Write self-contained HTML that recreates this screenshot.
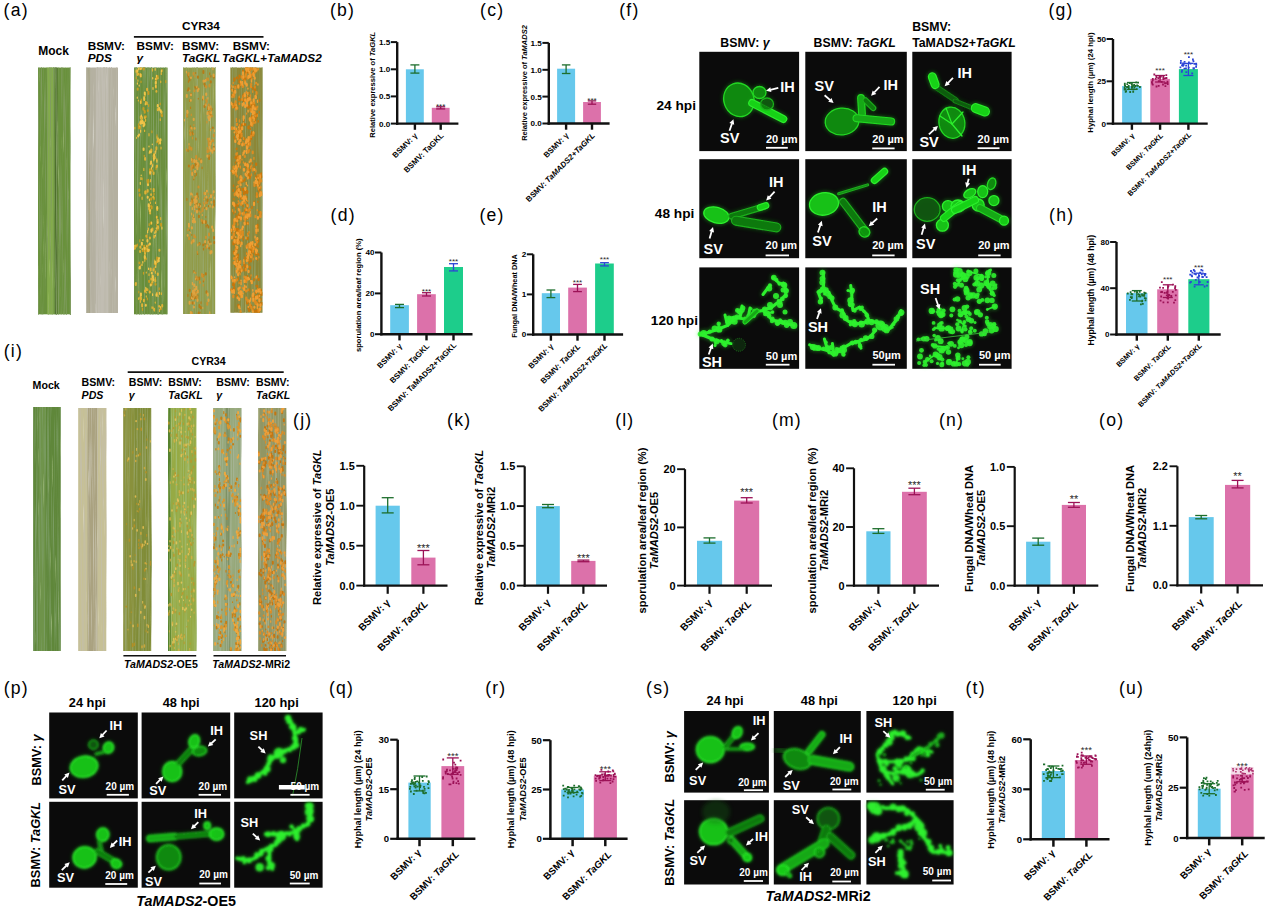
<!DOCTYPE html>
<html><head><meta charset="utf-8"><title>Figure</title>
<style>
html,body{margin:0;padding:0;background:#fff;}
body{width:1269px;height:911px;overflow:hidden;}
svg{display:block;font-family:"Liberation Sans",sans-serif;}
</style></head><body>
<svg width="1269" height="911" viewBox="0 0 1269 911">
<defs><filter id="lt1" x="0" y="0" width="1" height="1" filterUnits="objectBoundingBox"><feTurbulence type="fractalNoise" baseFrequency="1.2 0.012" numOctaves="2" seed="1"/><feColorMatrix type="matrix" values="0 0 0 0 0.216 0 0 0 0 0.333 0 0 0 0 0.118 3.40 0 0 0 -1.60"/></filter><filter id="lt2" x="0" y="0" width="1" height="1" filterUnits="objectBoundingBox"><feTurbulence type="fractalNoise" baseFrequency="1.4 0.02" numOctaves="2" seed="51"/><feColorMatrix type="matrix" values="0 0 0 0 0.627 0 0 0 0 0.765 0 0 0 0 0.373 2.60 0 0 0 -1.80"/></filter><filter id="lt3" x="0" y="0" width="1" height="1" filterUnits="objectBoundingBox"><feTurbulence type="fractalNoise" baseFrequency="2.2 0.006" numOctaves="2" seed="91"/><feColorMatrix type="matrix" values="0 0 0 0 0.216 0 0 0 0 0.333 0 0 0 0 0.118 2.40 0 0 0 -1.35"/></filter><filter id="lt4" x="0" y="0" width="1" height="1" filterUnits="objectBoundingBox"><feTurbulence type="fractalNoise" baseFrequency="1.2 0.012" numOctaves="2" seed="2"/><feColorMatrix type="matrix" values="0 0 0 0 0.490 0 0 0 0 0.471 0 0 0 0 0.392 3.40 0 0 0 -1.60"/></filter><filter id="lt5" x="0" y="0" width="1" height="1" filterUnits="objectBoundingBox"><feTurbulence type="fractalNoise" baseFrequency="1.4 0.02" numOctaves="2" seed="52"/><feColorMatrix type="matrix" values="0 0 0 0 0.863 0 0 0 0 0.855 0 0 0 0 0.816 2.60 0 0 0 -1.80"/></filter><filter id="lt6" x="0" y="0" width="1" height="1" filterUnits="objectBoundingBox"><feTurbulence type="fractalNoise" baseFrequency="2.2 0.006" numOctaves="2" seed="92"/><feColorMatrix type="matrix" values="0 0 0 0 0.490 0 0 0 0 0.471 0 0 0 0 0.392 2.40 0 0 0 -1.35"/></filter><filter id="lt7" x="0" y="0" width="1" height="1" filterUnits="objectBoundingBox"><feTurbulence type="fractalNoise" baseFrequency="1.2 0.012" numOctaves="2" seed="3"/><feColorMatrix type="matrix" values="0 0 0 0 0.227 0 0 0 0 0.353 0 0 0 0 0.129 3.40 0 0 0 -1.60"/></filter><filter id="lt8" x="0" y="0" width="1" height="1" filterUnits="objectBoundingBox"><feTurbulence type="fractalNoise" baseFrequency="1.4 0.02" numOctaves="2" seed="53"/><feColorMatrix type="matrix" values="0 0 0 0 0.608 0 0 0 0 0.745 0 0 0 0 0.373 2.60 0 0 0 -1.80"/></filter><filter id="lt9" x="0" y="0" width="1" height="1" filterUnits="objectBoundingBox"><feTurbulence type="fractalNoise" baseFrequency="2.2 0.006" numOctaves="2" seed="93"/><feColorMatrix type="matrix" values="0 0 0 0 0.227 0 0 0 0 0.353 0 0 0 0 0.129 2.40 0 0 0 -1.35"/></filter><clipPath id="lc10"><rect x="134.0" y="67.6" width="33.6" height="246.7"/></clipPath><filter id="lt11" x="0" y="0" width="1" height="1" filterUnits="objectBoundingBox"><feTurbulence type="fractalNoise" baseFrequency="1.2 0.012" numOctaves="2" seed="4"/><feColorMatrix type="matrix" values="0 0 0 0 0.314 0 0 0 0 0.392 0 0 0 0 0.157 3.40 0 0 0 -1.60"/></filter><filter id="lt12" x="0" y="0" width="1" height="1" filterUnits="objectBoundingBox"><feTurbulence type="fractalNoise" baseFrequency="1.4 0.02" numOctaves="2" seed="54"/><feColorMatrix type="matrix" values="0 0 0 0 0.725 0 0 0 0 0.765 0 0 0 0 0.451 2.60 0 0 0 -1.80"/></filter><filter id="lt13" x="0" y="0" width="1" height="1" filterUnits="objectBoundingBox"><feTurbulence type="fractalNoise" baseFrequency="2.2 0.006" numOctaves="2" seed="94"/><feColorMatrix type="matrix" values="0 0 0 0 0.314 0 0 0 0 0.392 0 0 0 0 0.157 2.40 0 0 0 -1.35"/></filter><clipPath id="lc14"><rect x="183.0" y="67.6" width="32.2" height="246.4"/></clipPath><filter id="lt15" x="0" y="0" width="1" height="1" filterUnits="objectBoundingBox"><feTurbulence type="fractalNoise" baseFrequency="1.2 0.012" numOctaves="2" seed="5"/><feColorMatrix type="matrix" values="0 0 0 0 0.275 0 0 0 0 0.333 0 0 0 0 0.118 3.40 0 0 0 -1.60"/></filter><filter id="lt16" x="0" y="0" width="1" height="1" filterUnits="objectBoundingBox"><feTurbulence type="fractalNoise" baseFrequency="1.4 0.02" numOctaves="2" seed="55"/><feColorMatrix type="matrix" values="0 0 0 0 0.725 0 0 0 0 0.745 0 0 0 0 0.431 2.60 0 0 0 -1.80"/></filter><filter id="lt17" x="0" y="0" width="1" height="1" filterUnits="objectBoundingBox"><feTurbulence type="fractalNoise" baseFrequency="2.2 0.006" numOctaves="2" seed="95"/><feColorMatrix type="matrix" values="0 0 0 0 0.275 0 0 0 0 0.333 0 0 0 0 0.118 2.40 0 0 0 -1.35"/></filter><clipPath id="lc18"><rect x="230.4" y="67.6" width="32.1" height="245.1"/></clipPath><filter id="lt19" x="0" y="0" width="1" height="1" filterUnits="objectBoundingBox"><feTurbulence type="fractalNoise" baseFrequency="1.2 0.012" numOctaves="2" seed="11"/><feColorMatrix type="matrix" values="0 0 0 0 0.196 0 0 0 0 0.333 0 0 0 0 0.125 3.40 0 0 0 -1.60"/></filter><filter id="lt20" x="0" y="0" width="1" height="1" filterUnits="objectBoundingBox"><feTurbulence type="fractalNoise" baseFrequency="1.4 0.02" numOctaves="2" seed="61"/><feColorMatrix type="matrix" values="0 0 0 0 0.627 0 0 0 0 0.745 0 0 0 0 0.431 2.60 0 0 0 -1.80"/></filter><filter id="lt21" x="0" y="0" width="1" height="1" filterUnits="objectBoundingBox"><feTurbulence type="fractalNoise" baseFrequency="2.2 0.006" numOctaves="2" seed="101"/><feColorMatrix type="matrix" values="0 0 0 0 0.196 0 0 0 0 0.333 0 0 0 0 0.125 2.40 0 0 0 -1.35"/></filter><filter id="lt22" x="0" y="0" width="1" height="1" filterUnits="objectBoundingBox"><feTurbulence type="fractalNoise" baseFrequency="1.2 0.012" numOctaves="2" seed="12"/><feColorMatrix type="matrix" values="0 0 0 0 0.549 0 0 0 0 0.518 0 0 0 0 0.392 3.40 0 0 0 -1.60"/></filter><filter id="lt23" x="0" y="0" width="1" height="1" filterUnits="objectBoundingBox"><feTurbulence type="fractalNoise" baseFrequency="1.4 0.02" numOctaves="2" seed="62"/><feColorMatrix type="matrix" values="0 0 0 0 0.882 0 0 0 0 0.863 0 0 0 0 0.765 2.60 0 0 0 -1.80"/></filter><filter id="lt24" x="0" y="0" width="1" height="1" filterUnits="objectBoundingBox"><feTurbulence type="fractalNoise" baseFrequency="2.2 0.006" numOctaves="2" seed="102"/><feColorMatrix type="matrix" values="0 0 0 0 0.549 0 0 0 0 0.518 0 0 0 0 0.392 2.40 0 0 0 -1.35"/></filter><filter id="lt25" x="0" y="0" width="1" height="1" filterUnits="objectBoundingBox"><feTurbulence type="fractalNoise" baseFrequency="1.2 0.012" numOctaves="2" seed="13"/><feColorMatrix type="matrix" values="0 0 0 0 0.314 0 0 0 0 0.373 0 0 0 0 0.137 3.40 0 0 0 -1.60"/></filter><filter id="lt26" x="0" y="0" width="1" height="1" filterUnits="objectBoundingBox"><feTurbulence type="fractalNoise" baseFrequency="1.4 0.02" numOctaves="2" seed="63"/><feColorMatrix type="matrix" values="0 0 0 0 0.706 0 0 0 0 0.725 0 0 0 0 0.353 2.60 0 0 0 -1.80"/></filter><filter id="lt27" x="0" y="0" width="1" height="1" filterUnits="objectBoundingBox"><feTurbulence type="fractalNoise" baseFrequency="2.2 0.006" numOctaves="2" seed="103"/><feColorMatrix type="matrix" values="0 0 0 0 0.314 0 0 0 0 0.373 0 0 0 0 0.137 2.40 0 0 0 -1.35"/></filter><clipPath id="lc28"><rect x="123.3" y="408.0" width="27.9" height="243.0"/></clipPath><filter id="lt29" x="0" y="0" width="1" height="1" filterUnits="objectBoundingBox"><feTurbulence type="fractalNoise" baseFrequency="1.2 0.012" numOctaves="2" seed="14"/><feColorMatrix type="matrix" values="0 0 0 0 0.353 0 0 0 0 0.490 0 0 0 0 0.157 3.40 0 0 0 -1.60"/></filter><filter id="lt30" x="0" y="0" width="1" height="1" filterUnits="objectBoundingBox"><feTurbulence type="fractalNoise" baseFrequency="1.4 0.02" numOctaves="2" seed="64"/><feColorMatrix type="matrix" values="0 0 0 0 0.745 0 0 0 0 0.784 0 0 0 0 0.392 2.60 0 0 0 -1.80"/></filter><filter id="lt31" x="0" y="0" width="1" height="1" filterUnits="objectBoundingBox"><feTurbulence type="fractalNoise" baseFrequency="2.2 0.006" numOctaves="2" seed="104"/><feColorMatrix type="matrix" values="0 0 0 0 0.353 0 0 0 0 0.490 0 0 0 0 0.157 2.40 0 0 0 -1.35"/></filter><clipPath id="lc32"><rect x="168.0" y="408.0" width="28.3" height="243.0"/></clipPath><filter id="lt33" x="0" y="0" width="1" height="1" filterUnits="objectBoundingBox"><feTurbulence type="fractalNoise" baseFrequency="1.2 0.012" numOctaves="2" seed="15"/><feColorMatrix type="matrix" values="0 0 0 0 0.373 0 0 0 0 0.451 0 0 0 0 0.294 3.40 0 0 0 -1.60"/></filter><filter id="lt34" x="0" y="0" width="1" height="1" filterUnits="objectBoundingBox"><feTurbulence type="fractalNoise" baseFrequency="1.4 0.02" numOctaves="2" seed="65"/><feColorMatrix type="matrix" values="0 0 0 0 0.765 0 0 0 0 0.804 0 0 0 0 0.667 2.60 0 0 0 -1.80"/></filter><filter id="lt35" x="0" y="0" width="1" height="1" filterUnits="objectBoundingBox"><feTurbulence type="fractalNoise" baseFrequency="2.2 0.006" numOctaves="2" seed="105"/><feColorMatrix type="matrix" values="0 0 0 0 0.373 0 0 0 0 0.451 0 0 0 0 0.294 2.40 0 0 0 -1.35"/></filter><clipPath id="lc36"><rect x="213.1" y="408.0" width="28.1" height="243.0"/></clipPath><filter id="lt37" x="0" y="0" width="1" height="1" filterUnits="objectBoundingBox"><feTurbulence type="fractalNoise" baseFrequency="1.2 0.012" numOctaves="2" seed="16"/><feColorMatrix type="matrix" values="0 0 0 0 0.373 0 0 0 0 0.412 0 0 0 0 0.235 3.40 0 0 0 -1.60"/></filter><filter id="lt38" x="0" y="0" width="1" height="1" filterUnits="objectBoundingBox"><feTurbulence type="fractalNoise" baseFrequency="1.4 0.02" numOctaves="2" seed="66"/><feColorMatrix type="matrix" values="0 0 0 0 0.745 0 0 0 0 0.765 0 0 0 0 0.549 2.60 0 0 0 -1.80"/></filter><filter id="lt39" x="0" y="0" width="1" height="1" filterUnits="objectBoundingBox"><feTurbulence type="fractalNoise" baseFrequency="2.2 0.006" numOctaves="2" seed="106"/><feColorMatrix type="matrix" values="0 0 0 0 0.373 0 0 0 0 0.412 0 0 0 0 0.235 2.40 0 0 0 -1.35"/></filter><clipPath id="lc40"><rect x="258.0" y="408.0" width="28.1" height="243.0"/></clipPath><filter id="soft" x="-20%" y="-20%" width="140%" height="140%"><feGaussianBlur stdDeviation="0.75"/></filter><filter id="glow" x="-50%" y="-50%" width="200%" height="200%"><feGaussianBlur stdDeviation="2.2"/></filter><filter id="soft2" x="-20%" y="-20%" width="140%" height="140%"><feGaussianBlur stdDeviation="1.1"/></filter></defs>
<rect x="38.0" y="67.6" width="32.5" height="246.7" fill="rgb(105,145,60)"/>
<rect x="47.1" y="67.6" width="6.5" height="246.7" fill="rgb(140,180,80)" opacity="0.75"/>
<rect x="54.9" y="67.6" width="2.6" height="246.7" fill="rgb(65,95,38)" opacity="0.7"/>
<rect x="38.0" y="67.6" width="32.5" height="246.7" filter="url(#lt1)"/>
<rect x="38.0" y="67.6" width="32.5" height="246.7" filter="url(#lt2)"/>
<rect x="38.0" y="67.6" width="32.5" height="246.7" filter="url(#lt3)"/>
<rect x="86.3" y="67.6" width="31.7" height="245.4" fill="rgb(180,176,160)"/>
<rect x="86.3" y="67.6" width="3.8" height="245.4" fill="rgb(160,158,125)" opacity="0.6"/>
<rect x="95.8" y="67.6" width="12.7" height="245.4" fill="rgb(198,195,185)" opacity="0.7"/>
<rect x="86.3" y="67.6" width="31.7" height="245.4" filter="url(#lt4)"/>
<rect x="86.3" y="67.6" width="31.7" height="245.4" filter="url(#lt5)"/>
<rect x="86.3" y="67.6" width="31.7" height="245.4" filter="url(#lt6)"/>
<rect x="134.0" y="67.6" width="33.6" height="246.7" fill="rgb(105,142,58)"/>
<rect x="134.0" y="67.6" width="33.6" height="246.7" filter="url(#lt7)"/>
<rect x="134.0" y="67.6" width="33.6" height="246.7" filter="url(#lt8)"/>
<rect x="134.0" y="67.6" width="33.6" height="246.7" filter="url(#lt9)"/>
<g clip-path="url(#lc10)">
<path d="M141.3 99.1v1.6M144.7 115.9v1.1M144.6 111.2v1.2M142.5 308.1v2.2M138.5 123.9v1.4M138.8 291.4v1.4M146.2 258.2v1.4M150.0 199.0v1.5M146.8 245.0v1.7M160.2 103.2v1.5M149.2 223.7v1.8M143.3 123.9v1.4M140.8 117.6v0.7M151.9 130.9v1.8M161.2 114.3v1.2M148.5 179.3v1.5M147.1 179.7v1.6M148.2 245.0v1.0M149.9 151.0v0.9M162.0 69.3v2.0M157.7 292.8v2.0M156.8 141.3v1.3M157.0 134.9v1.2M158.5 142.1v2.0M147.3 298.0v1.8M145.8 304.1v0.8M165.8 80.5v2.1M155.3 271.2v1.4M154.2 267.4v2.2M151.0 205.1v1.7M143.5 272.4v1.7M156.5 224.0v1.4M158.3 225.9v0.8M137.4 244.2v1.9M142.3 178.0v1.6M139.8 239.9v1.9M144.3 155.4v1.0M153.7 153.6v0.8M140.7 101.6v0.7M154.0 193.1v1.9M146.5 246.6v1.6M147.9 246.6v1.6M140.5 265.1v0.9M156.1 167.3v2.2M154.2 154.6v2.0M148.7 104.6v2.0M146.6 102.6v1.8M159.1 287.8v2.0M148.0 289.1v1.3M141.0 81.2v1.4M136.3 77.0v1.7" stroke="rgb(200,156,33)" stroke-width="1.2" stroke-linecap="round" fill="none"/>
<path d="M140.8 101.6v1.5M148.4 91.8v2.1M151.7 282.9v1.6M138.9 126.3v1.9M161.1 223.8v1.9M144.9 257.3v1.2M151.2 198.2v1.3M148.4 250.3v0.8M146.7 235.6v2.0M156.8 216.4v1.4M140.0 126.5v1.7M142.8 250.1v1.0M144.2 245.7v1.9M162.0 115.1v1.1M147.8 181.9v1.2M148.4 181.0v1.3M150.2 172.5v1.8M150.0 169.2v2.1M152.2 170.2v0.7M157.6 75.9v1.5M155.5 283.9v0.9M160.9 308.0v1.2M151.7 206.4v2.1M157.7 228.5v1.2M141.0 294.4v1.0M140.6 297.9v1.6M156.0 262.5v2.2M135.8 245.8v1.2M145.7 191.3v1.9M156.3 78.2v1.9M137.7 88.6v1.1M154.0 197.9v1.0M146.0 249.9v1.7M139.4 262.6v0.6M157.1 257.6v2.1M154.8 263.5v0.6M143.8 67.8v1.7M140.9 67.9v1.4M140.2 73.9v1.7M139.7 194.3v1.4M139.2 189.5v1.5M150.9 222.4v1.3M144.7 111.1v1.7M147.8 110.3v0.7M145.8 116.3v0.7M143.5 108.1v1.7M149.1 280.7v1.2" stroke="rgb(200,156,33)" stroke-width="2.0" stroke-linecap="round" fill="none"/>
<path d="M145.1 94.1v2.0M142.4 116.8v2.2M145.5 119.3v1.7M145.6 119.3v2.0M155.3 277.7v2.1M139.6 126.1v0.8M160.7 217.7v1.9M155.9 81.2v1.2M136.0 282.6v1.0M144.8 259.1v2.2M150.4 202.2v1.3M144.6 252.7v0.6M144.6 130.1v1.3M155.5 202.1v1.3M146.1 235.3v1.3M136.5 137.4v0.9M134.8 127.3v1.5M161.0 147.2v1.7M157.5 140.4v1.6M157.0 136.5v1.7M144.4 250.7v0.8M149.0 133.7v2.1M160.3 118.8v1.6M150.5 179.7v2.0M148.7 244.2v1.2M149.3 152.0v1.5M150.4 162.9v1.6M158.1 295.8v0.8M158.2 138.0v1.4M149.9 291.6v1.1M146.3 295.9v1.2M146.2 292.2v0.8M159.5 309.3v2.1M160.7 81.0v1.6M161.3 72.7v1.7M158.1 77.9v0.6M155.4 271.3v1.9M146.3 272.1v0.9M141.3 297.5v2.2M140.4 300.6v1.7M138.5 297.8v1.5M153.1 307.0v1.3M155.3 302.0v1.1M152.0 306.8v1.5M154.3 309.5v1.6M136.0 244.8v1.4M143.8 168.4v2.0M156.8 158.8v2.1M138.4 100.1v0.8M150.9 188.5v0.8M154.7 260.1v1.1M140.7 75.8v0.8M157.3 165.3v1.1M155.8 150.3v1.6M142.1 197.2v2.1M152.7 164.0v2.0M148.4 228.1v2.0M141.3 119.9v1.3M152.5 68.8v2.2M147.2 102.4v2.0M149.0 273.8v1.6M161.4 292.8v1.6M156.8 292.4v2.0M137.9 79.9v1.4M138.6 73.4v1.3" stroke="rgb(222,178,55)" stroke-width="1.2" stroke-linecap="round" fill="none"/>
<path d="M145.9 102.1v1.7M147.1 88.8v1.5M144.1 122.8v0.7M152.4 281.7v0.6M143.9 299.8v1.5M142.1 304.2v2.0M158.1 226.7v1.3M157.7 226.2v1.5M157.6 219.7v2.0M135.8 283.3v1.8M149.2 205.6v1.3M153.3 196.8v0.8M157.2 208.1v1.9M157.9 138.4v0.8M158.8 139.6v1.5M145.0 253.0v1.0M144.4 247.9v1.3M141.6 120.3v2.1M144.9 117.3v0.6M149.9 237.5v1.0M151.3 149.5v2.1M155.3 279.9v1.6M159.7 140.0v0.7M162.2 305.0v1.4M159.1 305.9v0.6M157.8 273.6v1.4M153.5 269.3v1.3M150.1 212.7v0.7M149.6 209.5v1.6M149.1 208.0v1.3M140.3 297.3v1.5M136.4 70.5v1.6M159.4 249.7v1.0M157.4 261.1v0.8M154.1 308.7v1.1M134.8 247.9v0.8M147.7 190.1v1.7M145.3 191.6v2.0M140.1 251.1v1.0M140.4 246.5v1.2M145.1 158.1v1.6M155.9 85.8v1.6M156.4 91.1v0.7M154.2 236.1v1.4M155.8 231.0v0.9M154.9 157.0v1.2M153.7 189.1v2.2M151.1 194.3v0.8M147.2 248.4v0.9M149.1 249.8v0.8M140.8 74.6v1.9M153.6 172.6v1.4M156.7 165.8v1.4M153.7 155.6v1.3M156.4 147.2v2.0M152.4 228.4v1.9M140.8 116.4v1.9M141.9 120.3v1.6M140.5 121.4v1.8M161.6 111.8v1.2M157.8 109.0v1.2M156.6 78.3v0.7M150.7 268.5v1.9M151.3 278.6v1.2M146.9 288.9v1.4M149.7 291.5v0.9M145.0 290.6v1.1M137.5 73.2v1.9" stroke="rgb(222,178,55)" stroke-width="2.0" stroke-linecap="round" fill="none"/>
<path d="M140.7 101.2v2.1M144.1 96.4v1.7M145.3 103.7v1.1M143.9 121.5v2.1M152.2 275.2v1.6M140.2 122.2v2.0M140.6 130.2v2.0M161.9 227.1v2.0M156.5 75.4v1.4M152.7 77.7v1.1M149.4 199.1v1.6M146.9 245.6v0.8M156.7 216.5v1.4M147.6 230.7v2.0M142.2 248.6v0.9M152.3 144.0v0.6M149.0 146.1v0.7M151.5 167.7v1.3M161.4 70.7v1.0M161.7 70.0v1.5M152.6 293.9v1.6M160.3 306.5v1.5M155.7 265.9v1.5M148.6 268.1v1.3M156.3 227.8v1.1M134.8 245.3v1.3M141.2 175.0v0.7M140.3 182.4v1.9M141.0 177.6v2.0M142.9 239.5v1.0M155.5 78.6v1.0M155.6 85.5v1.5M153.0 87.6v1.7M154.9 232.0v1.5M155.4 235.0v1.1M137.3 97.2v1.0M139.2 85.1v1.0M142.8 261.6v1.3M139.2 267.2v1.5M142.0 264.0v1.4M141.7 68.2v0.7M140.5 67.9v1.4M155.2 151.4v2.1M156.9 160.0v2.2M153.8 159.7v1.1M152.5 165.4v1.5M151.6 222.0v1.9M141.4 115.1v1.6M155.2 68.5v1.7M159.5 292.3v1.9M145.8 287.3v1.9M137.4 82.9v1.2M140.6 74.2v2.2" stroke="rgb(240,196,73)" stroke-width="1.2" stroke-linecap="round" fill="none"/>
<path d="M144.2 98.0v2.1M144.8 92.4v1.8M153.2 278.9v1.3M152.9 276.0v1.8M157.7 222.3v0.7M147.4 239.9v1.5M148.1 249.8v1.5M144.4 123.9v1.0M142.4 121.1v2.1M143.6 125.5v0.8M157.8 105.1v1.5M159.2 108.0v1.7M157.2 207.1v1.7M139.1 134.5v0.6M138.3 135.8v0.8M144.8 256.1v1.9M141.0 121.7v1.6M148.0 184.2v1.0M149.9 243.4v1.0M150.0 151.3v0.9M150.8 151.8v0.7M150.2 172.0v0.9M151.1 161.5v2.1M160.1 142.3v1.3M160.5 139.3v1.2M145.8 305.0v0.7M155.2 261.8v1.2M150.1 210.2v0.8M148.7 204.2v2.0M140.9 293.6v2.1M138.7 67.9v1.4M137.4 70.4v1.1M158.7 259.5v1.8M159.0 257.9v0.7M147.7 196.7v1.1M141.9 242.8v1.9M143.6 148.4v1.6M155.8 81.9v1.8M151.4 229.6v2.1M144.7 247.7v1.0M139.9 266.8v1.6M155.5 262.9v0.8M153.9 158.1v0.9M154.3 154.4v1.6M160.7 110.3v1.4M151.8 272.8v0.7M150.8 284.4v1.1M156.5 294.2v1.6" stroke="rgb(240,196,73)" stroke-width="2.0" stroke-linecap="round" fill="none"/>
</g>
<rect x="183.0" y="67.6" width="32.2" height="246.4" fill="rgb(145,155,72)"/>
<rect x="183.0" y="67.6" width="32.2" height="246.4" filter="url(#lt11)"/>
<rect x="183.0" y="67.6" width="32.2" height="246.4" filter="url(#lt12)"/>
<rect x="183.0" y="67.6" width="32.2" height="246.4" filter="url(#lt13)"/>
<g clip-path="url(#lc14)">
<path d="M190.5 107.1v1.4M191.7 234.5v0.7M187.5 89.8v1.1M209.2 141.2v0.7M203.4 280.3v1.6M211.2 113.3v1.2M200.9 158.8v1.6M202.1 167.0v1.6M192.5 295.3v1.2M193.7 290.8v1.9M196.4 163.7v1.1M196.4 173.2v2.1M209.9 241.7v1.0M186.9 198.3v2.0M201.0 301.8v1.7M200.1 312.2v0.6M192.9 158.8v0.6M193.7 166.7v1.2M192.0 172.6v1.7M210.4 129.1v1.4M209.0 239.0v2.1M206.1 225.1v1.9M207.5 224.6v0.8M190.4 125.8v2.2M192.0 132.1v0.8M190.1 132.0v1.4M191.8 198.0v1.1M197.3 86.9v1.9M198.3 98.3v0.6M195.8 87.7v1.4M194.9 86.3v1.3M205.8 216.6v0.7M187.6 116.3v0.7M193.8 292.9v2.1M195.9 294.3v1.6M205.9 80.3v0.6M204.8 85.1v1.4M209.1 156.2v0.7M194.5 297.1v1.7M194.3 294.0v0.8M193.7 216.9v1.2M208.5 205.5v1.2M207.2 202.0v1.1M210.6 194.3v1.4M204.4 198.6v1.3M204.8 207.7v0.8M210.9 75.5v1.6M209.7 72.8v1.8M191.9 312.0v1.5M212.0 108.6v1.5M198.0 195.9v2.1M197.7 253.5v0.9M187.9 294.4v1.9M193.7 179.0v0.8M194.9 175.6v0.9M189.5 229.8v0.8M188.5 80.8v1.4M188.5 76.2v1.1M188.1 149.5v1.9M190.0 146.3v1.9M198.3 290.3v1.1M197.8 294.9v1.4M207.7 108.1v1.3M211.3 111.3v0.6M192.6 131.8v2.0M192.8 133.7v1.3M192.4 132.6v0.9M195.9 138.0v2.0M202.7 98.3v1.6M193.9 270.6v1.8M195.7 72.7v0.6M205.0 242.2v2.0M203.5 248.1v1.9M206.2 246.4v1.7" stroke="rgb(183,123,23)" stroke-width="1.2" stroke-linecap="round" fill="none"/>
<path d="M191.0 94.1v1.5M189.9 100.2v0.9M188.6 88.2v1.7M189.5 78.8v1.6M192.9 165.6v2.1M203.4 275.0v0.9M205.8 273.3v1.1M210.0 112.1v1.9M210.1 113.7v2.0M206.5 291.2v1.7M195.6 163.6v2.1M209.2 247.9v0.7M200.8 307.0v1.4M198.7 312.6v0.8M199.5 305.1v1.9M212.8 127.4v0.6M205.8 221.3v1.7M213.9 201.0v1.8M195.6 204.0v1.4M199.1 208.4v1.5M202.6 220.7v2.2M199.7 203.9v1.8M194.7 197.6v1.0M196.6 201.9v1.9M203.4 71.0v1.9M214.2 149.9v0.7M209.4 155.4v1.0M191.3 297.1v1.6M191.9 293.5v1.8M198.9 215.8v1.4M207.6 199.5v1.4M196.8 277.6v2.0M199.3 277.5v1.7M209.1 157.0v2.1M213.8 75.7v1.7M210.8 81.3v1.3M192.8 302.3v1.4M191.7 312.6v0.7M208.6 111.8v0.7M208.2 107.3v0.8M197.2 193.6v1.2M196.4 206.8v0.9M199.6 243.1v1.4M189.7 289.8v1.2M213.7 146.8v1.2M211.2 141.7v0.7M210.5 149.4v0.8M192.4 172.8v1.7M188.9 165.5v0.9M214.1 204.5v1.3M214.0 237.1v1.4M208.4 226.2v1.4M214.3 242.0v1.1M188.0 74.6v0.8M196.1 296.6v1.7M204.5 105.8v1.1M204.4 83.8v0.6M197.9 76.5v1.2M192.3 200.1v1.9M203.3 244.4v1.2" stroke="rgb(183,123,23)" stroke-width="2.0" stroke-linecap="round" fill="none"/>
<path d="M207.2 147.6v1.2M208.2 138.3v0.8M207.5 138.3v1.4M192.1 171.7v1.1M204.0 279.9v0.7M204.1 278.3v2.0M203.3 284.5v1.5M206.9 121.3v1.6M192.9 287.5v1.5M211.5 250.5v1.2M192.6 164.5v1.8M193.9 124.5v0.8M189.9 130.2v1.3M213.1 193.6v1.8M192.9 195.9v1.1M203.2 206.7v1.1M201.0 211.4v1.5M203.4 202.1v0.9M199.1 210.7v1.1M191.3 114.0v1.5M187.7 113.4v0.6M196.6 286.3v1.7M194.8 199.5v0.8M198.6 198.0v1.1M203.3 80.5v1.7M210.1 145.4v0.7M208.2 193.3v1.2M207.2 202.3v0.8M204.7 197.2v2.0M204.1 203.7v1.0M209.1 155.4v0.7M196.9 206.9v0.9M196.5 206.9v1.1M195.5 200.6v0.7M199.1 243.1v1.5M197.3 251.4v1.7M191.2 302.2v1.3M212.0 139.0v2.0M194.0 176.9v1.5M187.8 229.0v1.7M188.3 228.6v1.2M186.5 148.8v2.0M209.4 116.5v0.9M211.3 108.5v2.0M193.7 133.5v0.8M192.2 128.2v1.8M192.5 137.3v1.5M206.2 99.4v1.5M195.7 272.4v1.1M195.6 279.0v0.9M206.7 77.9v2.1M206.6 86.3v0.8M194.9 75.3v1.8M194.8 210.1v1.5M209.4 197.3v1.1M206.1 247.3v1.3" stroke="rgb(205,145,45)" stroke-width="1.2" stroke-linecap="round" fill="none"/>
<path d="M194.4 90.4v0.9M194.3 235.3v1.6M192.4 240.6v1.9M195.2 236.7v0.9M208.7 140.8v1.5M191.4 168.7v1.0M200.0 281.7v1.4M202.0 274.0v2.1M202.7 275.0v2.1M211.9 115.8v0.8M201.2 161.5v1.0M199.1 158.6v1.0M207.3 302.7v2.0M198.5 164.3v2.1M191.6 201.0v2.1M196.2 156.1v1.8M191.5 166.3v1.8M213.7 134.6v2.0M209.0 233.4v2.2M205.9 236.8v1.2M190.5 132.9v2.1M201.7 219.9v1.0M186.9 114.8v1.8M198.5 186.4v1.2M202.5 208.8v2.1M205.8 202.3v1.1M204.4 192.7v1.4M196.4 276.5v1.5M197.7 278.5v1.2M207.5 150.4v1.9M208.9 143.3v2.1M210.7 107.4v1.4M209.7 108.0v1.6M208.7 104.6v2.2M213.1 140.0v1.2M208.8 150.1v1.4M192.2 160.1v1.8M189.1 237.5v1.8M188.6 73.0v2.1M191.4 148.1v1.7M189.5 146.8v2.1M196.0 292.1v1.1M197.2 296.6v1.3M193.9 296.6v0.8M209.4 111.9v2.1M205.6 104.0v0.9M206.6 100.1v2.1M209.5 84.7v1.7M206.1 86.0v1.5M208.1 78.4v1.7M193.6 73.1v1.4M195.2 202.0v1.6M195.6 202.1v1.5M207.3 245.1v0.7" stroke="rgb(205,145,45)" stroke-width="2.0" stroke-linecap="round" fill="none"/>
<path d="M189.8 90.0v0.9M191.3 241.8v2.0M211.1 140.5v1.6M209.2 118.5v1.4M192.9 294.1v1.7M209.7 311.9v1.8M195.6 170.7v1.0M196.0 166.7v1.3M209.7 243.5v1.4M211.1 243.0v1.1M208.1 241.3v2.0M190.7 193.1v1.9M191.6 193.0v1.6M202.8 307.5v0.7M191.5 158.7v1.6M210.6 129.0v1.7M214.4 129.8v1.8M214.2 197.2v1.6M196.9 205.2v2.2M196.0 204.7v1.5M192.3 207.7v1.9M196.8 86.2v1.5M202.3 214.5v1.0M200.6 205.7v1.1M204.6 204.9v1.0M184.5 119.4v1.4M187.8 111.9v1.2M196.7 195.5v2.0M213.3 147.9v2.0M191.5 297.0v1.6M194.3 302.0v1.9M194.9 294.5v1.6M192.4 282.4v2.0M192.9 217.5v1.6M193.4 214.8v1.7M193.9 221.3v1.8M191.6 213.0v1.8M195.5 278.4v1.1M212.9 67.6v2.1M192.0 312.5v1.1M210.8 105.9v1.4M198.7 203.8v1.8M192.3 194.0v0.9M197.7 244.2v1.6M192.9 283.7v1.2M209.2 138.0v1.9M210.5 143.3v1.8M213.7 143.8v1.8M210.1 205.0v2.1M190.3 232.3v0.7M186.5 71.3v1.5M189.0 143.5v1.4M196.1 293.2v2.1M206.0 104.5v1.3M207.9 97.5v1.5M203.4 97.4v1.9M194.2 272.0v1.0M203.3 80.0v1.9M194.4 208.7v1.0M204.2 199.2v0.9M205.3 240.8v0.7" stroke="rgb(223,163,63)" stroke-width="1.2" stroke-linecap="round" fill="none"/>
<path d="M190.8 100.1v0.7M191.0 94.6v0.6M193.7 240.1v1.4M191.0 77.4v0.6M186.8 94.9v2.0M192.2 173.0v1.9M207.5 112.2v2.1M210.1 116.2v1.2M209.3 118.8v1.4M201.3 160.5v1.4M194.3 284.4v1.6M193.0 290.7v2.2M194.8 289.2v1.1M208.5 299.4v1.7M207.7 293.5v2.0M197.7 163.1v1.2M196.4 160.5v2.0M197.2 165.5v0.6M197.4 167.7v1.6M211.5 251.3v1.5M207.3 245.6v1.1M190.4 203.0v1.9M194.3 160.0v1.9M193.7 118.8v1.2M191.4 127.7v0.9M211.0 195.2v2.1M213.7 191.2v1.0M195.4 196.6v1.8M194.3 199.7v0.7M198.5 88.7v0.7M197.7 89.9v1.4M204.1 221.0v1.8M187.3 110.7v2.0M196.3 286.8v2.1M196.6 200.3v1.8M195.0 199.8v0.8M210.7 149.6v1.2M210.4 142.6v1.4M209.5 146.6v2.0M212.4 150.8v2.0M193.0 298.5v0.6M194.0 292.0v2.1M192.8 220.8v1.2M194.1 218.7v1.8M197.0 210.7v1.7M195.0 221.2v1.1M206.4 196.5v1.0M206.5 207.9v1.3M207.4 155.4v1.4M213.6 74.5v1.8M193.9 306.8v0.8M189.6 301.7v2.1M190.9 312.1v1.8M209.6 116.0v1.9M211.2 112.1v1.5M194.6 206.2v1.0M194.7 201.2v1.7M214.3 148.4v1.1M195.0 170.9v1.4M212.7 206.6v1.0M211.4 202.0v0.8M187.7 234.9v0.9M189.0 224.7v2.1M191.9 227.2v1.4M188.9 223.7v1.9M212.1 226.4v1.4M213.1 229.6v1.4M210.5 251.4v2.1M197.8 290.4v2.0M197.5 299.5v1.4M208.4 116.5v1.6M208.7 117.8v0.6M208.7 107.1v1.9M194.6 128.0v0.7M203.1 96.6v1.5M204.9 80.7v0.7M206.2 93.4v1.7M205.6 80.1v0.8M206.9 190.7v0.7M205.3 192.9v1.4M205.1 241.2v1.1" stroke="rgb(223,163,63)" stroke-width="2.0" stroke-linecap="round" fill="none"/>
</g>
<rect x="230.4" y="67.6" width="32.1" height="245.1" fill="rgb(140,135,55)"/>
<rect x="230.4" y="67.6" width="32.1" height="245.1" filter="url(#lt15)"/>
<rect x="230.4" y="67.6" width="32.1" height="245.1" filter="url(#lt16)"/>
<rect x="230.4" y="67.6" width="32.1" height="245.1" filter="url(#lt17)"/>
<g clip-path="url(#lc18)">
<path d="M251.7 248.3v2.0M252.3 244.2v0.8M249.3 246.4v0.9M248.1 67.7v1.8M252.4 73.7v1.1M244.8 138.0v1.8M248.6 243.3v1.8M255.2 106.2v0.6M246.2 209.7v1.1M247.0 209.1v0.7M259.2 179.2v2.1M258.2 175.3v1.7M256.1 179.7v0.9M234.1 285.8v1.7M240.3 175.7v1.5M240.4 190.5v1.5M238.5 264.7v1.5M239.9 263.2v2.2M232.8 283.8v1.6M231.7 232.2v0.7M234.6 232.1v2.1M234.1 237.8v1.6M246.7 196.6v1.1M257.0 113.8v2.2M255.6 68.4v2.2M256.1 68.2v0.9M255.3 85.4v1.1M253.6 88.3v1.0M252.7 87.5v1.4M239.0 239.6v1.0M240.5 130.0v1.3M240.0 143.0v1.8M237.7 131.6v2.1M233.2 189.7v1.7M237.0 188.3v1.1M239.4 194.9v0.7M247.8 301.6v1.0M247.9 307.9v0.9M248.0 212.8v1.8M261.3 172.9v1.7M258.3 187.6v1.0M235.7 207.1v1.7M244.3 264.8v1.4M244.7 257.2v1.8M246.5 252.8v0.7M245.5 267.1v2.0M259.3 111.5v1.3M259.6 99.5v1.8M258.2 120.6v1.4M255.9 116.7v2.2M253.4 251.4v1.6M250.9 252.6v1.2M235.7 241.8v2.1M235.9 247.0v1.2M249.2 261.8v1.6M242.3 266.6v1.4M246.7 265.3v1.4M244.0 269.0v1.9M247.4 275.6v1.8M259.5 187.8v0.9M260.5 188.0v1.1M233.8 90.0v1.0M231.2 88.6v1.2M251.1 106.7v1.7M249.1 92.3v1.4M254.2 201.1v1.7M257.9 201.4v0.9M252.0 206.5v2.0M249.6 106.1v1.6M240.5 295.0v1.2M240.1 99.4v1.2M242.1 201.7v1.0M243.9 180.1v1.7M244.8 178.8v1.5M253.6 134.4v1.7M248.7 137.6v1.7M254.0 166.6v1.4M255.0 172.6v1.5M259.4 310.8v1.7M261.1 308.4v0.7M259.0 304.8v1.0M241.6 128.6v1.8M235.0 138.2v2.1M257.4 275.6v1.4M257.7 285.5v1.9M243.3 238.0v1.9M238.6 103.2v0.7M256.1 285.4v0.8M257.0 303.7v1.2M240.0 85.8v0.9M239.1 80.6v1.9M237.9 232.0v0.8M237.4 232.7v1.5M243.4 205.6v0.8M236.3 238.8v2.0M232.9 103.2v1.0M238.7 131.7v0.9M254.1 278.8v2.0M250.4 277.0v1.6M248.0 237.3v0.7M248.0 243.6v0.9M242.9 234.6v1.7M248.1 232.6v2.0M239.7 189.9v2.1M231.2 170.2v1.4M247.1 246.4v1.1M250.2 124.9v1.8M244.6 93.8v1.4M243.7 94.1v0.8M240.7 290.8v1.8M238.3 277.7v1.9M239.6 271.7v1.8M258.9 289.1v0.6M259.4 288.5v0.8M260.9 290.6v1.5M261.1 289.4v1.7M233.8 212.1v1.8M233.2 203.7v1.6M233.9 198.4v1.3M238.6 165.5v1.4M238.4 156.8v1.6M237.6 157.8v1.0M258.0 245.2v2.1M257.7 259.1v1.0M249.0 71.6v1.3M257.3 286.4v1.2M261.1 298.4v1.9M242.1 294.9v1.9M256.5 242.4v2.0M258.7 240.0v2.1M256.1 245.0v1.3M235.4 129.8v1.4M249.4 289.1v1.8M233.3 171.8v1.6M236.8 167.6v1.4M235.5 162.2v0.8M251.5 131.5v2.0M252.5 133.0v1.8M250.4 128.4v1.2M260.7 176.3v1.6M261.7 175.9v1.5M244.6 209.7v1.6M246.6 216.3v0.7M236.5 77.1v1.8M238.8 78.7v0.6M237.1 77.1v1.3M246.0 198.3v0.9M254.1 295.6v1.1M253.5 308.4v1.1M253.3 300.1v1.2M238.5 218.6v0.8M238.9 215.5v1.6M238.9 165.2v1.8M252.2 162.8v0.9M249.7 169.3v1.3M250.6 160.2v0.7M248.4 173.6v1.0M234.4 136.5v1.5M238.4 137.3v1.2M241.2 130.1v2.2M245.2 76.7v2.2M233.4 262.2v1.6M251.7 115.4v1.8M253.2 102.2v1.7M253.0 100.9v2.0M233.5 185.2v1.0M235.7 265.5v1.6M238.1 268.3v2.0M243.9 120.0v1.3M239.8 128.6v2.1M250.2 69.3v0.9M253.4 74.9v2.1M251.0 68.2v0.8M249.7 71.9v1.0M247.1 207.2v1.2M246.9 213.6v1.1M250.3 210.7v1.8" stroke="rgb(200,118,10)" stroke-width="1.4" stroke-linecap="round" fill="none"/>
<path d="M251.3 251.0v1.5M249.7 247.6v1.0M250.9 260.4v1.1M249.5 149.9v0.8M249.7 140.9v2.1M251.1 245.7v0.9M250.8 256.6v1.2M250.2 251.0v2.1M247.5 144.5v2.1M247.1 204.4v0.7M243.9 193.3v0.8M256.3 176.7v1.0M234.3 289.1v2.0M234.1 287.5v0.9M233.7 289.8v1.8M240.2 188.7v0.7M242.0 180.3v1.4M249.9 176.1v1.8M245.5 187.8v1.6M238.1 260.6v1.8M240.2 271.1v0.7M231.7 289.6v1.2M233.9 283.1v1.7M231.8 229.6v1.0M245.7 190.9v1.9M256.1 115.6v1.2M254.9 120.3v0.7M252.5 123.0v1.2M253.5 71.8v1.6M255.2 89.2v1.0M239.6 241.6v1.9M239.1 233.2v2.1M237.3 131.8v0.8M237.6 190.8v0.8M236.2 191.5v1.6M251.1 305.6v1.7M247.2 301.8v1.7M249.2 309.4v1.5M245.4 222.6v1.1M247.0 213.9v2.1M247.4 216.9v2.0M256.9 183.7v1.7M259.4 182.7v1.8M238.8 214.3v1.6M237.7 204.9v0.9M244.6 264.7v1.6M246.9 257.5v1.1M246.9 259.7v1.1M246.7 257.8v1.7M259.3 211.8v0.8M260.3 213.4v1.4M255.5 113.9v1.0M250.9 250.7v0.6M247.8 259.4v1.5M249.8 266.9v1.7M259.4 190.4v1.1M254.5 71.4v1.4M256.2 68.5v1.4M235.5 85.8v1.4M232.4 95.1v1.4M234.4 78.7v2.0M238.3 131.4v1.1M247.6 96.9v0.8M247.8 98.4v1.6M248.2 99.2v1.5M256.9 193.7v2.1M248.0 105.8v1.9M236.9 295.5v0.7M235.6 255.5v1.8M236.0 249.4v1.9M234.7 241.1v2.1M237.3 248.4v0.8M233.8 251.6v1.9M233.4 242.2v2.2M236.4 246.6v1.1M239.0 98.0v1.9M243.1 188.8v1.4M243.9 192.0v1.1M251.1 137.8v1.3M251.6 134.7v1.0M256.2 163.7v1.3M256.8 310.2v1.8M257.9 310.5v1.8M261.7 302.8v2.0M240.3 136.4v1.5M258.6 279.0v0.9M234.7 106.4v0.9M234.1 105.6v1.0M256.5 302.3v1.1M243.0 70.9v0.9M239.5 75.5v2.1M240.0 81.4v1.2M237.8 230.0v1.8M237.8 228.9v1.2M239.7 214.4v0.7M239.6 135.0v1.0M241.3 126.8v1.1M241.0 133.2v0.6M257.5 224.9v1.1M257.3 226.5v1.7M247.5 238.1v1.2M235.3 220.0v1.7M238.4 218.1v0.9M234.2 229.3v0.6M241.2 197.7v1.4M239.4 191.4v2.0M234.4 171.7v1.3M233.4 171.1v1.5M250.6 76.5v1.5M246.1 163.6v2.0M247.1 167.0v1.2M248.5 126.5v1.8M242.9 95.7v1.1M247.7 104.9v0.6M244.1 99.9v1.5M239.8 281.9v0.7M261.5 292.8v1.6M261.7 292.9v2.1M260.6 290.4v2.2M234.6 203.8v1.2M237.6 156.0v2.0M238.9 162.1v1.9M258.2 254.0v0.7M255.7 253.5v1.2M254.4 247.2v2.1M256.3 251.8v1.5M247.9 71.0v1.6M245.9 74.5v1.2M245.9 72.0v1.4M255.7 292.1v1.1M259.2 301.2v1.4M259.2 294.7v2.1M238.4 304.8v1.8M240.5 293.5v1.8M237.6 133.0v1.1M236.1 133.8v1.5M245.4 278.0v1.8M236.6 168.2v1.5M251.5 133.9v1.9M253.8 102.6v1.4M251.7 104.7v0.8M259.1 179.7v1.3M260.9 173.8v2.0M247.7 210.0v0.9M247.8 222.7v1.5M240.7 82.9v0.8M247.3 191.0v1.8M256.4 310.6v2.2M253.8 295.4v1.8M254.9 311.2v1.0M236.6 216.3v1.0M248.5 173.7v1.7M249.5 170.5v1.1M238.4 137.9v1.0M236.6 148.5v0.6M235.7 156.9v1.3M237.8 160.1v1.3M243.7 77.7v1.7M245.4 78.7v0.9M235.5 262.2v1.5M237.7 257.0v1.0M238.0 254.7v0.7M254.4 104.2v1.2M240.2 230.3v0.9M236.5 229.1v1.3M236.9 191.9v1.3M235.5 204.9v1.1M242.1 124.3v1.4M245.0 124.0v0.9M246.6 67.7v1.7" stroke="rgb(200,118,10)" stroke-width="2.2" stroke-linecap="round" fill="none"/>
<path d="M246.7 253.3v1.1M248.9 247.9v2.1M249.0 149.6v1.5M248.5 253.3v1.8M247.5 244.1v0.9M251.6 253.6v0.9M252.2 247.8v1.5M248.7 144.9v2.1M241.9 293.6v1.4M239.9 292.0v1.0M252.6 102.3v1.7M247.8 200.7v0.7M246.7 204.3v0.9M244.7 199.9v1.9M258.0 174.4v1.9M255.9 170.3v1.8M232.6 277.4v0.8M241.9 179.7v1.7M240.0 182.1v0.7M247.6 176.5v1.9M238.6 263.5v0.8M240.7 260.6v1.0M242.3 269.9v0.9M234.1 234.2v2.0M254.3 118.5v1.5M257.3 114.8v1.5M255.6 68.1v1.1M238.9 270.1v1.0M236.4 270.2v1.3M255.0 86.1v1.9M240.2 230.2v1.6M237.2 123.5v1.3M237.1 194.7v1.1M236.8 194.3v0.7M236.6 186.4v1.3M239.2 189.7v1.0M245.2 219.9v1.8M249.0 215.8v1.8M246.4 215.6v1.6M245.3 214.2v1.8M245.5 218.5v2.0M246.9 214.5v1.3M259.4 182.0v1.8M258.0 186.6v1.3M235.2 211.0v1.4M247.0 264.5v2.2M257.3 209.6v0.8M255.7 121.8v1.2M256.0 107.0v0.9M253.2 258.1v1.8M235.3 249.0v1.6M240.1 273.5v1.2M240.7 261.9v1.3M261.6 179.9v1.8M260.8 186.1v1.9M258.3 188.6v1.2M260.1 176.8v2.2M261.3 191.4v1.5M258.3 68.4v1.3M231.2 85.3v1.7M233.2 82.5v1.0M233.9 95.7v1.8M233.4 91.9v1.6M236.4 120.2v1.2M239.5 124.7v1.1M236.4 118.5v1.4M239.5 120.0v1.9M251.9 118.3v2.2M254.6 114.7v1.4M249.1 97.4v1.6M250.4 95.0v1.6M247.4 95.0v1.7M246.8 99.9v1.1M256.9 192.7v1.8M247.1 104.9v1.7M246.5 113.1v1.0M240.5 287.1v0.6M239.1 282.8v0.8M236.9 242.1v0.8M239.3 96.2v1.2M236.7 105.6v1.9M239.6 103.0v1.3M245.6 173.8v1.5M253.9 157.5v1.7M258.6 310.7v2.0M237.8 143.0v0.7M240.9 235.7v1.2M235.7 109.4v0.6M242.7 77.6v1.8M239.3 241.2v2.2M239.0 235.5v1.2M240.9 231.2v0.8M238.3 200.7v0.7M241.1 203.0v1.9M243.1 212.7v1.8M235.8 239.7v1.4M242.9 141.9v1.3M242.0 133.2v0.6M240.8 133.1v0.8M243.5 137.4v2.0M247.5 290.2v0.7M251.1 275.0v0.9M249.1 231.4v1.5M248.5 235.3v0.6M247.7 233.6v0.7M233.9 226.4v1.8M237.4 221.1v1.0M237.8 223.8v1.2M238.2 203.4v0.8M239.1 202.2v1.5M238.7 195.8v1.9M247.6 246.4v0.7M249.8 246.4v1.4M251.6 254.2v1.9M250.4 255.4v1.1M252.7 91.0v1.2M250.9 83.8v1.9M251.5 79.1v1.0M251.1 83.4v1.8M251.5 83.8v0.9M244.1 93.7v1.6M246.4 91.4v1.9M242.9 96.0v1.4M232.6 209.8v1.7M239.5 156.4v2.0M237.2 152.6v1.3M236.6 160.3v0.8M258.9 256.8v1.0M253.5 246.1v0.7M246.4 73.6v0.8M257.7 288.7v1.1M236.7 132.0v2.0M248.1 289.0v1.4M237.1 175.4v1.5M233.0 172.3v1.8M257.6 106.2v1.1M260.2 181.1v0.9M258.2 177.2v1.4M240.6 83.4v1.9M245.5 195.2v1.3M240.9 219.5v1.4M242.0 159.2v0.7M243.5 162.0v1.1M239.2 158.3v1.3M240.3 166.2v1.9M251.4 174.0v1.7M251.6 165.1v1.1M248.3 165.4v1.0M250.7 166.3v2.2M239.2 161.0v1.1M242.0 81.6v1.0M234.7 261.3v1.1M237.4 263.1v1.0M237.4 258.7v0.9M250.6 103.3v1.6M239.7 230.8v0.8M238.9 232.2v2.0M237.4 189.6v1.3M237.5 255.8v0.8M235.6 260.5v0.7M238.9 262.5v0.7M239.0 268.9v1.1M246.4 72.7v1.5M251.9 78.4v1.1M250.4 69.8v0.8M250.3 67.7v1.8M248.2 209.7v1.5" stroke="rgb(222,140,32)" stroke-width="1.4" stroke-linecap="round" fill="none"/>
<path d="M250.9 247.5v0.6M252.1 67.6v2.0M245.9 67.6v2.1M250.0 143.1v1.9M246.9 145.5v0.8M247.2 140.6v1.4M244.8 156.0v1.0M248.4 150.8v1.7M249.3 137.1v2.2M240.9 295.6v1.4M241.0 291.8v1.7M254.0 102.6v0.8M245.3 202.4v0.7M247.9 205.1v1.2M254.5 183.9v2.1M232.7 279.9v1.1M236.8 279.3v1.3M234.7 280.4v2.1M238.6 181.8v1.4M240.2 180.5v2.0M240.2 177.1v0.8M238.6 266.9v0.6M238.4 266.6v1.3M239.5 262.3v1.6M231.2 289.3v0.9M233.3 295.5v1.7M232.4 236.5v1.3M233.1 225.5v1.7M233.7 233.7v1.2M253.8 122.6v0.6M255.0 70.4v2.1M252.9 73.9v0.6M256.5 92.0v2.1M239.4 230.5v0.8M242.7 231.3v2.0M238.0 239.5v0.7M239.3 129.3v0.6M239.4 127.1v1.2M237.0 190.6v1.5M234.7 193.7v1.6M251.5 307.0v1.3M247.8 299.8v1.8M246.3 297.6v2.0M250.0 304.1v2.0M247.0 214.2v1.9M260.1 174.6v1.8M244.0 262.4v0.8M260.1 215.2v1.7M255.5 215.9v1.3M260.5 215.3v1.7M260.6 212.1v1.6M253.1 117.4v1.0M256.5 107.8v1.6M255.5 115.5v0.6M252.0 255.0v0.7M236.5 247.5v1.2M248.2 258.4v2.0M241.3 268.7v1.3M246.0 268.8v1.6M255.4 70.1v1.8M235.3 86.8v1.7M236.8 123.9v1.1M250.8 117.7v1.8M256.9 196.0v1.0M250.5 99.7v0.8M249.2 98.0v1.0M235.1 241.1v1.7M251.1 135.9v1.1M252.7 151.7v1.5M252.8 168.6v2.0M258.5 309.0v2.1M260.3 308.3v0.7M256.3 277.4v0.9M242.7 234.1v1.1M237.2 107.5v1.3M234.8 103.8v1.7M235.6 101.4v2.1M232.9 105.8v1.7M255.5 301.8v2.0M252.7 295.5v2.0M243.1 85.9v0.8M242.7 85.9v1.0M234.9 228.7v1.8M237.4 239.9v0.7M236.5 247.3v0.8M234.2 94.1v2.0M241.6 135.2v1.3M244.1 143.8v1.0M256.3 232.5v0.6M247.3 277.8v2.2M246.2 280.4v1.8M246.6 245.8v1.5M234.2 219.5v2.2M234.3 219.5v2.2M236.4 218.6v2.1M234.3 222.6v1.8M241.1 203.5v1.3M233.5 166.7v1.6M233.9 171.6v1.7M251.7 255.7v1.6M256.1 82.8v0.7M251.1 86.4v0.8M242.2 98.8v1.1M245.3 98.6v2.0M258.7 289.3v1.5M236.4 153.6v1.1M238.9 156.7v2.1M256.1 239.3v1.3M252.9 249.6v2.1M245.7 74.4v2.2M257.6 295.8v1.3M258.2 296.5v1.7M256.6 302.7v1.3M240.6 311.0v1.4M257.0 241.7v1.0M236.1 129.6v2.2M232.1 127.4v1.8M246.1 290.5v1.1M243.0 287.9v0.6M244.4 276.7v0.9M236.0 173.5v1.3M236.2 165.7v0.7M251.7 121.2v0.6M251.5 123.6v1.1M252.2 124.8v1.0M253.7 132.5v1.3M253.1 133.2v2.1M254.7 107.6v1.8M260.2 178.9v2.0M245.7 208.5v1.3M238.3 87.3v0.7M252.5 309.6v0.7M255.1 300.3v2.1M243.0 213.2v1.5M244.4 217.4v1.9M240.0 211.9v1.8M239.7 160.8v1.2M238.2 157.4v0.7M247.9 164.5v1.8M247.8 168.7v1.6M237.4 131.1v0.7M239.7 160.6v2.1M241.8 76.4v1.3M244.8 80.7v0.7M235.5 257.8v1.5M234.0 258.1v0.9M235.6 253.0v1.7M251.9 111.5v0.6M250.5 109.0v2.0M254.8 112.1v1.1M240.4 232.1v2.1M240.7 236.9v1.3M237.3 269.5v1.0M250.8 74.6v2.1M247.8 77.4v1.2M250.1 68.0v1.2M243.8 212.6v1.6M249.6 209.1v1.1M250.3 214.6v1.6" stroke="rgb(222,140,32)" stroke-width="2.2" stroke-linecap="round" fill="none"/>
<path d="M250.9 256.7v0.9M246.7 151.6v1.8M247.0 149.4v0.7M248.4 142.9v1.6M246.9 146.2v1.8M252.4 245.6v0.9M246.7 139.0v1.2M246.2 150.6v1.1M243.0 293.1v0.6M256.2 96.2v2.0M246.5 198.5v1.7M243.5 198.3v0.6M244.6 197.6v1.0M254.1 182.0v0.7M256.4 178.9v1.8M234.6 276.9v0.7M232.9 279.9v1.8M240.9 175.7v2.0M241.9 177.3v1.6M248.7 171.5v1.0M246.3 182.5v1.9M245.3 173.2v1.7M237.3 260.6v1.0M234.2 291.5v1.9M233.5 226.6v1.5M233.5 228.1v1.7M234.2 231.1v0.7M234.4 226.1v1.4M245.1 196.9v1.3M246.1 198.5v1.1M245.5 189.1v1.2M254.0 119.8v1.0M257.5 100.1v2.1M254.2 117.9v0.8M255.4 68.1v0.9M236.5 270.5v1.8M237.0 271.2v1.8M239.1 272.4v0.6M257.9 83.9v1.1M241.9 128.0v1.5M238.5 127.0v0.6M239.0 194.2v0.7M248.3 306.4v0.8M246.8 209.5v0.9M247.5 216.8v1.7M255.7 177.8v0.6M257.8 218.2v0.7M254.1 111.4v2.0M235.9 245.4v0.9M247.2 256.2v2.1M241.5 270.1v1.6M243.8 259.7v1.8M239.4 264.9v1.2M238.5 263.8v2.1M239.5 261.4v1.5M246.0 276.8v2.1M259.3 187.2v0.8M254.4 69.6v1.2M255.9 70.5v1.0M256.9 68.9v2.0M232.9 94.5v0.7M233.0 86.1v1.3M254.1 111.9v0.8M251.4 111.5v1.0M253.1 116.5v1.6M248.5 98.7v1.5M247.9 88.1v0.9M248.1 110.1v1.9M238.5 291.9v1.7M236.2 104.7v1.0M242.2 197.8v1.1M247.8 176.9v2.0M247.5 185.2v0.6M248.4 177.2v0.8M253.4 131.8v1.3M257.3 306.8v1.7M256.3 276.2v1.3M240.7 244.9v1.7M239.3 234.9v0.7M232.1 103.4v1.8M252.8 289.7v1.4M238.5 235.1v1.3M238.5 208.4v1.5M235.8 236.7v0.7M237.3 247.4v1.2M231.2 102.2v2.0M232.1 96.6v0.7M232.2 89.3v1.9M258.0 229.1v2.1M250.8 280.5v0.7M245.9 236.9v1.9M237.0 167.0v2.1M233.9 170.9v2.1M246.8 247.3v0.9M250.4 251.3v1.9M253.5 72.7v0.8M251.5 80.0v2.0M247.3 172.2v1.6M248.1 165.6v1.5M245.5 163.4v1.2M251.1 122.5v1.7M250.3 120.4v1.2M247.8 92.4v2.1M239.6 287.2v1.5M240.1 290.7v1.8M241.1 282.4v2.1M241.1 280.1v1.0M260.0 288.8v2.1M259.5 295.4v1.0M239.8 158.3v0.8M236.5 167.2v1.1M253.9 247.3v1.9M246.8 68.1v1.0M246.6 69.9v1.3M240.1 308.3v0.8M255.1 236.2v1.7M236.5 128.2v1.3M234.3 132.0v0.8M244.7 285.2v2.1M246.2 286.2v1.4M249.3 278.6v0.9M234.4 168.4v0.9M260.2 175.8v2.0M258.1 177.6v0.9M247.2 214.4v2.2M247.3 215.6v1.3M247.8 222.9v1.0M240.6 81.3v1.5M253.1 300.0v1.6M250.6 298.3v2.0M238.4 216.4v1.5M242.1 213.0v0.9M239.7 216.8v1.3M243.5 168.7v1.8M238.5 164.9v1.8M249.3 161.3v1.3M239.2 139.9v1.8M242.9 154.4v0.9M242.3 81.5v0.9M244.9 92.7v2.2M236.3 256.2v1.0M240.9 229.8v0.7M237.4 240.6v2.0M238.0 185.4v1.6M238.3 194.2v1.7M237.0 266.4v1.6M237.1 270.7v1.2M243.3 123.0v1.7M243.4 118.7v1.5M250.3 211.7v1.6M247.3 205.6v0.8" stroke="rgb(240,158,50)" stroke-width="1.4" stroke-linecap="round" fill="none"/>
<path d="M250.8 242.6v0.7M249.1 251.0v0.9M248.9 251.4v1.2M248.6 75.8v2.0M247.0 147.4v0.8M244.5 151.1v0.7M243.6 152.5v1.2M248.7 253.4v2.2M250.4 244.2v1.1M246.5 140.0v2.1M248.5 137.3v1.3M246.0 141.9v1.2M248.4 139.3v1.8M240.2 293.5v1.0M242.0 295.5v1.6M255.5 95.9v2.0M257.8 185.0v0.7M255.8 180.8v2.1M234.7 279.9v0.8M231.2 276.5v1.7M241.0 179.6v0.9M232.2 290.8v1.8M233.8 290.2v2.0M231.7 237.2v1.1M231.2 229.7v1.3M243.9 200.1v0.9M244.0 198.1v1.8M242.5 201.8v1.8M237.8 268.6v0.7M241.6 242.5v1.7M237.1 232.5v0.7M241.2 236.3v0.7M237.9 134.8v1.6M238.9 131.8v1.1M242.3 144.1v1.3M237.7 194.5v1.4M238.7 189.0v1.8M249.7 300.7v1.1M245.9 216.4v1.1M257.3 181.7v1.9M234.9 218.9v1.8M246.9 260.2v0.9M247.3 266.2v1.0M257.9 217.0v1.4M255.0 108.7v0.8M252.5 242.2v1.9M236.0 251.1v0.6M236.4 250.8v1.3M237.2 246.8v1.0M248.0 255.8v2.1M248.3 277.8v1.5M244.5 280.4v1.7M259.8 194.2v2.0M260.4 192.4v1.2M261.7 193.3v1.8M254.1 68.1v0.9M255.1 69.5v1.3M238.3 85.4v1.5M235.2 90.9v1.8M252.5 110.0v1.7M252.8 106.5v2.1M252.5 108.8v1.1M253.1 112.1v1.8M248.0 98.9v1.7M249.7 98.1v1.4M247.0 104.8v0.8M254.0 202.9v2.2M247.0 101.7v1.9M239.3 298.6v0.6M237.7 297.3v0.9M241.6 291.6v2.2M237.8 242.1v1.7M242.7 103.8v1.8M240.6 184.4v0.8M240.5 191.8v2.0M240.7 195.5v1.0M245.2 187.8v1.6M246.5 174.9v0.9M254.4 169.0v1.0M257.6 304.4v1.4M259.9 308.7v1.8M259.4 299.3v2.0M237.1 135.3v1.9M234.3 127.6v1.4M235.3 140.5v1.4M238.5 237.3v1.0M236.3 107.7v0.7M253.2 293.4v1.6M258.6 290.1v1.5M256.2 290.6v1.2M256.0 296.8v2.0M252.9 294.0v2.0M243.0 72.4v1.9M243.4 76.1v1.6M245.3 82.3v1.4M242.2 82.7v2.1M242.9 226.6v0.8M238.2 233.4v1.1M242.4 228.4v0.8M237.7 239.7v1.0M234.5 240.0v2.0M239.2 141.8v2.1M242.2 127.3v1.9M240.5 139.8v1.1M240.4 130.8v1.0M256.2 225.9v1.2M257.3 238.1v1.0M248.6 270.9v1.2M251.8 281.1v2.1M249.4 244.1v2.0M237.2 220.6v0.6M249.6 246.4v0.8M253.7 74.1v1.9M254.7 77.7v1.0M247.5 164.4v1.9M247.4 171.7v0.8M244.1 169.1v1.5M245.2 163.7v1.5M249.8 118.3v1.8M252.9 113.9v0.6M251.5 123.2v1.8M245.2 105.4v1.7M245.3 99.8v0.9M243.7 103.0v1.0M240.6 291.8v2.1M244.2 288.3v1.6M238.5 288.3v1.5M238.1 274.0v1.3M260.4 304.3v1.8M260.6 291.8v1.2M234.2 204.6v1.2M234.0 203.1v1.9M233.1 202.5v1.7M238.4 163.2v0.8M256.2 258.0v0.8M256.4 251.6v1.4M256.9 250.2v1.0M246.1 67.8v1.6M248.3 69.4v1.7M248.2 67.8v1.6M256.5 291.2v1.1M257.0 296.7v1.7M239.2 306.3v1.7M239.2 299.3v0.8M256.0 249.3v2.0M255.2 244.0v1.0M256.3 229.3v2.0M235.7 166.4v1.6M232.8 170.5v1.5M236.1 170.0v1.8M253.7 99.4v1.7M244.7 223.1v1.4M244.5 222.8v0.7M245.4 196.9v1.3M243.7 196.4v1.0M252.8 311.3v0.8M253.3 298.5v1.3M254.4 306.9v0.8M239.2 209.6v1.0M241.0 217.6v1.3M237.7 159.9v0.8M240.1 156.1v2.1M250.7 159.6v1.9M237.7 137.9v1.4M244.9 95.0v1.3M246.7 84.0v1.7M234.7 252.8v1.4M236.4 263.7v1.6M253.2 105.9v1.2M253.3 106.5v1.2M251.2 102.3v0.9M236.5 192.3v2.1M237.2 193.0v1.1M234.6 261.8v2.1M240.2 266.2v1.3M238.7 266.6v0.8M243.7 116.4v1.9M249.6 72.1v1.5M249.8 74.9v1.9M249.0 214.4v1.6" stroke="rgb(240,158,50)" stroke-width="2.2" stroke-linecap="round" fill="none"/>
</g>
<rect x="33.1" y="407.0" width="27.6" height="244.0" fill="rgb(95,135,58)"/>
<rect x="38.6" y="407.0" width="6.9" height="244.0" fill="rgb(125,160,90)" opacity="0.5"/>
<rect x="33.1" y="407.0" width="27.6" height="244.0" filter="url(#lt19)"/>
<rect x="33.1" y="407.0" width="27.6" height="244.0" filter="url(#lt20)"/>
<rect x="33.1" y="407.0" width="27.6" height="244.0" filter="url(#lt21)"/>
<rect x="78.2" y="408.0" width="28.1" height="243.0" fill="rgb(198,192,150)"/>
<rect x="87.5" y="408.0" width="9.8" height="243.0" fill="rgb(160,152,120)" opacity="0.75"/>
<rect x="78.2" y="408.0" width="28.1" height="243.0" filter="url(#lt22)"/>
<rect x="78.2" y="408.0" width="28.1" height="243.0" filter="url(#lt23)"/>
<rect x="78.2" y="408.0" width="28.1" height="243.0" filter="url(#lt24)"/>
<rect x="123.3" y="408.0" width="27.9" height="243.0" fill="rgb(128,140,55)"/>
<rect x="123.3" y="408.0" width="11.2" height="243.0" fill="rgb(145,150,65)" opacity="0.5"/>
<rect x="123.3" y="408.0" width="27.9" height="243.0" filter="url(#lt25)"/>
<rect x="123.3" y="408.0" width="27.9" height="243.0" filter="url(#lt26)"/>
<rect x="123.3" y="408.0" width="27.9" height="243.0" filter="url(#lt27)"/>
<g clip-path="url(#lc28)">
<path d="M133.0 568.7v0.7M130.8 621.9v1.7M131.3 611.9v0.8M138.6 543.6v2.0M132.4 643.3v1.8M135.2 554.7v0.8M144.0 604.3v1.5M126.5 523.7v0.8M146.1 630.0v1.8M146.6 534.5v1.8M150.4 561.3v1.7M138.3 511.1v1.0M136.7 503.3v1.0M124.1 411.6v1.7M132.9 451.5v1.9M140.3 413.7v1.3M146.9 438.8v1.5" stroke="rgb(178,143,38)" stroke-width="1.0" stroke-linecap="round" fill="none"/>
<path d="M133.0 567.2v0.8M134.4 587.1v1.7M150.4 563.9v1.1M144.8 569.5v1.4M138.9 539.7v1.4M146.0 471.9v0.9M139.1 547.4v1.1M134.4 643.4v1.9M126.2 606.2v0.7M141.2 428.2v2.0M137.8 624.2v2.2M132.6 644.9v1.5M144.0 578.4v0.8M139.6 508.5v1.3M141.0 544.0v1.9M134.4 525.1v1.8M139.9 453.3v1.8M144.4 418.2v1.4M129.4 539.4v1.7" stroke="rgb(178,143,38)" stroke-width="1.6" stroke-linecap="round" fill="none"/>
<path d="M147.8 631.6v1.2M148.5 625.1v1.5M145.9 568.2v0.8M146.6 563.3v1.0M137.2 510.8v0.6M128.0 629.2v0.8M139.7 500.5v2.0M125.8 408.0v2.0M143.4 414.4v1.7" stroke="rgb(200,165,60)" stroke-width="1.0" stroke-linecap="round" fill="none"/>
<path d="M142.0 646.0v1.8M144.4 645.0v2.0M139.3 588.8v1.6M136.5 455.5v1.0M145.3 562.8v0.8M140.9 532.6v1.7M144.5 467.5v1.3M134.1 560.8v0.8M135.7 460.5v0.9M137.4 428.8v0.7M140.8 418.6v1.2M127.8 459.9v1.1M141.8 546.8v1.1M138.6 504.0v0.8M124.4 415.1v0.7M146.5 447.1v1.0" stroke="rgb(200,165,60)" stroke-width="1.6" stroke-linecap="round" fill="none"/>
<path d="M132.6 564.0v1.7M142.7 601.4v1.8M131.3 563.9v2.0M131.2 560.6v2.2M136.6 448.4v2.0M147.0 624.3v1.7M136.2 561.0v1.5M144.2 544.4v1.1M132.6 527.7v1.5M134.2 519.3v1.6M148.3 625.9v1.7M146.1 568.4v0.7M145.6 578.6v0.8M138.3 454.7v1.3M150.4 440.7v1.4" stroke="rgb(218,183,78)" stroke-width="1.0" stroke-linecap="round" fill="none"/>
<path d="M135.7 594.6v1.7M133.1 625.4v1.2M144.5 616.6v2.0M144.9 606.7v1.4M130.2 555.9v0.9M145.8 478.9v1.3M136.1 420.7v0.7M140.8 611.6v1.5M145.2 606.0v0.9M147.5 543.5v0.6M145.2 541.0v2.1M128.6 458.1v1.2M143.2 526.7v1.6M142.5 544.4v1.8M137.1 529.7v1.2M135.5 496.0v0.9" stroke="rgb(218,183,78)" stroke-width="1.6" stroke-linecap="round" fill="none"/>
</g>
<rect x="168.0" y="408.0" width="28.3" height="243.0" fill="rgb(150,170,68)"/>
<rect x="168.0" y="408.0" width="2.8" height="243.0" fill="rgb(70,120,40)" opacity="0.8"/>
<rect x="168.0" y="408.0" width="28.3" height="243.0" filter="url(#lt29)"/>
<rect x="168.0" y="408.0" width="28.3" height="243.0" filter="url(#lt30)"/>
<rect x="168.0" y="408.0" width="28.3" height="243.0" filter="url(#lt31)"/>
<g clip-path="url(#lc32)">
<path d="M190.7 527.0v1.3M184.5 407.9v2.1M189.7 408.2v1.6M189.4 540.5v1.6M171.8 578.9v0.8M184.3 634.6v2.1M184.2 641.9v1.9M173.4 503.1v0.9M188.4 429.4v0.9M190.0 548.8v1.6M180.0 604.7v0.7M192.1 481.6v2.1M188.2 586.4v1.5M172.9 531.7v2.0M174.0 536.4v1.4M193.7 538.4v0.9M193.2 542.5v0.6M189.2 567.8v1.1M190.3 515.0v1.4M179.3 424.0v1.3M177.8 416.4v1.8M185.6 604.0v1.9M171.0 434.3v2.1M191.1 577.7v1.3M183.2 416.6v1.9M181.2 522.0v1.4M191.3 591.2v1.3M188.0 472.0v0.7M188.9 479.7v2.2M184.9 508.5v1.8M173.4 644.7v1.0M186.5 436.8v0.6M189.7 482.5v0.9M193.2 599.7v2.0M182.0 593.8v1.3M186.9 626.3v0.8M178.0 530.1v1.1M175.3 625.7v0.6M183.5 423.2v1.5M174.7 416.5v1.7M175.7 410.6v1.1M175.2 611.3v1.6M176.9 639.1v1.6M173.9 573.7v2.2M186.5 511.8v1.2M175.4 573.1v0.9M190.7 480.3v1.2M179.8 505.1v1.6M185.0 611.0v1.1M185.5 451.2v1.3M192.6 454.9v1.3M191.6 537.0v0.7M178.9 423.4v0.6M190.1 643.0v1.2M192.9 589.6v2.2M175.7 479.0v1.9M193.9 447.0v1.4M189.1 420.2v1.9M191.4 598.1v1.0M192.9 597.9v1.0" stroke="rgb(183,153,48)" stroke-width="1.0" stroke-linecap="round" fill="none"/>
<path d="M188.8 530.0v1.9M187.4 525.8v1.0M195.2 452.1v2.0M190.8 542.9v1.9M173.6 427.7v0.7M192.5 578.4v1.2M195.5 458.9v2.0M173.6 541.6v2.0M175.7 475.7v0.7M178.0 475.1v0.9M182.7 592.8v1.1M185.0 508.9v0.9M180.2 422.6v1.1M168.8 422.4v1.6M178.8 503.2v1.2M176.5 434.2v2.0M181.2 492.0v2.0M170.8 547.2v1.5M192.7 497.9v1.6M195.3 494.3v1.6M193.6 582.9v2.0M185.7 556.4v1.8M192.6 477.8v1.4M194.7 561.5v1.5M178.5 553.4v0.8M172.8 643.0v1.6M188.0 436.8v1.8M188.8 427.9v1.2M187.5 456.4v1.4M191.1 460.5v1.8M184.6 457.8v1.8M182.4 449.2v1.9M186.0 446.0v1.2M180.7 440.1v0.9M188.6 479.3v0.9M176.5 510.4v0.9M193.0 416.3v1.4M173.9 554.4v1.9M175.2 472.8v2.1M173.3 611.2v1.7M179.4 612.7v1.7M176.9 640.3v0.6M177.3 564.4v1.3M193.5 466.3v1.6M191.1 460.3v1.8M192.5 434.0v0.9M178.6 549.8v2.1M168.8 613.1v2.0M175.8 638.2v1.0M187.0 596.2v2.0M191.6 544.4v0.8M175.8 636.4v1.2M189.2 423.1v1.6M188.0 491.7v0.6M194.1 563.9v2.1M182.0 435.6v1.3M181.1 574.1v1.8M191.6 469.7v1.7M171.2 593.6v1.8" stroke="rgb(183,153,48)" stroke-width="1.6" stroke-linecap="round" fill="none"/>
<path d="M178.3 559.0v0.7M170.3 559.1v2.0M191.6 425.2v1.9M181.7 420.6v0.7M190.0 408.3v1.5M192.3 428.3v0.6M190.0 428.2v1.1M174.1 580.9v2.0M188.6 475.9v0.8M190.8 479.2v1.3M179.4 493.8v2.0M190.7 542.4v0.9M188.3 568.3v0.6M179.0 587.6v1.0M168.8 545.6v1.1M191.6 582.1v0.8M177.8 501.0v2.2M183.9 476.9v1.1M185.4 588.4v1.3M188.0 506.2v1.5M174.4 647.3v1.4M169.4 630.7v1.3M185.7 435.8v1.4M191.2 595.2v1.3M187.8 461.3v1.7M183.0 588.2v2.0M184.3 635.8v1.7M188.1 620.1v1.2M178.4 643.1v1.6M188.7 604.8v1.0M181.2 480.2v0.6M173.1 468.5v1.1M185.2 563.5v1.0M175.5 609.4v0.7M189.4 519.2v2.1M179.3 571.3v2.1M188.3 483.2v1.0M190.7 488.4v1.7M170.3 481.8v1.7M194.1 612.0v1.2M189.8 443.8v1.9M191.4 437.9v1.3M169.3 610.5v2.0M171.8 429.8v1.8M178.7 423.3v1.2M189.7 648.4v2.1M182.0 550.5v2.2M171.0 604.4v1.7M190.5 529.1v1.4M179.4 426.7v2.1" stroke="rgb(205,175,70)" stroke-width="1.0" stroke-linecap="round" fill="none"/>
<path d="M174.2 579.5v1.2M173.6 575.1v1.9M180.0 572.1v2.0M191.9 450.9v1.6M178.7 649.4v1.2M181.4 634.2v1.2M170.1 517.7v2.2M189.4 550.7v1.7M179.8 559.9v1.5M183.9 484.1v0.7M183.4 505.8v1.1M170.0 540.7v1.1M176.4 425.2v0.7M188.4 490.1v0.9M184.9 414.6v0.6M174.4 439.7v2.2M179.4 490.7v2.1M172.4 535.9v0.7M185.9 555.9v2.1M177.2 507.1v0.9M178.0 636.6v1.4M193.8 589.3v1.4M176.6 484.2v0.6M179.9 541.0v0.8M178.5 589.8v1.5M191.1 430.0v2.1M185.0 458.2v2.1M184.1 444.4v1.7M174.1 584.7v1.7M192.3 488.6v1.4M176.3 502.7v1.9M180.3 518.9v0.9M182.1 637.6v1.7M180.4 636.0v1.8M192.0 534.5v1.3M175.6 609.5v0.9M172.5 622.4v2.1M193.9 489.6v1.3M173.4 608.1v0.9M184.1 511.5v1.6M173.4 527.4v1.3M175.4 530.6v1.5M177.0 507.1v1.4M191.5 425.7v1.0M180.0 524.8v2.0M191.3 472.1v1.7M182.9 454.1v0.7M177.0 548.3v0.7M177.5 437.7v0.6M170.1 645.5v1.1M190.9 604.0v0.6M169.5 430.1v1.6M191.0 530.4v1.2M185.5 559.9v1.2M193.5 599.0v1.9M191.6 556.6v1.8M195.5 448.0v1.0M188.4 423.1v0.8M190.1 418.6v1.3M170.0 603.5v1.4M188.1 536.3v0.9M189.8 529.7v1.3M179.8 522.9v0.9" stroke="rgb(205,175,70)" stroke-width="1.6" stroke-linecap="round" fill="none"/>
<path d="M172.4 574.6v2.2M174.5 571.1v1.5M193.8 424.9v1.5M189.9 474.3v1.7M181.1 510.9v2.2M170.7 546.4v1.8M181.6 409.4v2.0M178.7 429.9v0.6M178.5 635.2v0.9M177.0 639.5v1.1M188.8 470.4v0.9M188.3 484.3v0.8M176.6 439.5v1.5M172.7 641.6v1.7M179.4 600.3v1.9M188.0 443.6v1.3M194.3 481.7v1.5M185.5 452.8v1.5M185.3 431.5v0.6M187.1 423.2v2.1M190.2 481.6v0.8M183.7 588.5v1.4M175.7 631.5v0.7M190.2 408.3v1.4M173.1 549.2v2.1M175.4 474.6v1.2M188.9 574.1v2.1M187.1 522.3v1.8M174.3 528.0v1.1M183.5 599.9v0.7M181.7 596.5v1.2M181.4 530.7v1.9M190.5 616.4v0.8M168.8 604.5v1.7M187.3 544.0v0.9M181.2 427.2v2.1M185.4 565.4v2.1M194.0 590.5v1.6M172.4 624.0v1.8M175.6 638.2v1.3M173.1 481.1v1.8M184.1 449.0v0.8M181.9 546.2v1.0M195.1 436.5v0.7M184.6 514.0v1.2M189.4 600.2v1.0" stroke="rgb(223,193,88)" stroke-width="1.0" stroke-linecap="round" fill="none"/>
<path d="M171.4 576.8v1.1M180.0 565.4v0.9M181.1 431.4v1.4M178.0 582.5v2.1M172.0 510.0v1.0M179.9 553.4v0.8M184.9 609.3v1.1M183.1 492.1v1.4M184.4 502.6v0.8M191.2 512.0v2.2M194.0 505.4v2.1M169.9 449.4v1.8M168.8 549.7v1.2M179.7 413.2v1.7M184.9 509.1v0.6M181.5 582.3v0.7M190.5 441.1v2.2M189.9 477.4v1.9M186.1 444.4v1.2M172.5 611.7v1.8M177.7 499.0v1.8M187.3 532.0v2.1M176.5 623.3v0.9M175.5 419.1v1.2M189.1 417.0v1.6M191.3 411.6v1.4M195.5 498.6v1.2M188.4 553.9v0.9M174.0 641.4v1.3M178.2 500.3v1.0M175.7 568.1v1.1M186.4 518.1v0.6M182.8 607.6v1.8M191.6 609.3v0.8M181.3 454.9v1.6M176.4 542.0v1.8M180.0 442.0v1.9M173.7 638.5v0.9M186.2 608.0v0.9M189.0 548.6v1.0M173.9 639.5v1.8M173.9 476.2v0.7" stroke="rgb(223,193,88)" stroke-width="1.6" stroke-linecap="round" fill="none"/>
</g>
<rect x="213.1" y="408.0" width="28.1" height="243.0" fill="rgb(150,168,122)"/>
<rect x="225.7" y="408.0" width="4.2" height="243.0" fill="rgb(110,130,85)" opacity="0.6"/>
<rect x="213.1" y="408.0" width="28.1" height="243.0" filter="url(#lt33)"/>
<rect x="213.1" y="408.0" width="28.1" height="243.0" filter="url(#lt34)"/>
<rect x="213.1" y="408.0" width="28.1" height="243.0" filter="url(#lt35)"/>
<g clip-path="url(#lc36)">
<path d="M214.8 583.2v2.0M213.9 588.4v2.0M227.1 603.3v1.7M235.1 591.5v1.5M240.4 625.9v0.7M239.9 627.0v1.2M238.9 553.5v0.9M234.4 622.0v1.4M232.3 616.4v1.2M217.8 643.1v0.7M236.8 632.2v1.2M240.0 649.5v1.1M238.3 507.5v1.8M228.1 480.4v2.2M222.4 635.1v0.9M215.4 504.0v2.0M215.9 448.7v1.2M237.5 496.3v1.6M240.4 420.9v1.0M236.6 414.3v1.3M223.8 411.5v2.1M221.9 609.2v1.0M217.7 565.9v1.6M224.2 556.3v0.7M221.7 559.2v1.8M215.7 580.6v2.0M239.8 534.0v2.0M230.9 446.0v1.1M239.8 602.7v2.2M240.3 616.4v2.0M239.6 645.3v1.4M229.4 546.9v1.4M238.7 484.7v0.7M229.4 447.8v1.3M219.4 478.6v2.0M216.8 473.5v0.9M238.5 513.8v1.7M236.2 495.9v1.5M214.8 592.4v1.9M221.6 640.6v0.7M217.3 438.5v1.7M237.5 541.6v2.0M238.3 528.8v0.9M220.5 554.9v1.0M225.0 509.1v0.8M231.0 581.3v1.1M238.1 586.7v1.7M236.7 599.9v0.8M225.0 432.3v1.7M219.4 545.0v1.9M214.3 543.8v1.4M222.5 636.0v1.0M224.9 631.8v0.9M235.4 512.6v0.7M224.9 598.7v0.9M218.5 516.7v0.9M226.6 422.2v1.1M228.1 574.9v0.8M226.9 517.7v1.6M226.0 570.3v1.8M234.5 606.9v0.9M240.4 548.1v1.0M234.7 501.0v0.9M232.5 601.8v0.7M219.1 499.4v1.8M219.9 482.5v2.1M217.7 491.7v1.1" stroke="rgb(198,128,23)" stroke-width="1.2" stroke-linecap="round" fill="none"/>
<path d="M224.5 626.3v2.1M226.1 621.8v1.4M236.2 642.9v1.0M235.5 626.5v1.1M237.4 629.2v1.1M233.8 594.4v1.5M239.0 636.5v1.5M217.0 616.0v2.2M218.5 616.9v0.7M239.1 554.0v1.7M232.7 613.3v2.1M227.1 476.1v1.9M219.2 466.1v1.1M215.1 432.7v0.8M215.5 423.1v1.1M231.3 486.2v1.9M238.1 618.4v1.5M237.4 648.3v1.0M235.1 499.7v1.4M240.3 418.3v2.1M225.9 414.3v1.3M238.8 570.7v1.3M220.6 555.6v1.9M240.4 435.8v1.0M231.4 439.5v0.9M233.9 429.0v1.7M226.3 459.7v2.0M235.0 614.3v2.1M237.0 649.0v2.1M228.1 423.4v1.3M235.3 489.7v0.8M230.8 553.6v0.7M230.2 554.6v1.4M237.0 478.6v1.4M235.7 483.0v0.9M216.7 626.8v1.7M220.9 617.2v1.1M221.1 621.2v0.6M227.6 449.7v0.7M233.1 443.9v0.6M220.0 487.9v1.9M219.3 472.3v1.6M238.5 511.7v1.3M221.1 533.8v0.9M220.6 644.8v1.5M218.9 636.7v2.2M238.6 643.1v1.2M218.8 442.0v1.6M217.4 575.6v1.7M215.8 582.5v1.2M223.2 544.4v1.2M222.6 554.2v0.7M238.3 585.8v1.3M230.5 576.3v0.9M214.9 605.5v0.6M230.8 648.9v2.1M221.3 417.4v1.6M221.4 636.7v1.3M220.3 632.1v1.5M215.5 537.5v2.2M217.8 506.7v1.2M228.6 419.1v1.9M240.4 531.3v0.6M238.2 534.8v0.9M213.9 416.0v1.0M228.7 438.2v1.8M230.9 582.1v0.7M232.5 585.0v1.5M213.9 547.0v1.3M215.6 560.9v1.6M217.6 566.7v1.0M226.7 554.6v0.9M224.2 484.9v1.5M234.8 608.7v1.2M223.1 540.6v0.7M220.0 486.9v1.2M219.1 484.9v2.0" stroke="rgb(198,128,23)" stroke-width="2.0" stroke-linecap="round" fill="none"/>
<path d="M225.1 609.6v1.8M226.2 607.1v1.1M229.7 608.7v1.9M234.9 485.6v0.8M235.1 485.2v1.6M236.6 624.9v1.2M237.6 635.9v0.7M218.7 618.6v0.7M234.5 624.8v1.1M229.9 484.4v0.8M240.4 506.2v1.1M213.9 430.1v2.1M229.1 490.5v0.6M221.6 634.3v2.0M237.6 498.3v2.0M239.4 424.0v1.9M217.8 601.2v2.0M221.2 614.8v1.8M218.1 611.8v1.2M215.5 568.3v1.9M214.4 565.6v1.8M239.8 569.5v1.4M236.7 415.5v1.4M237.7 438.7v1.1M232.7 493.6v1.9M231.2 490.4v0.7M237.1 599.0v1.3M237.6 479.3v1.2M238.5 484.9v2.0M214.4 625.1v0.7M240.4 516.8v2.0M240.4 517.2v1.1M222.8 627.2v0.6M221.9 625.5v2.1M219.9 496.4v2.2M222.6 501.3v1.6M233.7 498.8v1.1M231.9 495.0v1.6M236.0 496.2v1.6M221.2 523.9v1.8M216.5 534.7v0.9M222.2 528.1v1.6M214.8 592.3v1.1M217.0 418.7v1.4M216.3 419.3v0.9M213.9 569.2v2.0M221.0 545.9v0.7M225.6 514.2v2.0M220.6 504.4v1.4M232.4 578.6v2.1M229.0 574.0v0.9M213.9 595.4v1.4M225.9 435.0v1.4M219.0 632.3v1.0M219.4 629.5v1.4M214.5 539.9v1.3M224.3 623.6v0.8M228.3 589.0v0.9M230.2 451.4v1.9M214.9 485.3v2.1M214.3 489.5v2.1M227.9 526.2v0.9M230.4 438.6v0.8M233.0 574.9v1.6M216.3 532.3v1.0M217.1 528.1v1.5M214.7 560.1v1.7M234.2 615.0v1.0M240.0 550.9v1.1M238.1 426.3v1.2M226.2 528.2v1.8M222.3 546.3v1.7" stroke="rgb(220,150,45)" stroke-width="1.2" stroke-linecap="round" fill="none"/>
<path d="M214.9 585.0v1.7M225.7 635.6v0.7M234.5 497.0v0.6M235.6 501.8v2.1M233.1 594.3v1.0M239.2 557.0v1.2M240.4 553.8v2.2M224.5 481.4v0.8M219.2 636.9v0.9M226.3 479.3v1.2M234.5 628.5v1.6M218.5 570.6v1.6M215.3 431.1v1.7M214.6 427.8v1.6M235.6 649.0v1.9M238.2 649.3v1.0M236.2 499.2v1.7M236.3 499.7v1.0M238.9 422.8v1.6M213.9 523.7v1.4M237.6 417.8v1.4M237.5 426.7v0.8M231.0 440.2v1.7M222.7 450.0v1.3M229.8 426.0v1.5M228.4 554.8v1.5M238.3 631.9v0.7M221.4 617.5v0.7M231.0 446.4v1.5M220.0 490.0v1.9M215.5 471.2v1.0M219.4 467.6v1.9M240.4 513.3v1.4M237.0 630.0v1.5M215.1 589.0v1.7M216.7 580.5v0.7M221.8 641.6v1.1M239.6 576.5v0.9M223.9 499.5v1.6M229.1 566.1v1.8M238.1 431.6v1.9M238.5 428.0v1.5M227.8 424.9v1.9M225.5 419.9v2.2M224.4 434.7v1.4M230.8 648.1v1.0M219.3 422.3v1.5M219.1 426.4v1.8M216.6 420.2v0.9M221.1 626.3v2.2M226.1 624.9v1.5M240.4 500.1v0.9M226.4 608.3v0.9M226.1 612.7v2.0M226.4 597.4v1.3M226.4 453.8v1.2M222.1 450.3v2.2M228.3 426.4v2.2M226.8 583.1v0.9M227.2 581.1v0.8M238.3 532.6v1.5M213.9 415.7v1.8M215.4 494.9v1.2M229.5 576.0v1.5M229.3 571.1v1.1M217.5 527.9v1.3M219.6 568.3v1.5M236.7 609.8v1.3M235.2 504.2v1.6M232.6 494.3v1.4M222.6 486.9v1.2M223.6 487.6v0.8M235.4 610.7v1.1" stroke="rgb(220,150,45)" stroke-width="2.0" stroke-linecap="round" fill="none"/>
<path d="M226.0 627.7v1.6M216.7 623.6v1.7M240.4 551.5v0.9M226.2 480.1v1.5M228.2 477.7v1.3M218.4 626.0v0.8M240.0 617.9v1.0M219.6 473.4v2.2M239.9 505.9v1.6M229.2 487.6v1.2M223.6 638.6v1.9M233.7 623.0v0.8M239.3 615.9v0.8M218.0 501.9v1.5M238.8 647.5v1.8M221.3 548.9v1.6M214.7 573.0v1.1M239.1 429.0v1.4M240.4 532.4v1.0M230.8 429.1v1.6M223.6 452.7v1.0M240.4 639.9v1.1M240.4 595.4v1.0M239.9 463.2v1.0M238.4 454.5v1.7M233.1 536.4v2.0M231.9 545.6v1.0M234.2 544.9v2.1M240.4 630.8v0.7M228.1 441.7v1.3M238.2 493.8v0.7M236.9 624.3v1.6M220.6 533.0v1.3M213.9 601.0v1.2M217.6 592.2v2.0M213.9 600.1v1.6M216.8 580.3v1.9M240.4 646.7v1.4M237.3 645.4v0.7M227.5 585.0v1.8M237.1 588.4v2.2M237.2 579.4v1.0M215.0 601.9v0.7M239.0 591.1v0.8M236.3 594.6v1.2M238.2 595.0v1.2M237.5 433.9v1.9M213.9 536.5v2.1M221.4 514.9v0.9M223.5 631.2v0.7M219.3 517.5v0.7M238.6 527.6v1.5M215.1 421.8v1.1M213.9 416.8v1.9M216.1 489.4v2.0M227.6 528.7v1.9M221.9 525.7v1.3M213.9 533.3v1.2M217.3 563.8v0.7M217.0 557.1v1.9M227.5 558.5v1.2M240.1 560.6v1.7M232.6 500.7v1.5M232.3 612.0v1.0M223.5 530.1v2.2" stroke="rgb(238,168,63)" stroke-width="1.2" stroke-linecap="round" fill="none"/>
<path d="M224.1 628.3v2.1M220.1 434.3v1.2M219.6 433.5v0.7M238.1 637.6v1.7M235.1 489.5v1.6M240.4 619.5v0.6M224.9 472.8v1.8M225.9 475.5v1.0M215.2 643.1v1.6M225.9 484.1v1.8M218.4 625.1v2.0M236.9 629.7v2.2M238.1 633.1v2.0M236.9 638.0v1.6M237.7 641.6v1.3M219.4 578.6v1.3M239.5 505.4v1.7M218.4 448.6v0.7M236.2 646.1v0.9M215.3 517.1v0.8M215.3 582.0v0.7M240.4 430.2v1.5M237.7 536.9v1.1M226.8 464.1v0.8M233.2 438.1v0.7M240.4 610.8v1.4M238.1 604.8v2.1M228.2 419.3v1.1M228.8 551.6v2.2M237.7 456.9v0.8M240.4 518.0v2.1M240.4 521.9v0.7M237.6 622.6v0.6M235.0 624.6v0.8M237.2 626.5v1.2M236.0 629.9v1.5M214.4 604.9v0.7M217.7 590.6v1.2M240.4 641.6v1.9M218.6 436.3v1.1M230.1 588.9v1.9M225.5 595.5v0.7M237.5 534.5v0.7M236.8 531.3v1.5M214.5 578.1v1.3M216.5 576.3v2.1M224.0 504.5v2.0M213.9 601.2v2.0M215.6 605.2v0.8M220.4 421.5v2.0M221.7 527.1v1.4M239.1 510.0v1.6M237.4 503.2v1.2M225.9 603.8v1.3M224.2 418.1v1.9M225.1 458.2v1.6M227.2 457.5v2.1M213.9 410.3v1.1M233.2 585.0v1.6M234.0 593.8v1.0M216.7 548.2v1.3M218.3 552.9v1.6M217.9 562.5v1.2M217.8 560.6v0.6M233.0 619.5v1.6M234.4 610.3v2.0M240.4 548.7v1.4M239.2 416.3v0.7M238.1 412.1v1.4M231.9 594.2v1.9" stroke="rgb(238,168,63)" stroke-width="2.0" stroke-linecap="round" fill="none"/>
</g>
<rect x="258.0" y="408.0" width="28.1" height="243.0" fill="rgb(145,150,100)"/>
<rect x="258.0" y="408.0" width="28.1" height="243.0" filter="url(#lt37)"/>
<rect x="258.0" y="408.0" width="28.1" height="243.0" filter="url(#lt38)"/>
<rect x="258.0" y="408.0" width="28.1" height="243.0" filter="url(#lt39)"/>
<g clip-path="url(#lc40)">
<path d="M276.2 606.1v1.0M275.7 604.3v2.1M278.6 451.5v2.1M273.1 437.2v2.0M272.4 602.1v0.9M276.5 598.4v0.8M277.3 447.8v0.9M285.3 451.2v1.8M265.7 629.0v0.7M274.9 646.2v0.7M272.0 448.1v1.4M273.5 464.9v0.9M273.9 507.1v1.3M277.3 575.5v1.3M269.0 635.5v1.7M282.3 603.9v1.9M272.8 464.5v1.4M280.9 594.2v1.5M262.3 466.9v1.5M260.2 459.4v1.6M278.7 436.1v1.3M272.4 647.0v1.7M278.6 649.3v1.5M280.7 448.5v1.3M260.3 520.7v2.0M264.3 530.1v0.7M266.2 524.8v1.3M283.6 456.5v1.4M281.1 452.2v1.3M278.9 649.2v1.6M279.9 648.8v1.9M279.1 649.3v1.5M282.3 452.8v1.1M271.0 584.4v1.7M266.2 566.7v1.5M267.0 648.3v2.1M264.1 413.0v1.5M266.2 499.6v1.8M270.8 524.6v1.9M264.4 620.0v1.7M277.4 511.5v1.8M274.2 570.6v0.7M280.1 594.8v1.9M279.6 649.3v1.3M285.3 462.3v2.1M262.8 498.3v2.0M274.9 503.3v1.9M268.2 513.1v2.1M264.7 526.9v1.6M265.4 563.1v1.8M263.5 568.6v1.4M263.0 539.3v0.8M277.2 462.6v1.9M272.6 603.0v1.8M271.4 615.6v1.3M278.0 506.6v0.9M279.1 619.7v1.0M264.3 528.3v2.0M262.6 523.2v1.2M263.0 513.6v1.0M263.3 517.7v1.7M264.2 530.1v1.2M263.1 526.5v1.7M280.5 460.8v1.8M274.0 593.8v1.7M266.1 446.7v1.9M278.6 451.4v0.8M266.4 579.8v1.4M271.2 456.9v0.8M272.5 460.2v1.6M266.2 431.7v0.8M278.1 427.2v2.1M262.5 539.7v1.9M275.7 554.4v2.1M264.5 516.7v1.4M272.7 597.0v0.9M277.2 600.4v1.0M277.2 644.6v1.3M271.8 632.8v0.8M273.3 587.7v0.7M260.9 494.4v0.7M264.3 494.3v2.0M264.0 494.9v0.9M270.0 602.2v1.8M267.4 638.5v1.9M262.3 467.2v2.1M264.2 458.2v1.2M269.4 647.2v0.7M270.7 645.4v0.8M271.5 644.8v0.7M267.9 436.7v1.0M268.3 642.3v1.4M262.7 532.0v1.4M264.2 640.7v0.7M265.3 644.4v1.6M265.8 644.9v1.1M271.6 516.9v1.5M267.3 496.0v0.6M280.5 551.0v1.7M267.9 444.3v2.0M263.1 605.9v1.7M273.7 627.2v1.2M275.9 556.3v1.4M285.3 458.0v0.9M263.5 469.5v1.2M280.2 469.0v0.8M260.0 595.7v1.2M261.6 601.2v1.7M281.2 558.5v1.7M268.9 583.3v0.9M282.6 640.7v1.0M267.2 425.2v1.5M278.5 486.6v0.8M276.6 478.7v0.7M267.5 425.6v1.2" stroke="rgb(196,118,18)" stroke-width="1.2" stroke-linecap="round" fill="none"/>
<path d="M268.4 523.9v0.6M266.7 520.2v1.2M270.0 431.9v1.0M269.3 422.7v1.9M271.1 435.2v1.7M275.2 450.8v1.3M278.6 449.9v1.8M274.7 493.9v1.4M259.7 623.3v0.9M261.9 626.2v0.7M266.4 635.3v0.6M265.5 495.7v1.4M277.6 636.2v1.6M275.3 642.4v1.8M272.1 432.6v1.2M260.8 569.7v1.3M259.6 572.8v1.7M269.1 549.6v1.7M284.5 621.3v1.1M261.2 574.8v1.0M282.6 591.7v1.8M275.5 426.5v2.0M271.2 485.0v1.8M278.1 541.3v1.7M264.9 544.8v2.1M264.5 552.1v0.8M276.7 644.7v1.5M278.6 511.2v1.9M279.4 452.0v0.9M278.9 610.2v1.0M263.0 518.8v1.9M264.1 528.9v1.0M262.2 520.5v0.7M279.0 452.0v1.4M280.7 498.3v2.0M282.3 488.8v0.7M283.6 445.7v1.7M283.3 448.4v1.8M268.2 557.5v1.7M269.5 554.8v1.1M265.1 649.2v1.7M264.2 648.3v1.5M265.7 649.2v1.6M267.5 502.0v2.2M269.7 499.2v1.1M285.3 561.2v2.0M282.2 560.6v0.7M269.9 539.9v1.7M281.7 646.0v0.6M281.3 644.4v1.7M282.4 468.1v2.1M265.8 461.5v1.7M259.5 461.5v1.8M273.9 596.7v2.2M285.3 494.0v1.3M279.9 504.9v1.1M264.3 577.4v1.7M263.4 572.1v0.7M282.2 410.9v2.1M283.8 419.3v2.0M283.2 523.9v1.1M282.1 524.0v1.1M276.1 500.4v2.0M270.4 591.6v0.7M263.5 509.5v2.2M278.6 566.3v1.1M282.8 568.0v1.7M282.0 566.6v1.8M259.7 534.5v1.8M265.0 464.5v2.0M278.5 451.8v1.1M275.3 412.6v1.8M269.8 455.8v0.9M268.8 457.1v1.6M281.2 618.4v1.3M278.4 539.2v1.6M271.3 453.6v1.2M274.2 492.4v1.3M275.0 648.6v1.8M278.3 458.0v1.3M265.3 581.4v2.0M267.6 578.7v1.5M269.1 590.2v1.1M271.1 462.9v1.8M272.4 456.0v1.7M269.2 574.2v1.6M269.6 429.8v1.8M274.8 517.4v2.0M273.5 510.6v2.0M268.1 604.3v2.0M265.5 597.0v2.1M266.9 610.0v1.2M265.9 559.6v1.1M265.7 554.4v2.0M277.0 552.2v2.2M278.0 564.5v1.4M274.1 634.8v2.2M276.2 643.4v2.1M271.8 593.2v1.1M267.9 605.6v1.2M266.4 554.0v2.0M264.8 555.0v2.2M262.1 467.1v2.1M264.2 464.1v0.9M279.0 493.5v2.1M277.3 481.2v1.8M270.7 493.7v2.1M268.3 487.9v1.5M267.4 485.8v2.1M279.4 492.8v0.8M268.5 576.9v1.9M272.8 561.8v2.0M266.5 564.4v1.8M263.8 458.3v2.2M259.9 600.7v1.3M260.3 603.0v1.5M263.0 641.2v0.7M272.3 523.1v1.9M272.4 434.6v1.1M269.9 440.3v0.8M271.5 649.4v1.1M279.8 539.3v0.8M275.9 445.6v1.7M282.5 467.0v0.7M282.8 469.3v1.5M270.5 471.4v2.0M270.7 472.4v1.0M263.6 476.5v0.8M272.5 572.0v1.1M261.8 514.6v1.9M263.3 515.7v1.4M260.8 516.1v1.9M260.6 516.2v1.3M277.4 628.4v1.6M275.8 521.0v1.3M281.8 535.0v1.7M262.6 466.5v1.0M268.9 491.2v1.9M284.3 490.6v2.0M278.9 488.3v2.1M266.1 429.4v0.9M265.0 427.0v2.2M283.1 628.0v1.2" stroke="rgb(196,118,18)" stroke-width="2.0" stroke-linecap="round" fill="none"/>
<path d="M268.9 527.5v2.1M266.5 430.4v1.3M273.8 438.2v1.3M279.2 612.5v1.4M261.7 556.4v1.9M261.8 559.3v0.8M276.1 602.7v0.8M280.7 560.9v0.7M262.3 630.8v1.0M264.1 615.1v1.2M268.0 633.8v1.4M267.8 494.3v1.1M272.8 473.0v0.8M275.3 500.8v1.8M274.5 507.3v2.1M271.2 632.5v1.0M268.8 634.8v0.7M275.9 424.0v1.7M281.7 598.7v2.0M271.0 490.6v2.1M280.2 509.4v1.3M281.8 518.6v1.1M280.8 437.6v1.9M262.7 531.7v1.1M281.6 615.3v0.9M276.9 643.9v1.5M278.8 649.5v1.0M280.6 601.3v1.4M279.0 494.2v2.2M282.8 492.3v0.8M273.6 577.7v1.0M265.6 414.7v1.4M269.4 502.7v2.2M272.6 473.8v1.3M271.8 521.6v0.7M263.0 463.7v0.9M276.4 594.1v1.3M272.2 427.7v2.1M264.4 577.9v0.8M263.2 574.2v0.7M275.7 499.7v1.4M266.0 501.0v2.0M282.0 563.6v1.8M265.1 565.8v1.5M276.7 495.3v1.7M278.9 599.4v1.0M275.3 607.1v2.0M279.8 625.9v1.1M273.8 489.6v0.7M275.0 484.6v2.2M275.8 484.3v1.5M263.9 437.9v1.2M265.6 441.3v1.8M274.7 423.3v0.7M267.4 453.4v1.1M282.0 614.1v1.2M280.5 613.8v1.1M270.7 449.8v1.9M276.7 471.5v0.8M275.1 601.5v1.9M275.9 642.5v1.2M265.9 436.1v1.3M266.1 588.0v1.3M267.0 577.2v2.0M269.9 467.0v1.3M268.5 570.9v1.7M260.0 637.5v2.0M266.1 603.3v0.8M267.4 555.7v0.8M271.2 498.6v0.7M271.8 486.4v1.2M269.2 516.1v1.3M261.2 487.3v1.4M267.9 614.6v1.3M284.3 432.3v2.1M264.1 551.3v1.0M262.6 471.0v0.6M262.6 473.8v1.5M270.4 497.2v2.2M270.9 460.8v1.7M281.7 495.7v1.7M269.0 642.4v1.1M267.1 416.6v2.0M264.4 430.7v0.9M262.5 589.1v1.9M267.1 589.8v1.8M262.8 592.9v1.5M270.8 648.7v0.9M278.6 439.1v2.0M279.6 442.2v2.1M271.4 426.4v1.6M267.3 411.2v1.5M270.5 641.3v1.6M261.8 644.6v1.7M270.4 450.6v0.8M268.8 448.4v1.9M270.3 529.9v1.9M263.3 615.2v0.6M281.6 606.2v1.3M272.5 646.4v1.3M270.1 645.5v1.8M277.7 556.6v1.4M278.4 553.3v1.6M273.2 445.2v1.8M282.0 474.1v1.1M283.5 457.4v1.0M270.3 466.4v2.0M270.3 463.5v1.7M268.0 463.1v0.7M281.7 433.4v1.3M276.4 431.4v2.2M266.8 516.1v0.8M272.3 640.5v0.8M280.2 628.1v1.5M275.7 556.4v1.4M277.5 514.4v1.6M280.9 537.0v1.9M270.8 505.0v2.2M268.9 497.6v0.8M278.0 486.3v1.1M275.8 481.1v1.3" stroke="rgb(218,140,40)" stroke-width="1.2" stroke-linecap="round" fill="none"/>
<path d="M270.9 433.4v0.7M277.2 527.6v0.7M279.2 447.8v0.7M275.9 447.9v0.7M278.2 607.6v1.5M283.0 613.8v1.0M276.6 599.4v0.8M280.8 591.4v2.1M259.3 612.2v1.6M267.5 631.4v0.9M271.0 458.4v1.4M272.8 446.2v1.2M276.5 509.7v1.4M278.5 577.6v1.6M268.4 626.4v0.9M269.1 550.8v1.6M267.5 549.3v1.8M275.2 427.2v0.9M271.1 422.9v1.2M273.3 424.8v0.9M279.3 540.1v1.3M278.5 531.9v0.8M278.1 647.7v1.5M280.4 512.6v1.3M277.9 442.4v1.6M279.0 613.4v1.5M277.5 618.5v1.7M265.9 529.8v1.1M281.0 451.5v1.4M280.6 616.7v1.6M284.0 593.5v1.5M280.5 496.0v1.7M266.5 551.4v2.0M269.0 498.4v1.8M267.7 501.5v2.2M271.5 467.3v1.1M276.8 604.9v1.1M281.4 645.4v1.5M284.6 475.0v0.8M283.3 462.3v1.7M278.8 505.1v1.9M272.9 439.4v1.5M278.8 506.4v1.2M269.9 594.2v1.5M266.6 518.2v0.9M266.5 509.5v1.7M264.8 531.4v1.8M264.4 562.7v2.1M274.7 499.0v1.0M283.4 563.1v1.7M281.9 567.5v1.3M275.7 601.5v1.1M269.5 461.5v1.9M275.8 596.6v2.1M266.6 433.0v1.6M264.6 437.5v2.1M271.7 410.5v1.7M276.0 427.9v1.5M279.3 496.7v1.8M278.7 500.1v0.6M270.7 458.2v2.0M279.3 465.7v2.1M271.8 600.3v1.1M275.0 596.3v0.9M275.6 599.8v2.2M276.2 457.6v2.0M270.3 424.5v2.0M282.5 431.8v1.1M264.0 633.3v1.4M260.0 632.1v1.6M263.2 542.7v1.6M266.9 512.7v1.3M266.6 518.4v1.5M267.5 517.8v1.7M272.2 491.0v0.7M267.4 610.8v1.1M280.6 434.9v1.4M269.5 419.0v0.8M268.7 419.4v1.1M269.0 568.2v2.2M263.8 462.4v1.0M278.6 439.7v1.1M285.3 570.2v1.5M282.1 574.3v1.7M265.1 539.7v0.7M260.3 599.1v1.8M271.6 514.8v1.3M281.4 552.5v1.2M277.1 552.4v1.6M277.2 548.6v1.2M277.7 542.6v1.3M275.2 440.5v0.7M269.4 464.8v1.4M270.4 462.2v0.7M262.6 469.7v2.0M278.5 429.6v1.7M276.2 427.2v1.8M273.7 577.1v1.0M270.3 572.8v2.1M265.5 511.6v0.7M262.8 513.5v1.2M270.9 610.8v2.0M276.2 621.3v2.1M280.2 632.2v2.0M262.0 605.3v2.2M279.2 557.5v0.7M268.0 574.2v1.4M270.5 570.4v0.8M258.8 452.3v1.5M267.1 496.4v1.9M269.7 495.4v2.1M280.0 599.5v0.6M279.1 605.8v0.7M263.0 436.1v1.2" stroke="rgb(218,140,40)" stroke-width="2.0" stroke-linecap="round" fill="none"/>
<path d="M270.0 529.2v1.3M269.1 481.7v1.6M269.1 481.8v0.7M284.2 424.0v0.9M275.7 605.6v1.8M270.7 620.9v1.3M285.3 564.9v2.2M265.2 622.0v2.0M263.1 618.8v2.1M274.7 498.9v1.5M273.7 503.1v2.0M278.8 642.9v0.6M277.1 644.8v2.1M273.6 459.3v1.5M271.1 466.7v1.5M272.2 626.9v1.8M281.9 604.3v1.1M282.4 602.1v1.1M265.4 570.0v1.2M275.2 431.5v0.6M277.9 427.9v2.1M277.5 432.2v0.9M271.4 477.9v1.2M278.4 524.0v1.1M276.4 525.0v1.8M278.8 523.4v1.8M280.5 446.5v1.9M279.2 450.8v0.6M278.0 619.4v1.4M260.8 526.5v1.5M278.6 614.0v0.7M280.7 610.8v1.2M280.0 610.7v0.7M269.6 577.5v1.0M266.0 561.1v2.1M265.6 638.1v1.9M261.0 415.9v1.4M269.0 482.3v1.0M272.4 536.6v1.1M272.3 539.1v1.9M283.3 564.6v1.8M285.0 554.7v1.4M271.5 566.2v1.7M280.5 598.4v2.1M283.2 459.8v2.1M271.7 427.6v0.8M263.2 569.6v1.8M262.1 495.9v2.2M281.9 516.0v1.3M283.0 521.3v1.8M283.0 526.6v1.3M275.3 508.0v1.4M276.2 499.2v1.2M271.2 603.8v1.1M271.5 596.8v0.6M282.4 566.9v1.7M264.3 576.5v2.1M271.8 506.1v1.5M276.3 599.9v0.9M282.1 635.6v0.9M281.7 626.8v1.8M283.5 624.6v1.7M273.1 594.3v2.2M273.7 483.9v1.5M274.5 491.8v1.3M271.8 408.5v1.1M270.3 608.8v1.7M271.7 449.2v0.9M280.9 616.9v1.9M276.5 529.6v1.6M273.3 503.8v1.4M266.8 524.4v1.1M264.4 532.8v2.1M279.2 468.1v1.4M276.8 596.6v1.8M272.0 461.9v0.8M270.6 569.2v1.9M269.1 427.8v0.9M280.5 435.2v1.9M263.7 638.5v2.2M262.3 630.1v0.7M263.4 634.2v0.7M267.4 606.7v1.8M266.5 605.3v1.6M269.2 549.6v1.8M268.2 556.0v1.5M263.6 553.2v2.0M276.5 570.0v1.1M271.0 510.8v2.0M270.0 516.4v2.2M280.0 641.5v1.8M279.6 624.0v1.2M281.3 588.1v1.9M271.0 636.9v1.0M272.4 585.3v1.7M268.4 605.4v0.8M264.4 554.9v1.8M258.8 516.2v1.9M258.8 520.2v2.1M263.7 457.9v1.2M268.1 488.1v2.1M266.3 430.9v0.9M278.9 440.6v1.9M278.6 437.0v1.9M280.1 443.8v1.6M270.0 428.4v1.1M265.8 636.9v1.7M273.6 519.2v1.0M272.7 515.9v0.7M271.7 635.1v1.0M274.4 631.9v0.6M275.9 629.9v0.8M272.8 636.8v2.1M279.4 545.0v0.7M276.7 552.2v1.8M278.0 549.3v0.8M274.7 438.8v0.8M272.0 439.7v0.7M277.8 432.3v0.6M264.6 509.1v1.3M266.1 511.6v2.1M277.8 632.0v2.1M277.9 559.9v1.9M269.0 581.2v0.7M271.1 422.1v1.3M278.4 599.1v1.7M279.5 630.9v1.3M282.5 629.1v2.1" stroke="rgb(236,158,58)" stroke-width="1.2" stroke-linecap="round" fill="none"/>
<path d="M268.7 524.8v1.0M268.1 432.8v1.5M277.0 530.4v1.4M279.5 446.1v2.1M282.3 408.6v1.4M274.9 596.3v0.7M267.9 618.8v0.7M280.9 455.4v1.6M283.1 574.2v1.3M280.8 562.3v1.5M280.4 603.3v1.2M285.2 584.4v0.6M260.5 625.5v2.2M260.0 617.9v2.1M272.9 470.8v1.4M275.1 465.6v1.9M272.2 508.4v1.3M275.8 506.4v1.5M278.4 580.8v0.7M269.3 633.2v1.3M270.7 539.2v1.1M273.0 420.3v1.8M276.2 468.5v1.8M277.7 438.0v1.8M274.3 489.1v0.9M278.7 525.1v1.6M282.1 513.3v0.9M280.1 617.1v1.0M277.9 626.6v1.4M280.4 455.1v1.3M266.3 431.0v1.0M264.7 429.3v1.5M263.3 419.1v2.2M263.4 414.5v0.6M264.1 410.3v1.3M269.7 523.2v1.4M272.5 536.9v1.3M274.0 537.0v1.9M284.5 552.3v0.8M267.0 533.5v1.9M263.9 609.2v0.7M278.8 519.2v1.6M263.8 467.0v0.8M274.3 591.0v2.0M283.9 486.0v1.9M280.3 498.5v1.5M282.5 499.7v1.9M268.6 422.6v2.0M266.2 585.8v1.2M281.7 410.3v1.6M282.3 408.1v1.9M283.4 408.7v0.6M264.1 496.7v2.2M258.8 461.4v0.7M262.7 466.4v0.7M278.1 566.9v0.9M265.1 558.6v1.9M283.2 629.0v2.1M282.3 633.0v2.1M270.2 597.9v1.4M275.6 429.4v2.1M280.3 617.1v1.4M262.2 525.3v2.0M271.6 447.9v2.2M269.4 442.4v2.2M263.8 523.0v1.5M262.5 537.2v2.2M276.6 462.5v1.5M278.1 603.3v1.8M279.1 457.4v1.8M276.4 514.7v0.7M279.0 434.8v1.0M277.2 440.8v1.7M269.0 516.8v1.4M274.8 498.9v1.1M274.7 490.4v1.1M268.8 512.5v1.7M270.5 512.8v1.3M270.5 510.9v2.0M280.5 600.8v1.8M283.1 629.1v1.5M283.3 602.3v0.8M279.9 599.6v1.3M269.5 594.5v1.4M266.7 607.2v1.9M284.9 441.9v1.2M264.5 553.8v1.3M268.5 555.4v1.8M259.7 470.6v1.0M279.3 491.4v1.8M269.2 490.5v1.5M270.1 454.3v1.7M281.1 503.6v1.3M281.7 494.2v0.8M268.2 576.4v1.1M265.4 457.7v1.3M261.9 458.4v1.6M271.0 649.4v1.2M271.4 643.0v0.6M284.3 576.3v0.7M283.3 568.5v1.2M284.6 577.9v1.1M263.6 533.2v0.7M271.3 428.5v1.7M275.4 440.5v1.3M268.9 492.4v1.2M268.1 445.6v1.5M265.7 533.3v1.4M265.9 597.5v0.9M279.2 604.6v1.7M279.7 550.2v0.8M281.2 468.8v1.8M269.9 466.4v0.9M263.6 476.0v1.6M277.1 429.2v1.2M268.8 568.1v1.6M273.8 571.9v1.5M264.4 512.2v1.9M262.1 522.7v2.1M267.8 613.9v1.1M273.8 644.9v1.0M279.9 623.1v1.8M280.8 470.3v2.2M260.1 603.7v0.7M270.4 578.5v0.9M258.8 453.8v1.8M280.5 488.0v0.9M284.3 492.1v2.0M285.0 637.2v0.9M269.2 411.8v0.9M265.3 433.4v1.6M282.1 634.0v0.7" stroke="rgb(236,158,58)" stroke-width="2.0" stroke-linecap="round" fill="none"/>
</g>
<text x="38.2" y="55.0" font-size="12" font-weight="bold">Mock</text>
<text x="87.7" y="50.0" font-size="11.8" font-weight="bold">BSMV:</text>
<text x="87.7" y="62.3" font-size="11.8" font-weight="bold" font-style="italic">PDS</text>
<text x="181.9" y="30.4" font-size="11.8" font-weight="bold">CYR34</text>
<line x1="133.9" y1="36.9" x2="263.5" y2="36.9" stroke="#111" stroke-width="1.6"/>
<text x="136.5" y="50.2" font-size="11.8" font-weight="bold">BSMV:</text>
<text x="136.5" y="62.0" font-size="11.8" font-weight="bold" font-style="italic">γ</text>
<text x="181.9" y="50.2" font-size="11.8" font-weight="bold">BSMV:</text>
<text x="181.9" y="62.0" font-size="11.8" font-weight="bold" font-style="italic">TaGKL</text>
<text x="232.7" y="50.2" font-size="11.8" font-weight="bold">BSMV:</text>
<text x="222.0" y="62.0" font-size="11.8" font-weight="bold"><tspan font-style="italic">TaGKL</tspan>+<tspan font-style="italic">TaMADS2</tspan></text>
<text x="32.6" y="388.9" font-size="10.6" font-weight="bold">Mock</text>
<text x="81.6" y="385.8" font-size="10.6" font-weight="bold">BSMV:</text>
<text x="81.6" y="398.8" font-size="10.6" font-weight="bold" font-style="italic">PDS</text>
<text x="191.5" y="365.3" font-size="10.6" font-weight="bold">CYR34</text>
<line x1="127.7" y1="372.1" x2="283.7" y2="372.1" stroke="#111" stroke-width="1.6"/>
<text x="128.8" y="385.8" font-size="10.6" font-weight="bold">BSMV:</text>
<text x="128.8" y="398.8" font-size="10.6" font-weight="bold" font-style="italic">γ</text>
<text x="168.3" y="385.8" font-size="10.6" font-weight="bold">BSMV:</text>
<text x="168.3" y="398.8" font-size="10.6" font-weight="bold" font-style="italic">TaGKL</text>
<text x="216.3" y="385.8" font-size="10.6" font-weight="bold">BSMV:</text>
<text x="216.3" y="398.8" font-size="10.6" font-weight="bold" font-style="italic">γ</text>
<text x="256.0" y="385.8" font-size="10.6" font-weight="bold">BSMV:</text>
<text x="256.0" y="398.8" font-size="10.6" font-weight="bold" font-style="italic">TaGKL</text>
<line x1="123.4" y1="655.7" x2="196.2" y2="655.7" stroke="#111" stroke-width="1.6"/>
<line x1="213.5" y1="655.7" x2="286.0" y2="655.7" stroke="#111" stroke-width="1.6"/>
<text x="124.0" y="667.6" font-size="10.6" font-weight="bold"><tspan font-style="italic">TaMADS2</tspan>-OE5</text>
<text x="212.3" y="667.6" font-size="10.6" font-weight="bold"><tspan font-style="italic">TaMADS2</tspan>-MRi2</text>
<text x="3.6" y="16.2" font-size="17.6" letter-spacing="1.2">(a)</text>
<text x="330.0" y="16.2" font-size="17.6" letter-spacing="1.2">(b)</text>
<text x="480.1" y="16.2" font-size="17.6" letter-spacing="1.2">(c)</text>
<text x="619.3" y="16.2" font-size="17.6" letter-spacing="1.2">(f)</text>
<text x="1048.5" y="16.2" font-size="17.6" letter-spacing="1.2">(g)</text>
<text x="330.6" y="221.4" font-size="17.6" letter-spacing="1.2">(d)</text>
<text x="479.5" y="221.4" font-size="17.6" letter-spacing="1.2">(e)</text>
<text x="1049.1" y="221.4" font-size="17.6" letter-spacing="1.2">(h)</text>
<text x="3.8" y="357.0" font-size="17.6" letter-spacing="1.2">(i)</text>
<text x="293.1" y="426.2" font-size="17.6" letter-spacing="1.2">(j)</text>
<text x="447.1" y="426.2" font-size="17.6" letter-spacing="1.2">(k)</text>
<text x="615.2" y="426.2" font-size="17.6" letter-spacing="1.2">(l)</text>
<text x="771.9" y="426.2" font-size="17.6" letter-spacing="1.2">(m)</text>
<text x="939.0" y="426.2" font-size="17.6" letter-spacing="1.2">(n)</text>
<text x="1099.1" y="426.2" font-size="17.6" letter-spacing="1.2">(o)</text>
<text x="3.8" y="693.8" font-size="17.6" letter-spacing="1.2">(p)</text>
<text x="329.0" y="693.8" font-size="17.6" letter-spacing="1.2">(q)</text>
<text x="485.2" y="693.8" font-size="17.6" letter-spacing="1.2">(r)</text>
<text x="646.1" y="693.8" font-size="17.6" letter-spacing="1.2">(s)</text>
<text x="965.5" y="693.8" font-size="17.6" letter-spacing="1.2">(t)</text>
<text x="1118.9" y="693.8" font-size="17.6" letter-spacing="1.2">(u)</text>
<rect x="699.3" y="51.8" width="99.8" height="99.3" fill="#0b0b0b"/>
<rect x="805.3" y="51.8" width="101.5" height="99.3" fill="#0b0b0b"/>
<rect x="912.3" y="51.8" width="99.3" height="99.3" fill="#0b0b0b"/>
<rect x="699.3" y="159.2" width="99.8" height="99.0" fill="#0b0b0b"/>
<rect x="805.3" y="159.2" width="101.5" height="99.0" fill="#0b0b0b"/>
<rect x="912.3" y="159.2" width="99.3" height="99.0" fill="#0b0b0b"/>
<rect x="699.3" y="267.4" width="99.8" height="101.4" fill="#0b0b0b"/>
<rect x="805.3" y="267.4" width="101.5" height="101.4" fill="#0b0b0b"/>
<rect x="912.3" y="267.4" width="99.3" height="101.4" fill="#0b0b0b"/>
<g filter="url(#glow)" opacity="0.55"><ellipse cx="738.9" cy="99.8" rx="15.0" ry="17.0" transform="rotate(-20 738.9 99.8)" fill="rgb(16,155,16)" fill-opacity="0.78" stroke="rgb(35,215,35)" stroke-width="1.3"/><path d="M752.2 103.0L783.3 119.0" stroke="rgb(45,240,45)" stroke-width="8.0" stroke-linecap="round" fill="none"/><path d="M752.2 103.0L783.3 119.0" stroke="rgb(22,205,22)" stroke-opacity="0.88" stroke-width="5.8" stroke-linecap="round" fill="none"/><ellipse cx="759.5" cy="92.5" rx="6.5" ry="6.0" transform="rotate(0 759.5 92.5)" fill="rgb(16,155,16)" fill-opacity="0.78" stroke="rgb(35,215,35)" stroke-width="1.3"/><ellipse cx="767.0" cy="104.0" rx="6.5" ry="6.0" transform="rotate(0 767.0 104.0)" fill="rgb(10,100,10)" fill-opacity="0.72" stroke="rgb(28,175,28)" stroke-width="1.3"/></g>
<g filter="url(#soft)"><ellipse cx="738.9" cy="99.8" rx="15.0" ry="17.0" transform="rotate(-20 738.9 99.8)" fill="rgb(16,155,16)" fill-opacity="0.78" stroke="rgb(35,215,35)" stroke-width="1.3"/><path d="M752.2 103.0L783.3 119.0" stroke="rgb(45,240,45)" stroke-width="8.0" stroke-linecap="round" fill="none"/><path d="M752.2 103.0L783.3 119.0" stroke="rgb(22,205,22)" stroke-opacity="0.88" stroke-width="5.8" stroke-linecap="round" fill="none"/><ellipse cx="759.5" cy="92.5" rx="6.5" ry="6.0" transform="rotate(0 759.5 92.5)" fill="rgb(16,155,16)" fill-opacity="0.78" stroke="rgb(35,215,35)" stroke-width="1.3"/><ellipse cx="767.0" cy="104.0" rx="6.5" ry="6.0" transform="rotate(0 767.0 104.0)" fill="rgb(10,100,10)" fill-opacity="0.72" stroke="rgb(28,175,28)" stroke-width="1.3"/></g>
<text x="780.3" y="92.0" font-size="14.5" font-weight="bold" fill="#fff">IH</text>
<line x1="778.3" y1="87.9" x2="770.4" y2="89.8" stroke="#fff" stroke-width="1.8"/>
<path d="M766.0 90.8L770.3 87.2L771.4 92.1Z" fill="#fff"/>
<text x="720.0" y="143.0" font-size="14.5" font-weight="bold" fill="#fff">SV</text>
<line x1="729.5" y1="130.8" x2="732.0" y2="123.5" stroke="#fff" stroke-width="1.8"/>
<path d="M733.4 119.2L734.2 124.7L729.4 123.1Z" fill="#fff"/>
<g filter="url(#glow)" opacity="0.55"><ellipse cx="842.0" cy="121.5" rx="16.8" ry="13.4" transform="rotate(-5 842.0 121.5)" fill="rgb(16,155,16)" fill-opacity="0.78" stroke="rgb(35,215,35)" stroke-width="1.3"/><path d="M861.0 98.0L862.0 113.7" stroke="rgb(35,215,35)" stroke-width="7.8" stroke-linecap="round" fill="none"/><path d="M861.0 98.0L862.0 113.7" stroke="rgb(16,155,16)" stroke-opacity="0.78" stroke-width="5.6" stroke-linecap="round" fill="none"/><path d="M865.5 100.3L873.3 108.1" stroke="rgb(28,175,28)" stroke-width="6.0" stroke-linecap="round" fill="none"/><path d="M865.5 100.3L873.3 108.1" stroke="rgb(10,100,10)" stroke-opacity="0.72" stroke-width="3.8" stroke-linecap="round" fill="none"/><path d="M856.5 118.2L891.2 121.5" stroke="rgb(35,215,35)" stroke-width="8.0" stroke-linecap="round" fill="none"/><path d="M856.5 118.2L891.2 121.5" stroke="rgb(16,155,16)" stroke-opacity="0.78" stroke-width="5.8" stroke-linecap="round" fill="none"/></g>
<g filter="url(#soft)"><ellipse cx="842.0" cy="121.5" rx="16.8" ry="13.4" transform="rotate(-5 842.0 121.5)" fill="rgb(16,155,16)" fill-opacity="0.78" stroke="rgb(35,215,35)" stroke-width="1.3"/><path d="M861.0 98.0L862.0 113.7" stroke="rgb(35,215,35)" stroke-width="7.8" stroke-linecap="round" fill="none"/><path d="M861.0 98.0L862.0 113.7" stroke="rgb(16,155,16)" stroke-opacity="0.78" stroke-width="5.6" stroke-linecap="round" fill="none"/><path d="M865.5 100.3L873.3 108.1" stroke="rgb(28,175,28)" stroke-width="6.0" stroke-linecap="round" fill="none"/><path d="M865.5 100.3L873.3 108.1" stroke="rgb(10,100,10)" stroke-opacity="0.72" stroke-width="3.8" stroke-linecap="round" fill="none"/><path d="M856.5 118.2L891.2 121.5" stroke="rgb(35,215,35)" stroke-width="8.0" stroke-linecap="round" fill="none"/><path d="M856.5 118.2L891.2 121.5" stroke="rgb(16,155,16)" stroke-opacity="0.78" stroke-width="5.8" stroke-linecap="round" fill="none"/></g>
<text x="883.4" y="89.6" font-size="14.5" font-weight="bold" fill="#fff">IH</text>
<line x1="879.5" y1="86.8" x2="874.2" y2="92.5" stroke="#fff" stroke-width="1.8"/>
<path d="M871.1 95.8L872.7 90.4L876.3 93.9Z" fill="#fff"/>
<text x="814.5" y="90.8" font-size="14.5" font-weight="bold" fill="#fff">SV</text>
<line x1="824.6" y1="95.2" x2="830.2" y2="100.1" stroke="#fff" stroke-width="1.8"/>
<path d="M833.6 103.1L828.2 101.7L831.5 97.9Z" fill="#fff"/>
<g filter="url(#glow)" opacity="0.55"><path d="M935.6 86.8L955.8 100.3" stroke="rgb(20,125,20)" stroke-width="6.0" stroke-linecap="round" fill="none"/><path d="M935.6 86.8L955.8 100.3" stroke="rgb(8,68,8)" stroke-opacity="0.6" stroke-width="3.8" stroke-linecap="round" fill="none"/><path d="M955.0 101.0L975.0 109.0" stroke="rgb(20,125,20)" stroke-width="5.0" stroke-linecap="round" fill="none"/><path d="M955.0 101.0L975.0 109.0" stroke="rgb(8,68,8)" stroke-opacity="0.6" stroke-width="2.8" stroke-linecap="round" fill="none"/><ellipse cx="951.9" cy="122.7" rx="12.9" ry="15.7" transform="rotate(-10 951.9 122.7)" fill="rgb(16,155,16)" fill-opacity="0.78" stroke="rgb(35,215,35)" stroke-width="1.3"/><path d="M932.3 76.8L935.1 84.6" stroke="rgb(45,240,45)" stroke-width="9.0" stroke-linecap="round" fill="none"/><path d="M932.3 76.8L935.1 84.6" stroke="rgb(22,205,22)" stroke-opacity="0.88" stroke-width="6.8" stroke-linecap="round" fill="none"/><path d="M975.8 108.1L985.0 111.5" stroke="rgb(45,240,45)" stroke-width="10.0" stroke-linecap="round" fill="none"/><path d="M975.8 108.1L985.0 111.5" stroke="rgb(22,205,22)" stroke-opacity="0.88" stroke-width="7.8" stroke-linecap="round" fill="none"/><path d="M940.0 116.0 L952.0 124.0 L962.0 136.0" stroke="rgb(45,240,45)" stroke-width="1.3" stroke-linecap="round" stroke-linejoin="round" fill="none"/><path d="M946.0 108.0 L952.0 124.0" stroke="rgb(45,240,45)" stroke-width="1.2" stroke-linecap="round" stroke-linejoin="round" fill="none"/><path d="M952.0 124.0 L963.0 112.0" stroke="rgb(45,240,45)" stroke-width="1.2" stroke-linecap="round" stroke-linejoin="round" fill="none"/></g>
<g filter="url(#soft)"><path d="M935.6 86.8L955.8 100.3" stroke="rgb(20,125,20)" stroke-width="6.0" stroke-linecap="round" fill="none"/><path d="M935.6 86.8L955.8 100.3" stroke="rgb(8,68,8)" stroke-opacity="0.6" stroke-width="3.8" stroke-linecap="round" fill="none"/><path d="M955.0 101.0L975.0 109.0" stroke="rgb(20,125,20)" stroke-width="5.0" stroke-linecap="round" fill="none"/><path d="M955.0 101.0L975.0 109.0" stroke="rgb(8,68,8)" stroke-opacity="0.6" stroke-width="2.8" stroke-linecap="round" fill="none"/><ellipse cx="951.9" cy="122.7" rx="12.9" ry="15.7" transform="rotate(-10 951.9 122.7)" fill="rgb(16,155,16)" fill-opacity="0.78" stroke="rgb(35,215,35)" stroke-width="1.3"/><path d="M932.3 76.8L935.1 84.6" stroke="rgb(45,240,45)" stroke-width="9.0" stroke-linecap="round" fill="none"/><path d="M932.3 76.8L935.1 84.6" stroke="rgb(22,205,22)" stroke-opacity="0.88" stroke-width="6.8" stroke-linecap="round" fill="none"/><path d="M975.8 108.1L985.0 111.5" stroke="rgb(45,240,45)" stroke-width="10.0" stroke-linecap="round" fill="none"/><path d="M975.8 108.1L985.0 111.5" stroke="rgb(22,205,22)" stroke-opacity="0.88" stroke-width="7.8" stroke-linecap="round" fill="none"/><path d="M940.0 116.0 L952.0 124.0 L962.0 136.0" stroke="rgb(45,240,45)" stroke-width="1.3" stroke-linecap="round" stroke-linejoin="round" fill="none"/><path d="M946.0 108.0 L952.0 124.0" stroke="rgb(45,240,45)" stroke-width="1.2" stroke-linecap="round" stroke-linejoin="round" fill="none"/><path d="M952.0 124.0 L963.0 112.0" stroke="rgb(45,240,45)" stroke-width="1.2" stroke-linecap="round" stroke-linejoin="round" fill="none"/></g>
<text x="957.5" y="77.9" font-size="14.5" font-weight="bold" fill="#fff">IH</text>
<line x1="953.0" y1="77.9" x2="947.8" y2="83.1" stroke="#fff" stroke-width="1.8"/>
<path d="M944.6 86.3L946.4 81.0L949.9 84.5Z" fill="#fff"/>
<text x="919.4" y="147.3" font-size="14.5" font-weight="bold" fill="#fff">SV</text>
<line x1="928.9" y1="134.4" x2="934.6" y2="129.1" stroke="#fff" stroke-width="1.8"/>
<path d="M937.9 126.0L936.0 131.2L932.5 127.6Z" fill="#fff"/>
<g filter="url(#glow)" opacity="0.55"><ellipse cx="716.4" cy="215.1" rx="12.9" ry="7.8" transform="rotate(15 716.4 215.1)" fill="rgb(22,205,22)" fill-opacity="0.88" stroke="rgb(45,240,45)" stroke-width="1.3"/><path d="M731.5 216.2L765.1 206.2" stroke="rgb(28,175,28)" stroke-width="6.7" stroke-linecap="round" fill="none"/><path d="M731.5 216.2L765.1 206.2" stroke="rgb(10,100,10)" stroke-opacity="0.72" stroke-width="4.5" stroke-linecap="round" fill="none"/><path d="M760.0 207.5L766.0 205.5" stroke="rgb(45,240,45)" stroke-width="6.7" stroke-linecap="round" fill="none"/><path d="M760.0 207.5L766.0 205.5" stroke="rgb(22,205,22)" stroke-opacity="0.88" stroke-width="4.5" stroke-linecap="round" fill="none"/><path d="M736.0 220.7L776.3 227.4" stroke="rgb(28,175,28)" stroke-width="10.0" stroke-linecap="round" fill="none"/><path d="M736.0 220.7L776.3 227.4" stroke="rgb(10,100,10)" stroke-opacity="0.72" stroke-width="7.8" stroke-linecap="round" fill="none"/></g>
<g filter="url(#soft)"><ellipse cx="716.4" cy="215.1" rx="12.9" ry="7.8" transform="rotate(15 716.4 215.1)" fill="rgb(22,205,22)" fill-opacity="0.88" stroke="rgb(45,240,45)" stroke-width="1.3"/><path d="M731.5 216.2L765.1 206.2" stroke="rgb(28,175,28)" stroke-width="6.7" stroke-linecap="round" fill="none"/><path d="M731.5 216.2L765.1 206.2" stroke="rgb(10,100,10)" stroke-opacity="0.72" stroke-width="4.5" stroke-linecap="round" fill="none"/><path d="M760.0 207.5L766.0 205.5" stroke="rgb(45,240,45)" stroke-width="6.7" stroke-linecap="round" fill="none"/><path d="M760.0 207.5L766.0 205.5" stroke="rgb(22,205,22)" stroke-opacity="0.88" stroke-width="4.5" stroke-linecap="round" fill="none"/><path d="M736.0 220.7L776.3 227.4" stroke="rgb(28,175,28)" stroke-width="10.0" stroke-linecap="round" fill="none"/><path d="M736.0 220.7L776.3 227.4" stroke="rgb(10,100,10)" stroke-opacity="0.72" stroke-width="7.8" stroke-linecap="round" fill="none"/></g>
<text x="769.0" y="186.6" font-size="14.5" font-weight="bold" fill="#fff">IH</text>
<line x1="774.6" y1="191.6" x2="769.3" y2="197.3" stroke="#fff" stroke-width="1.8"/>
<path d="M766.2 200.6L767.8 195.2L771.4 198.7Z" fill="#fff"/>
<text x="703.5" y="254.3" font-size="14.5" font-weight="bold" fill="#fff">SV</text>
<line x1="709.6" y1="238.6" x2="711.7" y2="231.2" stroke="#fff" stroke-width="1.8"/>
<path d="M713.0 226.9L714.0 232.4L709.2 231.0Z" fill="#fff"/>
<g filter="url(#glow)" opacity="0.55"><ellipse cx="824.0" cy="203.9" rx="14.6" ry="11.2" transform="rotate(-10 824.0 203.9)" fill="rgb(22,205,22)" fill-opacity="0.88" stroke="rgb(45,240,45)" stroke-width="1.3"/><path d="M838.6 193.8L867.7 184.9" stroke="rgb(28,175,28)" stroke-width="3.0" stroke-linecap="round" fill="none"/><path d="M838.6 193.8L867.7 184.9" stroke="rgb(10,100,10)" stroke-opacity="0.72" stroke-width="0.8" stroke-linecap="round" fill="none"/><path d="M874.4 180.4L884.5 171.4" stroke="rgb(45,240,45)" stroke-width="7.3" stroke-linecap="round" fill="none"/><path d="M874.4 180.4L884.5 171.4" stroke="rgb(22,205,22)" stroke-opacity="0.88" stroke-width="5.1" stroke-linecap="round" fill="none"/><path d="M843.0 201.7L866.0 232.0" stroke="rgb(28,175,28)" stroke-width="8.0" stroke-linecap="round" fill="none"/><path d="M843.0 201.7L866.0 232.0" stroke="rgb(10,100,10)" stroke-opacity="0.72" stroke-width="5.8" stroke-linecap="round" fill="none"/><ellipse cx="864.4" cy="231.9" rx="5.5" ry="5.0" transform="rotate(30 864.4 231.9)" fill="rgb(16,155,16)" fill-opacity="0.78" stroke="rgb(35,215,35)" stroke-width="1.3"/></g>
<g filter="url(#soft)"><ellipse cx="824.0" cy="203.9" rx="14.6" ry="11.2" transform="rotate(-10 824.0 203.9)" fill="rgb(22,205,22)" fill-opacity="0.88" stroke="rgb(45,240,45)" stroke-width="1.3"/><path d="M838.6 193.8L867.7 184.9" stroke="rgb(28,175,28)" stroke-width="3.0" stroke-linecap="round" fill="none"/><path d="M838.6 193.8L867.7 184.9" stroke="rgb(10,100,10)" stroke-opacity="0.72" stroke-width="0.8" stroke-linecap="round" fill="none"/><path d="M874.4 180.4L884.5 171.4" stroke="rgb(45,240,45)" stroke-width="7.3" stroke-linecap="round" fill="none"/><path d="M874.4 180.4L884.5 171.4" stroke="rgb(22,205,22)" stroke-opacity="0.88" stroke-width="5.1" stroke-linecap="round" fill="none"/><path d="M843.0 201.7L866.0 232.0" stroke="rgb(28,175,28)" stroke-width="8.0" stroke-linecap="round" fill="none"/><path d="M843.0 201.7L866.0 232.0" stroke="rgb(10,100,10)" stroke-opacity="0.72" stroke-width="5.8" stroke-linecap="round" fill="none"/><ellipse cx="864.4" cy="231.9" rx="5.5" ry="5.0" transform="rotate(30 864.4 231.9)" fill="rgb(16,155,16)" fill-opacity="0.78" stroke="rgb(35,215,35)" stroke-width="1.3"/></g>
<text x="872.2" y="211.8" font-size="14.5" font-weight="bold" fill="#fff">IH</text>
<line x1="877.2" y1="218.5" x2="872.1" y2="223.2" stroke="#fff" stroke-width="1.8"/>
<path d="M868.8 226.3L870.8 221.1L874.2 224.7Z" fill="#fff"/>
<text x="812.3" y="245.9" font-size="14.5" font-weight="bold" fill="#fff">SV</text>
<line x1="817.9" y1="232.5" x2="820.4" y2="225.0" stroke="#fff" stroke-width="1.8"/>
<path d="M821.8 220.7L822.6 226.2L817.9 224.7Z" fill="#fff"/>
<g filter="url(#glow)" opacity="0.55"><ellipse cx="927.2" cy="209.5" rx="12.9" ry="11.8" transform="rotate(0 927.2 209.5)" fill="rgb(10,100,10)" fill-opacity="0.72" stroke="rgb(28,175,28)" stroke-width="1.3"/><ellipse cx="942.4" cy="225.2" rx="6.0" ry="6.0" transform="rotate(0 942.4 225.2)" fill="rgb(22,205,22)" fill-opacity="0.88" stroke="rgb(45,240,45)" stroke-width="1.3"/><ellipse cx="948.0" cy="206.2" rx="5.6" ry="5.6" transform="rotate(0 948.0 206.2)" fill="rgb(22,205,22)" fill-opacity="0.88" stroke="rgb(45,240,45)" stroke-width="1.3"/><ellipse cx="958.0" cy="206.0" rx="7.0" ry="6.0" transform="rotate(0 958.0 206.0)" fill="rgb(22,205,22)" fill-opacity="0.88" stroke="rgb(45,240,45)" stroke-width="1.3"/><ellipse cx="969.8" cy="193.3" rx="6.5" ry="4.0" transform="rotate(-30 969.8 193.3)" fill="rgb(22,205,22)" fill-opacity="0.88" stroke="rgb(45,240,45)" stroke-width="1.3"/><ellipse cx="982.7" cy="191.6" rx="5.0" ry="6.0" transform="rotate(0 982.7 191.6)" fill="rgb(22,205,22)" fill-opacity="0.88" stroke="rgb(45,240,45)" stroke-width="1.3"/><ellipse cx="991.6" cy="183.8" rx="4.0" ry="6.0" transform="rotate(20 991.6 183.8)" fill="rgb(16,155,16)" fill-opacity="0.78" stroke="rgb(35,215,35)" stroke-width="1.3"/><ellipse cx="978.2" cy="205.0" rx="6.0" ry="6.0" transform="rotate(0 978.2 205.0)" fill="rgb(22,205,22)" fill-opacity="0.88" stroke="rgb(45,240,45)" stroke-width="1.3"/><ellipse cx="993.9" cy="200.6" rx="5.0" ry="5.0" transform="rotate(0 993.9 200.6)" fill="rgb(22,205,22)" fill-opacity="0.88" stroke="rgb(45,240,45)" stroke-width="1.3"/><path d="M980.0 208.0L1004.0 220.7" stroke="rgb(35,215,35)" stroke-width="8.0" stroke-linecap="round" fill="none"/><path d="M980.0 208.0L1004.0 220.7" stroke="rgb(16,155,16)" stroke-opacity="0.78" stroke-width="5.8" stroke-linecap="round" fill="none"/><ellipse cx="1004.0" cy="220.7" rx="4.5" ry="4.5" transform="rotate(0 1004.0 220.7)" fill="rgb(22,205,22)" fill-opacity="0.88" stroke="rgb(45,240,45)" stroke-width="1.3"/><path d="M944.0 218.0L960.0 205.0" stroke="rgb(45,240,45)" stroke-width="8.0" stroke-linecap="round" fill="none"/><path d="M944.0 218.0L960.0 205.0" stroke="rgb(22,205,22)" stroke-opacity="0.88" stroke-width="5.8" stroke-linecap="round" fill="none"/><path d="M955.0 210.0L975.0 200.0" stroke="rgb(45,240,45)" stroke-width="8.0" stroke-linecap="round" fill="none"/><path d="M955.0 210.0L975.0 200.0" stroke="rgb(22,205,22)" stroke-opacity="0.88" stroke-width="5.8" stroke-linecap="round" fill="none"/></g>
<g filter="url(#soft)"><ellipse cx="927.2" cy="209.5" rx="12.9" ry="11.8" transform="rotate(0 927.2 209.5)" fill="rgb(10,100,10)" fill-opacity="0.72" stroke="rgb(28,175,28)" stroke-width="1.3"/><ellipse cx="942.4" cy="225.2" rx="6.0" ry="6.0" transform="rotate(0 942.4 225.2)" fill="rgb(22,205,22)" fill-opacity="0.88" stroke="rgb(45,240,45)" stroke-width="1.3"/><ellipse cx="948.0" cy="206.2" rx="5.6" ry="5.6" transform="rotate(0 948.0 206.2)" fill="rgb(22,205,22)" fill-opacity="0.88" stroke="rgb(45,240,45)" stroke-width="1.3"/><ellipse cx="958.0" cy="206.0" rx="7.0" ry="6.0" transform="rotate(0 958.0 206.0)" fill="rgb(22,205,22)" fill-opacity="0.88" stroke="rgb(45,240,45)" stroke-width="1.3"/><ellipse cx="969.8" cy="193.3" rx="6.5" ry="4.0" transform="rotate(-30 969.8 193.3)" fill="rgb(22,205,22)" fill-opacity="0.88" stroke="rgb(45,240,45)" stroke-width="1.3"/><ellipse cx="982.7" cy="191.6" rx="5.0" ry="6.0" transform="rotate(0 982.7 191.6)" fill="rgb(22,205,22)" fill-opacity="0.88" stroke="rgb(45,240,45)" stroke-width="1.3"/><ellipse cx="991.6" cy="183.8" rx="4.0" ry="6.0" transform="rotate(20 991.6 183.8)" fill="rgb(16,155,16)" fill-opacity="0.78" stroke="rgb(35,215,35)" stroke-width="1.3"/><ellipse cx="978.2" cy="205.0" rx="6.0" ry="6.0" transform="rotate(0 978.2 205.0)" fill="rgb(22,205,22)" fill-opacity="0.88" stroke="rgb(45,240,45)" stroke-width="1.3"/><ellipse cx="993.9" cy="200.6" rx="5.0" ry="5.0" transform="rotate(0 993.9 200.6)" fill="rgb(22,205,22)" fill-opacity="0.88" stroke="rgb(45,240,45)" stroke-width="1.3"/><path d="M980.0 208.0L1004.0 220.7" stroke="rgb(35,215,35)" stroke-width="8.0" stroke-linecap="round" fill="none"/><path d="M980.0 208.0L1004.0 220.7" stroke="rgb(16,155,16)" stroke-opacity="0.78" stroke-width="5.8" stroke-linecap="round" fill="none"/><ellipse cx="1004.0" cy="220.7" rx="4.5" ry="4.5" transform="rotate(0 1004.0 220.7)" fill="rgb(22,205,22)" fill-opacity="0.88" stroke="rgb(45,240,45)" stroke-width="1.3"/><path d="M944.0 218.0L960.0 205.0" stroke="rgb(45,240,45)" stroke-width="8.0" stroke-linecap="round" fill="none"/><path d="M944.0 218.0L960.0 205.0" stroke="rgb(22,205,22)" stroke-opacity="0.88" stroke-width="5.8" stroke-linecap="round" fill="none"/><path d="M955.0 210.0L975.0 200.0" stroke="rgb(45,240,45)" stroke-width="8.0" stroke-linecap="round" fill="none"/><path d="M955.0 210.0L975.0 200.0" stroke="rgb(22,205,22)" stroke-opacity="0.88" stroke-width="5.8" stroke-linecap="round" fill="none"/></g>
<text x="962.0" y="174.8" font-size="14.5" font-weight="bold" fill="#fff">IH</text>
<line x1="968.7" y1="178.7" x2="967.5" y2="183.3" stroke="#fff" stroke-width="1.8"/>
<path d="M966.4 187.7L965.2 182.2L970.1 183.5Z" fill="#fff"/>
<text x="916.0" y="248.7" font-size="14.5" font-weight="bold" fill="#fff">SV</text>
<line x1="921.6" y1="234.7" x2="923.7" y2="227.8" stroke="#fff" stroke-width="1.8"/>
<path d="M925.0 223.5L925.9 229.0L921.2 227.6Z" fill="#fff"/>
<g filter="url(#glow)" opacity="0.55"><path d="M701.3 334.5 L716.0 330.0 L727.6 325.4 L736.7 317.4 L747.0 319.7 L755.0 311.7 L763.0 310.5 L772.0 307.0 L781.0 300.0 L785.8 294.5 L785.0 285.0 L779.0 283.0 L773.0 277.4" stroke="rgb(45,240,45)" stroke-width="3.0" stroke-linecap="round" stroke-linejoin="round" fill="none"/><circle cx="700.3" cy="334.1" r="2.6" fill="rgb(45,240,45)" fill-opacity="0.9"/><circle cx="702.1" cy="334.8" r="1.7" fill="rgb(45,240,45)" fill-opacity="0.9"/><circle cx="709.9" cy="331.6" r="2.2" fill="rgb(45,240,45)" fill-opacity="0.9"/><circle cx="714.7" cy="328.6" r="3.1" fill="rgb(45,240,45)" fill-opacity="0.9"/><circle cx="703.7" cy="333.2" r="3.1" fill="rgb(45,240,45)" fill-opacity="0.9"/><circle cx="718.8" cy="329.1" r="3.1" fill="rgb(45,240,45)" fill-opacity="0.9"/><circle cx="719.2" cy="329.4" r="3.2" fill="rgb(45,240,45)" fill-opacity="0.9"/><path d="M719.2 329.4 L718.7 323.8" stroke="rgb(45,240,45)" stroke-width="2.0" stroke-linecap="round" stroke-linejoin="round" fill="none"/><circle cx="718.7" cy="323.8" r="2.2" fill="rgb(45,240,45)" fill-opacity="0.9"/><circle cx="719.4" cy="329.7" r="1.7" fill="rgb(45,240,45)" fill-opacity="0.9"/><circle cx="717.2" cy="328.5" r="2.0" fill="rgb(45,240,45)" fill-opacity="0.9"/><circle cx="734.5" cy="321.6" r="3.2" fill="rgb(45,240,45)" fill-opacity="0.9"/><circle cx="734.2" cy="318.1" r="2.5" fill="rgb(45,240,45)" fill-opacity="0.9"/><circle cx="732.5" cy="319.1" r="3.1" fill="rgb(45,240,45)" fill-opacity="0.9"/><circle cx="732.7" cy="319.5" r="3.0" fill="rgb(45,240,45)" fill-opacity="0.9"/><circle cx="746.0" cy="319.5" r="2.8" fill="rgb(45,240,45)" fill-opacity="0.9"/><circle cx="745.0" cy="318.1" r="1.6" fill="rgb(45,240,45)" fill-opacity="0.9"/><circle cx="737.0" cy="317.2" r="2.7" fill="rgb(45,240,45)" fill-opacity="0.9"/><circle cx="750.8" cy="316.8" r="1.9" fill="rgb(45,240,45)" fill-opacity="0.9"/><circle cx="752.3" cy="313.4" r="1.6" fill="rgb(45,240,45)" fill-opacity="0.9"/><circle cx="753.4" cy="315.3" r="2.8" fill="rgb(45,240,45)" fill-opacity="0.9"/><circle cx="762.6" cy="310.3" r="1.4" fill="rgb(45,240,45)" fill-opacity="0.9"/><circle cx="756.3" cy="310.0" r="1.6" fill="rgb(45,240,45)" fill-opacity="0.9"/><circle cx="763.8" cy="309.4" r="1.7" fill="rgb(45,240,45)" fill-opacity="0.9"/><circle cx="764.7" cy="309.3" r="2.7" fill="rgb(45,240,45)" fill-opacity="0.9"/><circle cx="770.4" cy="307.6" r="2.7" fill="rgb(45,240,45)" fill-opacity="0.9"/><circle cx="778.4" cy="300.9" r="1.6" fill="rgb(45,240,45)" fill-opacity="0.9"/><circle cx="780.0" cy="302.4" r="2.4" fill="rgb(45,240,45)" fill-opacity="0.9"/><circle cx="778.5" cy="300.8" r="1.7" fill="rgb(45,240,45)" fill-opacity="0.9"/><circle cx="782.3" cy="298.9" r="2.4" fill="rgb(45,240,45)" fill-opacity="0.9"/><circle cx="785.4" cy="296.7" r="1.5" fill="rgb(45,240,45)" fill-opacity="0.9"/><circle cx="784.4" cy="285.1" r="2.9" fill="rgb(45,240,45)" fill-opacity="0.9"/><circle cx="786.4" cy="290.3" r="1.8" fill="rgb(45,240,45)" fill-opacity="0.9"/><circle cx="786.1" cy="290.8" r="2.8" fill="rgb(45,240,45)" fill-opacity="0.9"/><path d="M786.1 290.8 L786.1 295.7" stroke="rgb(45,240,45)" stroke-width="2.0" stroke-linecap="round" stroke-linejoin="round" fill="none"/><circle cx="786.1" cy="295.7" r="2.0" fill="rgb(45,240,45)" fill-opacity="0.9"/><circle cx="783.3" cy="283.3" r="1.7" fill="rgb(45,240,45)" fill-opacity="0.9"/><path d="M783.3 283.3 L779.4 283.8" stroke="rgb(45,240,45)" stroke-width="2.0" stroke-linecap="round" stroke-linejoin="round" fill="none"/><circle cx="779.4" cy="283.8" r="2.0" fill="rgb(45,240,45)" fill-opacity="0.9"/><circle cx="783.5" cy="284.6" r="2.8" fill="rgb(45,240,45)" fill-opacity="0.9"/><circle cx="773.8" cy="277.6" r="2.8" fill="rgb(45,240,45)" fill-opacity="0.9"/><circle cx="776.4" cy="279.7" r="2.0" fill="rgb(45,240,45)" fill-opacity="0.9"/><path d="M776.4 279.7 L773.2 278.1" stroke="rgb(45,240,45)" stroke-width="2.0" stroke-linecap="round" stroke-linejoin="round" fill="none"/><circle cx="773.2" cy="278.1" r="1.9" fill="rgb(45,240,45)" fill-opacity="0.9"/><path d="M763.0 310.5 L772.0 319.7 L782.4 323.0 L793.8 325.4" stroke="rgb(45,240,45)" stroke-width="3.0" stroke-linecap="round" stroke-linejoin="round" fill="none"/><circle cx="769.2" cy="316.0" r="2.3" fill="rgb(45,240,45)" fill-opacity="0.9"/><circle cx="765.4" cy="313.9" r="2.4" fill="rgb(45,240,45)" fill-opacity="0.9"/><circle cx="767.7" cy="313.5" r="2.7" fill="rgb(45,240,45)" fill-opacity="0.9"/><path d="M767.7 313.5 L772.5 312.1" stroke="rgb(45,240,45)" stroke-width="2.0" stroke-linecap="round" stroke-linejoin="round" fill="none"/><circle cx="772.5" cy="312.1" r="1.9" fill="rgb(45,240,45)" fill-opacity="0.9"/><circle cx="772.7" cy="318.2" r="1.8" fill="rgb(45,240,45)" fill-opacity="0.9"/><circle cx="781.3" cy="321.6" r="2.0" fill="rgb(45,240,45)" fill-opacity="0.9"/><path d="M781.3 321.6 L777.4 324.1" stroke="rgb(45,240,45)" stroke-width="2.0" stroke-linecap="round" stroke-linejoin="round" fill="none"/><circle cx="777.4" cy="324.1" r="2.0" fill="rgb(45,240,45)" fill-opacity="0.9"/><circle cx="772.0" cy="321.1" r="2.2" fill="rgb(45,240,45)" fill-opacity="0.9"/><circle cx="777.5" cy="322.5" r="2.9" fill="rgb(45,240,45)" fill-opacity="0.9"/><circle cx="785.3" cy="322.6" r="2.9" fill="rgb(45,240,45)" fill-opacity="0.9"/><path d="M785.3 322.6 L780.1 320.2" stroke="rgb(45,240,45)" stroke-width="2.0" stroke-linecap="round" stroke-linejoin="round" fill="none"/><circle cx="780.1" cy="320.2" r="1.9" fill="rgb(45,240,45)" fill-opacity="0.9"/><circle cx="786.6" cy="325.3" r="2.6" fill="rgb(45,240,45)" fill-opacity="0.9"/><circle cx="783.5" cy="322.9" r="2.1" fill="rgb(45,240,45)" fill-opacity="0.9"/><path d="M763.0 294.5 L769.8 285.4" stroke="rgb(45,240,45)" stroke-width="3.0" stroke-linecap="round" stroke-linejoin="round" fill="none"/><circle cx="769.2" cy="288.5" r="3.0" fill="rgb(45,240,45)" fill-opacity="0.9"/><circle cx="767.6" cy="289.3" r="1.6" fill="rgb(45,240,45)" fill-opacity="0.9"/><circle cx="770.0" cy="285.4" r="2.1" fill="rgb(45,240,45)" fill-opacity="0.9"/><path d="M727.6 325.4 L725.0 315.0" stroke="rgb(45,240,45)" stroke-width="3.0" stroke-linecap="round" stroke-linejoin="round" fill="none"/><circle cx="728.1" cy="321.6" r="2.0" fill="rgb(45,240,45)" fill-opacity="0.9"/><circle cx="727.0" cy="320.3" r="1.7" fill="rgb(45,240,45)" fill-opacity="0.9"/><circle cx="728.1" cy="321.7" r="2.8" fill="rgb(45,240,45)" fill-opacity="0.9"/><path d="M728.1 321.7 L729.0 318.0" stroke="rgb(45,240,45)" stroke-width="2.0" stroke-linecap="round" stroke-linejoin="round" fill="none"/><circle cx="729.0" cy="318.0" r="2.4" fill="rgb(45,240,45)" fill-opacity="0.9"/><path d="M740.0 318.0 L742.0 306.0" stroke="rgb(45,240,45)" stroke-width="3.0" stroke-linecap="round" stroke-linejoin="round" fill="none"/><circle cx="739.6" cy="311.6" r="2.8" fill="rgb(45,240,45)" fill-opacity="0.9"/><circle cx="740.5" cy="312.7" r="2.3" fill="rgb(45,240,45)" fill-opacity="0.9"/><path d="M740.5 312.7 L737.4 310.4" stroke="rgb(45,240,45)" stroke-width="2.0" stroke-linecap="round" stroke-linejoin="round" fill="none"/><circle cx="737.4" cy="310.4" r="2.4" fill="rgb(45,240,45)" fill-opacity="0.9"/><circle cx="741.9" cy="310.3" r="2.7" fill="rgb(45,240,45)" fill-opacity="0.9"/><circle cx="742.9" cy="307.9" r="2.5" fill="rgb(45,240,45)" fill-opacity="0.9"/><path d="M748.0 318.0 L750.0 308.0" stroke="rgb(45,240,45)" stroke-width="3.0" stroke-linecap="round" stroke-linejoin="round" fill="none"/><circle cx="748.7" cy="316.2" r="2.5" fill="rgb(45,240,45)" fill-opacity="0.9"/><circle cx="751.1" cy="308.7" r="1.5" fill="rgb(45,240,45)" fill-opacity="0.9"/><circle cx="749.7" cy="316.4" r="2.4" fill="rgb(45,240,45)" fill-opacity="0.9"/><path d="M701.3 334.5 L715.0 340.0 L731.0 343.6" stroke="rgb(45,240,45)" stroke-width="3.0" stroke-linecap="round" stroke-linejoin="round" fill="none"/><circle cx="712.1" cy="339.1" r="1.7" fill="rgb(45,240,45)" fill-opacity="0.9"/><circle cx="704.3" cy="334.8" r="2.1" fill="rgb(45,240,45)" fill-opacity="0.9"/><circle cx="712.1" cy="339.0" r="2.6" fill="rgb(45,240,45)" fill-opacity="0.9"/><circle cx="704.2" cy="334.2" r="2.7" fill="rgb(45,240,45)" fill-opacity="0.9"/><circle cx="724.0" cy="343.2" r="2.8" fill="rgb(45,240,45)" fill-opacity="0.9"/><path d="M724.0 343.2 L727.9 340.2" stroke="rgb(45,240,45)" stroke-width="2.0" stroke-linecap="round" stroke-linejoin="round" fill="none"/><circle cx="727.9" cy="340.2" r="1.8" fill="rgb(45,240,45)" fill-opacity="0.9"/><circle cx="716.5" cy="341.5" r="2.9" fill="rgb(45,240,45)" fill-opacity="0.9"/><circle cx="716.6" cy="340.4" r="1.9" fill="rgb(45,240,45)" fill-opacity="0.9"/><path d="M716.6 340.4 L715.0 345.6" stroke="rgb(45,240,45)" stroke-width="2.0" stroke-linecap="round" stroke-linejoin="round" fill="none"/><circle cx="715.0" cy="345.6" r="1.6" fill="rgb(45,240,45)" fill-opacity="0.9"/><circle cx="721.5" cy="340.4" r="1.5" fill="rgb(45,240,45)" fill-opacity="0.9"/><path d="M721.5 340.4 L725.2 345.1" stroke="rgb(45,240,45)" stroke-width="2.0" stroke-linecap="round" stroke-linejoin="round" fill="none"/><circle cx="725.2" cy="345.1" r="2.4" fill="rgb(45,240,45)" fill-opacity="0.9"/><circle cx="727.5" cy="342.0" r="1.8" fill="rgb(45,240,45)" fill-opacity="0.9"/><circle cx="755.0" cy="311.7" r="3.0" fill="rgb(45,240,45)" fill-opacity="0.9"/><circle cx="793.8" cy="325.4" r="3.5" fill="rgb(45,240,45)" fill-opacity="0.9"/><circle cx="790.0" cy="322.0" r="3.0" fill="rgb(45,240,45)" fill-opacity="0.9"/><circle cx="780.0" cy="305.0" r="3.0" fill="rgb(45,240,45)" fill-opacity="0.9"/><circle cx="785.0" cy="312.0" r="2.5" fill="rgb(45,240,45)" fill-opacity="0.9"/><circle cx="776.0" cy="296.0" r="3.0" fill="rgb(45,240,45)" fill-opacity="0.9"/><circle cx="783.0" cy="290.0" r="2.5" fill="rgb(45,240,45)" fill-opacity="0.9"/><circle cx="770.0" cy="305.0" r="3.0" fill="rgb(45,240,45)" fill-opacity="0.9"/></g>
<g filter="url(#soft)"><path d="M701.3 334.5 L716.0 330.0 L727.6 325.4 L736.7 317.4 L747.0 319.7 L755.0 311.7 L763.0 310.5 L772.0 307.0 L781.0 300.0 L785.8 294.5 L785.0 285.0 L779.0 283.0 L773.0 277.4" stroke="rgb(45,240,45)" stroke-width="3.0" stroke-linecap="round" stroke-linejoin="round" fill="none"/><circle cx="700.3" cy="334.1" r="2.6" fill="rgb(45,240,45)" fill-opacity="0.9"/><circle cx="702.1" cy="334.8" r="1.7" fill="rgb(45,240,45)" fill-opacity="0.9"/><circle cx="709.9" cy="331.6" r="2.2" fill="rgb(45,240,45)" fill-opacity="0.9"/><circle cx="714.7" cy="328.6" r="3.1" fill="rgb(45,240,45)" fill-opacity="0.9"/><circle cx="703.7" cy="333.2" r="3.1" fill="rgb(45,240,45)" fill-opacity="0.9"/><circle cx="718.8" cy="329.1" r="3.1" fill="rgb(45,240,45)" fill-opacity="0.9"/><circle cx="719.2" cy="329.4" r="3.2" fill="rgb(45,240,45)" fill-opacity="0.9"/><path d="M719.2 329.4 L718.7 323.8" stroke="rgb(45,240,45)" stroke-width="2.0" stroke-linecap="round" stroke-linejoin="round" fill="none"/><circle cx="718.7" cy="323.8" r="2.2" fill="rgb(45,240,45)" fill-opacity="0.9"/><circle cx="719.4" cy="329.7" r="1.7" fill="rgb(45,240,45)" fill-opacity="0.9"/><circle cx="717.2" cy="328.5" r="2.0" fill="rgb(45,240,45)" fill-opacity="0.9"/><circle cx="734.5" cy="321.6" r="3.2" fill="rgb(45,240,45)" fill-opacity="0.9"/><circle cx="734.2" cy="318.1" r="2.5" fill="rgb(45,240,45)" fill-opacity="0.9"/><circle cx="732.5" cy="319.1" r="3.1" fill="rgb(45,240,45)" fill-opacity="0.9"/><circle cx="732.7" cy="319.5" r="3.0" fill="rgb(45,240,45)" fill-opacity="0.9"/><circle cx="746.0" cy="319.5" r="2.8" fill="rgb(45,240,45)" fill-opacity="0.9"/><circle cx="745.0" cy="318.1" r="1.6" fill="rgb(45,240,45)" fill-opacity="0.9"/><circle cx="737.0" cy="317.2" r="2.7" fill="rgb(45,240,45)" fill-opacity="0.9"/><circle cx="750.8" cy="316.8" r="1.9" fill="rgb(45,240,45)" fill-opacity="0.9"/><circle cx="752.3" cy="313.4" r="1.6" fill="rgb(45,240,45)" fill-opacity="0.9"/><circle cx="753.4" cy="315.3" r="2.8" fill="rgb(45,240,45)" fill-opacity="0.9"/><circle cx="762.6" cy="310.3" r="1.4" fill="rgb(45,240,45)" fill-opacity="0.9"/><circle cx="756.3" cy="310.0" r="1.6" fill="rgb(45,240,45)" fill-opacity="0.9"/><circle cx="763.8" cy="309.4" r="1.7" fill="rgb(45,240,45)" fill-opacity="0.9"/><circle cx="764.7" cy="309.3" r="2.7" fill="rgb(45,240,45)" fill-opacity="0.9"/><circle cx="770.4" cy="307.6" r="2.7" fill="rgb(45,240,45)" fill-opacity="0.9"/><circle cx="778.4" cy="300.9" r="1.6" fill="rgb(45,240,45)" fill-opacity="0.9"/><circle cx="780.0" cy="302.4" r="2.4" fill="rgb(45,240,45)" fill-opacity="0.9"/><circle cx="778.5" cy="300.8" r="1.7" fill="rgb(45,240,45)" fill-opacity="0.9"/><circle cx="782.3" cy="298.9" r="2.4" fill="rgb(45,240,45)" fill-opacity="0.9"/><circle cx="785.4" cy="296.7" r="1.5" fill="rgb(45,240,45)" fill-opacity="0.9"/><circle cx="784.4" cy="285.1" r="2.9" fill="rgb(45,240,45)" fill-opacity="0.9"/><circle cx="786.4" cy="290.3" r="1.8" fill="rgb(45,240,45)" fill-opacity="0.9"/><circle cx="786.1" cy="290.8" r="2.8" fill="rgb(45,240,45)" fill-opacity="0.9"/><path d="M786.1 290.8 L786.1 295.7" stroke="rgb(45,240,45)" stroke-width="2.0" stroke-linecap="round" stroke-linejoin="round" fill="none"/><circle cx="786.1" cy="295.7" r="2.0" fill="rgb(45,240,45)" fill-opacity="0.9"/><circle cx="783.3" cy="283.3" r="1.7" fill="rgb(45,240,45)" fill-opacity="0.9"/><path d="M783.3 283.3 L779.4 283.8" stroke="rgb(45,240,45)" stroke-width="2.0" stroke-linecap="round" stroke-linejoin="round" fill="none"/><circle cx="779.4" cy="283.8" r="2.0" fill="rgb(45,240,45)" fill-opacity="0.9"/><circle cx="783.5" cy="284.6" r="2.8" fill="rgb(45,240,45)" fill-opacity="0.9"/><circle cx="773.8" cy="277.6" r="2.8" fill="rgb(45,240,45)" fill-opacity="0.9"/><circle cx="776.4" cy="279.7" r="2.0" fill="rgb(45,240,45)" fill-opacity="0.9"/><path d="M776.4 279.7 L773.2 278.1" stroke="rgb(45,240,45)" stroke-width="2.0" stroke-linecap="round" stroke-linejoin="round" fill="none"/><circle cx="773.2" cy="278.1" r="1.9" fill="rgb(45,240,45)" fill-opacity="0.9"/><path d="M763.0 310.5 L772.0 319.7 L782.4 323.0 L793.8 325.4" stroke="rgb(45,240,45)" stroke-width="3.0" stroke-linecap="round" stroke-linejoin="round" fill="none"/><circle cx="769.2" cy="316.0" r="2.3" fill="rgb(45,240,45)" fill-opacity="0.9"/><circle cx="765.4" cy="313.9" r="2.4" fill="rgb(45,240,45)" fill-opacity="0.9"/><circle cx="767.7" cy="313.5" r="2.7" fill="rgb(45,240,45)" fill-opacity="0.9"/><path d="M767.7 313.5 L772.5 312.1" stroke="rgb(45,240,45)" stroke-width="2.0" stroke-linecap="round" stroke-linejoin="round" fill="none"/><circle cx="772.5" cy="312.1" r="1.9" fill="rgb(45,240,45)" fill-opacity="0.9"/><circle cx="772.7" cy="318.2" r="1.8" fill="rgb(45,240,45)" fill-opacity="0.9"/><circle cx="781.3" cy="321.6" r="2.0" fill="rgb(45,240,45)" fill-opacity="0.9"/><path d="M781.3 321.6 L777.4 324.1" stroke="rgb(45,240,45)" stroke-width="2.0" stroke-linecap="round" stroke-linejoin="round" fill="none"/><circle cx="777.4" cy="324.1" r="2.0" fill="rgb(45,240,45)" fill-opacity="0.9"/><circle cx="772.0" cy="321.1" r="2.2" fill="rgb(45,240,45)" fill-opacity="0.9"/><circle cx="777.5" cy="322.5" r="2.9" fill="rgb(45,240,45)" fill-opacity="0.9"/><circle cx="785.3" cy="322.6" r="2.9" fill="rgb(45,240,45)" fill-opacity="0.9"/><path d="M785.3 322.6 L780.1 320.2" stroke="rgb(45,240,45)" stroke-width="2.0" stroke-linecap="round" stroke-linejoin="round" fill="none"/><circle cx="780.1" cy="320.2" r="1.9" fill="rgb(45,240,45)" fill-opacity="0.9"/><circle cx="786.6" cy="325.3" r="2.6" fill="rgb(45,240,45)" fill-opacity="0.9"/><circle cx="783.5" cy="322.9" r="2.1" fill="rgb(45,240,45)" fill-opacity="0.9"/><path d="M763.0 294.5 L769.8 285.4" stroke="rgb(45,240,45)" stroke-width="3.0" stroke-linecap="round" stroke-linejoin="round" fill="none"/><circle cx="769.2" cy="288.5" r="3.0" fill="rgb(45,240,45)" fill-opacity="0.9"/><circle cx="767.6" cy="289.3" r="1.6" fill="rgb(45,240,45)" fill-opacity="0.9"/><circle cx="770.0" cy="285.4" r="2.1" fill="rgb(45,240,45)" fill-opacity="0.9"/><path d="M727.6 325.4 L725.0 315.0" stroke="rgb(45,240,45)" stroke-width="3.0" stroke-linecap="round" stroke-linejoin="round" fill="none"/><circle cx="728.1" cy="321.6" r="2.0" fill="rgb(45,240,45)" fill-opacity="0.9"/><circle cx="727.0" cy="320.3" r="1.7" fill="rgb(45,240,45)" fill-opacity="0.9"/><circle cx="728.1" cy="321.7" r="2.8" fill="rgb(45,240,45)" fill-opacity="0.9"/><path d="M728.1 321.7 L729.0 318.0" stroke="rgb(45,240,45)" stroke-width="2.0" stroke-linecap="round" stroke-linejoin="round" fill="none"/><circle cx="729.0" cy="318.0" r="2.4" fill="rgb(45,240,45)" fill-opacity="0.9"/><path d="M740.0 318.0 L742.0 306.0" stroke="rgb(45,240,45)" stroke-width="3.0" stroke-linecap="round" stroke-linejoin="round" fill="none"/><circle cx="739.6" cy="311.6" r="2.8" fill="rgb(45,240,45)" fill-opacity="0.9"/><circle cx="740.5" cy="312.7" r="2.3" fill="rgb(45,240,45)" fill-opacity="0.9"/><path d="M740.5 312.7 L737.4 310.4" stroke="rgb(45,240,45)" stroke-width="2.0" stroke-linecap="round" stroke-linejoin="round" fill="none"/><circle cx="737.4" cy="310.4" r="2.4" fill="rgb(45,240,45)" fill-opacity="0.9"/><circle cx="741.9" cy="310.3" r="2.7" fill="rgb(45,240,45)" fill-opacity="0.9"/><circle cx="742.9" cy="307.9" r="2.5" fill="rgb(45,240,45)" fill-opacity="0.9"/><path d="M748.0 318.0 L750.0 308.0" stroke="rgb(45,240,45)" stroke-width="3.0" stroke-linecap="round" stroke-linejoin="round" fill="none"/><circle cx="748.7" cy="316.2" r="2.5" fill="rgb(45,240,45)" fill-opacity="0.9"/><circle cx="751.1" cy="308.7" r="1.5" fill="rgb(45,240,45)" fill-opacity="0.9"/><circle cx="749.7" cy="316.4" r="2.4" fill="rgb(45,240,45)" fill-opacity="0.9"/><path d="M701.3 334.5 L715.0 340.0 L731.0 343.6" stroke="rgb(45,240,45)" stroke-width="3.0" stroke-linecap="round" stroke-linejoin="round" fill="none"/><circle cx="712.1" cy="339.1" r="1.7" fill="rgb(45,240,45)" fill-opacity="0.9"/><circle cx="704.3" cy="334.8" r="2.1" fill="rgb(45,240,45)" fill-opacity="0.9"/><circle cx="712.1" cy="339.0" r="2.6" fill="rgb(45,240,45)" fill-opacity="0.9"/><circle cx="704.2" cy="334.2" r="2.7" fill="rgb(45,240,45)" fill-opacity="0.9"/><circle cx="724.0" cy="343.2" r="2.8" fill="rgb(45,240,45)" fill-opacity="0.9"/><path d="M724.0 343.2 L727.9 340.2" stroke="rgb(45,240,45)" stroke-width="2.0" stroke-linecap="round" stroke-linejoin="round" fill="none"/><circle cx="727.9" cy="340.2" r="1.8" fill="rgb(45,240,45)" fill-opacity="0.9"/><circle cx="716.5" cy="341.5" r="2.9" fill="rgb(45,240,45)" fill-opacity="0.9"/><circle cx="716.6" cy="340.4" r="1.9" fill="rgb(45,240,45)" fill-opacity="0.9"/><path d="M716.6 340.4 L715.0 345.6" stroke="rgb(45,240,45)" stroke-width="2.0" stroke-linecap="round" stroke-linejoin="round" fill="none"/><circle cx="715.0" cy="345.6" r="1.6" fill="rgb(45,240,45)" fill-opacity="0.9"/><circle cx="721.5" cy="340.4" r="1.5" fill="rgb(45,240,45)" fill-opacity="0.9"/><path d="M721.5 340.4 L725.2 345.1" stroke="rgb(45,240,45)" stroke-width="2.0" stroke-linecap="round" stroke-linejoin="round" fill="none"/><circle cx="725.2" cy="345.1" r="2.4" fill="rgb(45,240,45)" fill-opacity="0.9"/><circle cx="727.5" cy="342.0" r="1.8" fill="rgb(45,240,45)" fill-opacity="0.9"/><circle cx="755.0" cy="311.7" r="3.0" fill="rgb(45,240,45)" fill-opacity="0.9"/><circle cx="793.8" cy="325.4" r="3.5" fill="rgb(45,240,45)" fill-opacity="0.9"/><circle cx="790.0" cy="322.0" r="3.0" fill="rgb(45,240,45)" fill-opacity="0.9"/><circle cx="780.0" cy="305.0" r="3.0" fill="rgb(45,240,45)" fill-opacity="0.9"/><circle cx="785.0" cy="312.0" r="2.5" fill="rgb(45,240,45)" fill-opacity="0.9"/><circle cx="776.0" cy="296.0" r="3.0" fill="rgb(45,240,45)" fill-opacity="0.9"/><circle cx="783.0" cy="290.0" r="2.5" fill="rgb(45,240,45)" fill-opacity="0.9"/><circle cx="770.0" cy="305.0" r="3.0" fill="rgb(45,240,45)" fill-opacity="0.9"/></g>
<circle cx="739" cy="344.8" r="6.5" fill="rgb(20,90,20)" fill-opacity="0.35" stroke="rgb(30,120,30)" stroke-width="0.8" stroke-dasharray="1 1"/>
<g filter="url(#glow)" opacity="0.55"><path d="M745.0 322.0L757.0 311.0" stroke="rgb(35,215,35)" stroke-width="5.0" stroke-linecap="round" fill="none"/><path d="M745.0 322.0L757.0 311.0" stroke="rgb(16,155,16)" stroke-opacity="0.78" stroke-width="2.8" stroke-linecap="round" fill="none"/></g>
<g filter="url(#soft)"><path d="M745.0 322.0L757.0 311.0" stroke="rgb(35,215,35)" stroke-width="5.0" stroke-linecap="round" fill="none"/><path d="M745.0 322.0L757.0 311.0" stroke="rgb(16,155,16)" stroke-opacity="0.78" stroke-width="2.8" stroke-linecap="round" fill="none"/></g>
<text x="701.9" y="366.5" font-size="14.5" font-weight="bold" fill="#fff">SH</text>
<line x1="708.7" y1="354.5" x2="711.1" y2="347.8" stroke="#fff" stroke-width="1.8"/>
<path d="M712.7 343.6L713.3 349.2L708.6 347.4Z" fill="#fff"/>
<g filter="url(#glow)" opacity="0.55"><path d="M823.3 272.8 L823.8 280.8 L823.3 288.8 L818.7 293.4 L821.6 301.4" stroke="rgb(45,240,45)" stroke-width="3.0" stroke-linecap="round" stroke-linejoin="round" fill="none"/><circle cx="822.5" cy="272.8" r="3.0" fill="rgb(45,240,45)" fill-opacity="0.9"/><circle cx="822.5" cy="278.6" r="2.9" fill="rgb(45,240,45)" fill-opacity="0.9"/><circle cx="824.5" cy="288.0" r="1.4" fill="rgb(45,240,45)" fill-opacity="0.9"/><circle cx="822.3" cy="282.5" r="2.9" fill="rgb(45,240,45)" fill-opacity="0.9"/><circle cx="818.0" cy="291.9" r="1.6" fill="rgb(45,240,45)" fill-opacity="0.9"/><circle cx="821.8" cy="287.9" r="1.5" fill="rgb(45,240,45)" fill-opacity="0.9"/><path d="M821.8 287.9 L819.7 290.7" stroke="rgb(45,240,45)" stroke-width="2.0" stroke-linecap="round" stroke-linejoin="round" fill="none"/><circle cx="819.7" cy="290.7" r="1.8" fill="rgb(45,240,45)" fill-opacity="0.9"/><circle cx="820.4" cy="301.8" r="2.7" fill="rgb(45,240,45)" fill-opacity="0.9"/><circle cx="821.2" cy="298.3" r="1.8" fill="rgb(45,240,45)" fill-opacity="0.9"/><path d="M823.3 288.8 L829.0 292.3 L832.4 301.4 L835.8 308.2 L842.7 311.7 L846.1 319.7 L853.0 324.2 L862.0 323.0 L871.2 320.8 L880.4 324.2 L888.4 329.9 L896.4 319.7 L901.0 310.5" stroke="rgb(45,240,45)" stroke-width="3.0" stroke-linecap="round" stroke-linejoin="round" fill="none"/><circle cx="824.4" cy="291.1" r="2.2" fill="rgb(45,240,45)" fill-opacity="0.9"/><path d="M824.4 291.1 L819.0 291.9" stroke="rgb(45,240,45)" stroke-width="2.0" stroke-linecap="round" stroke-linejoin="round" fill="none"/><circle cx="819.0" cy="291.9" r="2.0" fill="rgb(45,240,45)" fill-opacity="0.9"/><circle cx="826.1" cy="289.9" r="2.6" fill="rgb(45,240,45)" fill-opacity="0.9"/><path d="M826.1 289.9 L824.7 293.9" stroke="rgb(45,240,45)" stroke-width="2.0" stroke-linecap="round" stroke-linejoin="round" fill="none"/><circle cx="824.7" cy="293.9" r="1.7" fill="rgb(45,240,45)" fill-opacity="0.9"/><circle cx="827.6" cy="294.0" r="2.6" fill="rgb(45,240,45)" fill-opacity="0.9"/><circle cx="832.0" cy="297.9" r="2.5" fill="rgb(45,240,45)" fill-opacity="0.9"/><circle cx="829.9" cy="296.6" r="2.7" fill="rgb(45,240,45)" fill-opacity="0.9"/><circle cx="835.3" cy="307.5" r="2.9" fill="rgb(45,240,45)" fill-opacity="0.9"/><circle cx="832.1" cy="300.8" r="1.4" fill="rgb(45,240,45)" fill-opacity="0.9"/><circle cx="841.3" cy="311.1" r="2.0" fill="rgb(45,240,45)" fill-opacity="0.9"/><circle cx="842.0" cy="310.2" r="2.0" fill="rgb(45,240,45)" fill-opacity="0.9"/><circle cx="842.7" cy="315.3" r="3.2" fill="rgb(45,240,45)" fill-opacity="0.9"/><circle cx="845.6" cy="317.9" r="3.0" fill="rgb(45,240,45)" fill-opacity="0.9"/><circle cx="850.4" cy="324.8" r="1.7" fill="rgb(45,240,45)" fill-opacity="0.9"/><path d="M850.4 324.8 L854.2 321.3" stroke="rgb(45,240,45)" stroke-width="2.0" stroke-linecap="round" stroke-linejoin="round" fill="none"/><circle cx="854.2" cy="321.3" r="2.2" fill="rgb(45,240,45)" fill-opacity="0.9"/><circle cx="851.0" cy="322.0" r="2.0" fill="rgb(45,240,45)" fill-opacity="0.9"/><circle cx="861.0" cy="322.8" r="2.2" fill="rgb(45,240,45)" fill-opacity="0.9"/><circle cx="854.0" cy="323.5" r="2.4" fill="rgb(45,240,45)" fill-opacity="0.9"/><circle cx="854.9" cy="324.1" r="3.1" fill="rgb(45,240,45)" fill-opacity="0.9"/><circle cx="867.6" cy="321.6" r="3.2" fill="rgb(45,240,45)" fill-opacity="0.9"/><circle cx="861.7" cy="324.3" r="3.2" fill="rgb(45,240,45)" fill-opacity="0.9"/><circle cx="865.6" cy="322.3" r="1.7" fill="rgb(45,240,45)" fill-opacity="0.9"/><circle cx="876.5" cy="321.5" r="2.3" fill="rgb(45,240,45)" fill-opacity="0.9"/><circle cx="871.6" cy="322.1" r="3.1" fill="rgb(45,240,45)" fill-opacity="0.9"/><circle cx="876.0" cy="322.5" r="1.6" fill="rgb(45,240,45)" fill-opacity="0.9"/><circle cx="881.1" cy="324.1" r="2.1" fill="rgb(45,240,45)" fill-opacity="0.9"/><circle cx="886.6" cy="330.4" r="2.9" fill="rgb(45,240,45)" fill-opacity="0.9"/><circle cx="881.8" cy="325.0" r="2.4" fill="rgb(45,240,45)" fill-opacity="0.9"/><circle cx="893.4" cy="324.3" r="1.9" fill="rgb(45,240,45)" fill-opacity="0.9"/><circle cx="892.3" cy="327.4" r="1.4" fill="rgb(45,240,45)" fill-opacity="0.9"/><circle cx="890.5" cy="328.1" r="1.6" fill="rgb(45,240,45)" fill-opacity="0.9"/><circle cx="895.1" cy="322.0" r="1.5" fill="rgb(45,240,45)" fill-opacity="0.9"/><circle cx="897.9" cy="316.9" r="2.3" fill="rgb(45,240,45)" fill-opacity="0.9"/><path d="M897.9 316.9 L901.4 314.1" stroke="rgb(45,240,45)" stroke-width="2.0" stroke-linecap="round" stroke-linejoin="round" fill="none"/><circle cx="901.4" cy="314.1" r="1.9" fill="rgb(45,240,45)" fill-opacity="0.9"/><circle cx="901.4" cy="312.4" r="3.0" fill="rgb(45,240,45)" fill-opacity="0.9"/><circle cx="896.4" cy="319.0" r="2.8" fill="rgb(45,240,45)" fill-opacity="0.9"/><path d="M850.7 285.4 L851.8 294.5 L851.8 303.7 L853.0 310.5 L859.8 307.0 L866.7 314.0 L869.0 320.8" stroke="rgb(45,240,45)" stroke-width="3.0" stroke-linecap="round" stroke-linejoin="round" fill="none"/><circle cx="851.7" cy="291.6" r="2.4" fill="rgb(45,240,45)" fill-opacity="0.9"/><path d="M851.7 291.6 L848.0 290.5" stroke="rgb(45,240,45)" stroke-width="2.0" stroke-linecap="round" stroke-linejoin="round" fill="none"/><circle cx="848.0" cy="290.5" r="1.6" fill="rgb(45,240,45)" fill-opacity="0.9"/><circle cx="852.4" cy="290.3" r="2.6" fill="rgb(45,240,45)" fill-opacity="0.9"/><circle cx="852.6" cy="292.2" r="1.5" fill="rgb(45,240,45)" fill-opacity="0.9"/><circle cx="851.6" cy="298.2" r="1.7" fill="rgb(45,240,45)" fill-opacity="0.9"/><circle cx="850.5" cy="304.2" r="2.7" fill="rgb(45,240,45)" fill-opacity="0.9"/><circle cx="850.5" cy="300.5" r="3.2" fill="rgb(45,240,45)" fill-opacity="0.9"/><circle cx="850.9" cy="304.7" r="2.4" fill="rgb(45,240,45)" fill-opacity="0.9"/><circle cx="852.4" cy="304.8" r="2.4" fill="rgb(45,240,45)" fill-opacity="0.9"/><circle cx="854.8" cy="310.8" r="1.9" fill="rgb(45,240,45)" fill-opacity="0.9"/><circle cx="859.1" cy="307.4" r="1.6" fill="rgb(45,240,45)" fill-opacity="0.9"/><circle cx="864.0" cy="311.4" r="1.6" fill="rgb(45,240,45)" fill-opacity="0.9"/><circle cx="862.1" cy="307.4" r="1.8" fill="rgb(45,240,45)" fill-opacity="0.9"/><circle cx="860.5" cy="309.2" r="1.8" fill="rgb(45,240,45)" fill-opacity="0.9"/><circle cx="866.9" cy="315.2" r="2.2" fill="rgb(45,240,45)" fill-opacity="0.9"/><circle cx="866.1" cy="313.9" r="1.6" fill="rgb(45,240,45)" fill-opacity="0.9"/><path d="M809.6 344.8 L818.7 348.2 L827.8 350.5 L833.6 355.0 L842.7 348.2 L850.7 343.6 L858.7 341.3 L866.7 339.0 L871.2 335.6 L875.8 330.0" stroke="rgb(45,240,45)" stroke-width="3.0" stroke-linecap="round" stroke-linejoin="round" fill="none"/><circle cx="812.9" cy="347.0" r="3.1" fill="rgb(45,240,45)" fill-opacity="0.9"/><circle cx="814.7" cy="347.7" r="3.1" fill="rgb(45,240,45)" fill-opacity="0.9"/><circle cx="817.9" cy="348.2" r="2.0" fill="rgb(45,240,45)" fill-opacity="0.9"/><circle cx="823.7" cy="348.6" r="2.0" fill="rgb(45,240,45)" fill-opacity="0.9"/><path d="M823.7 348.6 L827.4 349.6" stroke="rgb(45,240,45)" stroke-width="2.0" stroke-linecap="round" stroke-linejoin="round" fill="none"/><circle cx="827.4" cy="349.6" r="2.4" fill="rgb(45,240,45)" fill-opacity="0.9"/><circle cx="818.2" cy="348.0" r="3.1" fill="rgb(45,240,45)" fill-opacity="0.9"/><circle cx="817.7" cy="347.8" r="1.4" fill="rgb(45,240,45)" fill-opacity="0.9"/><circle cx="827.2" cy="349.5" r="1.9" fill="rgb(45,240,45)" fill-opacity="0.9"/><path d="M827.2 349.5 L829.1 352.6" stroke="rgb(45,240,45)" stroke-width="2.0" stroke-linecap="round" stroke-linejoin="round" fill="none"/><circle cx="829.1" cy="352.6" r="1.8" fill="rgb(45,240,45)" fill-opacity="0.9"/><circle cx="831.1" cy="352.5" r="1.4" fill="rgb(45,240,45)" fill-opacity="0.9"/><circle cx="842.7" cy="349.8" r="2.2" fill="rgb(45,240,45)" fill-opacity="0.9"/><circle cx="835.2" cy="353.4" r="3.1" fill="rgb(45,240,45)" fill-opacity="0.9"/><circle cx="840.7" cy="350.7" r="2.5" fill="rgb(45,240,45)" fill-opacity="0.9"/><path d="M840.7 350.7 L843.4 354.4" stroke="rgb(45,240,45)" stroke-width="2.0" stroke-linecap="round" stroke-linejoin="round" fill="none"/><circle cx="843.4" cy="354.4" r="2.2" fill="rgb(45,240,45)" fill-opacity="0.9"/><circle cx="851.3" cy="342.9" r="1.7" fill="rgb(45,240,45)" fill-opacity="0.9"/><circle cx="844.0" cy="346.9" r="2.5" fill="rgb(45,240,45)" fill-opacity="0.9"/><circle cx="842.2" cy="348.2" r="2.7" fill="rgb(45,240,45)" fill-opacity="0.9"/><path d="M842.2 348.2 L836.9 349.3" stroke="rgb(45,240,45)" stroke-width="2.0" stroke-linecap="round" stroke-linejoin="round" fill="none"/><circle cx="836.9" cy="349.3" r="2.4" fill="rgb(45,240,45)" fill-opacity="0.9"/><circle cx="852.4" cy="343.0" r="2.4" fill="rgb(45,240,45)" fill-opacity="0.9"/><circle cx="855.7" cy="342.2" r="2.4" fill="rgb(45,240,45)" fill-opacity="0.9"/><circle cx="865.7" cy="338.1" r="2.8" fill="rgb(45,240,45)" fill-opacity="0.9"/><circle cx="861.2" cy="339.8" r="2.1" fill="rgb(45,240,45)" fill-opacity="0.9"/><circle cx="866.6" cy="338.5" r="2.1" fill="rgb(45,240,45)" fill-opacity="0.9"/><circle cx="871.7" cy="336.4" r="2.7" fill="rgb(45,240,45)" fill-opacity="0.9"/><circle cx="874.5" cy="330.1" r="2.5" fill="rgb(45,240,45)" fill-opacity="0.9"/><path d="M824.4 339.0 L827.8 350.5" stroke="rgb(45,240,45)" stroke-width="3.0" stroke-linecap="round" stroke-linejoin="round" fill="none"/><circle cx="826.1" cy="342.2" r="1.7" fill="rgb(45,240,45)" fill-opacity="0.9"/><circle cx="827.3" cy="348.6" r="2.7" fill="rgb(45,240,45)" fill-opacity="0.9"/><circle cx="827.9" cy="348.2" r="3.0" fill="rgb(45,240,45)" fill-opacity="0.9"/><path d="M832.4 343.6 L833.6 355.0" stroke="rgb(45,240,45)" stroke-width="3.0" stroke-linecap="round" stroke-linejoin="round" fill="none"/><circle cx="831.7" cy="347.4" r="2.6" fill="rgb(45,240,45)" fill-opacity="0.9"/><circle cx="832.4" cy="346.4" r="1.5" fill="rgb(45,240,45)" fill-opacity="0.9"/><circle cx="834.4" cy="353.0" r="2.3" fill="rgb(45,240,45)" fill-opacity="0.9"/><path d="M843.8 355.0 L842.7 348.2" stroke="rgb(45,240,45)" stroke-width="3.0" stroke-linecap="round" stroke-linejoin="round" fill="none"/><circle cx="843.3" cy="352.7" r="1.9" fill="rgb(45,240,45)" fill-opacity="0.9"/><circle cx="844.0" cy="350.1" r="3.0" fill="rgb(45,240,45)" fill-opacity="0.9"/><path d="M861.0 348.2 L858.7 341.3" stroke="rgb(45,240,45)" stroke-width="3.0" stroke-linecap="round" stroke-linejoin="round" fill="none"/><circle cx="860.0" cy="345.7" r="2.2" fill="rgb(45,240,45)" fill-opacity="0.9"/><circle cx="860.3" cy="346.3" r="1.9" fill="rgb(45,240,45)" fill-opacity="0.9"/><circle cx="880.4" cy="325.4" r="5.0" fill="rgb(45,240,45)" fill-opacity="0.9"/><circle cx="885.0" cy="328.0" r="4.0" fill="rgb(45,240,45)" fill-opacity="0.9"/></g>
<g filter="url(#soft)"><path d="M823.3 272.8 L823.8 280.8 L823.3 288.8 L818.7 293.4 L821.6 301.4" stroke="rgb(45,240,45)" stroke-width="3.0" stroke-linecap="round" stroke-linejoin="round" fill="none"/><circle cx="822.5" cy="272.8" r="3.0" fill="rgb(45,240,45)" fill-opacity="0.9"/><circle cx="822.5" cy="278.6" r="2.9" fill="rgb(45,240,45)" fill-opacity="0.9"/><circle cx="824.5" cy="288.0" r="1.4" fill="rgb(45,240,45)" fill-opacity="0.9"/><circle cx="822.3" cy="282.5" r="2.9" fill="rgb(45,240,45)" fill-opacity="0.9"/><circle cx="818.0" cy="291.9" r="1.6" fill="rgb(45,240,45)" fill-opacity="0.9"/><circle cx="821.8" cy="287.9" r="1.5" fill="rgb(45,240,45)" fill-opacity="0.9"/><path d="M821.8 287.9 L819.7 290.7" stroke="rgb(45,240,45)" stroke-width="2.0" stroke-linecap="round" stroke-linejoin="round" fill="none"/><circle cx="819.7" cy="290.7" r="1.8" fill="rgb(45,240,45)" fill-opacity="0.9"/><circle cx="820.4" cy="301.8" r="2.7" fill="rgb(45,240,45)" fill-opacity="0.9"/><circle cx="821.2" cy="298.3" r="1.8" fill="rgb(45,240,45)" fill-opacity="0.9"/><path d="M823.3 288.8 L829.0 292.3 L832.4 301.4 L835.8 308.2 L842.7 311.7 L846.1 319.7 L853.0 324.2 L862.0 323.0 L871.2 320.8 L880.4 324.2 L888.4 329.9 L896.4 319.7 L901.0 310.5" stroke="rgb(45,240,45)" stroke-width="3.0" stroke-linecap="round" stroke-linejoin="round" fill="none"/><circle cx="824.4" cy="291.1" r="2.2" fill="rgb(45,240,45)" fill-opacity="0.9"/><path d="M824.4 291.1 L819.0 291.9" stroke="rgb(45,240,45)" stroke-width="2.0" stroke-linecap="round" stroke-linejoin="round" fill="none"/><circle cx="819.0" cy="291.9" r="2.0" fill="rgb(45,240,45)" fill-opacity="0.9"/><circle cx="826.1" cy="289.9" r="2.6" fill="rgb(45,240,45)" fill-opacity="0.9"/><path d="M826.1 289.9 L824.7 293.9" stroke="rgb(45,240,45)" stroke-width="2.0" stroke-linecap="round" stroke-linejoin="round" fill="none"/><circle cx="824.7" cy="293.9" r="1.7" fill="rgb(45,240,45)" fill-opacity="0.9"/><circle cx="827.6" cy="294.0" r="2.6" fill="rgb(45,240,45)" fill-opacity="0.9"/><circle cx="832.0" cy="297.9" r="2.5" fill="rgb(45,240,45)" fill-opacity="0.9"/><circle cx="829.9" cy="296.6" r="2.7" fill="rgb(45,240,45)" fill-opacity="0.9"/><circle cx="835.3" cy="307.5" r="2.9" fill="rgb(45,240,45)" fill-opacity="0.9"/><circle cx="832.1" cy="300.8" r="1.4" fill="rgb(45,240,45)" fill-opacity="0.9"/><circle cx="841.3" cy="311.1" r="2.0" fill="rgb(45,240,45)" fill-opacity="0.9"/><circle cx="842.0" cy="310.2" r="2.0" fill="rgb(45,240,45)" fill-opacity="0.9"/><circle cx="842.7" cy="315.3" r="3.2" fill="rgb(45,240,45)" fill-opacity="0.9"/><circle cx="845.6" cy="317.9" r="3.0" fill="rgb(45,240,45)" fill-opacity="0.9"/><circle cx="850.4" cy="324.8" r="1.7" fill="rgb(45,240,45)" fill-opacity="0.9"/><path d="M850.4 324.8 L854.2 321.3" stroke="rgb(45,240,45)" stroke-width="2.0" stroke-linecap="round" stroke-linejoin="round" fill="none"/><circle cx="854.2" cy="321.3" r="2.2" fill="rgb(45,240,45)" fill-opacity="0.9"/><circle cx="851.0" cy="322.0" r="2.0" fill="rgb(45,240,45)" fill-opacity="0.9"/><circle cx="861.0" cy="322.8" r="2.2" fill="rgb(45,240,45)" fill-opacity="0.9"/><circle cx="854.0" cy="323.5" r="2.4" fill="rgb(45,240,45)" fill-opacity="0.9"/><circle cx="854.9" cy="324.1" r="3.1" fill="rgb(45,240,45)" fill-opacity="0.9"/><circle cx="867.6" cy="321.6" r="3.2" fill="rgb(45,240,45)" fill-opacity="0.9"/><circle cx="861.7" cy="324.3" r="3.2" fill="rgb(45,240,45)" fill-opacity="0.9"/><circle cx="865.6" cy="322.3" r="1.7" fill="rgb(45,240,45)" fill-opacity="0.9"/><circle cx="876.5" cy="321.5" r="2.3" fill="rgb(45,240,45)" fill-opacity="0.9"/><circle cx="871.6" cy="322.1" r="3.1" fill="rgb(45,240,45)" fill-opacity="0.9"/><circle cx="876.0" cy="322.5" r="1.6" fill="rgb(45,240,45)" fill-opacity="0.9"/><circle cx="881.1" cy="324.1" r="2.1" fill="rgb(45,240,45)" fill-opacity="0.9"/><circle cx="886.6" cy="330.4" r="2.9" fill="rgb(45,240,45)" fill-opacity="0.9"/><circle cx="881.8" cy="325.0" r="2.4" fill="rgb(45,240,45)" fill-opacity="0.9"/><circle cx="893.4" cy="324.3" r="1.9" fill="rgb(45,240,45)" fill-opacity="0.9"/><circle cx="892.3" cy="327.4" r="1.4" fill="rgb(45,240,45)" fill-opacity="0.9"/><circle cx="890.5" cy="328.1" r="1.6" fill="rgb(45,240,45)" fill-opacity="0.9"/><circle cx="895.1" cy="322.0" r="1.5" fill="rgb(45,240,45)" fill-opacity="0.9"/><circle cx="897.9" cy="316.9" r="2.3" fill="rgb(45,240,45)" fill-opacity="0.9"/><path d="M897.9 316.9 L901.4 314.1" stroke="rgb(45,240,45)" stroke-width="2.0" stroke-linecap="round" stroke-linejoin="round" fill="none"/><circle cx="901.4" cy="314.1" r="1.9" fill="rgb(45,240,45)" fill-opacity="0.9"/><circle cx="901.4" cy="312.4" r="3.0" fill="rgb(45,240,45)" fill-opacity="0.9"/><circle cx="896.4" cy="319.0" r="2.8" fill="rgb(45,240,45)" fill-opacity="0.9"/><path d="M850.7 285.4 L851.8 294.5 L851.8 303.7 L853.0 310.5 L859.8 307.0 L866.7 314.0 L869.0 320.8" stroke="rgb(45,240,45)" stroke-width="3.0" stroke-linecap="round" stroke-linejoin="round" fill="none"/><circle cx="851.7" cy="291.6" r="2.4" fill="rgb(45,240,45)" fill-opacity="0.9"/><path d="M851.7 291.6 L848.0 290.5" stroke="rgb(45,240,45)" stroke-width="2.0" stroke-linecap="round" stroke-linejoin="round" fill="none"/><circle cx="848.0" cy="290.5" r="1.6" fill="rgb(45,240,45)" fill-opacity="0.9"/><circle cx="852.4" cy="290.3" r="2.6" fill="rgb(45,240,45)" fill-opacity="0.9"/><circle cx="852.6" cy="292.2" r="1.5" fill="rgb(45,240,45)" fill-opacity="0.9"/><circle cx="851.6" cy="298.2" r="1.7" fill="rgb(45,240,45)" fill-opacity="0.9"/><circle cx="850.5" cy="304.2" r="2.7" fill="rgb(45,240,45)" fill-opacity="0.9"/><circle cx="850.5" cy="300.5" r="3.2" fill="rgb(45,240,45)" fill-opacity="0.9"/><circle cx="850.9" cy="304.7" r="2.4" fill="rgb(45,240,45)" fill-opacity="0.9"/><circle cx="852.4" cy="304.8" r="2.4" fill="rgb(45,240,45)" fill-opacity="0.9"/><circle cx="854.8" cy="310.8" r="1.9" fill="rgb(45,240,45)" fill-opacity="0.9"/><circle cx="859.1" cy="307.4" r="1.6" fill="rgb(45,240,45)" fill-opacity="0.9"/><circle cx="864.0" cy="311.4" r="1.6" fill="rgb(45,240,45)" fill-opacity="0.9"/><circle cx="862.1" cy="307.4" r="1.8" fill="rgb(45,240,45)" fill-opacity="0.9"/><circle cx="860.5" cy="309.2" r="1.8" fill="rgb(45,240,45)" fill-opacity="0.9"/><circle cx="866.9" cy="315.2" r="2.2" fill="rgb(45,240,45)" fill-opacity="0.9"/><circle cx="866.1" cy="313.9" r="1.6" fill="rgb(45,240,45)" fill-opacity="0.9"/><path d="M809.6 344.8 L818.7 348.2 L827.8 350.5 L833.6 355.0 L842.7 348.2 L850.7 343.6 L858.7 341.3 L866.7 339.0 L871.2 335.6 L875.8 330.0" stroke="rgb(45,240,45)" stroke-width="3.0" stroke-linecap="round" stroke-linejoin="round" fill="none"/><circle cx="812.9" cy="347.0" r="3.1" fill="rgb(45,240,45)" fill-opacity="0.9"/><circle cx="814.7" cy="347.7" r="3.1" fill="rgb(45,240,45)" fill-opacity="0.9"/><circle cx="817.9" cy="348.2" r="2.0" fill="rgb(45,240,45)" fill-opacity="0.9"/><circle cx="823.7" cy="348.6" r="2.0" fill="rgb(45,240,45)" fill-opacity="0.9"/><path d="M823.7 348.6 L827.4 349.6" stroke="rgb(45,240,45)" stroke-width="2.0" stroke-linecap="round" stroke-linejoin="round" fill="none"/><circle cx="827.4" cy="349.6" r="2.4" fill="rgb(45,240,45)" fill-opacity="0.9"/><circle cx="818.2" cy="348.0" r="3.1" fill="rgb(45,240,45)" fill-opacity="0.9"/><circle cx="817.7" cy="347.8" r="1.4" fill="rgb(45,240,45)" fill-opacity="0.9"/><circle cx="827.2" cy="349.5" r="1.9" fill="rgb(45,240,45)" fill-opacity="0.9"/><path d="M827.2 349.5 L829.1 352.6" stroke="rgb(45,240,45)" stroke-width="2.0" stroke-linecap="round" stroke-linejoin="round" fill="none"/><circle cx="829.1" cy="352.6" r="1.8" fill="rgb(45,240,45)" fill-opacity="0.9"/><circle cx="831.1" cy="352.5" r="1.4" fill="rgb(45,240,45)" fill-opacity="0.9"/><circle cx="842.7" cy="349.8" r="2.2" fill="rgb(45,240,45)" fill-opacity="0.9"/><circle cx="835.2" cy="353.4" r="3.1" fill="rgb(45,240,45)" fill-opacity="0.9"/><circle cx="840.7" cy="350.7" r="2.5" fill="rgb(45,240,45)" fill-opacity="0.9"/><path d="M840.7 350.7 L843.4 354.4" stroke="rgb(45,240,45)" stroke-width="2.0" stroke-linecap="round" stroke-linejoin="round" fill="none"/><circle cx="843.4" cy="354.4" r="2.2" fill="rgb(45,240,45)" fill-opacity="0.9"/><circle cx="851.3" cy="342.9" r="1.7" fill="rgb(45,240,45)" fill-opacity="0.9"/><circle cx="844.0" cy="346.9" r="2.5" fill="rgb(45,240,45)" fill-opacity="0.9"/><circle cx="842.2" cy="348.2" r="2.7" fill="rgb(45,240,45)" fill-opacity="0.9"/><path d="M842.2 348.2 L836.9 349.3" stroke="rgb(45,240,45)" stroke-width="2.0" stroke-linecap="round" stroke-linejoin="round" fill="none"/><circle cx="836.9" cy="349.3" r="2.4" fill="rgb(45,240,45)" fill-opacity="0.9"/><circle cx="852.4" cy="343.0" r="2.4" fill="rgb(45,240,45)" fill-opacity="0.9"/><circle cx="855.7" cy="342.2" r="2.4" fill="rgb(45,240,45)" fill-opacity="0.9"/><circle cx="865.7" cy="338.1" r="2.8" fill="rgb(45,240,45)" fill-opacity="0.9"/><circle cx="861.2" cy="339.8" r="2.1" fill="rgb(45,240,45)" fill-opacity="0.9"/><circle cx="866.6" cy="338.5" r="2.1" fill="rgb(45,240,45)" fill-opacity="0.9"/><circle cx="871.7" cy="336.4" r="2.7" fill="rgb(45,240,45)" fill-opacity="0.9"/><circle cx="874.5" cy="330.1" r="2.5" fill="rgb(45,240,45)" fill-opacity="0.9"/><path d="M824.4 339.0 L827.8 350.5" stroke="rgb(45,240,45)" stroke-width="3.0" stroke-linecap="round" stroke-linejoin="round" fill="none"/><circle cx="826.1" cy="342.2" r="1.7" fill="rgb(45,240,45)" fill-opacity="0.9"/><circle cx="827.3" cy="348.6" r="2.7" fill="rgb(45,240,45)" fill-opacity="0.9"/><circle cx="827.9" cy="348.2" r="3.0" fill="rgb(45,240,45)" fill-opacity="0.9"/><path d="M832.4 343.6 L833.6 355.0" stroke="rgb(45,240,45)" stroke-width="3.0" stroke-linecap="round" stroke-linejoin="round" fill="none"/><circle cx="831.7" cy="347.4" r="2.6" fill="rgb(45,240,45)" fill-opacity="0.9"/><circle cx="832.4" cy="346.4" r="1.5" fill="rgb(45,240,45)" fill-opacity="0.9"/><circle cx="834.4" cy="353.0" r="2.3" fill="rgb(45,240,45)" fill-opacity="0.9"/><path d="M843.8 355.0 L842.7 348.2" stroke="rgb(45,240,45)" stroke-width="3.0" stroke-linecap="round" stroke-linejoin="round" fill="none"/><circle cx="843.3" cy="352.7" r="1.9" fill="rgb(45,240,45)" fill-opacity="0.9"/><circle cx="844.0" cy="350.1" r="3.0" fill="rgb(45,240,45)" fill-opacity="0.9"/><path d="M861.0 348.2 L858.7 341.3" stroke="rgb(45,240,45)" stroke-width="3.0" stroke-linecap="round" stroke-linejoin="round" fill="none"/><circle cx="860.0" cy="345.7" r="2.2" fill="rgb(45,240,45)" fill-opacity="0.9"/><circle cx="860.3" cy="346.3" r="1.9" fill="rgb(45,240,45)" fill-opacity="0.9"/><circle cx="880.4" cy="325.4" r="5.0" fill="rgb(45,240,45)" fill-opacity="0.9"/><circle cx="885.0" cy="328.0" r="4.0" fill="rgb(45,240,45)" fill-opacity="0.9"/></g>
<text x="807.9" y="332.2" font-size="14.5" font-weight="bold" fill="#fff">SH</text>
<line x1="817.0" y1="319.0" x2="819.4" y2="312.4" stroke="#fff" stroke-width="1.8"/>
<path d="M821.0 308.2L821.6 313.8L816.9 312.0Z" fill="#fff"/>
<g filter="url(#glow)" opacity="0.55"><circle cx="979.2" cy="289.6" r="2.9" fill="rgb(45,240,45)" fill-opacity="0.9"/><circle cx="966.4" cy="290.3" r="3.0" fill="rgb(45,240,45)" fill-opacity="0.9"/><circle cx="993.8" cy="275.4" r="2.5" fill="rgb(45,240,45)" fill-opacity="0.9"/><circle cx="981.2" cy="285.5" r="3.1" fill="rgb(45,240,45)" fill-opacity="0.9"/><circle cx="977.3" cy="283.6" r="3.1" fill="rgb(45,240,45)" fill-opacity="0.9"/><circle cx="982.0" cy="279.0" r="1.9" fill="rgb(45,240,45)" fill-opacity="0.9"/><circle cx="975.9" cy="271.1" r="2.5" fill="rgb(45,240,45)" fill-opacity="0.9"/><circle cx="986.3" cy="283.0" r="2.9" fill="rgb(45,240,45)" fill-opacity="0.9"/><circle cx="994.7" cy="287.2" r="2.6" fill="rgb(45,240,45)" fill-opacity="0.9"/><circle cx="959.5" cy="271.2" r="3.2" fill="rgb(45,240,45)" fill-opacity="0.9"/><circle cx="966.7" cy="276.2" r="3.0" fill="rgb(45,240,45)" fill-opacity="0.9"/><circle cx="986.9" cy="273.3" r="1.9" fill="rgb(45,240,45)" fill-opacity="0.9"/><circle cx="964.9" cy="278.1" r="1.3" fill="rgb(45,240,45)" fill-opacity="0.9"/><circle cx="977.2" cy="279.1" r="2.0" fill="rgb(45,240,45)" fill-opacity="0.9"/><circle cx="962.4" cy="272.9" r="1.4" fill="rgb(45,240,45)" fill-opacity="0.9"/><circle cx="992.3" cy="293.3" r="2.4" fill="rgb(45,240,45)" fill-opacity="0.9"/><circle cx="959.8" cy="274.2" r="1.5" fill="rgb(45,240,45)" fill-opacity="0.9"/><circle cx="968.1" cy="271.2" r="1.8" fill="rgb(45,240,45)" fill-opacity="0.9"/><circle cx="963.2" cy="275.6" r="2.5" fill="rgb(45,240,45)" fill-opacity="0.9"/><circle cx="974.3" cy="284.6" r="2.0" fill="rgb(45,240,45)" fill-opacity="0.9"/><circle cx="977.8" cy="294.5" r="1.9" fill="rgb(45,240,45)" fill-opacity="0.9"/><circle cx="957.4" cy="284.8" r="2.0" fill="rgb(45,240,45)" fill-opacity="0.9"/><circle cx="988.3" cy="273.0" r="3.0" fill="rgb(45,240,45)" fill-opacity="0.9"/><circle cx="955.0" cy="286.8" r="2.1" fill="rgb(45,240,45)" fill-opacity="0.9"/><circle cx="968.1" cy="297.8" r="2.6" fill="rgb(45,240,45)" fill-opacity="0.9"/><circle cx="961.5" cy="285.2" r="2.5" fill="rgb(45,240,45)" fill-opacity="0.9"/><circle cx="955.9" cy="272.2" r="2.4" fill="rgb(45,240,45)" fill-opacity="0.9"/><circle cx="986.1" cy="284.2" r="2.1" fill="rgb(45,240,45)" fill-opacity="0.9"/><circle cx="976.4" cy="277.7" r="3.0" fill="rgb(45,240,45)" fill-opacity="0.9"/><circle cx="996.1" cy="284.8" r="1.3" fill="rgb(45,240,45)" fill-opacity="0.9"/><circle cx="971.6" cy="295.1" r="1.9" fill="rgb(45,240,45)" fill-opacity="0.9"/><circle cx="959.0" cy="275.3" r="2.7" fill="rgb(45,240,45)" fill-opacity="0.9"/><circle cx="981.4" cy="278.6" r="2.5" fill="rgb(45,240,45)" fill-opacity="0.9"/><circle cx="987.4" cy="300.3" r="2.9" fill="rgb(45,240,45)" fill-opacity="0.9"/><circle cx="973.2" cy="295.3" r="3.1" fill="rgb(45,240,45)" fill-opacity="0.9"/><circle cx="992.1" cy="293.4" r="2.4" fill="rgb(45,240,45)" fill-opacity="0.9"/><circle cx="976.6" cy="296.6" r="2.5" fill="rgb(45,240,45)" fill-opacity="0.9"/><circle cx="985.7" cy="276.7" r="1.5" fill="rgb(45,240,45)" fill-opacity="0.9"/><circle cx="966.1" cy="288.1" r="2.4" fill="rgb(45,240,45)" fill-opacity="0.9"/><circle cx="963.0" cy="275.4" r="3.1" fill="rgb(45,240,45)" fill-opacity="0.9"/><circle cx="957.5" cy="299.0" r="2.8" fill="rgb(45,240,45)" fill-opacity="0.9"/><circle cx="979.3" cy="301.3" r="2.6" fill="rgb(45,240,45)" fill-opacity="0.9"/><circle cx="954.7" cy="299.5" r="2.1" fill="rgb(45,240,45)" fill-opacity="0.9"/><circle cx="994.2" cy="295.4" r="1.6" fill="rgb(45,240,45)" fill-opacity="0.9"/><circle cx="956.1" cy="270.1" r="2.8" fill="rgb(45,240,45)" fill-opacity="0.9"/><circle cx="988.7" cy="276.7" r="1.5" fill="rgb(45,240,45)" fill-opacity="0.9"/><circle cx="970.3" cy="295.0" r="2.7" fill="rgb(45,240,45)" fill-opacity="0.9"/><circle cx="992.0" cy="300.4" r="2.7" fill="rgb(45,240,45)" fill-opacity="0.9"/><circle cx="990.7" cy="269.9" r="1.3" fill="rgb(45,240,45)" fill-opacity="0.9"/><circle cx="991.8" cy="289.2" r="1.9" fill="rgb(45,240,45)" fill-opacity="0.9"/><circle cx="960.0" cy="280.0" r="1.9" fill="rgb(45,240,45)" fill-opacity="0.9"/><circle cx="975.9" cy="283.8" r="1.7" fill="rgb(45,240,45)" fill-opacity="0.9"/><circle cx="958.0" cy="275.9" r="1.5" fill="rgb(45,240,45)" fill-opacity="0.9"/><circle cx="958.8" cy="282.7" r="1.5" fill="rgb(45,240,45)" fill-opacity="0.9"/><circle cx="989.1" cy="286.8" r="2.2" fill="rgb(45,240,45)" fill-opacity="0.9"/><circle cx="982.1" cy="276.9" r="1.3" fill="rgb(45,240,45)" fill-opacity="0.9"/><circle cx="957.8" cy="280.2" r="2.0" fill="rgb(45,240,45)" fill-opacity="0.9"/><circle cx="965.4" cy="279.2" r="2.9" fill="rgb(45,240,45)" fill-opacity="0.9"/><circle cx="954.8" cy="283.8" r="2.0" fill="rgb(45,240,45)" fill-opacity="0.9"/><circle cx="966.6" cy="292.6" r="1.7" fill="rgb(45,240,45)" fill-opacity="0.9"/><circle cx="956.2" cy="274.5" r="3.2" fill="rgb(45,240,45)" fill-opacity="0.9"/><circle cx="969.4" cy="273.1" r="3.1" fill="rgb(45,240,45)" fill-opacity="0.9"/><circle cx="982.4" cy="300.0" r="1.9" fill="rgb(45,240,45)" fill-opacity="0.9"/><circle cx="989.6" cy="270.7" r="1.8" fill="rgb(45,240,45)" fill-opacity="0.9"/><circle cx="988.9" cy="285.9" r="2.8" fill="rgb(45,240,45)" fill-opacity="0.9"/><circle cx="971.1" cy="297.4" r="1.4" fill="rgb(45,240,45)" fill-opacity="0.9"/><circle cx="981.5" cy="275.4" r="1.7" fill="rgb(45,240,45)" fill-opacity="0.9"/><circle cx="992.7" cy="283.2" r="2.8" fill="rgb(45,240,45)" fill-opacity="0.9"/><circle cx="966.7" cy="292.8" r="3.0" fill="rgb(45,240,45)" fill-opacity="0.9"/><circle cx="981.6" cy="276.9" r="2.6" fill="rgb(45,240,45)" fill-opacity="0.9"/><path d="M992.1 293.4 L986.1 284.2" stroke="rgb(45,240,45)" stroke-width="1.6" stroke-linecap="round" stroke-linejoin="round" fill="none"/><path d="M977.3 283.6 L977.2 279.1" stroke="rgb(45,240,45)" stroke-width="1.6" stroke-linecap="round" stroke-linejoin="round" fill="none"/><path d="M968.1 271.2 L981.5 275.4" stroke="rgb(45,240,45)" stroke-width="1.6" stroke-linecap="round" stroke-linejoin="round" fill="none"/><path d="M958.8 282.7 L963.2 275.6" stroke="rgb(45,240,45)" stroke-width="1.6" stroke-linecap="round" stroke-linejoin="round" fill="none"/><path d="M988.9 285.9 L986.9 273.3" stroke="rgb(45,240,45)" stroke-width="1.6" stroke-linecap="round" stroke-linejoin="round" fill="none"/><path d="M960.0 280.0 L964.9 278.1" stroke="rgb(45,240,45)" stroke-width="1.6" stroke-linecap="round" stroke-linejoin="round" fill="none"/><path d="M964.9 278.1 L957.8 280.2" stroke="rgb(45,240,45)" stroke-width="1.6" stroke-linecap="round" stroke-linejoin="round" fill="none"/><path d="M989.6 270.7 L986.1 284.2" stroke="rgb(45,240,45)" stroke-width="1.6" stroke-linecap="round" stroke-linejoin="round" fill="none"/><path d="M981.6 276.9 L982.1 276.9" stroke="rgb(45,240,45)" stroke-width="1.6" stroke-linecap="round" stroke-linejoin="round" fill="none"/><circle cx="991.4" cy="326.9" r="2.1" fill="rgb(45,240,45)" fill-opacity="0.9"/><circle cx="932.5" cy="311.2" r="2.2" fill="rgb(45,240,45)" fill-opacity="0.9"/><circle cx="994.5" cy="306.4" r="1.9" fill="rgb(45,240,45)" fill-opacity="0.9"/><circle cx="951.4" cy="328.5" r="1.9" fill="rgb(45,240,45)" fill-opacity="0.9"/><circle cx="934.2" cy="335.6" r="1.8" fill="rgb(45,240,45)" fill-opacity="0.9"/><circle cx="959.8" cy="321.4" r="2.0" fill="rgb(45,240,45)" fill-opacity="0.9"/><circle cx="976.5" cy="312.1" r="2.1" fill="rgb(45,240,45)" fill-opacity="0.9"/><circle cx="947.3" cy="328.4" r="2.5" fill="rgb(45,240,45)" fill-opacity="0.9"/><circle cx="995.7" cy="329.0" r="3.1" fill="rgb(45,240,45)" fill-opacity="0.9"/><circle cx="970.0" cy="331.3" r="1.8" fill="rgb(45,240,45)" fill-opacity="0.9"/><circle cx="933.5" cy="329.4" r="1.6" fill="rgb(45,240,45)" fill-opacity="0.9"/><circle cx="965.1" cy="312.3" r="2.9" fill="rgb(45,240,45)" fill-opacity="0.9"/><circle cx="950.3" cy="331.4" r="2.3" fill="rgb(45,240,45)" fill-opacity="0.9"/><circle cx="952.4" cy="309.3" r="2.9" fill="rgb(45,240,45)" fill-opacity="0.9"/><circle cx="974.8" cy="330.7" r="2.0" fill="rgb(45,240,45)" fill-opacity="0.9"/><circle cx="994.1" cy="324.3" r="2.3" fill="rgb(45,240,45)" fill-opacity="0.9"/><circle cx="962.1" cy="332.0" r="1.5" fill="rgb(45,240,45)" fill-opacity="0.9"/><circle cx="960.8" cy="315.3" r="1.9" fill="rgb(45,240,45)" fill-opacity="0.9"/><circle cx="971.2" cy="328.2" r="2.0" fill="rgb(45,240,45)" fill-opacity="0.9"/><circle cx="941.0" cy="315.5" r="2.7" fill="rgb(45,240,45)" fill-opacity="0.9"/><circle cx="961.9" cy="330.7" r="2.0" fill="rgb(45,240,45)" fill-opacity="0.9"/><circle cx="980.4" cy="314.8" r="2.6" fill="rgb(45,240,45)" fill-opacity="0.9"/><circle cx="931.7" cy="310.9" r="3.1" fill="rgb(45,240,45)" fill-opacity="0.9"/><circle cx="958.6" cy="328.5" r="2.9" fill="rgb(45,240,45)" fill-opacity="0.9"/><circle cx="943.5" cy="310.6" r="2.2" fill="rgb(45,240,45)" fill-opacity="0.9"/><circle cx="939.8" cy="313.4" r="3.1" fill="rgb(45,240,45)" fill-opacity="0.9"/><circle cx="988.0" cy="324.2" r="2.1" fill="rgb(45,240,45)" fill-opacity="0.9"/><circle cx="989.3" cy="326.9" r="2.2" fill="rgb(45,240,45)" fill-opacity="0.9"/><circle cx="939.6" cy="324.9" r="2.5" fill="rgb(45,240,45)" fill-opacity="0.9"/><circle cx="941.9" cy="322.9" r="1.8" fill="rgb(45,240,45)" fill-opacity="0.9"/><circle cx="971.4" cy="320.7" r="2.7" fill="rgb(45,240,45)" fill-opacity="0.9"/><circle cx="942.8" cy="314.5" r="2.7" fill="rgb(45,240,45)" fill-opacity="0.9"/><circle cx="987.3" cy="309.5" r="1.4" fill="rgb(45,240,45)" fill-opacity="0.9"/><circle cx="933.4" cy="311.3" r="1.6" fill="rgb(45,240,45)" fill-opacity="0.9"/><circle cx="975.0" cy="322.6" r="1.5" fill="rgb(45,240,45)" fill-opacity="0.9"/><circle cx="962.2" cy="312.2" r="1.3" fill="rgb(45,240,45)" fill-opacity="0.9"/><circle cx="984.5" cy="333.9" r="2.4" fill="rgb(45,240,45)" fill-opacity="0.9"/><circle cx="967.8" cy="319.3" r="1.4" fill="rgb(45,240,45)" fill-opacity="0.9"/><circle cx="967.1" cy="306.6" r="2.2" fill="rgb(45,240,45)" fill-opacity="0.9"/><circle cx="937.3" cy="311.8" r="1.6" fill="rgb(45,240,45)" fill-opacity="0.9"/><circle cx="941.6" cy="328.4" r="3.2" fill="rgb(45,240,45)" fill-opacity="0.9"/><circle cx="952.4" cy="331.6" r="2.7" fill="rgb(45,240,45)" fill-opacity="0.9"/><circle cx="965.2" cy="326.0" r="1.6" fill="rgb(45,240,45)" fill-opacity="0.9"/><circle cx="968.6" cy="312.3" r="1.9" fill="rgb(45,240,45)" fill-opacity="0.9"/><circle cx="991.6" cy="330.3" r="3.1" fill="rgb(45,240,45)" fill-opacity="0.9"/><circle cx="940.2" cy="309.1" r="1.7" fill="rgb(45,240,45)" fill-opacity="0.9"/><circle cx="957.5" cy="320.1" r="1.4" fill="rgb(45,240,45)" fill-opacity="0.9"/><circle cx="969.9" cy="314.0" r="1.9" fill="rgb(45,240,45)" fill-opacity="0.9"/><circle cx="964.5" cy="308.0" r="2.9" fill="rgb(45,240,45)" fill-opacity="0.9"/><circle cx="941.5" cy="314.4" r="2.8" fill="rgb(45,240,45)" fill-opacity="0.9"/><circle cx="938.6" cy="309.6" r="2.0" fill="rgb(45,240,45)" fill-opacity="0.9"/><circle cx="940.5" cy="322.8" r="1.4" fill="rgb(45,240,45)" fill-opacity="0.9"/><circle cx="993.1" cy="326.3" r="2.7" fill="rgb(45,240,45)" fill-opacity="0.9"/><circle cx="933.6" cy="322.9" r="1.9" fill="rgb(45,240,45)" fill-opacity="0.9"/><circle cx="986.8" cy="317.7" r="2.0" fill="rgb(45,240,45)" fill-opacity="0.9"/><circle cx="964.4" cy="322.0" r="2.0" fill="rgb(45,240,45)" fill-opacity="0.9"/><circle cx="938.1" cy="327.6" r="1.9" fill="rgb(45,240,45)" fill-opacity="0.9"/><circle cx="948.5" cy="328.2" r="2.9" fill="rgb(45,240,45)" fill-opacity="0.9"/><circle cx="968.5" cy="319.2" r="2.7" fill="rgb(45,240,45)" fill-opacity="0.9"/><circle cx="960.5" cy="314.5" r="2.8" fill="rgb(45,240,45)" fill-opacity="0.9"/><circle cx="977.2" cy="312.1" r="3.2" fill="rgb(45,240,45)" fill-opacity="0.9"/><circle cx="970.3" cy="332.3" r="2.3" fill="rgb(45,240,45)" fill-opacity="0.9"/><circle cx="959.5" cy="310.8" r="2.0" fill="rgb(45,240,45)" fill-opacity="0.9"/><circle cx="934.9" cy="328.2" r="1.6" fill="rgb(45,240,45)" fill-opacity="0.9"/><circle cx="966.4" cy="316.4" r="1.9" fill="rgb(45,240,45)" fill-opacity="0.9"/><circle cx="951.3" cy="315.5" r="2.0" fill="rgb(45,240,45)" fill-opacity="0.9"/><circle cx="981.6" cy="333.9" r="2.7" fill="rgb(45,240,45)" fill-opacity="0.9"/><circle cx="990.5" cy="324.2" r="2.1" fill="rgb(45,240,45)" fill-opacity="0.9"/><circle cx="965.1" cy="312.8" r="2.3" fill="rgb(45,240,45)" fill-opacity="0.9"/><circle cx="965.2" cy="329.3" r="2.3" fill="rgb(45,240,45)" fill-opacity="0.9"/><circle cx="987.1" cy="321.9" r="2.3" fill="rgb(45,240,45)" fill-opacity="0.9"/><circle cx="949.7" cy="329.4" r="1.9" fill="rgb(45,240,45)" fill-opacity="0.9"/><circle cx="985.4" cy="331.1" r="2.8" fill="rgb(45,240,45)" fill-opacity="0.9"/><circle cx="994.8" cy="306.6" r="3.1" fill="rgb(45,240,45)" fill-opacity="0.9"/><circle cx="957.2" cy="324.2" r="2.0" fill="rgb(45,240,45)" fill-opacity="0.9"/><path d="M964.4 322.0 L961.9 330.7" stroke="rgb(45,240,45)" stroke-width="1.6" stroke-linecap="round" stroke-linejoin="round" fill="none"/><path d="M947.3 328.4 L934.9 328.2" stroke="rgb(45,240,45)" stroke-width="1.6" stroke-linecap="round" stroke-linejoin="round" fill="none"/><path d="M994.5 306.4 L987.3 309.5" stroke="rgb(45,240,45)" stroke-width="1.6" stroke-linecap="round" stroke-linejoin="round" fill="none"/><path d="M965.2 326.0 L959.8 321.4" stroke="rgb(45,240,45)" stroke-width="1.6" stroke-linecap="round" stroke-linejoin="round" fill="none"/><circle cx="941.7" cy="350.2" r="3.2" fill="rgb(45,240,45)" fill-opacity="0.9"/><circle cx="966.9" cy="336.8" r="2.5" fill="rgb(45,240,45)" fill-opacity="0.9"/><circle cx="925.0" cy="362.0" r="2.3" fill="rgb(45,240,45)" fill-opacity="0.9"/><circle cx="965.0" cy="363.3" r="3.1" fill="rgb(45,240,45)" fill-opacity="0.9"/><circle cx="926.7" cy="338.7" r="2.8" fill="rgb(45,240,45)" fill-opacity="0.9"/><circle cx="942.3" cy="359.5" r="2.1" fill="rgb(45,240,45)" fill-opacity="0.9"/><circle cx="939.6" cy="358.2" r="2.0" fill="rgb(45,240,45)" fill-opacity="0.9"/><circle cx="943.9" cy="348.4" r="2.6" fill="rgb(45,240,45)" fill-opacity="0.9"/><circle cx="921.5" cy="350.3" r="2.4" fill="rgb(45,240,45)" fill-opacity="0.9"/><circle cx="953.8" cy="363.1" r="2.0" fill="rgb(45,240,45)" fill-opacity="0.9"/><circle cx="968.4" cy="357.3" r="2.0" fill="rgb(45,240,45)" fill-opacity="0.9"/><circle cx="947.4" cy="347.4" r="2.5" fill="rgb(45,240,45)" fill-opacity="0.9"/><circle cx="919.1" cy="363.0" r="2.0" fill="rgb(45,240,45)" fill-opacity="0.9"/><circle cx="918.4" cy="339.3" r="1.9" fill="rgb(45,240,45)" fill-opacity="0.9"/><circle cx="931.6" cy="361.3" r="2.0" fill="rgb(45,240,45)" fill-opacity="0.9"/><circle cx="966.0" cy="344.9" r="2.0" fill="rgb(45,240,45)" fill-opacity="0.9"/><circle cx="967.8" cy="361.9" r="3.1" fill="rgb(45,240,45)" fill-opacity="0.9"/><circle cx="923.8" cy="338.8" r="2.6" fill="rgb(45,240,45)" fill-opacity="0.9"/><circle cx="935.5" cy="339.9" r="1.5" fill="rgb(45,240,45)" fill-opacity="0.9"/><circle cx="934.8" cy="345.9" r="2.6" fill="rgb(45,240,45)" fill-opacity="0.9"/><circle cx="969.8" cy="341.7" r="2.8" fill="rgb(45,240,45)" fill-opacity="0.9"/><circle cx="949.1" cy="362.1" r="3.2" fill="rgb(45,240,45)" fill-opacity="0.9"/><circle cx="966.0" cy="340.7" r="2.7" fill="rgb(45,240,45)" fill-opacity="0.9"/><circle cx="958.5" cy="347.9" r="1.4" fill="rgb(45,240,45)" fill-opacity="0.9"/><circle cx="957.8" cy="355.1" r="2.7" fill="rgb(45,240,45)" fill-opacity="0.9"/><circle cx="957.6" cy="358.3" r="1.4" fill="rgb(45,240,45)" fill-opacity="0.9"/><circle cx="967.3" cy="364.7" r="2.0" fill="rgb(45,240,45)" fill-opacity="0.9"/><circle cx="959.1" cy="364.2" r="2.1" fill="rgb(45,240,45)" fill-opacity="0.9"/><circle cx="935.5" cy="354.4" r="2.8" fill="rgb(45,240,45)" fill-opacity="0.9"/><circle cx="939.5" cy="357.2" r="3.1" fill="rgb(45,240,45)" fill-opacity="0.9"/><circle cx="937.5" cy="363.4" r="1.6" fill="rgb(45,240,45)" fill-opacity="0.9"/><circle cx="949.0" cy="361.1" r="2.1" fill="rgb(45,240,45)" fill-opacity="0.9"/><circle cx="932.7" cy="344.9" r="2.0" fill="rgb(45,240,45)" fill-opacity="0.9"/><circle cx="938.3" cy="348.9" r="1.8" fill="rgb(45,240,45)" fill-opacity="0.9"/><circle cx="949.1" cy="343.3" r="1.8" fill="rgb(45,240,45)" fill-opacity="0.9"/><circle cx="942.3" cy="363.4" r="1.8" fill="rgb(45,240,45)" fill-opacity="0.9"/><circle cx="927.4" cy="359.4" r="2.4" fill="rgb(45,240,45)" fill-opacity="0.9"/><circle cx="924.1" cy="365.2" r="1.7" fill="rgb(45,240,45)" fill-opacity="0.9"/><circle cx="951.1" cy="343.8" r="2.9" fill="rgb(45,240,45)" fill-opacity="0.9"/><circle cx="937.3" cy="355.2" r="2.8" fill="rgb(45,240,45)" fill-opacity="0.9"/><circle cx="954.8" cy="345.9" r="1.9" fill="rgb(45,240,45)" fill-opacity="0.9"/><circle cx="948.5" cy="352.1" r="2.7" fill="rgb(45,240,45)" fill-opacity="0.9"/><circle cx="921.4" cy="338.7" r="1.3" fill="rgb(45,240,45)" fill-opacity="0.9"/><circle cx="960.1" cy="341.9" r="2.7" fill="rgb(45,240,45)" fill-opacity="0.9"/><circle cx="941.8" cy="364.7" r="2.5" fill="rgb(45,240,45)" fill-opacity="0.9"/><circle cx="962.3" cy="339.7" r="3.0" fill="rgb(45,240,45)" fill-opacity="0.9"/><circle cx="937.9" cy="338.0" r="2.9" fill="rgb(45,240,45)" fill-opacity="0.9"/><circle cx="930.1" cy="355.9" r="1.3" fill="rgb(45,240,45)" fill-opacity="0.9"/><circle cx="940.9" cy="350.4" r="2.2" fill="rgb(45,240,45)" fill-opacity="0.9"/><circle cx="961.3" cy="345.2" r="3.0" fill="rgb(45,240,45)" fill-opacity="0.9"/><circle cx="926.2" cy="365.1" r="1.8" fill="rgb(45,240,45)" fill-opacity="0.9"/><circle cx="953.5" cy="364.0" r="2.6" fill="rgb(45,240,45)" fill-opacity="0.9"/><circle cx="962.7" cy="339.3" r="3.1" fill="rgb(45,240,45)" fill-opacity="0.9"/><circle cx="920.0" cy="356.5" r="2.9" fill="rgb(45,240,45)" fill-opacity="0.9"/><circle cx="958.1" cy="358.0" r="2.5" fill="rgb(45,240,45)" fill-opacity="0.9"/><circle cx="969.7" cy="343.3" r="3.0" fill="rgb(45,240,45)" fill-opacity="0.9"/><circle cx="960.2" cy="342.4" r="2.2" fill="rgb(45,240,45)" fill-opacity="0.9"/><circle cx="940.7" cy="341.2" r="2.9" fill="rgb(45,240,45)" fill-opacity="0.9"/><circle cx="962.8" cy="358.7" r="1.4" fill="rgb(45,240,45)" fill-opacity="0.9"/><circle cx="956.2" cy="363.9" r="2.7" fill="rgb(45,240,45)" fill-opacity="0.9"/><path d="M956.2 363.9 L957.6 358.3" stroke="rgb(45,240,45)" stroke-width="1.6" stroke-linecap="round" stroke-linejoin="round" fill="none"/><path d="M947.4 347.4 L934.8 345.9" stroke="rgb(45,240,45)" stroke-width="1.6" stroke-linecap="round" stroke-linejoin="round" fill="none"/><path d="M935.5 354.4 L925.0 362.0" stroke="rgb(45,240,45)" stroke-width="1.6" stroke-linecap="round" stroke-linejoin="round" fill="none"/></g>
<g filter="url(#soft)"><circle cx="979.2" cy="289.6" r="2.9" fill="rgb(45,240,45)" fill-opacity="0.9"/><circle cx="966.4" cy="290.3" r="3.0" fill="rgb(45,240,45)" fill-opacity="0.9"/><circle cx="993.8" cy="275.4" r="2.5" fill="rgb(45,240,45)" fill-opacity="0.9"/><circle cx="981.2" cy="285.5" r="3.1" fill="rgb(45,240,45)" fill-opacity="0.9"/><circle cx="977.3" cy="283.6" r="3.1" fill="rgb(45,240,45)" fill-opacity="0.9"/><circle cx="982.0" cy="279.0" r="1.9" fill="rgb(45,240,45)" fill-opacity="0.9"/><circle cx="975.9" cy="271.1" r="2.5" fill="rgb(45,240,45)" fill-opacity="0.9"/><circle cx="986.3" cy="283.0" r="2.9" fill="rgb(45,240,45)" fill-opacity="0.9"/><circle cx="994.7" cy="287.2" r="2.6" fill="rgb(45,240,45)" fill-opacity="0.9"/><circle cx="959.5" cy="271.2" r="3.2" fill="rgb(45,240,45)" fill-opacity="0.9"/><circle cx="966.7" cy="276.2" r="3.0" fill="rgb(45,240,45)" fill-opacity="0.9"/><circle cx="986.9" cy="273.3" r="1.9" fill="rgb(45,240,45)" fill-opacity="0.9"/><circle cx="964.9" cy="278.1" r="1.3" fill="rgb(45,240,45)" fill-opacity="0.9"/><circle cx="977.2" cy="279.1" r="2.0" fill="rgb(45,240,45)" fill-opacity="0.9"/><circle cx="962.4" cy="272.9" r="1.4" fill="rgb(45,240,45)" fill-opacity="0.9"/><circle cx="992.3" cy="293.3" r="2.4" fill="rgb(45,240,45)" fill-opacity="0.9"/><circle cx="959.8" cy="274.2" r="1.5" fill="rgb(45,240,45)" fill-opacity="0.9"/><circle cx="968.1" cy="271.2" r="1.8" fill="rgb(45,240,45)" fill-opacity="0.9"/><circle cx="963.2" cy="275.6" r="2.5" fill="rgb(45,240,45)" fill-opacity="0.9"/><circle cx="974.3" cy="284.6" r="2.0" fill="rgb(45,240,45)" fill-opacity="0.9"/><circle cx="977.8" cy="294.5" r="1.9" fill="rgb(45,240,45)" fill-opacity="0.9"/><circle cx="957.4" cy="284.8" r="2.0" fill="rgb(45,240,45)" fill-opacity="0.9"/><circle cx="988.3" cy="273.0" r="3.0" fill="rgb(45,240,45)" fill-opacity="0.9"/><circle cx="955.0" cy="286.8" r="2.1" fill="rgb(45,240,45)" fill-opacity="0.9"/><circle cx="968.1" cy="297.8" r="2.6" fill="rgb(45,240,45)" fill-opacity="0.9"/><circle cx="961.5" cy="285.2" r="2.5" fill="rgb(45,240,45)" fill-opacity="0.9"/><circle cx="955.9" cy="272.2" r="2.4" fill="rgb(45,240,45)" fill-opacity="0.9"/><circle cx="986.1" cy="284.2" r="2.1" fill="rgb(45,240,45)" fill-opacity="0.9"/><circle cx="976.4" cy="277.7" r="3.0" fill="rgb(45,240,45)" fill-opacity="0.9"/><circle cx="996.1" cy="284.8" r="1.3" fill="rgb(45,240,45)" fill-opacity="0.9"/><circle cx="971.6" cy="295.1" r="1.9" fill="rgb(45,240,45)" fill-opacity="0.9"/><circle cx="959.0" cy="275.3" r="2.7" fill="rgb(45,240,45)" fill-opacity="0.9"/><circle cx="981.4" cy="278.6" r="2.5" fill="rgb(45,240,45)" fill-opacity="0.9"/><circle cx="987.4" cy="300.3" r="2.9" fill="rgb(45,240,45)" fill-opacity="0.9"/><circle cx="973.2" cy="295.3" r="3.1" fill="rgb(45,240,45)" fill-opacity="0.9"/><circle cx="992.1" cy="293.4" r="2.4" fill="rgb(45,240,45)" fill-opacity="0.9"/><circle cx="976.6" cy="296.6" r="2.5" fill="rgb(45,240,45)" fill-opacity="0.9"/><circle cx="985.7" cy="276.7" r="1.5" fill="rgb(45,240,45)" fill-opacity="0.9"/><circle cx="966.1" cy="288.1" r="2.4" fill="rgb(45,240,45)" fill-opacity="0.9"/><circle cx="963.0" cy="275.4" r="3.1" fill="rgb(45,240,45)" fill-opacity="0.9"/><circle cx="957.5" cy="299.0" r="2.8" fill="rgb(45,240,45)" fill-opacity="0.9"/><circle cx="979.3" cy="301.3" r="2.6" fill="rgb(45,240,45)" fill-opacity="0.9"/><circle cx="954.7" cy="299.5" r="2.1" fill="rgb(45,240,45)" fill-opacity="0.9"/><circle cx="994.2" cy="295.4" r="1.6" fill="rgb(45,240,45)" fill-opacity="0.9"/><circle cx="956.1" cy="270.1" r="2.8" fill="rgb(45,240,45)" fill-opacity="0.9"/><circle cx="988.7" cy="276.7" r="1.5" fill="rgb(45,240,45)" fill-opacity="0.9"/><circle cx="970.3" cy="295.0" r="2.7" fill="rgb(45,240,45)" fill-opacity="0.9"/><circle cx="992.0" cy="300.4" r="2.7" fill="rgb(45,240,45)" fill-opacity="0.9"/><circle cx="990.7" cy="269.9" r="1.3" fill="rgb(45,240,45)" fill-opacity="0.9"/><circle cx="991.8" cy="289.2" r="1.9" fill="rgb(45,240,45)" fill-opacity="0.9"/><circle cx="960.0" cy="280.0" r="1.9" fill="rgb(45,240,45)" fill-opacity="0.9"/><circle cx="975.9" cy="283.8" r="1.7" fill="rgb(45,240,45)" fill-opacity="0.9"/><circle cx="958.0" cy="275.9" r="1.5" fill="rgb(45,240,45)" fill-opacity="0.9"/><circle cx="958.8" cy="282.7" r="1.5" fill="rgb(45,240,45)" fill-opacity="0.9"/><circle cx="989.1" cy="286.8" r="2.2" fill="rgb(45,240,45)" fill-opacity="0.9"/><circle cx="982.1" cy="276.9" r="1.3" fill="rgb(45,240,45)" fill-opacity="0.9"/><circle cx="957.8" cy="280.2" r="2.0" fill="rgb(45,240,45)" fill-opacity="0.9"/><circle cx="965.4" cy="279.2" r="2.9" fill="rgb(45,240,45)" fill-opacity="0.9"/><circle cx="954.8" cy="283.8" r="2.0" fill="rgb(45,240,45)" fill-opacity="0.9"/><circle cx="966.6" cy="292.6" r="1.7" fill="rgb(45,240,45)" fill-opacity="0.9"/><circle cx="956.2" cy="274.5" r="3.2" fill="rgb(45,240,45)" fill-opacity="0.9"/><circle cx="969.4" cy="273.1" r="3.1" fill="rgb(45,240,45)" fill-opacity="0.9"/><circle cx="982.4" cy="300.0" r="1.9" fill="rgb(45,240,45)" fill-opacity="0.9"/><circle cx="989.6" cy="270.7" r="1.8" fill="rgb(45,240,45)" fill-opacity="0.9"/><circle cx="988.9" cy="285.9" r="2.8" fill="rgb(45,240,45)" fill-opacity="0.9"/><circle cx="971.1" cy="297.4" r="1.4" fill="rgb(45,240,45)" fill-opacity="0.9"/><circle cx="981.5" cy="275.4" r="1.7" fill="rgb(45,240,45)" fill-opacity="0.9"/><circle cx="992.7" cy="283.2" r="2.8" fill="rgb(45,240,45)" fill-opacity="0.9"/><circle cx="966.7" cy="292.8" r="3.0" fill="rgb(45,240,45)" fill-opacity="0.9"/><circle cx="981.6" cy="276.9" r="2.6" fill="rgb(45,240,45)" fill-opacity="0.9"/><path d="M992.1 293.4 L986.1 284.2" stroke="rgb(45,240,45)" stroke-width="1.6" stroke-linecap="round" stroke-linejoin="round" fill="none"/><path d="M977.3 283.6 L977.2 279.1" stroke="rgb(45,240,45)" stroke-width="1.6" stroke-linecap="round" stroke-linejoin="round" fill="none"/><path d="M968.1 271.2 L981.5 275.4" stroke="rgb(45,240,45)" stroke-width="1.6" stroke-linecap="round" stroke-linejoin="round" fill="none"/><path d="M958.8 282.7 L963.2 275.6" stroke="rgb(45,240,45)" stroke-width="1.6" stroke-linecap="round" stroke-linejoin="round" fill="none"/><path d="M988.9 285.9 L986.9 273.3" stroke="rgb(45,240,45)" stroke-width="1.6" stroke-linecap="round" stroke-linejoin="round" fill="none"/><path d="M960.0 280.0 L964.9 278.1" stroke="rgb(45,240,45)" stroke-width="1.6" stroke-linecap="round" stroke-linejoin="round" fill="none"/><path d="M964.9 278.1 L957.8 280.2" stroke="rgb(45,240,45)" stroke-width="1.6" stroke-linecap="round" stroke-linejoin="round" fill="none"/><path d="M989.6 270.7 L986.1 284.2" stroke="rgb(45,240,45)" stroke-width="1.6" stroke-linecap="round" stroke-linejoin="round" fill="none"/><path d="M981.6 276.9 L982.1 276.9" stroke="rgb(45,240,45)" stroke-width="1.6" stroke-linecap="round" stroke-linejoin="round" fill="none"/><circle cx="991.4" cy="326.9" r="2.1" fill="rgb(45,240,45)" fill-opacity="0.9"/><circle cx="932.5" cy="311.2" r="2.2" fill="rgb(45,240,45)" fill-opacity="0.9"/><circle cx="994.5" cy="306.4" r="1.9" fill="rgb(45,240,45)" fill-opacity="0.9"/><circle cx="951.4" cy="328.5" r="1.9" fill="rgb(45,240,45)" fill-opacity="0.9"/><circle cx="934.2" cy="335.6" r="1.8" fill="rgb(45,240,45)" fill-opacity="0.9"/><circle cx="959.8" cy="321.4" r="2.0" fill="rgb(45,240,45)" fill-opacity="0.9"/><circle cx="976.5" cy="312.1" r="2.1" fill="rgb(45,240,45)" fill-opacity="0.9"/><circle cx="947.3" cy="328.4" r="2.5" fill="rgb(45,240,45)" fill-opacity="0.9"/><circle cx="995.7" cy="329.0" r="3.1" fill="rgb(45,240,45)" fill-opacity="0.9"/><circle cx="970.0" cy="331.3" r="1.8" fill="rgb(45,240,45)" fill-opacity="0.9"/><circle cx="933.5" cy="329.4" r="1.6" fill="rgb(45,240,45)" fill-opacity="0.9"/><circle cx="965.1" cy="312.3" r="2.9" fill="rgb(45,240,45)" fill-opacity="0.9"/><circle cx="950.3" cy="331.4" r="2.3" fill="rgb(45,240,45)" fill-opacity="0.9"/><circle cx="952.4" cy="309.3" r="2.9" fill="rgb(45,240,45)" fill-opacity="0.9"/><circle cx="974.8" cy="330.7" r="2.0" fill="rgb(45,240,45)" fill-opacity="0.9"/><circle cx="994.1" cy="324.3" r="2.3" fill="rgb(45,240,45)" fill-opacity="0.9"/><circle cx="962.1" cy="332.0" r="1.5" fill="rgb(45,240,45)" fill-opacity="0.9"/><circle cx="960.8" cy="315.3" r="1.9" fill="rgb(45,240,45)" fill-opacity="0.9"/><circle cx="971.2" cy="328.2" r="2.0" fill="rgb(45,240,45)" fill-opacity="0.9"/><circle cx="941.0" cy="315.5" r="2.7" fill="rgb(45,240,45)" fill-opacity="0.9"/><circle cx="961.9" cy="330.7" r="2.0" fill="rgb(45,240,45)" fill-opacity="0.9"/><circle cx="980.4" cy="314.8" r="2.6" fill="rgb(45,240,45)" fill-opacity="0.9"/><circle cx="931.7" cy="310.9" r="3.1" fill="rgb(45,240,45)" fill-opacity="0.9"/><circle cx="958.6" cy="328.5" r="2.9" fill="rgb(45,240,45)" fill-opacity="0.9"/><circle cx="943.5" cy="310.6" r="2.2" fill="rgb(45,240,45)" fill-opacity="0.9"/><circle cx="939.8" cy="313.4" r="3.1" fill="rgb(45,240,45)" fill-opacity="0.9"/><circle cx="988.0" cy="324.2" r="2.1" fill="rgb(45,240,45)" fill-opacity="0.9"/><circle cx="989.3" cy="326.9" r="2.2" fill="rgb(45,240,45)" fill-opacity="0.9"/><circle cx="939.6" cy="324.9" r="2.5" fill="rgb(45,240,45)" fill-opacity="0.9"/><circle cx="941.9" cy="322.9" r="1.8" fill="rgb(45,240,45)" fill-opacity="0.9"/><circle cx="971.4" cy="320.7" r="2.7" fill="rgb(45,240,45)" fill-opacity="0.9"/><circle cx="942.8" cy="314.5" r="2.7" fill="rgb(45,240,45)" fill-opacity="0.9"/><circle cx="987.3" cy="309.5" r="1.4" fill="rgb(45,240,45)" fill-opacity="0.9"/><circle cx="933.4" cy="311.3" r="1.6" fill="rgb(45,240,45)" fill-opacity="0.9"/><circle cx="975.0" cy="322.6" r="1.5" fill="rgb(45,240,45)" fill-opacity="0.9"/><circle cx="962.2" cy="312.2" r="1.3" fill="rgb(45,240,45)" fill-opacity="0.9"/><circle cx="984.5" cy="333.9" r="2.4" fill="rgb(45,240,45)" fill-opacity="0.9"/><circle cx="967.8" cy="319.3" r="1.4" fill="rgb(45,240,45)" fill-opacity="0.9"/><circle cx="967.1" cy="306.6" r="2.2" fill="rgb(45,240,45)" fill-opacity="0.9"/><circle cx="937.3" cy="311.8" r="1.6" fill="rgb(45,240,45)" fill-opacity="0.9"/><circle cx="941.6" cy="328.4" r="3.2" fill="rgb(45,240,45)" fill-opacity="0.9"/><circle cx="952.4" cy="331.6" r="2.7" fill="rgb(45,240,45)" fill-opacity="0.9"/><circle cx="965.2" cy="326.0" r="1.6" fill="rgb(45,240,45)" fill-opacity="0.9"/><circle cx="968.6" cy="312.3" r="1.9" fill="rgb(45,240,45)" fill-opacity="0.9"/><circle cx="991.6" cy="330.3" r="3.1" fill="rgb(45,240,45)" fill-opacity="0.9"/><circle cx="940.2" cy="309.1" r="1.7" fill="rgb(45,240,45)" fill-opacity="0.9"/><circle cx="957.5" cy="320.1" r="1.4" fill="rgb(45,240,45)" fill-opacity="0.9"/><circle cx="969.9" cy="314.0" r="1.9" fill="rgb(45,240,45)" fill-opacity="0.9"/><circle cx="964.5" cy="308.0" r="2.9" fill="rgb(45,240,45)" fill-opacity="0.9"/><circle cx="941.5" cy="314.4" r="2.8" fill="rgb(45,240,45)" fill-opacity="0.9"/><circle cx="938.6" cy="309.6" r="2.0" fill="rgb(45,240,45)" fill-opacity="0.9"/><circle cx="940.5" cy="322.8" r="1.4" fill="rgb(45,240,45)" fill-opacity="0.9"/><circle cx="993.1" cy="326.3" r="2.7" fill="rgb(45,240,45)" fill-opacity="0.9"/><circle cx="933.6" cy="322.9" r="1.9" fill="rgb(45,240,45)" fill-opacity="0.9"/><circle cx="986.8" cy="317.7" r="2.0" fill="rgb(45,240,45)" fill-opacity="0.9"/><circle cx="964.4" cy="322.0" r="2.0" fill="rgb(45,240,45)" fill-opacity="0.9"/><circle cx="938.1" cy="327.6" r="1.9" fill="rgb(45,240,45)" fill-opacity="0.9"/><circle cx="948.5" cy="328.2" r="2.9" fill="rgb(45,240,45)" fill-opacity="0.9"/><circle cx="968.5" cy="319.2" r="2.7" fill="rgb(45,240,45)" fill-opacity="0.9"/><circle cx="960.5" cy="314.5" r="2.8" fill="rgb(45,240,45)" fill-opacity="0.9"/><circle cx="977.2" cy="312.1" r="3.2" fill="rgb(45,240,45)" fill-opacity="0.9"/><circle cx="970.3" cy="332.3" r="2.3" fill="rgb(45,240,45)" fill-opacity="0.9"/><circle cx="959.5" cy="310.8" r="2.0" fill="rgb(45,240,45)" fill-opacity="0.9"/><circle cx="934.9" cy="328.2" r="1.6" fill="rgb(45,240,45)" fill-opacity="0.9"/><circle cx="966.4" cy="316.4" r="1.9" fill="rgb(45,240,45)" fill-opacity="0.9"/><circle cx="951.3" cy="315.5" r="2.0" fill="rgb(45,240,45)" fill-opacity="0.9"/><circle cx="981.6" cy="333.9" r="2.7" fill="rgb(45,240,45)" fill-opacity="0.9"/><circle cx="990.5" cy="324.2" r="2.1" fill="rgb(45,240,45)" fill-opacity="0.9"/><circle cx="965.1" cy="312.8" r="2.3" fill="rgb(45,240,45)" fill-opacity="0.9"/><circle cx="965.2" cy="329.3" r="2.3" fill="rgb(45,240,45)" fill-opacity="0.9"/><circle cx="987.1" cy="321.9" r="2.3" fill="rgb(45,240,45)" fill-opacity="0.9"/><circle cx="949.7" cy="329.4" r="1.9" fill="rgb(45,240,45)" fill-opacity="0.9"/><circle cx="985.4" cy="331.1" r="2.8" fill="rgb(45,240,45)" fill-opacity="0.9"/><circle cx="994.8" cy="306.6" r="3.1" fill="rgb(45,240,45)" fill-opacity="0.9"/><circle cx="957.2" cy="324.2" r="2.0" fill="rgb(45,240,45)" fill-opacity="0.9"/><path d="M964.4 322.0 L961.9 330.7" stroke="rgb(45,240,45)" stroke-width="1.6" stroke-linecap="round" stroke-linejoin="round" fill="none"/><path d="M947.3 328.4 L934.9 328.2" stroke="rgb(45,240,45)" stroke-width="1.6" stroke-linecap="round" stroke-linejoin="round" fill="none"/><path d="M994.5 306.4 L987.3 309.5" stroke="rgb(45,240,45)" stroke-width="1.6" stroke-linecap="round" stroke-linejoin="round" fill="none"/><path d="M965.2 326.0 L959.8 321.4" stroke="rgb(45,240,45)" stroke-width="1.6" stroke-linecap="round" stroke-linejoin="round" fill="none"/><circle cx="941.7" cy="350.2" r="3.2" fill="rgb(45,240,45)" fill-opacity="0.9"/><circle cx="966.9" cy="336.8" r="2.5" fill="rgb(45,240,45)" fill-opacity="0.9"/><circle cx="925.0" cy="362.0" r="2.3" fill="rgb(45,240,45)" fill-opacity="0.9"/><circle cx="965.0" cy="363.3" r="3.1" fill="rgb(45,240,45)" fill-opacity="0.9"/><circle cx="926.7" cy="338.7" r="2.8" fill="rgb(45,240,45)" fill-opacity="0.9"/><circle cx="942.3" cy="359.5" r="2.1" fill="rgb(45,240,45)" fill-opacity="0.9"/><circle cx="939.6" cy="358.2" r="2.0" fill="rgb(45,240,45)" fill-opacity="0.9"/><circle cx="943.9" cy="348.4" r="2.6" fill="rgb(45,240,45)" fill-opacity="0.9"/><circle cx="921.5" cy="350.3" r="2.4" fill="rgb(45,240,45)" fill-opacity="0.9"/><circle cx="953.8" cy="363.1" r="2.0" fill="rgb(45,240,45)" fill-opacity="0.9"/><circle cx="968.4" cy="357.3" r="2.0" fill="rgb(45,240,45)" fill-opacity="0.9"/><circle cx="947.4" cy="347.4" r="2.5" fill="rgb(45,240,45)" fill-opacity="0.9"/><circle cx="919.1" cy="363.0" r="2.0" fill="rgb(45,240,45)" fill-opacity="0.9"/><circle cx="918.4" cy="339.3" r="1.9" fill="rgb(45,240,45)" fill-opacity="0.9"/><circle cx="931.6" cy="361.3" r="2.0" fill="rgb(45,240,45)" fill-opacity="0.9"/><circle cx="966.0" cy="344.9" r="2.0" fill="rgb(45,240,45)" fill-opacity="0.9"/><circle cx="967.8" cy="361.9" r="3.1" fill="rgb(45,240,45)" fill-opacity="0.9"/><circle cx="923.8" cy="338.8" r="2.6" fill="rgb(45,240,45)" fill-opacity="0.9"/><circle cx="935.5" cy="339.9" r="1.5" fill="rgb(45,240,45)" fill-opacity="0.9"/><circle cx="934.8" cy="345.9" r="2.6" fill="rgb(45,240,45)" fill-opacity="0.9"/><circle cx="969.8" cy="341.7" r="2.8" fill="rgb(45,240,45)" fill-opacity="0.9"/><circle cx="949.1" cy="362.1" r="3.2" fill="rgb(45,240,45)" fill-opacity="0.9"/><circle cx="966.0" cy="340.7" r="2.7" fill="rgb(45,240,45)" fill-opacity="0.9"/><circle cx="958.5" cy="347.9" r="1.4" fill="rgb(45,240,45)" fill-opacity="0.9"/><circle cx="957.8" cy="355.1" r="2.7" fill="rgb(45,240,45)" fill-opacity="0.9"/><circle cx="957.6" cy="358.3" r="1.4" fill="rgb(45,240,45)" fill-opacity="0.9"/><circle cx="967.3" cy="364.7" r="2.0" fill="rgb(45,240,45)" fill-opacity="0.9"/><circle cx="959.1" cy="364.2" r="2.1" fill="rgb(45,240,45)" fill-opacity="0.9"/><circle cx="935.5" cy="354.4" r="2.8" fill="rgb(45,240,45)" fill-opacity="0.9"/><circle cx="939.5" cy="357.2" r="3.1" fill="rgb(45,240,45)" fill-opacity="0.9"/><circle cx="937.5" cy="363.4" r="1.6" fill="rgb(45,240,45)" fill-opacity="0.9"/><circle cx="949.0" cy="361.1" r="2.1" fill="rgb(45,240,45)" fill-opacity="0.9"/><circle cx="932.7" cy="344.9" r="2.0" fill="rgb(45,240,45)" fill-opacity="0.9"/><circle cx="938.3" cy="348.9" r="1.8" fill="rgb(45,240,45)" fill-opacity="0.9"/><circle cx="949.1" cy="343.3" r="1.8" fill="rgb(45,240,45)" fill-opacity="0.9"/><circle cx="942.3" cy="363.4" r="1.8" fill="rgb(45,240,45)" fill-opacity="0.9"/><circle cx="927.4" cy="359.4" r="2.4" fill="rgb(45,240,45)" fill-opacity="0.9"/><circle cx="924.1" cy="365.2" r="1.7" fill="rgb(45,240,45)" fill-opacity="0.9"/><circle cx="951.1" cy="343.8" r="2.9" fill="rgb(45,240,45)" fill-opacity="0.9"/><circle cx="937.3" cy="355.2" r="2.8" fill="rgb(45,240,45)" fill-opacity="0.9"/><circle cx="954.8" cy="345.9" r="1.9" fill="rgb(45,240,45)" fill-opacity="0.9"/><circle cx="948.5" cy="352.1" r="2.7" fill="rgb(45,240,45)" fill-opacity="0.9"/><circle cx="921.4" cy="338.7" r="1.3" fill="rgb(45,240,45)" fill-opacity="0.9"/><circle cx="960.1" cy="341.9" r="2.7" fill="rgb(45,240,45)" fill-opacity="0.9"/><circle cx="941.8" cy="364.7" r="2.5" fill="rgb(45,240,45)" fill-opacity="0.9"/><circle cx="962.3" cy="339.7" r="3.0" fill="rgb(45,240,45)" fill-opacity="0.9"/><circle cx="937.9" cy="338.0" r="2.9" fill="rgb(45,240,45)" fill-opacity="0.9"/><circle cx="930.1" cy="355.9" r="1.3" fill="rgb(45,240,45)" fill-opacity="0.9"/><circle cx="940.9" cy="350.4" r="2.2" fill="rgb(45,240,45)" fill-opacity="0.9"/><circle cx="961.3" cy="345.2" r="3.0" fill="rgb(45,240,45)" fill-opacity="0.9"/><circle cx="926.2" cy="365.1" r="1.8" fill="rgb(45,240,45)" fill-opacity="0.9"/><circle cx="953.5" cy="364.0" r="2.6" fill="rgb(45,240,45)" fill-opacity="0.9"/><circle cx="962.7" cy="339.3" r="3.1" fill="rgb(45,240,45)" fill-opacity="0.9"/><circle cx="920.0" cy="356.5" r="2.9" fill="rgb(45,240,45)" fill-opacity="0.9"/><circle cx="958.1" cy="358.0" r="2.5" fill="rgb(45,240,45)" fill-opacity="0.9"/><circle cx="969.7" cy="343.3" r="3.0" fill="rgb(45,240,45)" fill-opacity="0.9"/><circle cx="960.2" cy="342.4" r="2.2" fill="rgb(45,240,45)" fill-opacity="0.9"/><circle cx="940.7" cy="341.2" r="2.9" fill="rgb(45,240,45)" fill-opacity="0.9"/><circle cx="962.8" cy="358.7" r="1.4" fill="rgb(45,240,45)" fill-opacity="0.9"/><circle cx="956.2" cy="363.9" r="2.7" fill="rgb(45,240,45)" fill-opacity="0.9"/><path d="M956.2 363.9 L957.6 358.3" stroke="rgb(45,240,45)" stroke-width="1.6" stroke-linecap="round" stroke-linejoin="round" fill="none"/><path d="M947.4 347.4 L934.8 345.9" stroke="rgb(45,240,45)" stroke-width="1.6" stroke-linecap="round" stroke-linejoin="round" fill="none"/><path d="M935.5 354.4 L925.0 362.0" stroke="rgb(45,240,45)" stroke-width="1.6" stroke-linecap="round" stroke-linejoin="round" fill="none"/></g>
<line x1="916" y1="341" x2="990" y2="332" stroke="rgb(60,200,60)" stroke-width="0.8"/>
<text x="920.1" y="294.0" font-size="14.5" font-weight="bold" fill="#fff">SH</text>
<line x1="935.6" y1="298.0" x2="938.1" y2="305.2" stroke="#fff" stroke-width="1.8"/>
<path d="M939.6 309.4L935.6 305.5L940.3 303.9Z" fill="#fff"/>
<text x="766.0" y="143.0" font-size="11" font-weight="bold" fill="#fff">20 µm</text>
<line x1="766.0" y1="147.8" x2="787.8" y2="147.8" stroke="#fff" stroke-width="1.8"/>
<text x="872.2" y="142.8" font-size="11" font-weight="bold" fill="#fff">20 µm</text>
<line x1="872.2" y1="148.4" x2="894.6" y2="148.4" stroke="#fff" stroke-width="1.8"/>
<text x="977.6" y="142.8" font-size="11" font-weight="bold" fill="#fff">20 µm</text>
<line x1="977.6" y1="148.2" x2="999.5" y2="148.2" stroke="#fff" stroke-width="1.8"/>
<text x="765.6" y="249.3" font-size="11" font-weight="bold" fill="#fff">20 µm</text>
<line x1="765.6" y1="255.4" x2="789.0" y2="255.4" stroke="#fff" stroke-width="1.8"/>
<text x="872.2" y="249.3" font-size="11" font-weight="bold" fill="#fff">20 µm</text>
<line x1="872.2" y1="255.4" x2="894.6" y2="255.4" stroke="#fff" stroke-width="1.8"/>
<text x="978.2" y="249.3" font-size="11" font-weight="bold" fill="#fff">20 µm</text>
<line x1="978.2" y1="255.4" x2="1000.6" y2="255.4" stroke="#fff" stroke-width="1.8"/>
<text x="765.8" y="359.6" font-size="11" font-weight="bold" fill="#fff">50 µm</text>
<line x1="765.8" y1="364.7" x2="789.5" y2="364.7" stroke="#fff" stroke-width="1.8"/>
<text x="872.4" y="359.4" font-size="11" font-weight="bold" fill="#fff">50µm</text>
<line x1="872.4" y1="364.7" x2="895.0" y2="364.7" stroke="#fff" stroke-width="1.8"/>
<text x="979.0" y="359.0" font-size="11" font-weight="bold" fill="#fff">50 µm</text>
<line x1="979.0" y1="364.7" x2="1000.7" y2="364.7" stroke="#fff" stroke-width="1.8"/>
<rect x="49.2" y="712.5" width="88.6" height="85.9" fill="#0b0b0b"/>
<rect x="141.6" y="712.5" width="88.6" height="85.9" fill="#0b0b0b"/>
<rect x="234.2" y="712.5" width="88.4" height="85.9" fill="#0b0b0b"/>
<rect x="49.2" y="801.8" width="88.6" height="85.9" fill="#0b0b0b"/>
<rect x="141.6" y="801.8" width="88.6" height="85.9" fill="#0b0b0b"/>
<rect x="234.2" y="801.8" width="88.4" height="85.9" fill="#0b0b0b"/>
<g filter="url(#glow)" opacity="0.55"><ellipse cx="84.1" cy="766.7" rx="13.7" ry="10.3" transform="rotate(-10 84.1 766.7)" fill="rgb(22,205,22)" fill-opacity="0.88" stroke="rgb(45,240,45)" stroke-width="1.3"/><ellipse cx="93.4" cy="744.7" rx="4.5" ry="4.5" transform="rotate(0 93.4 744.7)" fill="rgb(10,100,10)" fill-opacity="0.72" stroke="rgb(28,175,28)" stroke-width="1.3"/><ellipse cx="108.5" cy="747.6" rx="5.0" ry="5.5" transform="rotate(20 108.5 747.6)" fill="rgb(22,205,22)" fill-opacity="0.88" stroke="rgb(45,240,45)" stroke-width="1.3"/><path d="M96.0 754.0L104.0 752.0" stroke="rgb(28,175,28)" stroke-width="3.0" stroke-linecap="round" fill="none"/><path d="M96.0 754.0L104.0 752.0" stroke="rgb(10,100,10)" stroke-opacity="0.72" stroke-width="0.8" stroke-linecap="round" fill="none"/></g>
<g filter="url(#soft2)"><ellipse cx="84.1" cy="766.7" rx="13.7" ry="10.3" transform="rotate(-10 84.1 766.7)" fill="rgb(22,205,22)" fill-opacity="0.88" stroke="rgb(45,240,45)" stroke-width="1.3"/><ellipse cx="93.4" cy="744.7" rx="4.5" ry="4.5" transform="rotate(0 93.4 744.7)" fill="rgb(10,100,10)" fill-opacity="0.72" stroke="rgb(28,175,28)" stroke-width="1.3"/><ellipse cx="108.5" cy="747.6" rx="5.0" ry="5.5" transform="rotate(20 108.5 747.6)" fill="rgb(22,205,22)" fill-opacity="0.88" stroke="rgb(45,240,45)" stroke-width="1.3"/><path d="M96.0 754.0L104.0 752.0" stroke="rgb(28,175,28)" stroke-width="3.0" stroke-linecap="round" fill="none"/><path d="M96.0 754.0L104.0 752.0" stroke="rgb(10,100,10)" stroke-opacity="0.72" stroke-width="0.8" stroke-linecap="round" fill="none"/></g>
<text x="109.5" y="730.0" font-size="12.8" font-weight="bold" fill="#fff">IH</text>
<line x1="106.6" y1="730.5" x2="102.4" y2="735.0" stroke="#fff" stroke-width="1.8"/>
<path d="M99.3 738.3L100.9 732.9L104.5 736.4Z" fill="#fff"/>
<text x="58.4" y="794.0" font-size="12.8" font-weight="bold" fill="#fff">SV</text>
<line x1="62.2" y1="780.3" x2="66.4" y2="775.8" stroke="#fff" stroke-width="1.8"/>
<path d="M69.5 772.5L67.9 777.9L64.3 774.4Z" fill="#fff"/>
<path d="M142 769.6L163.4 769.6" stroke="rgb(25,110,25)" stroke-width="7" opacity="0.6" filter="url(#glow)"/>
<g filter="url(#glow)" opacity="0.55"><ellipse cx="172.2" cy="771.5" rx="9.3" ry="9.8" transform="rotate(0 172.2 771.5)" fill="rgb(22,205,22)" fill-opacity="0.88" stroke="rgb(45,240,45)" stroke-width="1.3"/><path d="M179.0 762.8L190.8 750.0" stroke="rgb(28,175,28)" stroke-width="6.0" stroke-linecap="round" fill="none"/><path d="M179.0 762.8L190.8 750.0" stroke="rgb(10,100,10)" stroke-opacity="0.72" stroke-width="3.8" stroke-linecap="round" fill="none"/><ellipse cx="194.2" cy="741.3" rx="5.0" ry="6.5" transform="rotate(20 194.2 741.3)" fill="rgb(22,205,22)" fill-opacity="0.88" stroke="rgb(45,240,45)" stroke-width="1.3"/><ellipse cx="199.6" cy="751.0" rx="7.0" ry="4.5" transform="rotate(-10 199.6 751.0)" fill="rgb(16,155,16)" fill-opacity="0.78" stroke="rgb(35,215,35)" stroke-width="1.3"/></g>
<g filter="url(#soft2)"><ellipse cx="172.2" cy="771.5" rx="9.3" ry="9.8" transform="rotate(0 172.2 771.5)" fill="rgb(22,205,22)" fill-opacity="0.88" stroke="rgb(45,240,45)" stroke-width="1.3"/><path d="M179.0 762.8L190.8 750.0" stroke="rgb(28,175,28)" stroke-width="6.0" stroke-linecap="round" fill="none"/><path d="M179.0 762.8L190.8 750.0" stroke="rgb(10,100,10)" stroke-opacity="0.72" stroke-width="3.8" stroke-linecap="round" fill="none"/><ellipse cx="194.2" cy="741.3" rx="5.0" ry="6.5" transform="rotate(20 194.2 741.3)" fill="rgb(22,205,22)" fill-opacity="0.88" stroke="rgb(45,240,45)" stroke-width="1.3"/><ellipse cx="199.6" cy="751.0" rx="7.0" ry="4.5" transform="rotate(-10 199.6 751.0)" fill="rgb(16,155,16)" fill-opacity="0.78" stroke="rgb(35,215,35)" stroke-width="1.3"/></g>
<text x="210.3" y="734.9" font-size="12.8" font-weight="bold" fill="#fff">IH</text>
<line x1="215.7" y1="739.3" x2="211.2" y2="743.5" stroke="#fff" stroke-width="1.8"/>
<path d="M207.9 746.6L209.8 741.4L213.3 745.0Z" fill="#fff"/>
<text x="149.3" y="795.0" font-size="12.8" font-weight="bold" fill="#fff">SV</text>
<line x1="156.1" y1="783.8" x2="160.2" y2="779.6" stroke="#fff" stroke-width="1.8"/>
<path d="M163.4 776.4L161.7 781.7L158.1 778.2Z" fill="#fff"/>
<g filter="url(#glow)" opacity="0.55"><path d="M247.6 782.3 L256.4 777.4 L265.2 769.6 L271.0 759.8 L278.9 753.0 L286.7 750.0 L294.5 747.1 L296.5 740.3 L294.5 733.5 L300.4 730.5 L304.3 729.6" stroke="rgb(45,240,45)" stroke-width="3.0" stroke-linecap="round" stroke-linejoin="round" fill="none"/><circle cx="250.1" cy="779.4" r="3.0" fill="rgb(45,240,45)" fill-opacity="0.9"/><circle cx="253.8" cy="778.6" r="2.7" fill="rgb(45,240,45)" fill-opacity="0.9"/><circle cx="255.0" cy="779.5" r="2.2" fill="rgb(45,240,45)" fill-opacity="0.9"/><circle cx="258.4" cy="775.2" r="2.6" fill="rgb(45,240,45)" fill-opacity="0.9"/><circle cx="257.8" cy="775.5" r="3.0" fill="rgb(45,240,45)" fill-opacity="0.9"/><circle cx="259.0" cy="776.4" r="1.6" fill="rgb(45,240,45)" fill-opacity="0.9"/><circle cx="267.2" cy="769.0" r="3.2" fill="rgb(45,240,45)" fill-opacity="0.9"/><path d="M267.2 769.0 L265.1 773.4" stroke="rgb(45,240,45)" stroke-width="2.0" stroke-linecap="round" stroke-linejoin="round" fill="none"/><circle cx="265.1" cy="773.4" r="2.2" fill="rgb(45,240,45)" fill-opacity="0.9"/><circle cx="267.4" cy="768.9" r="1.9" fill="rgb(45,240,45)" fill-opacity="0.9"/><circle cx="268.8" cy="763.5" r="2.3" fill="rgb(45,240,45)" fill-opacity="0.9"/><circle cx="270.1" cy="759.5" r="2.7" fill="rgb(45,240,45)" fill-opacity="0.9"/><circle cx="277.0" cy="755.9" r="2.6" fill="rgb(45,240,45)" fill-opacity="0.9"/><circle cx="270.8" cy="757.5" r="3.0" fill="rgb(45,240,45)" fill-opacity="0.9"/><circle cx="283.6" cy="751.2" r="1.6" fill="rgb(45,240,45)" fill-opacity="0.9"/><circle cx="284.8" cy="751.4" r="2.2" fill="rgb(45,240,45)" fill-opacity="0.9"/><circle cx="293.4" cy="747.0" r="2.7" fill="rgb(45,240,45)" fill-opacity="0.9"/><circle cx="289.8" cy="750.2" r="1.9" fill="rgb(45,240,45)" fill-opacity="0.9"/><circle cx="295.2" cy="743.6" r="2.0" fill="rgb(45,240,45)" fill-opacity="0.9"/><circle cx="296.4" cy="745.3" r="2.7" fill="rgb(45,240,45)" fill-opacity="0.9"/><circle cx="294.8" cy="738.2" r="2.6" fill="rgb(45,240,45)" fill-opacity="0.9"/><path d="M294.8 738.2 L295.1 742.9" stroke="rgb(45,240,45)" stroke-width="2.0" stroke-linecap="round" stroke-linejoin="round" fill="none"/><circle cx="295.1" cy="742.9" r="1.7" fill="rgb(45,240,45)" fill-opacity="0.9"/><circle cx="295.0" cy="738.6" r="1.6" fill="rgb(45,240,45)" fill-opacity="0.9"/><circle cx="298.7" cy="731.9" r="2.3" fill="rgb(45,240,45)" fill-opacity="0.9"/><circle cx="300.7" cy="729.4" r="2.5" fill="rgb(45,240,45)" fill-opacity="0.9"/><circle cx="302.9" cy="730.4" r="1.7" fill="rgb(45,240,45)" fill-opacity="0.9"/><path d="M294.5 733.5 L292.5 724.7 L287.7 717.8" stroke="rgb(45,240,45)" stroke-width="3.0" stroke-linecap="round" stroke-linejoin="round" fill="none"/><circle cx="291.6" cy="726.6" r="2.5" fill="rgb(45,240,45)" fill-opacity="0.9"/><circle cx="294.4" cy="728.7" r="2.0" fill="rgb(45,240,45)" fill-opacity="0.9"/><circle cx="293.1" cy="727.0" r="3.0" fill="rgb(45,240,45)" fill-opacity="0.9"/><circle cx="289.1" cy="721.5" r="2.6" fill="rgb(45,240,45)" fill-opacity="0.9"/><circle cx="290.4" cy="720.4" r="1.7" fill="rgb(45,240,45)" fill-opacity="0.9"/><circle cx="278.9" cy="753.0" r="5.0" fill="rgb(45,240,45)" fill-opacity="0.9"/><circle cx="283.0" cy="760.0" r="3.0" fill="rgb(45,240,45)" fill-opacity="0.9"/><circle cx="288.0" cy="718.0" r="3.0" fill="rgb(45,240,45)" fill-opacity="0.9"/></g>
<g filter="url(#soft2)"><path d="M247.6 782.3 L256.4 777.4 L265.2 769.6 L271.0 759.8 L278.9 753.0 L286.7 750.0 L294.5 747.1 L296.5 740.3 L294.5 733.5 L300.4 730.5 L304.3 729.6" stroke="rgb(45,240,45)" stroke-width="3.0" stroke-linecap="round" stroke-linejoin="round" fill="none"/><circle cx="250.1" cy="779.4" r="3.0" fill="rgb(45,240,45)" fill-opacity="0.9"/><circle cx="253.8" cy="778.6" r="2.7" fill="rgb(45,240,45)" fill-opacity="0.9"/><circle cx="255.0" cy="779.5" r="2.2" fill="rgb(45,240,45)" fill-opacity="0.9"/><circle cx="258.4" cy="775.2" r="2.6" fill="rgb(45,240,45)" fill-opacity="0.9"/><circle cx="257.8" cy="775.5" r="3.0" fill="rgb(45,240,45)" fill-opacity="0.9"/><circle cx="259.0" cy="776.4" r="1.6" fill="rgb(45,240,45)" fill-opacity="0.9"/><circle cx="267.2" cy="769.0" r="3.2" fill="rgb(45,240,45)" fill-opacity="0.9"/><path d="M267.2 769.0 L265.1 773.4" stroke="rgb(45,240,45)" stroke-width="2.0" stroke-linecap="round" stroke-linejoin="round" fill="none"/><circle cx="265.1" cy="773.4" r="2.2" fill="rgb(45,240,45)" fill-opacity="0.9"/><circle cx="267.4" cy="768.9" r="1.9" fill="rgb(45,240,45)" fill-opacity="0.9"/><circle cx="268.8" cy="763.5" r="2.3" fill="rgb(45,240,45)" fill-opacity="0.9"/><circle cx="270.1" cy="759.5" r="2.7" fill="rgb(45,240,45)" fill-opacity="0.9"/><circle cx="277.0" cy="755.9" r="2.6" fill="rgb(45,240,45)" fill-opacity="0.9"/><circle cx="270.8" cy="757.5" r="3.0" fill="rgb(45,240,45)" fill-opacity="0.9"/><circle cx="283.6" cy="751.2" r="1.6" fill="rgb(45,240,45)" fill-opacity="0.9"/><circle cx="284.8" cy="751.4" r="2.2" fill="rgb(45,240,45)" fill-opacity="0.9"/><circle cx="293.4" cy="747.0" r="2.7" fill="rgb(45,240,45)" fill-opacity="0.9"/><circle cx="289.8" cy="750.2" r="1.9" fill="rgb(45,240,45)" fill-opacity="0.9"/><circle cx="295.2" cy="743.6" r="2.0" fill="rgb(45,240,45)" fill-opacity="0.9"/><circle cx="296.4" cy="745.3" r="2.7" fill="rgb(45,240,45)" fill-opacity="0.9"/><circle cx="294.8" cy="738.2" r="2.6" fill="rgb(45,240,45)" fill-opacity="0.9"/><path d="M294.8 738.2 L295.1 742.9" stroke="rgb(45,240,45)" stroke-width="2.0" stroke-linecap="round" stroke-linejoin="round" fill="none"/><circle cx="295.1" cy="742.9" r="1.7" fill="rgb(45,240,45)" fill-opacity="0.9"/><circle cx="295.0" cy="738.6" r="1.6" fill="rgb(45,240,45)" fill-opacity="0.9"/><circle cx="298.7" cy="731.9" r="2.3" fill="rgb(45,240,45)" fill-opacity="0.9"/><circle cx="300.7" cy="729.4" r="2.5" fill="rgb(45,240,45)" fill-opacity="0.9"/><circle cx="302.9" cy="730.4" r="1.7" fill="rgb(45,240,45)" fill-opacity="0.9"/><path d="M294.5 733.5 L292.5 724.7 L287.7 717.8" stroke="rgb(45,240,45)" stroke-width="3.0" stroke-linecap="round" stroke-linejoin="round" fill="none"/><circle cx="291.6" cy="726.6" r="2.5" fill="rgb(45,240,45)" fill-opacity="0.9"/><circle cx="294.4" cy="728.7" r="2.0" fill="rgb(45,240,45)" fill-opacity="0.9"/><circle cx="293.1" cy="727.0" r="3.0" fill="rgb(45,240,45)" fill-opacity="0.9"/><circle cx="289.1" cy="721.5" r="2.6" fill="rgb(45,240,45)" fill-opacity="0.9"/><circle cx="290.4" cy="720.4" r="1.7" fill="rgb(45,240,45)" fill-opacity="0.9"/><circle cx="278.9" cy="753.0" r="5.0" fill="rgb(45,240,45)" fill-opacity="0.9"/><circle cx="283.0" cy="760.0" r="3.0" fill="rgb(45,240,45)" fill-opacity="0.9"/><circle cx="288.0" cy="718.0" r="3.0" fill="rgb(45,240,45)" fill-opacity="0.9"/></g>
<path d="M302 738 Q298 770 292.5 796" stroke="rgb(50,170,50)" stroke-width="0.7" fill="none"/>
<text x="249.6" y="739.8" font-size="12.8" font-weight="bold" fill="#fff">SH</text>
<line x1="258.4" y1="746.6" x2="262.4" y2="750.4" stroke="#fff" stroke-width="1.8"/>
<path d="M265.7 753.5L260.3 751.9L263.8 748.2Z" fill="#fff"/>
<g filter="url(#glow)" opacity="0.55"><ellipse cx="84.6" cy="857.3" rx="11.4" ry="10.4" transform="rotate(-10 84.6 857.3)" fill="rgb(22,205,22)" fill-opacity="0.88" stroke="rgb(45,240,45)" stroke-width="1.3"/><ellipse cx="102.8" cy="834.6" rx="6.0" ry="6.5" transform="rotate(10 102.8 834.6)" fill="rgb(22,205,22)" fill-opacity="0.88" stroke="rgb(45,240,45)" stroke-width="1.3"/><path d="M99.4 841.5L101.4 851.4" stroke="rgb(28,175,28)" stroke-width="4.0" stroke-linecap="round" fill="none"/><path d="M99.4 841.5L101.4 851.4" stroke="rgb(10,100,10)" stroke-opacity="0.72" stroke-width="1.8" stroke-linecap="round" fill="none"/><path d="M97.4 851.4L119.1 864.2" stroke="rgb(28,175,28)" stroke-width="6.0" stroke-linecap="round" fill="none"/><path d="M97.4 851.4L119.1 864.2" stroke="rgb(10,100,10)" stroke-opacity="0.72" stroke-width="3.8" stroke-linecap="round" fill="none"/><ellipse cx="116.2" cy="863.7" rx="5.0" ry="4.5" transform="rotate(30 116.2 863.7)" fill="rgb(22,205,22)" fill-opacity="0.88" stroke="rgb(45,240,45)" stroke-width="1.3"/></g>
<g filter="url(#soft2)"><ellipse cx="84.6" cy="857.3" rx="11.4" ry="10.4" transform="rotate(-10 84.6 857.3)" fill="rgb(22,205,22)" fill-opacity="0.88" stroke="rgb(45,240,45)" stroke-width="1.3"/><ellipse cx="102.8" cy="834.6" rx="6.0" ry="6.5" transform="rotate(10 102.8 834.6)" fill="rgb(22,205,22)" fill-opacity="0.88" stroke="rgb(45,240,45)" stroke-width="1.3"/><path d="M99.4 841.5L101.4 851.4" stroke="rgb(28,175,28)" stroke-width="4.0" stroke-linecap="round" fill="none"/><path d="M99.4 841.5L101.4 851.4" stroke="rgb(10,100,10)" stroke-opacity="0.72" stroke-width="1.8" stroke-linecap="round" fill="none"/><path d="M97.4 851.4L119.1 864.2" stroke="rgb(28,175,28)" stroke-width="6.0" stroke-linecap="round" fill="none"/><path d="M97.4 851.4L119.1 864.2" stroke="rgb(10,100,10)" stroke-opacity="0.72" stroke-width="3.8" stroke-linecap="round" fill="none"/><ellipse cx="116.2" cy="863.7" rx="5.0" ry="4.5" transform="rotate(30 116.2 863.7)" fill="rgb(22,205,22)" fill-opacity="0.88" stroke="rgb(45,240,45)" stroke-width="1.3"/></g>
<text x="118.7" y="845.5" font-size="12.8" font-weight="bold" fill="#fff">IH</text>
<line x1="117.2" y1="840.5" x2="113.0" y2="844.7" stroke="#fff" stroke-width="1.8"/>
<path d="M109.8 847.9L111.6 842.6L115.1 846.1Z" fill="#fff"/>
<text x="56.9" y="882.0" font-size="12.8" font-weight="bold" fill="#fff">SV</text>
<line x1="61.8" y1="870.2" x2="66.5" y2="865.5" stroke="#fff" stroke-width="1.8"/>
<path d="M69.7 862.3L67.9 867.6L64.4 864.1Z" fill="#fff"/>
<g filter="url(#glow)" opacity="0.55"><ellipse cx="168.7" cy="857.3" rx="11.9" ry="12.4" transform="rotate(0 168.7 857.3)" fill="rgb(16,155,16)" fill-opacity="0.78" stroke="rgb(35,215,35)" stroke-width="1.3"/><path d="M149.9 838.5L174.6 836.6" stroke="rgb(35,215,35)" stroke-width="7.0" stroke-linecap="round" fill="none"/><path d="M149.9 838.5L174.6 836.6" stroke="rgb(16,155,16)" stroke-opacity="0.78" stroke-width="4.8" stroke-linecap="round" fill="none"/><path d="M175.6 836.6L212.0 833.6" stroke="rgb(28,175,28)" stroke-width="5.5" stroke-linecap="round" fill="none"/><path d="M175.6 836.6L212.0 833.6" stroke="rgb(10,100,10)" stroke-opacity="0.72" stroke-width="3.3" stroke-linecap="round" fill="none"/><ellipse cx="216.6" cy="834.1" rx="7.0" ry="6.0" transform="rotate(0 216.6 834.1)" fill="rgb(22,205,22)" fill-opacity="0.88" stroke="rgb(45,240,45)" stroke-width="1.3"/><ellipse cx="207.2" cy="825.7" rx="3.0" ry="3.5" transform="rotate(0 207.2 825.7)" fill="rgb(22,205,22)" fill-opacity="0.88" stroke="rgb(45,240,45)" stroke-width="1.3"/></g>
<g filter="url(#soft2)"><ellipse cx="168.7" cy="857.3" rx="11.9" ry="12.4" transform="rotate(0 168.7 857.3)" fill="rgb(16,155,16)" fill-opacity="0.78" stroke="rgb(35,215,35)" stroke-width="1.3"/><path d="M149.9 838.5L174.6 836.6" stroke="rgb(35,215,35)" stroke-width="7.0" stroke-linecap="round" fill="none"/><path d="M149.9 838.5L174.6 836.6" stroke="rgb(16,155,16)" stroke-opacity="0.78" stroke-width="4.8" stroke-linecap="round" fill="none"/><path d="M175.6 836.6L212.0 833.6" stroke="rgb(28,175,28)" stroke-width="5.5" stroke-linecap="round" fill="none"/><path d="M175.6 836.6L212.0 833.6" stroke="rgb(10,100,10)" stroke-opacity="0.72" stroke-width="3.3" stroke-linecap="round" fill="none"/><ellipse cx="216.6" cy="834.1" rx="7.0" ry="6.0" transform="rotate(0 216.6 834.1)" fill="rgb(22,205,22)" fill-opacity="0.88" stroke="rgb(45,240,45)" stroke-width="1.3"/><ellipse cx="207.2" cy="825.7" rx="3.0" ry="3.5" transform="rotate(0 207.2 825.7)" fill="rgb(22,205,22)" fill-opacity="0.88" stroke="rgb(45,240,45)" stroke-width="1.3"/></g>
<text x="194.3" y="817.8" font-size="12.8" font-weight="bold" fill="#fff">IH</text>
<line x1="198.3" y1="822.2" x2="194.2" y2="826.1" stroke="#fff" stroke-width="1.8"/>
<path d="M190.9 829.2L192.8 823.9L196.3 827.6Z" fill="#fff"/>
<text x="144.9" y="885.5" font-size="12.8" font-weight="bold" fill="#fff">SV</text>
<line x1="148.4" y1="872.6" x2="152.5" y2="868.8" stroke="#fff" stroke-width="1.8"/>
<path d="M155.8 865.7L153.8 870.9L150.4 867.3Z" fill="#fff"/>
<g filter="url(#glow)" opacity="0.55"><path d="M236.9 858.3 L244.8 860.3 L251.8 859.3 L256.7 857.3 L261.6 851.4 L269.5 847.4 L276.5 844.5 L279.4 837.5 L281.4 834.6 L287.3 833.6 L295.2 831.6 L301.2 827.7 L307.1 824.7 L310.1 819.8 L311.0 812.8 L308.1 805.9" stroke="rgb(45,240,45)" stroke-width="3.0" stroke-linecap="round" stroke-linejoin="round" fill="none"/><circle cx="240.5" cy="858.9" r="1.8" fill="rgb(45,240,45)" fill-opacity="0.9"/><circle cx="243.4" cy="858.4" r="2.2" fill="rgb(45,240,45)" fill-opacity="0.9"/><path d="M243.4 858.4 L244.3 862.8" stroke="rgb(45,240,45)" stroke-width="2.0" stroke-linecap="round" stroke-linejoin="round" fill="none"/><circle cx="244.3" cy="862.8" r="1.5" fill="rgb(45,240,45)" fill-opacity="0.9"/><circle cx="246.6" cy="860.2" r="1.8" fill="rgb(45,240,45)" fill-opacity="0.9"/><circle cx="249.0" cy="860.4" r="2.7" fill="rgb(45,240,45)" fill-opacity="0.9"/><circle cx="253.9" cy="858.5" r="1.6" fill="rgb(45,240,45)" fill-opacity="0.9"/><path d="M253.9 858.5 L256.7 854.6" stroke="rgb(45,240,45)" stroke-width="2.0" stroke-linecap="round" stroke-linejoin="round" fill="none"/><circle cx="256.7" cy="854.6" r="2.4" fill="rgb(45,240,45)" fill-opacity="0.9"/><circle cx="260.4" cy="854.4" r="2.1" fill="rgb(45,240,45)" fill-opacity="0.9"/><circle cx="261.1" cy="853.5" r="2.4" fill="rgb(45,240,45)" fill-opacity="0.9"/><circle cx="261.1" cy="850.6" r="1.5" fill="rgb(45,240,45)" fill-opacity="0.9"/><circle cx="261.7" cy="851.4" r="2.1" fill="rgb(45,240,45)" fill-opacity="0.9"/><circle cx="270.3" cy="848.1" r="2.6" fill="rgb(45,240,45)" fill-opacity="0.9"/><circle cx="271.4" cy="845.9" r="2.1" fill="rgb(45,240,45)" fill-opacity="0.9"/><circle cx="278.5" cy="840.6" r="2.9" fill="rgb(45,240,45)" fill-opacity="0.9"/><circle cx="275.8" cy="842.3" r="1.9" fill="rgb(45,240,45)" fill-opacity="0.9"/><circle cx="282.4" cy="834.2" r="2.6" fill="rgb(45,240,45)" fill-opacity="0.9"/><circle cx="286.7" cy="833.0" r="1.8" fill="rgb(45,240,45)" fill-opacity="0.9"/><circle cx="289.6" cy="834.3" r="2.1" fill="rgb(45,240,45)" fill-opacity="0.9"/><circle cx="295.2" cy="830.4" r="1.5" fill="rgb(45,240,45)" fill-opacity="0.9"/><path d="M295.2 830.4 L291.5 826.5" stroke="rgb(45,240,45)" stroke-width="2.0" stroke-linecap="round" stroke-linejoin="round" fill="none"/><circle cx="291.5" cy="826.5" r="2.0" fill="rgb(45,240,45)" fill-opacity="0.9"/><circle cx="295.2" cy="832.8" r="2.4" fill="rgb(45,240,45)" fill-opacity="0.9"/><circle cx="298.9" cy="828.9" r="2.6" fill="rgb(45,240,45)" fill-opacity="0.9"/><circle cx="303.2" cy="825.7" r="2.2" fill="rgb(45,240,45)" fill-opacity="0.9"/><circle cx="308.0" cy="824.1" r="2.3" fill="rgb(45,240,45)" fill-opacity="0.9"/><circle cx="310.9" cy="819.6" r="2.6" fill="rgb(45,240,45)" fill-opacity="0.9"/><circle cx="311.0" cy="818.8" r="2.8" fill="rgb(45,240,45)" fill-opacity="0.9"/><circle cx="309.6" cy="818.4" r="3.1" fill="rgb(45,240,45)" fill-opacity="0.9"/><circle cx="308.0" cy="805.7" r="3.0" fill="rgb(45,240,45)" fill-opacity="0.9"/><circle cx="310.7" cy="810.9" r="2.8" fill="rgb(45,240,45)" fill-opacity="0.9"/><path d="M265.6 834.1 L273.5 834.1 L281.4 834.6" stroke="rgb(45,240,45)" stroke-width="3.0" stroke-linecap="round" stroke-linejoin="round" fill="none"/><circle cx="266.5" cy="834.2" r="1.9" fill="rgb(45,240,45)" fill-opacity="0.9"/><circle cx="268.1" cy="834.2" r="2.7" fill="rgb(45,240,45)" fill-opacity="0.9"/><circle cx="277.4" cy="834.7" r="2.2" fill="rgb(45,240,45)" fill-opacity="0.9"/><circle cx="273.6" cy="833.7" r="2.5" fill="rgb(45,240,45)" fill-opacity="0.9"/><path d="M269.5 847.4 L269.5 861.3 L272.5 869.2" stroke="rgb(45,240,45)" stroke-width="3.0" stroke-linecap="round" stroke-linejoin="round" fill="none"/><circle cx="268.2" cy="850.9" r="1.8" fill="rgb(45,240,45)" fill-opacity="0.9"/><circle cx="268.2" cy="858.6" r="2.6" fill="rgb(45,240,45)" fill-opacity="0.9"/><circle cx="270.8" cy="849.5" r="2.3" fill="rgb(45,240,45)" fill-opacity="0.9"/><circle cx="268.6" cy="857.4" r="2.2" fill="rgb(45,240,45)" fill-opacity="0.9"/><circle cx="271.6" cy="865.5" r="3.2" fill="rgb(45,240,45)" fill-opacity="0.9"/><path d="M271.6 865.5 L268.3 867.8" stroke="rgb(45,240,45)" stroke-width="2.0" stroke-linecap="round" stroke-linejoin="round" fill="none"/><circle cx="268.3" cy="867.8" r="2.4" fill="rgb(45,240,45)" fill-opacity="0.9"/><circle cx="269.3" cy="863.1" r="2.2" fill="rgb(45,240,45)" fill-opacity="0.9"/><path d="M295.2 831.6 L295.2 835.6 L297.2 839.5" stroke="rgb(45,240,45)" stroke-width="3.0" stroke-linecap="round" stroke-linejoin="round" fill="none"/><circle cx="296.5" cy="832.4" r="3.0" fill="rgb(45,240,45)" fill-opacity="0.9"/><circle cx="296.8" cy="836.8" r="3.1" fill="rgb(45,240,45)" fill-opacity="0.9"/><circle cx="281.0" cy="836.0" r="5.0" fill="rgb(45,240,45)" fill-opacity="0.9"/><circle cx="259.7" cy="867.2" r="4.0" fill="rgb(45,240,45)" fill-opacity="0.9"/><circle cx="309.0" cy="812.0" r="4.0" fill="rgb(45,240,45)" fill-opacity="0.9"/><circle cx="310.0" cy="806.0" r="3.5" fill="rgb(45,240,45)" fill-opacity="0.9"/></g>
<g filter="url(#soft2)"><path d="M236.9 858.3 L244.8 860.3 L251.8 859.3 L256.7 857.3 L261.6 851.4 L269.5 847.4 L276.5 844.5 L279.4 837.5 L281.4 834.6 L287.3 833.6 L295.2 831.6 L301.2 827.7 L307.1 824.7 L310.1 819.8 L311.0 812.8 L308.1 805.9" stroke="rgb(45,240,45)" stroke-width="3.0" stroke-linecap="round" stroke-linejoin="round" fill="none"/><circle cx="240.5" cy="858.9" r="1.8" fill="rgb(45,240,45)" fill-opacity="0.9"/><circle cx="243.4" cy="858.4" r="2.2" fill="rgb(45,240,45)" fill-opacity="0.9"/><path d="M243.4 858.4 L244.3 862.8" stroke="rgb(45,240,45)" stroke-width="2.0" stroke-linecap="round" stroke-linejoin="round" fill="none"/><circle cx="244.3" cy="862.8" r="1.5" fill="rgb(45,240,45)" fill-opacity="0.9"/><circle cx="246.6" cy="860.2" r="1.8" fill="rgb(45,240,45)" fill-opacity="0.9"/><circle cx="249.0" cy="860.4" r="2.7" fill="rgb(45,240,45)" fill-opacity="0.9"/><circle cx="253.9" cy="858.5" r="1.6" fill="rgb(45,240,45)" fill-opacity="0.9"/><path d="M253.9 858.5 L256.7 854.6" stroke="rgb(45,240,45)" stroke-width="2.0" stroke-linecap="round" stroke-linejoin="round" fill="none"/><circle cx="256.7" cy="854.6" r="2.4" fill="rgb(45,240,45)" fill-opacity="0.9"/><circle cx="260.4" cy="854.4" r="2.1" fill="rgb(45,240,45)" fill-opacity="0.9"/><circle cx="261.1" cy="853.5" r="2.4" fill="rgb(45,240,45)" fill-opacity="0.9"/><circle cx="261.1" cy="850.6" r="1.5" fill="rgb(45,240,45)" fill-opacity="0.9"/><circle cx="261.7" cy="851.4" r="2.1" fill="rgb(45,240,45)" fill-opacity="0.9"/><circle cx="270.3" cy="848.1" r="2.6" fill="rgb(45,240,45)" fill-opacity="0.9"/><circle cx="271.4" cy="845.9" r="2.1" fill="rgb(45,240,45)" fill-opacity="0.9"/><circle cx="278.5" cy="840.6" r="2.9" fill="rgb(45,240,45)" fill-opacity="0.9"/><circle cx="275.8" cy="842.3" r="1.9" fill="rgb(45,240,45)" fill-opacity="0.9"/><circle cx="282.4" cy="834.2" r="2.6" fill="rgb(45,240,45)" fill-opacity="0.9"/><circle cx="286.7" cy="833.0" r="1.8" fill="rgb(45,240,45)" fill-opacity="0.9"/><circle cx="289.6" cy="834.3" r="2.1" fill="rgb(45,240,45)" fill-opacity="0.9"/><circle cx="295.2" cy="830.4" r="1.5" fill="rgb(45,240,45)" fill-opacity="0.9"/><path d="M295.2 830.4 L291.5 826.5" stroke="rgb(45,240,45)" stroke-width="2.0" stroke-linecap="round" stroke-linejoin="round" fill="none"/><circle cx="291.5" cy="826.5" r="2.0" fill="rgb(45,240,45)" fill-opacity="0.9"/><circle cx="295.2" cy="832.8" r="2.4" fill="rgb(45,240,45)" fill-opacity="0.9"/><circle cx="298.9" cy="828.9" r="2.6" fill="rgb(45,240,45)" fill-opacity="0.9"/><circle cx="303.2" cy="825.7" r="2.2" fill="rgb(45,240,45)" fill-opacity="0.9"/><circle cx="308.0" cy="824.1" r="2.3" fill="rgb(45,240,45)" fill-opacity="0.9"/><circle cx="310.9" cy="819.6" r="2.6" fill="rgb(45,240,45)" fill-opacity="0.9"/><circle cx="311.0" cy="818.8" r="2.8" fill="rgb(45,240,45)" fill-opacity="0.9"/><circle cx="309.6" cy="818.4" r="3.1" fill="rgb(45,240,45)" fill-opacity="0.9"/><circle cx="308.0" cy="805.7" r="3.0" fill="rgb(45,240,45)" fill-opacity="0.9"/><circle cx="310.7" cy="810.9" r="2.8" fill="rgb(45,240,45)" fill-opacity="0.9"/><path d="M265.6 834.1 L273.5 834.1 L281.4 834.6" stroke="rgb(45,240,45)" stroke-width="3.0" stroke-linecap="round" stroke-linejoin="round" fill="none"/><circle cx="266.5" cy="834.2" r="1.9" fill="rgb(45,240,45)" fill-opacity="0.9"/><circle cx="268.1" cy="834.2" r="2.7" fill="rgb(45,240,45)" fill-opacity="0.9"/><circle cx="277.4" cy="834.7" r="2.2" fill="rgb(45,240,45)" fill-opacity="0.9"/><circle cx="273.6" cy="833.7" r="2.5" fill="rgb(45,240,45)" fill-opacity="0.9"/><path d="M269.5 847.4 L269.5 861.3 L272.5 869.2" stroke="rgb(45,240,45)" stroke-width="3.0" stroke-linecap="round" stroke-linejoin="round" fill="none"/><circle cx="268.2" cy="850.9" r="1.8" fill="rgb(45,240,45)" fill-opacity="0.9"/><circle cx="268.2" cy="858.6" r="2.6" fill="rgb(45,240,45)" fill-opacity="0.9"/><circle cx="270.8" cy="849.5" r="2.3" fill="rgb(45,240,45)" fill-opacity="0.9"/><circle cx="268.6" cy="857.4" r="2.2" fill="rgb(45,240,45)" fill-opacity="0.9"/><circle cx="271.6" cy="865.5" r="3.2" fill="rgb(45,240,45)" fill-opacity="0.9"/><path d="M271.6 865.5 L268.3 867.8" stroke="rgb(45,240,45)" stroke-width="2.0" stroke-linecap="round" stroke-linejoin="round" fill="none"/><circle cx="268.3" cy="867.8" r="2.4" fill="rgb(45,240,45)" fill-opacity="0.9"/><circle cx="269.3" cy="863.1" r="2.2" fill="rgb(45,240,45)" fill-opacity="0.9"/><path d="M295.2 831.6 L295.2 835.6 L297.2 839.5" stroke="rgb(45,240,45)" stroke-width="3.0" stroke-linecap="round" stroke-linejoin="round" fill="none"/><circle cx="296.5" cy="832.4" r="3.0" fill="rgb(45,240,45)" fill-opacity="0.9"/><circle cx="296.8" cy="836.8" r="3.1" fill="rgb(45,240,45)" fill-opacity="0.9"/><circle cx="281.0" cy="836.0" r="5.0" fill="rgb(45,240,45)" fill-opacity="0.9"/><circle cx="259.7" cy="867.2" r="4.0" fill="rgb(45,240,45)" fill-opacity="0.9"/><circle cx="309.0" cy="812.0" r="4.0" fill="rgb(45,240,45)" fill-opacity="0.9"/><circle cx="310.0" cy="806.0" r="3.5" fill="rgb(45,240,45)" fill-opacity="0.9"/></g>
<text x="240.4" y="826.7" font-size="12.8" font-weight="bold" fill="#fff">SH</text>
<line x1="252.8" y1="833.6" x2="256.9" y2="837.4" stroke="#fff" stroke-width="1.8"/>
<path d="M260.2 840.5L254.8 838.9L258.2 835.3Z" fill="#fff"/>
<text x="105.6" y="789.6" font-size="10" font-weight="bold" fill="#fff">20 µm</text>
<line x1="106.7" y1="794.8" x2="128.9" y2="794.8" stroke="#fff" stroke-width="1.8"/>
<text x="198.6" y="789.6" font-size="10" font-weight="bold" fill="#fff">20 µm</text>
<line x1="198.6" y1="794.8" x2="221.0" y2="794.8" stroke="#fff" stroke-width="1.8"/>
<text x="105.3" y="879.0" font-size="10" font-weight="bold" fill="#fff">20 µm</text>
<line x1="105.3" y1="884.0" x2="127.2" y2="884.0" stroke="#fff" stroke-width="1.8"/>
<text x="199.3" y="878.1" font-size="10" font-weight="bold" fill="#fff">20 µm</text>
<line x1="199.3" y1="883.5" x2="221.0" y2="883.5" stroke="#fff" stroke-width="1.8"/>
<text x="289.8" y="878.6" font-size="10" font-weight="bold" fill="#fff">50 µm</text>
<line x1="289.8" y1="883.5" x2="309.7" y2="883.5" stroke="#fff" stroke-width="1.8"/>
<text x="290.6" y="789.6" font-size="10" font-weight="bold" fill="#fff">50 µm</text>
<line x1="290.4" y1="794.8" x2="309.6" y2="794.8" stroke="#fff" stroke-width="1.8"/>
<rect x="278.9" y="785.0" width="25.9" height="4.5" fill="#fff"/>
<rect x="684.1" y="711.0" width="84.8" height="81.6" fill="#0b0b0b"/>
<rect x="773.8" y="711.0" width="87.0" height="81.6" fill="#0b0b0b"/>
<rect x="866.4" y="711.0" width="87.2" height="81.6" fill="#0b0b0b"/>
<rect x="684.1" y="800.2" width="84.8" height="84.3" fill="#0b0b0b"/>
<rect x="773.8" y="800.2" width="87.0" height="84.3" fill="#0b0b0b"/>
<rect x="866.4" y="800.2" width="87.2" height="84.3" fill="#0b0b0b"/>
<g filter="url(#glow)" opacity="0.55"><ellipse cx="710.3" cy="749.6" rx="13.7" ry="12.7" transform="rotate(0 710.3 749.6)" fill="rgb(22,205,22)" fill-opacity="0.88" stroke="rgb(45,240,45)" stroke-width="1.3"/><path d="M725.4 746.8L733.0 737.3" stroke="rgb(28,175,28)" stroke-width="5.0" stroke-linecap="round" fill="none"/><path d="M725.4 746.8L733.0 737.3" stroke="rgb(10,100,10)" stroke-opacity="0.72" stroke-width="2.8" stroke-linecap="round" fill="none"/><ellipse cx="737.2" cy="732.6" rx="4.5" ry="6.0" transform="rotate(25 737.2 732.6)" fill="rgb(22,205,22)" fill-opacity="0.88" stroke="rgb(45,240,45)" stroke-width="1.3"/><ellipse cx="747.2" cy="746.8" rx="7.0" ry="3.5" transform="rotate(0 747.2 746.8)" fill="rgb(22,205,22)" fill-opacity="0.88" stroke="rgb(45,240,45)" stroke-width="1.3"/><path d="M727.0 749.0L742.0 749.0" stroke="rgb(28,175,28)" stroke-width="3.0" stroke-linecap="round" fill="none"/><path d="M727.0 749.0L742.0 749.0" stroke="rgb(10,100,10)" stroke-opacity="0.72" stroke-width="0.8" stroke-linecap="round" fill="none"/></g>
<g filter="url(#soft2)"><ellipse cx="710.3" cy="749.6" rx="13.7" ry="12.7" transform="rotate(0 710.3 749.6)" fill="rgb(22,205,22)" fill-opacity="0.88" stroke="rgb(45,240,45)" stroke-width="1.3"/><path d="M725.4 746.8L733.0 737.3" stroke="rgb(28,175,28)" stroke-width="5.0" stroke-linecap="round" fill="none"/><path d="M725.4 746.8L733.0 737.3" stroke="rgb(10,100,10)" stroke-opacity="0.72" stroke-width="2.8" stroke-linecap="round" fill="none"/><ellipse cx="737.2" cy="732.6" rx="4.5" ry="6.0" transform="rotate(25 737.2 732.6)" fill="rgb(22,205,22)" fill-opacity="0.88" stroke="rgb(45,240,45)" stroke-width="1.3"/><ellipse cx="747.2" cy="746.8" rx="7.0" ry="3.5" transform="rotate(0 747.2 746.8)" fill="rgb(22,205,22)" fill-opacity="0.88" stroke="rgb(45,240,45)" stroke-width="1.3"/><path d="M727.0 749.0L742.0 749.0" stroke="rgb(28,175,28)" stroke-width="3.0" stroke-linecap="round" fill="none"/><path d="M727.0 749.0L742.0 749.0" stroke="rgb(10,100,10)" stroke-opacity="0.72" stroke-width="0.8" stroke-linecap="round" fill="none"/></g>
<text x="752.8" y="725.0" font-size="12.8" font-weight="bold" fill="#fff">IH</text>
<line x1="758.5" y1="733.1" x2="754.1" y2="737.4" stroke="#fff" stroke-width="1.8"/>
<path d="M750.9 740.6L752.7 735.3L756.2 738.9Z" fill="#fff"/>
<text x="689.1" y="785.0" font-size="12.8" font-weight="bold" fill="#fff">SV</text>
<line x1="695.7" y1="769.9" x2="700.0" y2="765.6" stroke="#fff" stroke-width="1.8"/>
<path d="M703.2 762.4L701.4 767.7L697.9 764.2Z" fill="#fff"/>
<path d="M774.8 749.6L786 751.5" stroke="rgb(25,120,25)" stroke-width="6" opacity="0.6" filter="url(#glow)"/>
<g filter="url(#glow)" opacity="0.55"><ellipse cx="797.4" cy="759.0" rx="14.0" ry="9.5" transform="rotate(20 797.4 759.0)" fill="rgb(16,155,16)" fill-opacity="0.78" stroke="rgb(35,215,35)" stroke-width="1.3"/><path d="M808.8 751.5L822.0 734.5" stroke="rgb(35,215,35)" stroke-width="6.6" stroke-linecap="round" fill="none"/><path d="M808.8 751.5L822.0 734.5" stroke="rgb(16,155,16)" stroke-opacity="0.78" stroke-width="4.4" stroke-linecap="round" fill="none"/><path d="M812.5 760.0L849.4 766.6" stroke="rgb(35,215,35)" stroke-width="9.4" stroke-linecap="round" fill="none"/><path d="M812.5 760.0L849.4 766.6" stroke="rgb(16,155,16)" stroke-opacity="0.78" stroke-width="7.2" stroke-linecap="round" fill="none"/></g>
<g filter="url(#soft2)"><ellipse cx="797.4" cy="759.0" rx="14.0" ry="9.5" transform="rotate(20 797.4 759.0)" fill="rgb(16,155,16)" fill-opacity="0.78" stroke="rgb(35,215,35)" stroke-width="1.3"/><path d="M808.8 751.5L822.0 734.5" stroke="rgb(35,215,35)" stroke-width="6.6" stroke-linecap="round" fill="none"/><path d="M808.8 751.5L822.0 734.5" stroke="rgb(16,155,16)" stroke-opacity="0.78" stroke-width="4.4" stroke-linecap="round" fill="none"/><path d="M812.5 760.0L849.4 766.6" stroke="rgb(35,215,35)" stroke-width="9.4" stroke-linecap="round" fill="none"/><path d="M812.5 760.0L849.4 766.6" stroke="rgb(16,155,16)" stroke-opacity="0.78" stroke-width="7.2" stroke-linecap="round" fill="none"/></g>
<text x="839.5" y="742.5" font-size="12.8" font-weight="bold" fill="#fff">IH</text>
<line x1="839.9" y1="747.2" x2="836.1" y2="751.1" stroke="#fff" stroke-width="1.8"/>
<path d="M832.9 754.3L834.6 749.0L838.2 752.5Z" fill="#fff"/>
<text x="782.8" y="789.7" font-size="12.8" font-weight="bold" fill="#fff">SV</text>
<line x1="785.2" y1="777.0" x2="789.4" y2="773.0" stroke="#fff" stroke-width="1.8"/>
<path d="M792.7 769.9L790.8 775.2L787.4 771.5Z" fill="#fff"/>
<g filter="url(#glow)" opacity="0.55"><path d="M892.3 732.6 L888.5 742.0 L880.0 750.0 L877.2 754.3 L879.0 762.0 L881.0 767.5 L887.6 777.0 L892.3 783.5" stroke="rgb(45,240,45)" stroke-width="2.6" stroke-linecap="round" stroke-linejoin="round" fill="none"/><circle cx="891.4" cy="733.9" r="2.7" fill="rgb(45,240,45)" fill-opacity="0.9"/><circle cx="891.5" cy="737.5" r="2.9" fill="rgb(45,240,45)" fill-opacity="0.9"/><circle cx="890.6" cy="738.0" r="1.9" fill="rgb(45,240,45)" fill-opacity="0.9"/><circle cx="886.5" cy="746.3" r="1.3" fill="rgb(45,240,45)" fill-opacity="0.9"/><circle cx="885.4" cy="744.9" r="2.3" fill="rgb(45,240,45)" fill-opacity="0.9"/><circle cx="883.1" cy="749.1" r="1.6" fill="rgb(45,240,45)" fill-opacity="0.9"/><circle cx="879.8" cy="751.8" r="2.8" fill="rgb(45,240,45)" fill-opacity="0.9"/><circle cx="879.7" cy="761.6" r="2.3" fill="rgb(45,240,45)" fill-opacity="0.9"/><circle cx="878.9" cy="760.4" r="2.0" fill="rgb(45,240,45)" fill-opacity="0.9"/><circle cx="880.8" cy="761.9" r="2.8" fill="rgb(45,240,45)" fill-opacity="0.9"/><circle cx="881.8" cy="769.0" r="1.5" fill="rgb(45,240,45)" fill-opacity="0.9"/><circle cx="886.7" cy="774.7" r="2.6" fill="rgb(45,240,45)" fill-opacity="0.9"/><circle cx="887.6" cy="776.5" r="2.2" fill="rgb(45,240,45)" fill-opacity="0.9"/><circle cx="892.9" cy="784.0" r="1.3" fill="rgb(45,240,45)" fill-opacity="0.9"/><circle cx="888.3" cy="777.8" r="2.3" fill="rgb(45,240,45)" fill-opacity="0.9"/><path d="M885.0 772.0 L892.3 773.2 L900.0 772.0 L906.5 770.3 L916.8 775.0 L922.0 772.0" stroke="rgb(45,240,45)" stroke-width="2.6" stroke-linecap="round" stroke-linejoin="round" fill="none"/><circle cx="887.3" cy="772.5" r="1.7" fill="rgb(45,240,45)" fill-opacity="0.9"/><circle cx="885.3" cy="772.2" r="2.3" fill="rgb(45,240,45)" fill-opacity="0.9"/><circle cx="897.7" cy="771.9" r="2.1" fill="rgb(45,240,45)" fill-opacity="0.9"/><path d="M897.7 771.9 L895.0 768.6" stroke="rgb(45,240,45)" stroke-width="2.0" stroke-linecap="round" stroke-linejoin="round" fill="none"/><circle cx="895.0" cy="768.6" r="2.4" fill="rgb(45,240,45)" fill-opacity="0.9"/><circle cx="893.1" cy="774.4" r="1.3" fill="rgb(45,240,45)" fill-opacity="0.9"/><circle cx="905.1" cy="771.0" r="2.2" fill="rgb(45,240,45)" fill-opacity="0.9"/><circle cx="902.5" cy="772.0" r="2.5" fill="rgb(45,240,45)" fill-opacity="0.9"/><circle cx="907.5" cy="769.7" r="2.6" fill="rgb(45,240,45)" fill-opacity="0.9"/><circle cx="914.2" cy="775.0" r="2.0" fill="rgb(45,240,45)" fill-opacity="0.9"/><circle cx="912.8" cy="773.5" r="2.2" fill="rgb(45,240,45)" fill-opacity="0.9"/><circle cx="920.1" cy="773.1" r="1.3" fill="rgb(45,240,45)" fill-opacity="0.9"/><path d="M920.1 773.1 L922.6 770.4" stroke="rgb(45,240,45)" stroke-width="2.0" stroke-linecap="round" stroke-linejoin="round" fill="none"/><circle cx="922.6" cy="770.4" r="2.0" fill="rgb(45,240,45)" fill-opacity="0.9"/><circle cx="917.9" cy="774.3" r="1.4" fill="rgb(45,240,45)" fill-opacity="0.9"/><path d="M892.3 732.6 L903.0 735.0 L910.0 738.0" stroke="rgb(45,240,45)" stroke-width="2.6" stroke-linecap="round" stroke-linejoin="round" fill="none"/><circle cx="903.0" cy="733.3" r="2.9" fill="rgb(45,240,45)" fill-opacity="0.9"/><path d="M903.0 733.3 L898.4 733.8" stroke="rgb(45,240,45)" stroke-width="2.0" stroke-linecap="round" stroke-linejoin="round" fill="none"/><circle cx="898.4" cy="733.8" r="2.4" fill="rgb(45,240,45)" fill-opacity="0.9"/><circle cx="894.8" cy="732.3" r="2.6" fill="rgb(45,240,45)" fill-opacity="0.9"/><circle cx="897.1" cy="734.5" r="2.0" fill="rgb(45,240,45)" fill-opacity="0.9"/><circle cx="907.3" cy="737.6" r="2.4" fill="rgb(45,240,45)" fill-opacity="0.9"/><circle cx="907.6" cy="737.6" r="1.6" fill="rgb(45,240,45)" fill-opacity="0.9"/><path d="M907.0 760.0 L915.9 751.5 L925.3 749.6 L932.0 752.0" stroke="rgb(45,240,45)" stroke-width="2.6" stroke-linecap="round" stroke-linejoin="round" fill="none"/><circle cx="912.6" cy="754.0" r="2.2" fill="rgb(45,240,45)" fill-opacity="0.9"/><circle cx="910.2" cy="759.3" r="2.1" fill="rgb(45,240,45)" fill-opacity="0.9"/><path d="M910.2 759.3 L913.5 758.9" stroke="rgb(45,240,45)" stroke-width="2.0" stroke-linecap="round" stroke-linejoin="round" fill="none"/><circle cx="913.5" cy="758.9" r="2.1" fill="rgb(45,240,45)" fill-opacity="0.9"/><circle cx="913.1" cy="755.7" r="2.3" fill="rgb(45,240,45)" fill-opacity="0.9"/><circle cx="916.7" cy="751.3" r="2.7" fill="rgb(45,240,45)" fill-opacity="0.9"/><circle cx="919.2" cy="749.3" r="2.9" fill="rgb(45,240,45)" fill-opacity="0.9"/><circle cx="922.5" cy="749.1" r="1.6" fill="rgb(45,240,45)" fill-opacity="0.9"/><circle cx="916.7" cy="752.3" r="2.2" fill="rgb(45,240,45)" fill-opacity="0.9"/><path d="M916.7 752.3 L922.1 752.8" stroke="rgb(45,240,45)" stroke-width="2.0" stroke-linecap="round" stroke-linejoin="round" fill="none"/><circle cx="922.1" cy="752.8" r="1.8" fill="rgb(45,240,45)" fill-opacity="0.9"/><circle cx="925.9" cy="750.7" r="1.8" fill="rgb(45,240,45)" fill-opacity="0.9"/><path d="M925.9 750.7 L927.7 754.7" stroke="rgb(45,240,45)" stroke-width="2.0" stroke-linecap="round" stroke-linejoin="round" fill="none"/><circle cx="927.7" cy="754.7" r="2.4" fill="rgb(45,240,45)" fill-opacity="0.9"/><circle cx="926.6" cy="750.3" r="2.2" fill="rgb(45,240,45)" fill-opacity="0.9"/><path d="M885.0 761.8 L892.3 761.8 L907.4 760.0" stroke="rgb(45,240,45)" stroke-width="2.6" stroke-linecap="round" stroke-linejoin="round" fill="none"/><circle cx="885.2" cy="761.5" r="2.5" fill="rgb(45,240,45)" fill-opacity="0.9"/><path d="M885.2 761.5 L886.8 764.2" stroke="rgb(45,240,45)" stroke-width="2.0" stroke-linecap="round" stroke-linejoin="round" fill="none"/><circle cx="886.8" cy="764.2" r="2.0" fill="rgb(45,240,45)" fill-opacity="0.9"/><circle cx="885.5" cy="761.6" r="1.9" fill="rgb(45,240,45)" fill-opacity="0.9"/><circle cx="906.1" cy="758.9" r="2.3" fill="rgb(45,240,45)" fill-opacity="0.9"/><circle cx="900.8" cy="761.9" r="2.5" fill="rgb(45,240,45)" fill-opacity="0.9"/><path d="M900.8 761.9 L897.1 764.5" stroke="rgb(45,240,45)" stroke-width="2.0" stroke-linecap="round" stroke-linejoin="round" fill="none"/><circle cx="897.1" cy="764.5" r="1.7" fill="rgb(45,240,45)" fill-opacity="0.9"/><circle cx="900.4" cy="761.7" r="2.6" fill="rgb(45,240,45)" fill-opacity="0.9"/><circle cx="897.2" cy="761.3" r="2.6" fill="rgb(45,240,45)" fill-opacity="0.9"/><path d="M897.2 761.3 L899.5 765.9" stroke="rgb(45,240,45)" stroke-width="2.0" stroke-linecap="round" stroke-linejoin="round" fill="none"/><circle cx="899.5" cy="765.9" r="2.3" fill="rgb(45,240,45)" fill-opacity="0.9"/><circle cx="896.6" cy="762.2" r="2.4" fill="rgb(45,240,45)" fill-opacity="0.9"/><circle cx="906.5" cy="770.3" r="5.0" fill="rgb(45,240,45)" fill-opacity="0.9"/><circle cx="889.0" cy="742.0" r="3.5" fill="rgb(45,240,45)" fill-opacity="0.9"/><circle cx="910.0" cy="774.0" r="4.0" fill="rgb(45,240,45)" fill-opacity="0.9"/><circle cx="883.0" cy="769.0" r="3.5" fill="rgb(45,240,45)" fill-opacity="0.9"/><circle cx="896.0" cy="778.0" r="3.5" fill="rgb(45,240,45)" fill-opacity="0.9"/></g>
<g filter="url(#soft2)"><path d="M892.3 732.6 L888.5 742.0 L880.0 750.0 L877.2 754.3 L879.0 762.0 L881.0 767.5 L887.6 777.0 L892.3 783.5" stroke="rgb(45,240,45)" stroke-width="2.6" stroke-linecap="round" stroke-linejoin="round" fill="none"/><circle cx="891.4" cy="733.9" r="2.7" fill="rgb(45,240,45)" fill-opacity="0.9"/><circle cx="891.5" cy="737.5" r="2.9" fill="rgb(45,240,45)" fill-opacity="0.9"/><circle cx="890.6" cy="738.0" r="1.9" fill="rgb(45,240,45)" fill-opacity="0.9"/><circle cx="886.5" cy="746.3" r="1.3" fill="rgb(45,240,45)" fill-opacity="0.9"/><circle cx="885.4" cy="744.9" r="2.3" fill="rgb(45,240,45)" fill-opacity="0.9"/><circle cx="883.1" cy="749.1" r="1.6" fill="rgb(45,240,45)" fill-opacity="0.9"/><circle cx="879.8" cy="751.8" r="2.8" fill="rgb(45,240,45)" fill-opacity="0.9"/><circle cx="879.7" cy="761.6" r="2.3" fill="rgb(45,240,45)" fill-opacity="0.9"/><circle cx="878.9" cy="760.4" r="2.0" fill="rgb(45,240,45)" fill-opacity="0.9"/><circle cx="880.8" cy="761.9" r="2.8" fill="rgb(45,240,45)" fill-opacity="0.9"/><circle cx="881.8" cy="769.0" r="1.5" fill="rgb(45,240,45)" fill-opacity="0.9"/><circle cx="886.7" cy="774.7" r="2.6" fill="rgb(45,240,45)" fill-opacity="0.9"/><circle cx="887.6" cy="776.5" r="2.2" fill="rgb(45,240,45)" fill-opacity="0.9"/><circle cx="892.9" cy="784.0" r="1.3" fill="rgb(45,240,45)" fill-opacity="0.9"/><circle cx="888.3" cy="777.8" r="2.3" fill="rgb(45,240,45)" fill-opacity="0.9"/><path d="M885.0 772.0 L892.3 773.2 L900.0 772.0 L906.5 770.3 L916.8 775.0 L922.0 772.0" stroke="rgb(45,240,45)" stroke-width="2.6" stroke-linecap="round" stroke-linejoin="round" fill="none"/><circle cx="887.3" cy="772.5" r="1.7" fill="rgb(45,240,45)" fill-opacity="0.9"/><circle cx="885.3" cy="772.2" r="2.3" fill="rgb(45,240,45)" fill-opacity="0.9"/><circle cx="897.7" cy="771.9" r="2.1" fill="rgb(45,240,45)" fill-opacity="0.9"/><path d="M897.7 771.9 L895.0 768.6" stroke="rgb(45,240,45)" stroke-width="2.0" stroke-linecap="round" stroke-linejoin="round" fill="none"/><circle cx="895.0" cy="768.6" r="2.4" fill="rgb(45,240,45)" fill-opacity="0.9"/><circle cx="893.1" cy="774.4" r="1.3" fill="rgb(45,240,45)" fill-opacity="0.9"/><circle cx="905.1" cy="771.0" r="2.2" fill="rgb(45,240,45)" fill-opacity="0.9"/><circle cx="902.5" cy="772.0" r="2.5" fill="rgb(45,240,45)" fill-opacity="0.9"/><circle cx="907.5" cy="769.7" r="2.6" fill="rgb(45,240,45)" fill-opacity="0.9"/><circle cx="914.2" cy="775.0" r="2.0" fill="rgb(45,240,45)" fill-opacity="0.9"/><circle cx="912.8" cy="773.5" r="2.2" fill="rgb(45,240,45)" fill-opacity="0.9"/><circle cx="920.1" cy="773.1" r="1.3" fill="rgb(45,240,45)" fill-opacity="0.9"/><path d="M920.1 773.1 L922.6 770.4" stroke="rgb(45,240,45)" stroke-width="2.0" stroke-linecap="round" stroke-linejoin="round" fill="none"/><circle cx="922.6" cy="770.4" r="2.0" fill="rgb(45,240,45)" fill-opacity="0.9"/><circle cx="917.9" cy="774.3" r="1.4" fill="rgb(45,240,45)" fill-opacity="0.9"/><path d="M892.3 732.6 L903.0 735.0 L910.0 738.0" stroke="rgb(45,240,45)" stroke-width="2.6" stroke-linecap="round" stroke-linejoin="round" fill="none"/><circle cx="903.0" cy="733.3" r="2.9" fill="rgb(45,240,45)" fill-opacity="0.9"/><path d="M903.0 733.3 L898.4 733.8" stroke="rgb(45,240,45)" stroke-width="2.0" stroke-linecap="round" stroke-linejoin="round" fill="none"/><circle cx="898.4" cy="733.8" r="2.4" fill="rgb(45,240,45)" fill-opacity="0.9"/><circle cx="894.8" cy="732.3" r="2.6" fill="rgb(45,240,45)" fill-opacity="0.9"/><circle cx="897.1" cy="734.5" r="2.0" fill="rgb(45,240,45)" fill-opacity="0.9"/><circle cx="907.3" cy="737.6" r="2.4" fill="rgb(45,240,45)" fill-opacity="0.9"/><circle cx="907.6" cy="737.6" r="1.6" fill="rgb(45,240,45)" fill-opacity="0.9"/><path d="M907.0 760.0 L915.9 751.5 L925.3 749.6 L932.0 752.0" stroke="rgb(45,240,45)" stroke-width="2.6" stroke-linecap="round" stroke-linejoin="round" fill="none"/><circle cx="912.6" cy="754.0" r="2.2" fill="rgb(45,240,45)" fill-opacity="0.9"/><circle cx="910.2" cy="759.3" r="2.1" fill="rgb(45,240,45)" fill-opacity="0.9"/><path d="M910.2 759.3 L913.5 758.9" stroke="rgb(45,240,45)" stroke-width="2.0" stroke-linecap="round" stroke-linejoin="round" fill="none"/><circle cx="913.5" cy="758.9" r="2.1" fill="rgb(45,240,45)" fill-opacity="0.9"/><circle cx="913.1" cy="755.7" r="2.3" fill="rgb(45,240,45)" fill-opacity="0.9"/><circle cx="916.7" cy="751.3" r="2.7" fill="rgb(45,240,45)" fill-opacity="0.9"/><circle cx="919.2" cy="749.3" r="2.9" fill="rgb(45,240,45)" fill-opacity="0.9"/><circle cx="922.5" cy="749.1" r="1.6" fill="rgb(45,240,45)" fill-opacity="0.9"/><circle cx="916.7" cy="752.3" r="2.2" fill="rgb(45,240,45)" fill-opacity="0.9"/><path d="M916.7 752.3 L922.1 752.8" stroke="rgb(45,240,45)" stroke-width="2.0" stroke-linecap="round" stroke-linejoin="round" fill="none"/><circle cx="922.1" cy="752.8" r="1.8" fill="rgb(45,240,45)" fill-opacity="0.9"/><circle cx="925.9" cy="750.7" r="1.8" fill="rgb(45,240,45)" fill-opacity="0.9"/><path d="M925.9 750.7 L927.7 754.7" stroke="rgb(45,240,45)" stroke-width="2.0" stroke-linecap="round" stroke-linejoin="round" fill="none"/><circle cx="927.7" cy="754.7" r="2.4" fill="rgb(45,240,45)" fill-opacity="0.9"/><circle cx="926.6" cy="750.3" r="2.2" fill="rgb(45,240,45)" fill-opacity="0.9"/><path d="M885.0 761.8 L892.3 761.8 L907.4 760.0" stroke="rgb(45,240,45)" stroke-width="2.6" stroke-linecap="round" stroke-linejoin="round" fill="none"/><circle cx="885.2" cy="761.5" r="2.5" fill="rgb(45,240,45)" fill-opacity="0.9"/><path d="M885.2 761.5 L886.8 764.2" stroke="rgb(45,240,45)" stroke-width="2.0" stroke-linecap="round" stroke-linejoin="round" fill="none"/><circle cx="886.8" cy="764.2" r="2.0" fill="rgb(45,240,45)" fill-opacity="0.9"/><circle cx="885.5" cy="761.6" r="1.9" fill="rgb(45,240,45)" fill-opacity="0.9"/><circle cx="906.1" cy="758.9" r="2.3" fill="rgb(45,240,45)" fill-opacity="0.9"/><circle cx="900.8" cy="761.9" r="2.5" fill="rgb(45,240,45)" fill-opacity="0.9"/><path d="M900.8 761.9 L897.1 764.5" stroke="rgb(45,240,45)" stroke-width="2.0" stroke-linecap="round" stroke-linejoin="round" fill="none"/><circle cx="897.1" cy="764.5" r="1.7" fill="rgb(45,240,45)" fill-opacity="0.9"/><circle cx="900.4" cy="761.7" r="2.6" fill="rgb(45,240,45)" fill-opacity="0.9"/><circle cx="897.2" cy="761.3" r="2.6" fill="rgb(45,240,45)" fill-opacity="0.9"/><path d="M897.2 761.3 L899.5 765.9" stroke="rgb(45,240,45)" stroke-width="2.0" stroke-linecap="round" stroke-linejoin="round" fill="none"/><circle cx="899.5" cy="765.9" r="2.3" fill="rgb(45,240,45)" fill-opacity="0.9"/><circle cx="896.6" cy="762.2" r="2.4" fill="rgb(45,240,45)" fill-opacity="0.9"/><circle cx="906.5" cy="770.3" r="5.0" fill="rgb(45,240,45)" fill-opacity="0.9"/><circle cx="889.0" cy="742.0" r="3.5" fill="rgb(45,240,45)" fill-opacity="0.9"/><circle cx="910.0" cy="774.0" r="4.0" fill="rgb(45,240,45)" fill-opacity="0.9"/><circle cx="883.0" cy="769.0" r="3.5" fill="rgb(45,240,45)" fill-opacity="0.9"/><circle cx="896.0" cy="778.0" r="3.5" fill="rgb(45,240,45)" fill-opacity="0.9"/></g>
<g filter="url(#glow)" opacity="0.55"><path d="M925.3 749.6 L933.0 743.0 L941.4 735.4" stroke="rgb(28,175,28)" stroke-width="2.4" stroke-linecap="round" stroke-linejoin="round" fill="none"/><circle cx="927.3" cy="748.0" r="2.1" fill="rgb(28,175,28)" fill-opacity="0.9"/><circle cx="930.5" cy="744.2" r="2.1" fill="rgb(28,175,28)" fill-opacity="0.9"/><circle cx="930.5" cy="744.9" r="1.7" fill="rgb(28,175,28)" fill-opacity="0.9"/><circle cx="936.7" cy="740.1" r="2.0" fill="rgb(28,175,28)" fill-opacity="0.9"/><path d="M936.7 740.1 L937.3 745.2" stroke="rgb(28,175,28)" stroke-width="2.0" stroke-linecap="round" stroke-linejoin="round" fill="none"/><circle cx="937.3" cy="745.2" r="2.1" fill="rgb(28,175,28)" fill-opacity="0.9"/><circle cx="938.7" cy="735.8" r="1.8" fill="rgb(28,175,28)" fill-opacity="0.9"/><circle cx="935.4" cy="741.2" r="1.6" fill="rgb(28,175,28)" fill-opacity="0.9"/><path d="M912.0 756.0 L920.0 752.0" stroke="rgb(28,175,28)" stroke-width="2.4" stroke-linecap="round" stroke-linejoin="round" fill="none"/><circle cx="914.2" cy="755.0" r="1.6" fill="rgb(28,175,28)" fill-opacity="0.9"/><circle cx="916.8" cy="753.3" r="1.9" fill="rgb(28,175,28)" fill-opacity="0.9"/><circle cx="941.4" cy="735.4" r="3.0" fill="rgb(28,175,28)" fill-opacity="0.9"/></g>
<g filter="url(#soft2)"><path d="M925.3 749.6 L933.0 743.0 L941.4 735.4" stroke="rgb(28,175,28)" stroke-width="2.4" stroke-linecap="round" stroke-linejoin="round" fill="none"/><circle cx="927.3" cy="748.0" r="2.1" fill="rgb(28,175,28)" fill-opacity="0.9"/><circle cx="930.5" cy="744.2" r="2.1" fill="rgb(28,175,28)" fill-opacity="0.9"/><circle cx="930.5" cy="744.9" r="1.7" fill="rgb(28,175,28)" fill-opacity="0.9"/><circle cx="936.7" cy="740.1" r="2.0" fill="rgb(28,175,28)" fill-opacity="0.9"/><path d="M936.7 740.1 L937.3 745.2" stroke="rgb(28,175,28)" stroke-width="2.0" stroke-linecap="round" stroke-linejoin="round" fill="none"/><circle cx="937.3" cy="745.2" r="2.1" fill="rgb(28,175,28)" fill-opacity="0.9"/><circle cx="938.7" cy="735.8" r="1.8" fill="rgb(28,175,28)" fill-opacity="0.9"/><circle cx="935.4" cy="741.2" r="1.6" fill="rgb(28,175,28)" fill-opacity="0.9"/><path d="M912.0 756.0 L920.0 752.0" stroke="rgb(28,175,28)" stroke-width="2.4" stroke-linecap="round" stroke-linejoin="round" fill="none"/><circle cx="914.2" cy="755.0" r="1.6" fill="rgb(28,175,28)" fill-opacity="0.9"/><circle cx="916.8" cy="753.3" r="1.9" fill="rgb(28,175,28)" fill-opacity="0.9"/><circle cx="941.4" cy="735.4" r="3.0" fill="rgb(28,175,28)" fill-opacity="0.9"/></g>
<g filter="url(#glow)" opacity="0.55"><circle cx="920.9" cy="750.5" r="1.2" fill="rgb(28,175,28)" fill-opacity="0.9"/><circle cx="900.7" cy="783.4" r="1.1" fill="rgb(28,175,28)" fill-opacity="0.9"/><circle cx="899.0" cy="768.1" r="1.1" fill="rgb(28,175,28)" fill-opacity="0.9"/><circle cx="920.9" cy="780.1" r="1.4" fill="rgb(28,175,28)" fill-opacity="0.9"/><circle cx="880.6" cy="784.6" r="1.2" fill="rgb(28,175,28)" fill-opacity="0.9"/><circle cx="906.1" cy="766.7" r="1.2" fill="rgb(28,175,28)" fill-opacity="0.9"/><circle cx="921.7" cy="755.9" r="0.9" fill="rgb(28,175,28)" fill-opacity="0.9"/><circle cx="925.0" cy="755.4" r="1.0" fill="rgb(28,175,28)" fill-opacity="0.9"/><circle cx="898.6" cy="780.9" r="1.1" fill="rgb(28,175,28)" fill-opacity="0.9"/><circle cx="878.6" cy="755.6" r="1.0" fill="rgb(28,175,28)" fill-opacity="0.9"/><circle cx="879.0" cy="780.7" r="1.4" fill="rgb(28,175,28)" fill-opacity="0.9"/><circle cx="884.4" cy="754.7" r="1.6" fill="rgb(28,175,28)" fill-opacity="0.9"/><circle cx="910.9" cy="762.9" r="1.3" fill="rgb(28,175,28)" fill-opacity="0.9"/><circle cx="924.2" cy="754.6" r="1.3" fill="rgb(28,175,28)" fill-opacity="0.9"/></g>
<g filter="url(#soft2)"><circle cx="920.9" cy="750.5" r="1.2" fill="rgb(28,175,28)" fill-opacity="0.9"/><circle cx="900.7" cy="783.4" r="1.1" fill="rgb(28,175,28)" fill-opacity="0.9"/><circle cx="899.0" cy="768.1" r="1.1" fill="rgb(28,175,28)" fill-opacity="0.9"/><circle cx="920.9" cy="780.1" r="1.4" fill="rgb(28,175,28)" fill-opacity="0.9"/><circle cx="880.6" cy="784.6" r="1.2" fill="rgb(28,175,28)" fill-opacity="0.9"/><circle cx="906.1" cy="766.7" r="1.2" fill="rgb(28,175,28)" fill-opacity="0.9"/><circle cx="921.7" cy="755.9" r="0.9" fill="rgb(28,175,28)" fill-opacity="0.9"/><circle cx="925.0" cy="755.4" r="1.0" fill="rgb(28,175,28)" fill-opacity="0.9"/><circle cx="898.6" cy="780.9" r="1.1" fill="rgb(28,175,28)" fill-opacity="0.9"/><circle cx="878.6" cy="755.6" r="1.0" fill="rgb(28,175,28)" fill-opacity="0.9"/><circle cx="879.0" cy="780.7" r="1.4" fill="rgb(28,175,28)" fill-opacity="0.9"/><circle cx="884.4" cy="754.7" r="1.6" fill="rgb(28,175,28)" fill-opacity="0.9"/><circle cx="910.9" cy="762.9" r="1.3" fill="rgb(28,175,28)" fill-opacity="0.9"/><circle cx="924.2" cy="754.6" r="1.3" fill="rgb(28,175,28)" fill-opacity="0.9"/></g>
<text x="874.4" y="726.5" font-size="12.8" font-weight="bold" fill="#fff">SH</text>
<line x1="883.3" y1="731.2" x2="887.1" y2="734.7" stroke="#fff" stroke-width="1.8"/>
<path d="M890.4 737.8L885.0 736.2L888.4 732.6Z" fill="#fff"/>
<g filter="url(#glow)" opacity="0.55"><ellipse cx="713.6" cy="831.6" rx="13.8" ry="12.8" transform="rotate(0 713.6 831.6)" fill="rgb(22,205,22)" fill-opacity="0.88" stroke="rgb(45,240,45)" stroke-width="1.3"/><path d="M729.4 832.6L760.1 818.7" stroke="rgb(28,175,28)" stroke-width="8.0" stroke-linecap="round" fill="none"/><path d="M729.4 832.6L760.1 818.7" stroke="rgb(10,100,10)" stroke-opacity="0.72" stroke-width="5.8" stroke-linecap="round" fill="none"/><path d="M731.4 839.5L748.2 858.3" stroke="rgb(35,215,35)" stroke-width="7.0" stroke-linecap="round" fill="none"/><path d="M731.4 839.5L748.2 858.3" stroke="rgb(16,155,16)" stroke-opacity="0.78" stroke-width="4.8" stroke-linecap="round" fill="none"/><ellipse cx="747.2" cy="857.3" rx="4.0" ry="4.0" transform="rotate(0 747.2 857.3)" fill="rgb(22,205,22)" fill-opacity="0.88" stroke="rgb(45,240,45)" stroke-width="1.3"/><ellipse cx="730.9" cy="840.5" rx="3.0" ry="3.0" transform="rotate(0 730.9 840.5)" fill="rgb(10,100,10)" fill-opacity="0.72" stroke="rgb(28,175,28)" stroke-width="1.3"/></g>
<g filter="url(#soft2)"><ellipse cx="713.6" cy="831.6" rx="13.8" ry="12.8" transform="rotate(0 713.6 831.6)" fill="rgb(22,205,22)" fill-opacity="0.88" stroke="rgb(45,240,45)" stroke-width="1.3"/><path d="M729.4 832.6L760.1 818.7" stroke="rgb(28,175,28)" stroke-width="8.0" stroke-linecap="round" fill="none"/><path d="M729.4 832.6L760.1 818.7" stroke="rgb(10,100,10)" stroke-opacity="0.72" stroke-width="5.8" stroke-linecap="round" fill="none"/><path d="M731.4 839.5L748.2 858.3" stroke="rgb(35,215,35)" stroke-width="7.0" stroke-linecap="round" fill="none"/><path d="M731.4 839.5L748.2 858.3" stroke="rgb(16,155,16)" stroke-opacity="0.78" stroke-width="4.8" stroke-linecap="round" fill="none"/><ellipse cx="747.2" cy="857.3" rx="4.0" ry="4.0" transform="rotate(0 747.2 857.3)" fill="rgb(22,205,22)" fill-opacity="0.88" stroke="rgb(45,240,45)" stroke-width="1.3"/><ellipse cx="730.9" cy="840.5" rx="3.0" ry="3.0" transform="rotate(0 730.9 840.5)" fill="rgb(10,100,10)" fill-opacity="0.72" stroke="rgb(28,175,28)" stroke-width="1.3"/></g>
<ellipse cx="716" cy="812" rx="14" ry="12" fill="rgb(25,100,25)" opacity="0.35" filter="url(#glow)"/>
<text x="755.1" y="840.5" font-size="12.8" font-weight="bold" fill="#fff">IH</text>
<line x1="753.1" y1="839.0" x2="749.3" y2="842.4" stroke="#fff" stroke-width="1.8"/>
<path d="M746.0 845.4L748.0 840.2L751.4 843.9Z" fill="#fff"/>
<text x="689.4" y="864.7" font-size="12.8" font-weight="bold" fill="#fff">SV</text>
<line x1="697.3" y1="852.8" x2="701.9" y2="848.5" stroke="#fff" stroke-width="1.8"/>
<path d="M705.2 845.4L703.3 850.6L699.8 847.0Z" fill="#fff"/>
<g filter="url(#glow)" opacity="0.55"><ellipse cx="828.3" cy="818.7" rx="10.9" ry="10.9" transform="rotate(0 828.3 818.7)" fill="rgb(10,100,10)" fill-opacity="0.72" stroke="rgb(28,175,28)" stroke-width="1.3"/><path d="M826.3 829.6L822.4 841.5" stroke="rgb(28,175,28)" stroke-width="9.0" stroke-linecap="round" fill="none"/><path d="M826.3 829.6L822.4 841.5" stroke="rgb(10,100,10)" stroke-opacity="0.72" stroke-width="6.8" stroke-linecap="round" fill="none"/><path d="M830.3 836.5L851.0 855.3" stroke="rgb(28,175,28)" stroke-width="8.0" stroke-linecap="round" fill="none"/><path d="M830.3 836.5L851.0 855.3" stroke="rgb(10,100,10)" stroke-opacity="0.72" stroke-width="5.8" stroke-linecap="round" fill="none"/><path d="M824.4 843.4L782.0 869.0" stroke="rgb(35,215,35)" stroke-width="10.0" stroke-linecap="round" fill="none"/><path d="M824.4 843.4L782.0 869.0" stroke="rgb(16,155,16)" stroke-opacity="0.78" stroke-width="7.8" stroke-linecap="round" fill="none"/><ellipse cx="782.9" cy="870.1" rx="6.0" ry="5.0" transform="rotate(0 782.9 870.1)" fill="rgb(22,205,22)" fill-opacity="0.88" stroke="rgb(45,240,45)" stroke-width="1.3"/><path d="M786.0 872.0L790.0 876.0" stroke="rgb(35,215,35)" stroke-width="4.0" stroke-linecap="round" fill="none"/><path d="M786.0 872.0L790.0 876.0" stroke="rgb(16,155,16)" stroke-opacity="0.78" stroke-width="1.8" stroke-linecap="round" fill="none"/><ellipse cx="819.4" cy="852.3" rx="5.0" ry="5.0" transform="rotate(0 819.4 852.3)" fill="rgb(16,155,16)" fill-opacity="0.78" stroke="rgb(35,215,35)" stroke-width="1.3"/></g>
<g filter="url(#soft2)"><ellipse cx="828.3" cy="818.7" rx="10.9" ry="10.9" transform="rotate(0 828.3 818.7)" fill="rgb(10,100,10)" fill-opacity="0.72" stroke="rgb(28,175,28)" stroke-width="1.3"/><path d="M826.3 829.6L822.4 841.5" stroke="rgb(28,175,28)" stroke-width="9.0" stroke-linecap="round" fill="none"/><path d="M826.3 829.6L822.4 841.5" stroke="rgb(10,100,10)" stroke-opacity="0.72" stroke-width="6.8" stroke-linecap="round" fill="none"/><path d="M830.3 836.5L851.0 855.3" stroke="rgb(28,175,28)" stroke-width="8.0" stroke-linecap="round" fill="none"/><path d="M830.3 836.5L851.0 855.3" stroke="rgb(10,100,10)" stroke-opacity="0.72" stroke-width="5.8" stroke-linecap="round" fill="none"/><path d="M824.4 843.4L782.0 869.0" stroke="rgb(35,215,35)" stroke-width="10.0" stroke-linecap="round" fill="none"/><path d="M824.4 843.4L782.0 869.0" stroke="rgb(16,155,16)" stroke-opacity="0.78" stroke-width="7.8" stroke-linecap="round" fill="none"/><ellipse cx="782.9" cy="870.1" rx="6.0" ry="5.0" transform="rotate(0 782.9 870.1)" fill="rgb(22,205,22)" fill-opacity="0.88" stroke="rgb(45,240,45)" stroke-width="1.3"/><path d="M786.0 872.0L790.0 876.0" stroke="rgb(35,215,35)" stroke-width="4.0" stroke-linecap="round" fill="none"/><path d="M786.0 872.0L790.0 876.0" stroke="rgb(16,155,16)" stroke-opacity="0.78" stroke-width="1.8" stroke-linecap="round" fill="none"/><ellipse cx="819.4" cy="852.3" rx="5.0" ry="5.0" transform="rotate(0 819.4 852.3)" fill="rgb(16,155,16)" fill-opacity="0.78" stroke="rgb(35,215,35)" stroke-width="1.3"/></g>
<text x="791.8" y="813.8" font-size="12.8" font-weight="bold" fill="#fff">SV</text>
<line x1="806.1" y1="817.3" x2="810.6" y2="821.2" stroke="#fff" stroke-width="1.8"/>
<path d="M814.0 824.2L808.6 822.8L811.9 819.0Z" fill="#fff"/>
<text x="799.2" y="881.0" font-size="12.8" font-weight="bold" fill="#fff">IH</text>
<line x1="801.6" y1="870.1" x2="805.8" y2="865.9" stroke="#fff" stroke-width="1.8"/>
<path d="M809.0 862.7L807.2 868.0L803.7 864.5Z" fill="#fff"/>
<g filter="url(#glow)" opacity="0.55"><path d="M883.8 807.9 L903.5 807.9 L911.4 813.8 L917.4 819.7 L919.3 826.6 L923.3 836.5 L927.2 841.5 L933.2 852.3 L939.1 851.4 L951.0 853.3" stroke="rgb(45,240,45)" stroke-width="3.0" stroke-linecap="round" stroke-linejoin="round" fill="none"/><circle cx="901.7" cy="808.6" r="2.3" fill="rgb(45,240,45)" fill-opacity="0.9"/><circle cx="893.1" cy="806.9" r="3.2" fill="rgb(45,240,45)" fill-opacity="0.9"/><circle cx="886.9" cy="808.3" r="1.5" fill="rgb(45,240,45)" fill-opacity="0.9"/><circle cx="882.7" cy="806.9" r="1.8" fill="rgb(45,240,45)" fill-opacity="0.9"/><circle cx="898.9" cy="809.0" r="3.0" fill="rgb(45,240,45)" fill-opacity="0.9"/><circle cx="902.7" cy="808.4" r="3.0" fill="rgb(45,240,45)" fill-opacity="0.9"/><circle cx="904.7" cy="808.8" r="1.7" fill="rgb(45,240,45)" fill-opacity="0.9"/><path d="M904.7 808.8 L906.7 813.5" stroke="rgb(45,240,45)" stroke-width="2.0" stroke-linecap="round" stroke-linejoin="round" fill="none"/><circle cx="906.7" cy="813.5" r="2.4" fill="rgb(45,240,45)" fill-opacity="0.9"/><circle cx="908.5" cy="810.4" r="1.4" fill="rgb(45,240,45)" fill-opacity="0.9"/><circle cx="907.6" cy="810.0" r="1.6" fill="rgb(45,240,45)" fill-opacity="0.9"/><circle cx="912.5" cy="814.0" r="2.4" fill="rgb(45,240,45)" fill-opacity="0.9"/><circle cx="915.4" cy="817.9" r="1.7" fill="rgb(45,240,45)" fill-opacity="0.9"/><circle cx="920.0" cy="825.4" r="3.1" fill="rgb(45,240,45)" fill-opacity="0.9"/><circle cx="918.4" cy="822.4" r="2.8" fill="rgb(45,240,45)" fill-opacity="0.9"/><circle cx="921.9" cy="830.6" r="2.6" fill="rgb(45,240,45)" fill-opacity="0.9"/><circle cx="923.4" cy="833.4" r="1.5" fill="rgb(45,240,45)" fill-opacity="0.9"/><path d="M923.4 833.4 L920.0 833.0" stroke="rgb(45,240,45)" stroke-width="2.0" stroke-linecap="round" stroke-linejoin="round" fill="none"/><circle cx="920.0" cy="833.0" r="2.3" fill="rgb(45,240,45)" fill-opacity="0.9"/><circle cx="921.7" cy="833.1" r="1.7" fill="rgb(45,240,45)" fill-opacity="0.9"/><circle cx="923.6" cy="837.6" r="1.7" fill="rgb(45,240,45)" fill-opacity="0.9"/><circle cx="926.6" cy="840.6" r="1.9" fill="rgb(45,240,45)" fill-opacity="0.9"/><circle cx="928.5" cy="841.7" r="2.8" fill="rgb(45,240,45)" fill-opacity="0.9"/><circle cx="931.4" cy="850.8" r="2.0" fill="rgb(45,240,45)" fill-opacity="0.9"/><circle cx="928.0" cy="844.4" r="1.6" fill="rgb(45,240,45)" fill-opacity="0.9"/><circle cx="930.9" cy="848.1" r="3.1" fill="rgb(45,240,45)" fill-opacity="0.9"/><circle cx="938.4" cy="851.8" r="2.6" fill="rgb(45,240,45)" fill-opacity="0.9"/><circle cx="949.7" cy="852.3" r="2.6" fill="rgb(45,240,45)" fill-opacity="0.9"/><circle cx="948.9" cy="853.0" r="3.1" fill="rgb(45,240,45)" fill-opacity="0.9"/><path d="M948.9 853.0 L948.1 847.4" stroke="rgb(45,240,45)" stroke-width="2.0" stroke-linecap="round" stroke-linejoin="round" fill="none"/><circle cx="948.1" cy="847.4" r="2.2" fill="rgb(45,240,45)" fill-opacity="0.9"/><circle cx="940.6" cy="850.8" r="2.3" fill="rgb(45,240,45)" fill-opacity="0.9"/><circle cx="942.1" cy="850.8" r="2.0" fill="rgb(45,240,45)" fill-opacity="0.9"/><path d="M942.1 850.8 L940.2 845.7" stroke="rgb(45,240,45)" stroke-width="2.0" stroke-linecap="round" stroke-linejoin="round" fill="none"/><circle cx="940.2" cy="845.7" r="1.6" fill="rgb(45,240,45)" fill-opacity="0.9"/><path d="M917.4 819.7 L905.5 826.6 L896.6 829.6 L887.7 834.5 L875.9 836.5" stroke="rgb(45,240,45)" stroke-width="3.0" stroke-linecap="round" stroke-linejoin="round" fill="none"/><circle cx="912.0" cy="824.2" r="1.9" fill="rgb(45,240,45)" fill-opacity="0.9"/><circle cx="909.3" cy="825.9" r="3.0" fill="rgb(45,240,45)" fill-opacity="0.9"/><circle cx="914.5" cy="820.8" r="2.4" fill="rgb(45,240,45)" fill-opacity="0.9"/><circle cx="915.4" cy="822.3" r="1.4" fill="rgb(45,240,45)" fill-opacity="0.9"/><circle cx="898.9" cy="827.7" r="3.1" fill="rgb(45,240,45)" fill-opacity="0.9"/><circle cx="904.5" cy="826.5" r="2.6" fill="rgb(45,240,45)" fill-opacity="0.9"/><circle cx="904.7" cy="828.1" r="2.3" fill="rgb(45,240,45)" fill-opacity="0.9"/><circle cx="889.5" cy="834.5" r="1.6" fill="rgb(45,240,45)" fill-opacity="0.9"/><circle cx="893.3" cy="831.1" r="2.4" fill="rgb(45,240,45)" fill-opacity="0.9"/><circle cx="893.1" cy="833.1" r="2.6" fill="rgb(45,240,45)" fill-opacity="0.9"/><circle cx="880.2" cy="836.5" r="1.9" fill="rgb(45,240,45)" fill-opacity="0.9"/><circle cx="878.3" cy="837.2" r="2.3" fill="rgb(45,240,45)" fill-opacity="0.9"/><circle cx="883.4" cy="836.1" r="3.1" fill="rgb(45,240,45)" fill-opacity="0.9"/><path d="M901.5 852.3 L899.6 860.2 L903.5 868.1 L904.5 874.1" stroke="rgb(45,240,45)" stroke-width="3.0" stroke-linecap="round" stroke-linejoin="round" fill="none"/><circle cx="900.4" cy="855.4" r="3.0" fill="rgb(45,240,45)" fill-opacity="0.9"/><circle cx="900.6" cy="851.9" r="2.8" fill="rgb(45,240,45)" fill-opacity="0.9"/><circle cx="901.4" cy="860.9" r="3.1" fill="rgb(45,240,45)" fill-opacity="0.9"/><path d="M901.4 860.9 L904.5 862.8" stroke="rgb(45,240,45)" stroke-width="2.0" stroke-linecap="round" stroke-linejoin="round" fill="none"/><circle cx="904.5" cy="862.8" r="1.9" fill="rgb(45,240,45)" fill-opacity="0.9"/><circle cx="901.2" cy="865.8" r="3.1" fill="rgb(45,240,45)" fill-opacity="0.9"/><circle cx="905.6" cy="875.4" r="2.5" fill="rgb(45,240,45)" fill-opacity="0.9"/><path d="M905.6 875.4 L902.7 874.2" stroke="rgb(45,240,45)" stroke-width="2.0" stroke-linecap="round" stroke-linejoin="round" fill="none"/><circle cx="902.7" cy="874.2" r="2.0" fill="rgb(45,240,45)" fill-opacity="0.9"/><circle cx="904.2" cy="874.6" r="3.1" fill="rgb(45,240,45)" fill-opacity="0.9"/><path d="M904.5 874.1 L896.6 873.1" stroke="rgb(45,240,45)" stroke-width="3.0" stroke-linecap="round" stroke-linejoin="round" fill="none"/><circle cx="901.5" cy="872.6" r="2.8" fill="rgb(45,240,45)" fill-opacity="0.9"/><circle cx="901.7" cy="874.8" r="1.5" fill="rgb(45,240,45)" fill-opacity="0.9"/><circle cx="874.9" cy="807.9" r="6.0" fill="rgb(45,240,45)" fill-opacity="0.9"/><circle cx="871.0" cy="806.0" r="4.0" fill="rgb(45,240,45)" fill-opacity="0.9"/><circle cx="878.0" cy="811.0" r="4.0" fill="rgb(45,240,45)" fill-opacity="0.9"/><circle cx="919.3" cy="826.6" r="5.0" fill="rgb(45,240,45)" fill-opacity="0.9"/><circle cx="876.5" cy="837.5" r="5.0" fill="rgb(45,240,45)" fill-opacity="0.9"/><circle cx="872.0" cy="840.0" r="3.5" fill="rgb(45,240,45)" fill-opacity="0.9"/><circle cx="904.5" cy="874.1" r="4.0" fill="rgb(45,240,45)" fill-opacity="0.9"/><circle cx="923.0" cy="833.0" r="4.0" fill="rgb(45,240,45)" fill-opacity="0.9"/></g>
<g filter="url(#soft2)"><path d="M883.8 807.9 L903.5 807.9 L911.4 813.8 L917.4 819.7 L919.3 826.6 L923.3 836.5 L927.2 841.5 L933.2 852.3 L939.1 851.4 L951.0 853.3" stroke="rgb(45,240,45)" stroke-width="3.0" stroke-linecap="round" stroke-linejoin="round" fill="none"/><circle cx="901.7" cy="808.6" r="2.3" fill="rgb(45,240,45)" fill-opacity="0.9"/><circle cx="893.1" cy="806.9" r="3.2" fill="rgb(45,240,45)" fill-opacity="0.9"/><circle cx="886.9" cy="808.3" r="1.5" fill="rgb(45,240,45)" fill-opacity="0.9"/><circle cx="882.7" cy="806.9" r="1.8" fill="rgb(45,240,45)" fill-opacity="0.9"/><circle cx="898.9" cy="809.0" r="3.0" fill="rgb(45,240,45)" fill-opacity="0.9"/><circle cx="902.7" cy="808.4" r="3.0" fill="rgb(45,240,45)" fill-opacity="0.9"/><circle cx="904.7" cy="808.8" r="1.7" fill="rgb(45,240,45)" fill-opacity="0.9"/><path d="M904.7 808.8 L906.7 813.5" stroke="rgb(45,240,45)" stroke-width="2.0" stroke-linecap="round" stroke-linejoin="round" fill="none"/><circle cx="906.7" cy="813.5" r="2.4" fill="rgb(45,240,45)" fill-opacity="0.9"/><circle cx="908.5" cy="810.4" r="1.4" fill="rgb(45,240,45)" fill-opacity="0.9"/><circle cx="907.6" cy="810.0" r="1.6" fill="rgb(45,240,45)" fill-opacity="0.9"/><circle cx="912.5" cy="814.0" r="2.4" fill="rgb(45,240,45)" fill-opacity="0.9"/><circle cx="915.4" cy="817.9" r="1.7" fill="rgb(45,240,45)" fill-opacity="0.9"/><circle cx="920.0" cy="825.4" r="3.1" fill="rgb(45,240,45)" fill-opacity="0.9"/><circle cx="918.4" cy="822.4" r="2.8" fill="rgb(45,240,45)" fill-opacity="0.9"/><circle cx="921.9" cy="830.6" r="2.6" fill="rgb(45,240,45)" fill-opacity="0.9"/><circle cx="923.4" cy="833.4" r="1.5" fill="rgb(45,240,45)" fill-opacity="0.9"/><path d="M923.4 833.4 L920.0 833.0" stroke="rgb(45,240,45)" stroke-width="2.0" stroke-linecap="round" stroke-linejoin="round" fill="none"/><circle cx="920.0" cy="833.0" r="2.3" fill="rgb(45,240,45)" fill-opacity="0.9"/><circle cx="921.7" cy="833.1" r="1.7" fill="rgb(45,240,45)" fill-opacity="0.9"/><circle cx="923.6" cy="837.6" r="1.7" fill="rgb(45,240,45)" fill-opacity="0.9"/><circle cx="926.6" cy="840.6" r="1.9" fill="rgb(45,240,45)" fill-opacity="0.9"/><circle cx="928.5" cy="841.7" r="2.8" fill="rgb(45,240,45)" fill-opacity="0.9"/><circle cx="931.4" cy="850.8" r="2.0" fill="rgb(45,240,45)" fill-opacity="0.9"/><circle cx="928.0" cy="844.4" r="1.6" fill="rgb(45,240,45)" fill-opacity="0.9"/><circle cx="930.9" cy="848.1" r="3.1" fill="rgb(45,240,45)" fill-opacity="0.9"/><circle cx="938.4" cy="851.8" r="2.6" fill="rgb(45,240,45)" fill-opacity="0.9"/><circle cx="949.7" cy="852.3" r="2.6" fill="rgb(45,240,45)" fill-opacity="0.9"/><circle cx="948.9" cy="853.0" r="3.1" fill="rgb(45,240,45)" fill-opacity="0.9"/><path d="M948.9 853.0 L948.1 847.4" stroke="rgb(45,240,45)" stroke-width="2.0" stroke-linecap="round" stroke-linejoin="round" fill="none"/><circle cx="948.1" cy="847.4" r="2.2" fill="rgb(45,240,45)" fill-opacity="0.9"/><circle cx="940.6" cy="850.8" r="2.3" fill="rgb(45,240,45)" fill-opacity="0.9"/><circle cx="942.1" cy="850.8" r="2.0" fill="rgb(45,240,45)" fill-opacity="0.9"/><path d="M942.1 850.8 L940.2 845.7" stroke="rgb(45,240,45)" stroke-width="2.0" stroke-linecap="round" stroke-linejoin="round" fill="none"/><circle cx="940.2" cy="845.7" r="1.6" fill="rgb(45,240,45)" fill-opacity="0.9"/><path d="M917.4 819.7 L905.5 826.6 L896.6 829.6 L887.7 834.5 L875.9 836.5" stroke="rgb(45,240,45)" stroke-width="3.0" stroke-linecap="round" stroke-linejoin="round" fill="none"/><circle cx="912.0" cy="824.2" r="1.9" fill="rgb(45,240,45)" fill-opacity="0.9"/><circle cx="909.3" cy="825.9" r="3.0" fill="rgb(45,240,45)" fill-opacity="0.9"/><circle cx="914.5" cy="820.8" r="2.4" fill="rgb(45,240,45)" fill-opacity="0.9"/><circle cx="915.4" cy="822.3" r="1.4" fill="rgb(45,240,45)" fill-opacity="0.9"/><circle cx="898.9" cy="827.7" r="3.1" fill="rgb(45,240,45)" fill-opacity="0.9"/><circle cx="904.5" cy="826.5" r="2.6" fill="rgb(45,240,45)" fill-opacity="0.9"/><circle cx="904.7" cy="828.1" r="2.3" fill="rgb(45,240,45)" fill-opacity="0.9"/><circle cx="889.5" cy="834.5" r="1.6" fill="rgb(45,240,45)" fill-opacity="0.9"/><circle cx="893.3" cy="831.1" r="2.4" fill="rgb(45,240,45)" fill-opacity="0.9"/><circle cx="893.1" cy="833.1" r="2.6" fill="rgb(45,240,45)" fill-opacity="0.9"/><circle cx="880.2" cy="836.5" r="1.9" fill="rgb(45,240,45)" fill-opacity="0.9"/><circle cx="878.3" cy="837.2" r="2.3" fill="rgb(45,240,45)" fill-opacity="0.9"/><circle cx="883.4" cy="836.1" r="3.1" fill="rgb(45,240,45)" fill-opacity="0.9"/><path d="M901.5 852.3 L899.6 860.2 L903.5 868.1 L904.5 874.1" stroke="rgb(45,240,45)" stroke-width="3.0" stroke-linecap="round" stroke-linejoin="round" fill="none"/><circle cx="900.4" cy="855.4" r="3.0" fill="rgb(45,240,45)" fill-opacity="0.9"/><circle cx="900.6" cy="851.9" r="2.8" fill="rgb(45,240,45)" fill-opacity="0.9"/><circle cx="901.4" cy="860.9" r="3.1" fill="rgb(45,240,45)" fill-opacity="0.9"/><path d="M901.4 860.9 L904.5 862.8" stroke="rgb(45,240,45)" stroke-width="2.0" stroke-linecap="round" stroke-linejoin="round" fill="none"/><circle cx="904.5" cy="862.8" r="1.9" fill="rgb(45,240,45)" fill-opacity="0.9"/><circle cx="901.2" cy="865.8" r="3.1" fill="rgb(45,240,45)" fill-opacity="0.9"/><circle cx="905.6" cy="875.4" r="2.5" fill="rgb(45,240,45)" fill-opacity="0.9"/><path d="M905.6 875.4 L902.7 874.2" stroke="rgb(45,240,45)" stroke-width="2.0" stroke-linecap="round" stroke-linejoin="round" fill="none"/><circle cx="902.7" cy="874.2" r="2.0" fill="rgb(45,240,45)" fill-opacity="0.9"/><circle cx="904.2" cy="874.6" r="3.1" fill="rgb(45,240,45)" fill-opacity="0.9"/><path d="M904.5 874.1 L896.6 873.1" stroke="rgb(45,240,45)" stroke-width="3.0" stroke-linecap="round" stroke-linejoin="round" fill="none"/><circle cx="901.5" cy="872.6" r="2.8" fill="rgb(45,240,45)" fill-opacity="0.9"/><circle cx="901.7" cy="874.8" r="1.5" fill="rgb(45,240,45)" fill-opacity="0.9"/><circle cx="874.9" cy="807.9" r="6.0" fill="rgb(45,240,45)" fill-opacity="0.9"/><circle cx="871.0" cy="806.0" r="4.0" fill="rgb(45,240,45)" fill-opacity="0.9"/><circle cx="878.0" cy="811.0" r="4.0" fill="rgb(45,240,45)" fill-opacity="0.9"/><circle cx="919.3" cy="826.6" r="5.0" fill="rgb(45,240,45)" fill-opacity="0.9"/><circle cx="876.5" cy="837.5" r="5.0" fill="rgb(45,240,45)" fill-opacity="0.9"/><circle cx="872.0" cy="840.0" r="3.5" fill="rgb(45,240,45)" fill-opacity="0.9"/><circle cx="904.5" cy="874.1" r="4.0" fill="rgb(45,240,45)" fill-opacity="0.9"/><circle cx="923.0" cy="833.0" r="4.0" fill="rgb(45,240,45)" fill-opacity="0.9"/></g>
<g filter="url(#glow)" opacity="0.55"><circle cx="906.6" cy="848.7" r="1.2" fill="rgb(35,215,35)" fill-opacity="0.9"/><circle cx="909.9" cy="849.2" r="1.2" fill="rgb(35,215,35)" fill-opacity="0.9"/><circle cx="910.7" cy="846.7" r="1.5" fill="rgb(35,215,35)" fill-opacity="0.9"/><circle cx="886.3" cy="840.0" r="1.6" fill="rgb(35,215,35)" fill-opacity="0.9"/><circle cx="911.1" cy="841.1" r="1.4" fill="rgb(35,215,35)" fill-opacity="0.9"/><circle cx="890.9" cy="842.3" r="1.2" fill="rgb(35,215,35)" fill-opacity="0.9"/><circle cx="893.0" cy="839.7" r="1.2" fill="rgb(35,215,35)" fill-opacity="0.9"/><circle cx="907.6" cy="841.8" r="1.3" fill="rgb(35,215,35)" fill-opacity="0.9"/><circle cx="919.4" cy="838.7" r="1.0" fill="rgb(35,215,35)" fill-opacity="0.9"/><circle cx="888.2" cy="846.1" r="1.1" fill="rgb(35,215,35)" fill-opacity="0.9"/><circle cx="900.4" cy="841.0" r="1.4" fill="rgb(35,215,35)" fill-opacity="0.9"/><circle cx="911.6" cy="843.4" r="1.5" fill="rgb(35,215,35)" fill-opacity="0.9"/><circle cx="893.1" cy="842.1" r="1.6" fill="rgb(35,215,35)" fill-opacity="0.9"/><circle cx="893.0" cy="839.7" r="0.8" fill="rgb(35,215,35)" fill-opacity="0.9"/><path d="M900.4 841.0 L909.9 849.2" stroke="rgb(35,215,35)" stroke-width="1.6" stroke-linecap="round" stroke-linejoin="round" fill="none"/></g>
<g filter="url(#soft2)"><circle cx="906.6" cy="848.7" r="1.2" fill="rgb(35,215,35)" fill-opacity="0.9"/><circle cx="909.9" cy="849.2" r="1.2" fill="rgb(35,215,35)" fill-opacity="0.9"/><circle cx="910.7" cy="846.7" r="1.5" fill="rgb(35,215,35)" fill-opacity="0.9"/><circle cx="886.3" cy="840.0" r="1.6" fill="rgb(35,215,35)" fill-opacity="0.9"/><circle cx="911.1" cy="841.1" r="1.4" fill="rgb(35,215,35)" fill-opacity="0.9"/><circle cx="890.9" cy="842.3" r="1.2" fill="rgb(35,215,35)" fill-opacity="0.9"/><circle cx="893.0" cy="839.7" r="1.2" fill="rgb(35,215,35)" fill-opacity="0.9"/><circle cx="907.6" cy="841.8" r="1.3" fill="rgb(35,215,35)" fill-opacity="0.9"/><circle cx="919.4" cy="838.7" r="1.0" fill="rgb(35,215,35)" fill-opacity="0.9"/><circle cx="888.2" cy="846.1" r="1.1" fill="rgb(35,215,35)" fill-opacity="0.9"/><circle cx="900.4" cy="841.0" r="1.4" fill="rgb(35,215,35)" fill-opacity="0.9"/><circle cx="911.6" cy="843.4" r="1.5" fill="rgb(35,215,35)" fill-opacity="0.9"/><circle cx="893.1" cy="842.1" r="1.6" fill="rgb(35,215,35)" fill-opacity="0.9"/><circle cx="893.0" cy="839.7" r="0.8" fill="rgb(35,215,35)" fill-opacity="0.9"/><path d="M900.4 841.0 L909.9 849.2" stroke="rgb(35,215,35)" stroke-width="1.6" stroke-linecap="round" stroke-linejoin="round" fill="none"/></g>
<text x="868.0" y="865.7" font-size="12.8" font-weight="bold" fill="#fff">SH</text>
<line x1="875.4" y1="852.8" x2="879.6" y2="848.6" stroke="#fff" stroke-width="1.8"/>
<path d="M882.8 845.4L881.0 850.7L877.5 847.2Z" fill="#fff"/>
<text x="738.2" y="785.5" font-size="10" font-weight="bold" fill="#fff">20 µm</text>
<line x1="743.9" y1="790.2" x2="763.0" y2="790.2" stroke="#fff" stroke-width="1.8"/>
<text x="830.0" y="784.5" font-size="10" font-weight="bold" fill="#fff">20 µm</text>
<line x1="832.4" y1="789.5" x2="851.3" y2="789.5" stroke="#fff" stroke-width="1.8"/>
<text x="923.9" y="784.5" font-size="10" font-weight="bold" fill="#fff">50 µm</text>
<line x1="925.8" y1="789.7" x2="944.7" y2="789.7" stroke="#fff" stroke-width="1.8"/>
<text x="739.3" y="876.0" font-size="10" font-weight="bold" fill="#fff">20 µm</text>
<line x1="743.8" y1="881.0" x2="763.0" y2="881.0" stroke="#fff" stroke-width="1.8"/>
<text x="830.3" y="876.0" font-size="10" font-weight="bold" fill="#fff">20 µm</text>
<line x1="832.3" y1="881.5" x2="851.0" y2="881.5" stroke="#fff" stroke-width="1.8"/>
<text x="922.8" y="875.1" font-size="10" font-weight="bold" fill="#fff">50 µm</text>
<line x1="932.2" y1="880.5" x2="951.0" y2="880.5" stroke="#fff" stroke-width="1.8"/>
<text x="656.4" y="110.0" font-size="13.7" font-weight="bold">24 hpi</text>
<text x="654.8" y="217.6" font-size="13.7" font-weight="bold">48 hpi</text>
<text x="650.8" y="324.6" font-size="13.7" font-weight="bold">120 hpi</text>
<text x="720.3" y="47.0" font-size="12.3" font-weight="bold">BSMV: <tspan font-style="italic">γ</tspan></text>
<text x="813.6" y="47.0" font-size="12.3" font-weight="bold">BSMV: <tspan font-style="italic">TaGKL</tspan></text>
<text x="912.2" y="30.5" font-size="12.3" font-weight="bold">BSMV:</text>
<text x="912.2" y="47.0" font-size="12.3" font-weight="bold">TaMADS2+<tspan font-style="italic">TaGKL</tspan></text>
<text x="68.8" y="707.0" font-size="12.8" font-weight="bold">24 hpi</text>
<text x="162.7" y="707.0" font-size="12.8" font-weight="bold">48 hpi</text>
<text x="254.6" y="707.0" font-size="12.8" font-weight="bold">120 hpi</text>
<text x="40.5" y="760.0" font-size="12.8" font-weight="bold" text-anchor="middle" transform="rotate(-90 40.50 760.00)">BSMV: <tspan font-style="italic">γ</tspan></text>
<text x="40.5" y="844.6" font-size="12.8" font-weight="bold" text-anchor="middle" transform="rotate(-90 40.50 844.60)">BSMV: <tspan font-style="italic">TaGKL</tspan></text>
<text x="136.3" y="905.5" font-size="14.3" font-weight="bold"><tspan font-style="italic">TaMADS2</tspan>-OE5</text>
<text x="706.6" y="705.2" font-size="12.8" font-weight="bold">24 hpi</text>
<text x="800.8" y="705.2" font-size="12.8" font-weight="bold">48 hpi</text>
<text x="892.6" y="705.2" font-size="12.8" font-weight="bold">120 hpi</text>
<text x="674.3" y="756.8" font-size="12.9" font-weight="bold" text-anchor="middle" transform="rotate(-90 674.30 756.80)">BSMV: <tspan font-style="italic">γ</tspan></text>
<text x="674.3" y="842.3" font-size="13" font-weight="bold" text-anchor="middle" transform="rotate(-90 674.30 842.30)">BSMV: <tspan font-style="italic">TaGKL</tspan></text>
<text x="765.6" y="900.6" font-size="14.3" font-weight="bold"><tspan font-style="italic">TaMADS2</tspan>-MRi2</text>
<rect x="405.9" y="69.3" width="17.9" height="54.3" fill="#66c8ec"/>
<rect x="431.8" y="107.8" width="17.8" height="15.8" fill="#dc71aa"/>
<line x1="414.9" y1="64.9" x2="414.9" y2="73.1" stroke="#1d6e2c" stroke-width="1.3"/>
<line x1="410.4" y1="64.9" x2="419.4" y2="64.9" stroke="#1d6e2c" stroke-width="1.3"/>
<line x1="410.4" y1="73.1" x2="419.4" y2="73.1" stroke="#1d6e2c" stroke-width="1.3"/>
<line x1="440.7" y1="106.8" x2="440.7" y2="108.9" stroke="#9c1257" stroke-width="1.3"/>
<line x1="436.2" y1="106.8" x2="445.2" y2="106.8" stroke="#9c1257" stroke-width="1.3"/>
<line x1="436.2" y1="108.9" x2="445.2" y2="108.9" stroke="#9c1257" stroke-width="1.3"/>
<line x1="397.2" y1="42.1" x2="397.2" y2="124.8" stroke="#111" stroke-width="2.4"/>
<line x1="396.0" y1="123.6" x2="458.4" y2="123.6" stroke="#111" stroke-width="2.4"/>
<line x1="390.8" y1="123.6" x2="397.2" y2="123.6" stroke="#111" stroke-width="2.0"/>
<text x="390.2" y="126.5" font-size="8.1" font-weight="bold" text-anchor="end">0.0</text>
<line x1="390.8" y1="96.4" x2="397.2" y2="96.4" stroke="#111" stroke-width="2.0"/>
<text x="390.2" y="99.3" font-size="8.1" font-weight="bold" text-anchor="end">0.5</text>
<line x1="390.8" y1="69.3" x2="397.2" y2="69.3" stroke="#111" stroke-width="2.0"/>
<text x="390.2" y="72.2" font-size="8.1" font-weight="bold" text-anchor="end">1.0</text>
<line x1="390.8" y1="42.1" x2="397.2" y2="42.1" stroke="#111" stroke-width="2.0"/>
<text x="390.2" y="45.0" font-size="8.1" font-weight="bold" text-anchor="end">1.5</text>
<line x1="414.9" y1="123.6" x2="414.9" y2="129.8" stroke="#111" stroke-width="2.4"/>
<line x1="440.7" y1="123.6" x2="440.7" y2="129.8" stroke="#111" stroke-width="2.4"/>
<text x="417.9" y="136.1" font-size="7.9" font-weight="bold" text-anchor="end" transform="rotate(-45 417.85 136.10)">BSMV: γ</text>
<text x="444.2" y="136.1" font-size="7.9" font-weight="bold" text-anchor="end" transform="rotate(-45 444.20 136.10)">BSMV: TaGKL</text>
<text x="440.7" y="109.0" font-size="8.1" text-anchor="middle" fill="#2a2a2a">***</text>
<text x="375.2" y="84.7" font-size="7.55" font-weight="bold" text-anchor="middle" transform="rotate(-90 375.20 84.70)">Relative expressive of  <tspan font-style="italic">TaGKL</tspan></text>
<rect x="557.1" y="68.7" width="18.0" height="54.8" fill="#66c8ec"/>
<rect x="583.1" y="102.0" width="17.8" height="21.5" fill="#dc71aa"/>
<line x1="566.1" y1="64.9" x2="566.1" y2="73.5" stroke="#1d6e2c" stroke-width="1.3"/>
<line x1="561.9" y1="64.9" x2="570.4" y2="64.9" stroke="#1d6e2c" stroke-width="1.3"/>
<line x1="561.9" y1="73.5" x2="570.4" y2="73.5" stroke="#1d6e2c" stroke-width="1.3"/>
<line x1="592.0" y1="100.9" x2="592.0" y2="104.2" stroke="#9c1257" stroke-width="1.3"/>
<line x1="587.8" y1="100.9" x2="596.2" y2="100.9" stroke="#9c1257" stroke-width="1.3"/>
<line x1="587.8" y1="104.2" x2="596.2" y2="104.2" stroke="#9c1257" stroke-width="1.3"/>
<line x1="548.8" y1="42.9" x2="548.8" y2="124.7" stroke="#111" stroke-width="2.4"/>
<line x1="547.6" y1="123.5" x2="609.6" y2="123.5" stroke="#111" stroke-width="2.4"/>
<line x1="542.4" y1="123.5" x2="548.8" y2="123.5" stroke="#111" stroke-width="2.0"/>
<text x="541.8" y="126.4" font-size="8.1" font-weight="bold" text-anchor="end">0.0</text>
<line x1="542.4" y1="96.6" x2="548.8" y2="96.6" stroke="#111" stroke-width="2.0"/>
<text x="541.8" y="99.5" font-size="8.1" font-weight="bold" text-anchor="end">0.5</text>
<line x1="542.4" y1="69.8" x2="548.8" y2="69.8" stroke="#111" stroke-width="2.0"/>
<text x="541.8" y="72.7" font-size="8.1" font-weight="bold" text-anchor="end">1.0</text>
<line x1="542.4" y1="42.9" x2="548.8" y2="42.9" stroke="#111" stroke-width="2.0"/>
<text x="541.8" y="45.8" font-size="8.1" font-weight="bold" text-anchor="end">1.5</text>
<line x1="566.1" y1="123.5" x2="566.1" y2="129.7" stroke="#111" stroke-width="2.4"/>
<line x1="592.0" y1="123.5" x2="592.0" y2="129.7" stroke="#111" stroke-width="2.4"/>
<text x="569.1" y="136.0" font-size="7.9" font-weight="bold" text-anchor="end" transform="rotate(-45 569.10 136.00)">BSMV: γ</text>
<text x="595.5" y="136.0" font-size="7.9" font-weight="bold" text-anchor="end" transform="rotate(-45 595.50 136.00)">BSMV: <tspan font-style="italic">TaMADS2+TaGKL</tspan></text>
<text x="592.0" y="102.6" font-size="8.1" text-anchor="middle" fill="#2a2a2a">***</text>
<text x="527.0" y="83.0" font-size="7.5" font-weight="bold" text-anchor="middle" transform="rotate(-90 527.00 83.00)">Relative expressive of  <tspan font-style="italic">TaMADS2</tspan></text>
<rect x="390.2" y="305.2" width="18.7" height="29.0" fill="#66c8ec"/>
<rect x="417.1" y="294.2" width="18.7" height="40.0" fill="#dc71aa"/>
<rect x="444.0" y="267.0" width="19.0" height="67.2" fill="#1dcd8b"/>
<line x1="399.5" y1="304.4" x2="399.5" y2="307.6" stroke="#1d6e2c" stroke-width="1.3"/>
<line x1="395.0" y1="304.4" x2="404.0" y2="304.4" stroke="#1d6e2c" stroke-width="1.3"/>
<line x1="395.0" y1="307.6" x2="404.0" y2="307.6" stroke="#1d6e2c" stroke-width="1.3"/>
<line x1="426.5" y1="292.7" x2="426.5" y2="296.0" stroke="#9c1257" stroke-width="1.3"/>
<line x1="422.0" y1="292.7" x2="431.0" y2="292.7" stroke="#9c1257" stroke-width="1.3"/>
<line x1="422.0" y1="296.0" x2="431.0" y2="296.0" stroke="#9c1257" stroke-width="1.3"/>
<line x1="453.5" y1="263.7" x2="453.5" y2="270.9" stroke="#2c44d6" stroke-width="1.3"/>
<line x1="449.0" y1="263.7" x2="458.0" y2="263.7" stroke="#2c44d6" stroke-width="1.3"/>
<line x1="449.0" y1="270.9" x2="458.0" y2="270.9" stroke="#2c44d6" stroke-width="1.3"/>
<line x1="381.4" y1="252.5" x2="381.4" y2="335.4" stroke="#111" stroke-width="2.4"/>
<line x1="380.2" y1="334.2" x2="472.5" y2="334.2" stroke="#111" stroke-width="2.4"/>
<line x1="375.0" y1="334.2" x2="381.4" y2="334.2" stroke="#111" stroke-width="2.0"/>
<text x="374.4" y="337.1" font-size="8.1" font-weight="bold" text-anchor="end">0</text>
<line x1="375.0" y1="293.4" x2="381.4" y2="293.4" stroke="#111" stroke-width="2.0"/>
<text x="374.4" y="296.3" font-size="8.1" font-weight="bold" text-anchor="end">20</text>
<line x1="375.0" y1="252.5" x2="381.4" y2="252.5" stroke="#111" stroke-width="2.0"/>
<text x="374.4" y="255.4" font-size="8.1" font-weight="bold" text-anchor="end">40</text>
<line x1="399.5" y1="334.2" x2="399.5" y2="340.4" stroke="#111" stroke-width="2.4"/>
<line x1="426.5" y1="334.2" x2="426.5" y2="340.4" stroke="#111" stroke-width="2.4"/>
<line x1="453.5" y1="334.2" x2="453.5" y2="340.4" stroke="#111" stroke-width="2.4"/>
<text x="402.5" y="346.7" font-size="7.9" font-weight="bold" text-anchor="end" transform="rotate(-45 402.55 346.70)">BSMV: γ</text>
<text x="430.0" y="346.7" font-size="7.9" font-weight="bold" text-anchor="end" transform="rotate(-45 429.95 346.70)">BSMV: TaGKL</text>
<text x="457.0" y="345.7" font-size="7.9" font-weight="bold" text-anchor="end" transform="rotate(-45 457.00 345.70)">BSMV: TaMADS2+TaGKL</text>
<text x="426.5" y="293.5" font-size="8.1" text-anchor="middle" fill="#2a2a2a">***</text>
<text x="453.5" y="263.9" font-size="8.1" text-anchor="middle" fill="#2a2a2a">***</text>
<text x="361.5" y="295.3" font-size="7.6" font-weight="bold" text-anchor="middle" transform="rotate(-90 361.50 295.30)">sporulation area/leaf region (%)</text>
<rect x="541.8" y="293.2" width="18.2" height="41.3" fill="#66c8ec"/>
<rect x="568.2" y="287.6" width="18.7" height="46.9" fill="#dc71aa"/>
<rect x="595.1" y="263.5" width="18.7" height="71.0" fill="#1dcd8b"/>
<line x1="550.9" y1="290.0" x2="550.9" y2="297.6" stroke="#1d6e2c" stroke-width="1.3"/>
<line x1="546.5" y1="290.0" x2="555.3" y2="290.0" stroke="#1d6e2c" stroke-width="1.3"/>
<line x1="546.5" y1="297.6" x2="555.3" y2="297.6" stroke="#1d6e2c" stroke-width="1.3"/>
<line x1="577.5" y1="284.4" x2="577.5" y2="291.6" stroke="#9c1257" stroke-width="1.3"/>
<line x1="573.1" y1="284.4" x2="581.9" y2="284.4" stroke="#9c1257" stroke-width="1.3"/>
<line x1="573.1" y1="291.6" x2="581.9" y2="291.6" stroke="#9c1257" stroke-width="1.3"/>
<line x1="604.5" y1="262.7" x2="604.5" y2="265.9" stroke="#2c44d6" stroke-width="1.3"/>
<line x1="600.1" y1="262.7" x2="608.9" y2="262.7" stroke="#2c44d6" stroke-width="1.3"/>
<line x1="600.1" y1="265.9" x2="608.9" y2="265.9" stroke="#2c44d6" stroke-width="1.3"/>
<line x1="533.2" y1="254.3" x2="533.2" y2="335.7" stroke="#111" stroke-width="2.4"/>
<line x1="532.0" y1="334.5" x2="623.1" y2="334.5" stroke="#111" stroke-width="2.4"/>
<line x1="526.8" y1="334.5" x2="533.2" y2="334.5" stroke="#111" stroke-width="2.0"/>
<text x="526.2" y="337.4" font-size="8.1" font-weight="bold" text-anchor="end">0</text>
<line x1="526.8" y1="294.4" x2="533.2" y2="294.4" stroke="#111" stroke-width="2.0"/>
<text x="526.2" y="297.3" font-size="8.1" font-weight="bold" text-anchor="end">1</text>
<line x1="526.8" y1="254.3" x2="533.2" y2="254.3" stroke="#111" stroke-width="2.0"/>
<text x="526.2" y="257.2" font-size="8.1" font-weight="bold" text-anchor="end">2</text>
<line x1="550.9" y1="334.5" x2="550.9" y2="340.7" stroke="#111" stroke-width="2.4"/>
<line x1="577.5" y1="334.5" x2="577.5" y2="340.7" stroke="#111" stroke-width="2.4"/>
<line x1="604.5" y1="334.5" x2="604.5" y2="340.7" stroke="#111" stroke-width="2.4"/>
<text x="553.9" y="347.0" font-size="7.9" font-weight="bold" text-anchor="end" transform="rotate(-45 553.90 347.00)">BSMV: γ</text>
<text x="581.0" y="347.0" font-size="7.9" font-weight="bold" text-anchor="end" transform="rotate(-45 581.05 347.00)">BSMV: <tspan font-style="italic">TaGKL</tspan></text>
<text x="608.0" y="346.0" font-size="7.9" font-weight="bold" text-anchor="end" transform="rotate(-45 607.95 346.00)">BSMV: <tspan font-style="italic">TaMADS2+TaGKL</tspan></text>
<text x="577.5" y="285.3" font-size="8.1" text-anchor="middle" fill="#2a2a2a">***</text>
<text x="604.5" y="261.7" font-size="8.1" text-anchor="middle" fill="#2a2a2a">***</text>
<text x="517.0" y="296.0" font-size="7.3" font-weight="bold" text-anchor="middle" transform="rotate(-90 517.00 296.00)">Fungal DNA/Wheat DNA</text>
<rect x="1122.1" y="86.0" width="19.6" height="37.6" fill="#66c8ec"/>
<rect x="1150.3" y="78.9" width="19.6" height="44.7" fill="#dc71aa"/>
<rect x="1178.9" y="69.1" width="19.0" height="54.5" fill="#1dcd8b"/>
<path d="M1133.5 87.5h1.8M1123.9 85.2h1.8M1123.7 89.5h1.8M1131.1 87.4h1.8M1123.9 83.6h1.8M1124.2 86.0h1.8M1124.8 91.8h1.8M1126.4 84.1h1.8M1132.3 91.9h1.8M1129.3 92.0h1.8M1137.0 85.8h1.8M1127.5 86.9h1.8M1127.8 85.8h1.8M1136.2 85.5h1.8M1133.3 85.0h1.8M1128.9 83.1h1.8M1123.7 87.8h1.8M1126.1 87.0h1.8M1127.9 88.1h1.8M1132.4 89.6h1.8M1135.9 89.2h1.8M1134.3 86.0h1.8M1131.4 86.6h1.8M1137.2 82.7h1.8M1139.0 87.0h1.8M1124.7 89.2h1.8M1125.2 91.2h1.8M1130.8 84.2h1.8M1135.4 82.3h1.8M1132.2 85.6h1.8" stroke="#1d6e2c" stroke-width="1.8" fill="none"/>
<path d="M1162.4 77.8h1.8M1160.8 81.9h1.8M1164.8 83.1h1.8M1166.6 81.6h1.8M1151.9 84.7h1.8M1162.5 79.1h1.8M1164.5 86.2h1.8M1155.6 86.5h1.8M1151.3 83.6h1.8M1158.6 76.6h1.8M1151.9 79.0h1.8M1163.7 78.4h1.8M1157.4 78.1h1.8M1165.4 78.0h1.8M1160.0 76.7h1.8M1165.6 78.1h1.8M1155.5 77.0h1.8M1157.8 85.9h1.8M1166.8 84.2h1.8M1153.4 74.5h1.8M1154.8 78.8h1.8M1159.0 77.7h1.8M1151.0 82.1h1.8M1157.9 81.2h1.8M1166.7 82.8h1.8M1162.4 76.7h1.8M1162.1 84.5h1.8M1151.8 80.3h1.8M1165.4 75.2h1.8M1164.1 83.3h1.8" stroke="#9c1257" stroke-width="1.8" fill="none"/>
<path d="M1181.2 70.3h1.8M1189.6 63.6h1.8M1182.8 64.9h1.8M1182.1 65.9h1.8M1179.5 67.4h1.8M1181.9 65.3h1.8M1179.9 63.0h1.8M1193.5 63.9h1.8M1183.5 68.6h1.8M1185.1 68.3h1.8M1193.1 68.2h1.8M1195.4 64.8h1.8M1180.9 71.9h1.8M1181.1 65.4h1.8M1192.8 68.6h1.8M1182.1 63.5h1.8M1188.0 57.1h1.8M1181.8 64.9h1.8M1187.9 67.6h1.8M1195.2 66.9h1.8M1183.7 61.8h1.8M1185.4 72.1h1.8M1188.0 62.5h1.8M1192.0 59.5h1.8M1192.5 68.2h1.8M1195.3 63.6h1.8M1192.6 61.4h1.8M1191.3 73.4h1.8M1185.2 65.7h1.8M1180.0 60.9h1.8" stroke="#2c44d6" stroke-width="1.8" fill="none"/>
<line x1="1131.9" y1="82.5" x2="1131.9" y2="89.4" stroke="#1d6e2c" stroke-width="1.3"/>
<line x1="1126.9" y1="82.5" x2="1136.9" y2="82.5" stroke="#1d6e2c" stroke-width="1.3"/>
<line x1="1126.9" y1="89.4" x2="1136.9" y2="89.4" stroke="#1d6e2c" stroke-width="1.3"/>
<line x1="1160.1" y1="75.5" x2="1160.1" y2="82.0" stroke="#9c1257" stroke-width="1.3"/>
<line x1="1155.1" y1="75.5" x2="1165.1" y2="75.5" stroke="#9c1257" stroke-width="1.3"/>
<line x1="1155.1" y1="82.0" x2="1165.1" y2="82.0" stroke="#9c1257" stroke-width="1.3"/>
<line x1="1188.4" y1="63.4" x2="1188.4" y2="75.5" stroke="#2c44d6" stroke-width="1.3"/>
<line x1="1183.4" y1="63.4" x2="1193.4" y2="63.4" stroke="#2c44d6" stroke-width="1.3"/>
<line x1="1183.4" y1="75.5" x2="1193.4" y2="75.5" stroke="#2c44d6" stroke-width="1.3"/>
<line x1="1113.0" y1="39.0" x2="1113.0" y2="124.8" stroke="#111" stroke-width="2.4"/>
<line x1="1111.8" y1="123.6" x2="1207.7" y2="123.6" stroke="#111" stroke-width="2.4"/>
<line x1="1106.6" y1="123.6" x2="1113.0" y2="123.6" stroke="#111" stroke-width="2.0"/>
<text x="1106.0" y="126.5" font-size="8.1" font-weight="bold" text-anchor="end">0</text>
<line x1="1106.6" y1="81.3" x2="1113.0" y2="81.3" stroke="#111" stroke-width="2.0"/>
<text x="1106.0" y="84.2" font-size="8.1" font-weight="bold" text-anchor="end">25</text>
<line x1="1106.6" y1="39.0" x2="1113.0" y2="39.0" stroke="#111" stroke-width="2.0"/>
<text x="1106.0" y="41.9" font-size="8.1" font-weight="bold" text-anchor="end">50</text>
<line x1="1131.9" y1="123.6" x2="1131.9" y2="129.8" stroke="#111" stroke-width="2.4"/>
<line x1="1160.1" y1="123.6" x2="1160.1" y2="129.8" stroke="#111" stroke-width="2.4"/>
<line x1="1188.4" y1="123.6" x2="1188.4" y2="129.8" stroke="#111" stroke-width="2.4"/>
<text x="1134.9" y="136.1" font-size="7.3" font-weight="bold" text-anchor="end" transform="rotate(-45 1134.90 136.10)">BSMV: γ</text>
<text x="1163.6" y="136.1" font-size="7.3" font-weight="bold" text-anchor="end" transform="rotate(-45 1163.60 136.10)">BSMV: <tspan font-style="italic">TaGKL</tspan></text>
<text x="1191.9" y="135.1" font-size="7.3" font-weight="bold" text-anchor="end" transform="rotate(-45 1191.90 135.10)">BSMV: <tspan font-style="italic">TaMADS2+TaGKL</tspan></text>
<text x="1160.1" y="73.3" font-size="8.1" text-anchor="middle" fill="#2a2a2a">***</text>
<text x="1188.4" y="56.5" font-size="8.1" text-anchor="middle" fill="#2a2a2a">***</text>
<text x="1093.0" y="82.5" font-size="7.8" font-weight="bold" text-anchor="middle" transform="rotate(-90 1093.00 82.50)">Hyphal length (µm) (24 hpi)</text>
<rect x="1126.0" y="293.1" width="21.5" height="41.4" fill="#66c8ec"/>
<rect x="1157.2" y="289.3" width="21.2" height="45.2" fill="#dc71aa"/>
<rect x="1188.3" y="279.2" width="21.1" height="55.3" fill="#1dcd8b"/>
<path d="M1131.4 294.3h1.8M1139.4 296.7h1.8M1143.9 293.4h1.8M1144.9 298.3h1.8M1130.7 293.9h1.8M1130.8 298.2h1.8M1138.1 296.4h1.8M1143.3 294.9h1.8M1138.7 295.0h1.8M1141.4 300.7h1.8M1143.4 292.6h1.8M1141.1 294.5h1.8M1129.9 297.2h1.8M1141.2 301.3h1.8M1144.6 300.4h1.8M1133.9 291.6h1.8M1140.0 304.3h1.8M1129.7 292.1h1.8M1143.3 295.8h1.8M1141.5 295.7h1.8M1144.7 293.1h1.8M1138.8 291.8h1.8M1129.0 299.9h1.8M1126.9 293.5h1.8M1136.3 292.1h1.8M1143.9 298.2h1.8M1141.9 303.9h1.8M1130.5 294.3h1.8M1131.0 297.2h1.8M1137.4 294.2h1.8" stroke="#1d6e2c" stroke-width="1.8" fill="none"/>
<path d="M1160.2 292.2h1.8M1174.4 286.2h1.8M1168.4 295.4h1.8M1174.3 287.1h1.8M1166.9 302.4h1.8M1167.5 286.1h1.8M1165.8 292.9h1.8M1161.1 292.0h1.8M1160.9 282.2h1.8M1166.4 291.6h1.8M1163.7 292.9h1.8M1167.2 298.6h1.8M1159.7 300.7h1.8M1168.0 295.0h1.8M1171.9 291.8h1.8M1167.0 287.5h1.8M1174.4 300.2h1.8M1165.9 295.3h1.8M1167.1 296.7h1.8M1170.4 296.0h1.8M1166.5 298.2h1.8M1174.9 289.9h1.8M1174.9 295.3h1.8M1162.5 302.3h1.8M1173.1 302.6h1.8M1160.3 296.5h1.8M1159.1 287.6h1.8M1162.2 287.8h1.8M1172.1 284.7h1.8M1174.1 288.3h1.8" stroke="#9c1257" stroke-width="1.8" fill="none"/>
<path d="M1200.9 274.4h1.8M1191.5 272.7h1.8M1192.9 270.0h1.8M1206.1 285.7h1.8M1206.8 282.2h1.8M1204.0 275.3h1.8M1198.2 275.9h1.8M1195.0 274.4h1.8M1202.0 277.0h1.8M1189.3 274.7h1.8M1189.2 282.6h1.8M1194.9 279.8h1.8M1190.1 281.9h1.8M1206.7 281.8h1.8M1190.8 275.5h1.8M1193.7 286.7h1.8M1193.8 271.1h1.8M1191.2 276.4h1.8M1203.7 286.5h1.8M1193.6 273.9h1.8M1199.2 272.6h1.8M1201.6 270.6h1.8M1201.4 277.0h1.8M1196.6 277.5h1.8M1200.4 269.8h1.8M1203.4 273.8h1.8M1190.1 271.0h1.8M1204.5 274.0h1.8M1198.9 282.0h1.8M1205.7 277.1h1.8" stroke="#2c44d6" stroke-width="1.8" fill="none"/>
<line x1="1136.8" y1="290.6" x2="1136.8" y2="301.0" stroke="#1d6e2c" stroke-width="1.3"/>
<line x1="1131.8" y1="290.6" x2="1141.8" y2="290.6" stroke="#1d6e2c" stroke-width="1.3"/>
<line x1="1131.8" y1="301.0" x2="1141.8" y2="301.0" stroke="#1d6e2c" stroke-width="1.3"/>
<line x1="1167.8" y1="284.8" x2="1167.8" y2="297.5" stroke="#9c1257" stroke-width="1.3"/>
<line x1="1162.8" y1="284.8" x2="1172.8" y2="284.8" stroke="#9c1257" stroke-width="1.3"/>
<line x1="1162.8" y1="297.5" x2="1172.8" y2="297.5" stroke="#9c1257" stroke-width="1.3"/>
<line x1="1198.8" y1="273.2" x2="1198.8" y2="284.8" stroke="#2c44d6" stroke-width="1.3"/>
<line x1="1193.8" y1="273.2" x2="1203.8" y2="273.2" stroke="#2c44d6" stroke-width="1.3"/>
<line x1="1193.8" y1="284.8" x2="1203.8" y2="284.8" stroke="#2c44d6" stroke-width="1.3"/>
<line x1="1116.5" y1="242.0" x2="1116.5" y2="335.7" stroke="#111" stroke-width="2.4"/>
<line x1="1115.3" y1="334.5" x2="1220.7" y2="334.5" stroke="#111" stroke-width="2.4"/>
<line x1="1110.1" y1="334.5" x2="1116.5" y2="334.5" stroke="#111" stroke-width="2.0"/>
<text x="1109.5" y="337.4" font-size="8.1" font-weight="bold" text-anchor="end">0</text>
<line x1="1110.1" y1="288.2" x2="1116.5" y2="288.2" stroke="#111" stroke-width="2.0"/>
<text x="1109.5" y="291.2" font-size="8.1" font-weight="bold" text-anchor="end">40</text>
<line x1="1110.1" y1="242.0" x2="1116.5" y2="242.0" stroke="#111" stroke-width="2.0"/>
<text x="1109.5" y="244.9" font-size="8.1" font-weight="bold" text-anchor="end">80</text>
<line x1="1136.8" y1="334.5" x2="1136.8" y2="340.7" stroke="#111" stroke-width="2.4"/>
<line x1="1167.8" y1="334.5" x2="1167.8" y2="340.7" stroke="#111" stroke-width="2.4"/>
<line x1="1198.8" y1="334.5" x2="1198.8" y2="340.7" stroke="#111" stroke-width="2.4"/>
<text x="1139.8" y="347.0" font-size="7.3" font-weight="bold" text-anchor="end" transform="rotate(-45 1139.75 347.00)">BSMV: γ</text>
<text x="1171.3" y="347.0" font-size="7.3" font-weight="bold" text-anchor="end" transform="rotate(-45 1171.30 347.00)">BSMV: <tspan font-style="italic">TaGKL</tspan></text>
<text x="1202.3" y="346.0" font-size="7.3" font-weight="bold" text-anchor="end" transform="rotate(-45 1202.35 346.00)">BSMV: <tspan font-style="italic">TaMADS2+TaGKL</tspan></text>
<text x="1167.8" y="282.1" font-size="8.1" text-anchor="middle" fill="#2a2a2a">***</text>
<text x="1198.8" y="270.1" font-size="8.1" text-anchor="middle" fill="#2a2a2a">***</text>
<text x="1093.7" y="290.2" font-size="8.6" font-weight="bold" text-anchor="middle" transform="rotate(-90 1093.70 290.20)">Hyphal length (µm) (48 hpi)</text>
<rect x="375.6" y="505.7" width="24.2" height="79.9" fill="#66c8ec"/>
<rect x="411.3" y="557.6" width="24.2" height="28.0" fill="#dc71aa"/>
<line x1="387.7" y1="497.7" x2="387.7" y2="512.9" stroke="#1d6e2c" stroke-width="1.3"/>
<line x1="381.7" y1="497.7" x2="393.7" y2="497.7" stroke="#1d6e2c" stroke-width="1.3"/>
<line x1="381.7" y1="512.9" x2="393.7" y2="512.9" stroke="#1d6e2c" stroke-width="1.3"/>
<line x1="423.4" y1="550.5" x2="423.4" y2="564.8" stroke="#9c1257" stroke-width="1.3"/>
<line x1="417.4" y1="550.5" x2="429.4" y2="550.5" stroke="#9c1257" stroke-width="1.3"/>
<line x1="417.4" y1="564.8" x2="429.4" y2="564.8" stroke="#9c1257" stroke-width="1.3"/>
<line x1="364.2" y1="465.8" x2="364.2" y2="586.7" stroke="#111" stroke-width="2.2"/>
<line x1="363.1" y1="585.6" x2="447.5" y2="585.6" stroke="#111" stroke-width="2.2"/>
<line x1="356.3" y1="585.6" x2="364.2" y2="585.6" stroke="#111" stroke-width="1.9"/>
<text x="354.7" y="589.5" font-size="10.9" font-weight="bold" text-anchor="end">0.0</text>
<line x1="356.3" y1="545.7" x2="364.2" y2="545.7" stroke="#111" stroke-width="1.9"/>
<text x="354.7" y="549.6" font-size="10.9" font-weight="bold" text-anchor="end">0.5</text>
<line x1="356.3" y1="505.7" x2="364.2" y2="505.7" stroke="#111" stroke-width="1.9"/>
<text x="354.7" y="509.7" font-size="10.9" font-weight="bold" text-anchor="end">1.0</text>
<line x1="356.3" y1="465.8" x2="364.2" y2="465.8" stroke="#111" stroke-width="1.9"/>
<text x="354.7" y="469.7" font-size="10.9" font-weight="bold" text-anchor="end">1.5</text>
<line x1="387.7" y1="585.6" x2="387.7" y2="593.8" stroke="#111" stroke-width="2.2"/>
<line x1="423.4" y1="585.6" x2="423.4" y2="593.8" stroke="#111" stroke-width="2.2"/>
<text x="390.7" y="603.2" font-size="10" font-weight="bold" text-anchor="end" transform="rotate(-45 390.70 603.20)">BSMV: γ</text>
<text x="428.7" y="604.4" font-size="10" font-weight="bold" text-anchor="end" transform="rotate(-45 428.70 604.40)">BSMV: <tspan font-style="italic">TaGKL</tspan></text>
<text x="423.4" y="552.0" font-size="10.9" text-anchor="middle" fill="#2a2a2a">***</text>
<text x="321.3" y="527.2" font-size="11.1" font-weight="bold" text-anchor="middle" transform="rotate(-90 321.30 527.20)">Relative expressive of <tspan font-style="italic">TaGKL</tspan></text>
<text x="334.5" y="527.2" font-size="11.1" font-weight="bold" text-anchor="middle" transform="rotate(-90 334.50 527.20)"><tspan font-style="italic">TaMADS2</tspan>-OE5</text>
<rect x="536.1" y="506.1" width="23.7" height="79.5" fill="#66c8ec"/>
<rect x="571.2" y="560.9" width="24.3" height="24.7" fill="#dc71aa"/>
<line x1="548.0" y1="504.5" x2="548.0" y2="507.7" stroke="#1d6e2c" stroke-width="1.3"/>
<line x1="542.0" y1="504.5" x2="554.0" y2="504.5" stroke="#1d6e2c" stroke-width="1.3"/>
<line x1="542.0" y1="507.7" x2="554.0" y2="507.7" stroke="#1d6e2c" stroke-width="1.3"/>
<line x1="583.4" y1="560.1" x2="583.4" y2="561.7" stroke="#9c1257" stroke-width="1.3"/>
<line x1="577.4" y1="560.1" x2="589.4" y2="560.1" stroke="#9c1257" stroke-width="1.3"/>
<line x1="577.4" y1="561.7" x2="589.4" y2="561.7" stroke="#9c1257" stroke-width="1.3"/>
<line x1="524.7" y1="466.3" x2="524.7" y2="586.7" stroke="#111" stroke-width="2.2"/>
<line x1="523.6" y1="585.6" x2="607.0" y2="585.6" stroke="#111" stroke-width="2.2"/>
<line x1="516.8" y1="585.6" x2="524.7" y2="585.6" stroke="#111" stroke-width="1.9"/>
<text x="515.2" y="589.5" font-size="10.9" font-weight="bold" text-anchor="end">0.0</text>
<line x1="516.8" y1="545.8" x2="524.7" y2="545.8" stroke="#111" stroke-width="1.9"/>
<text x="515.2" y="549.8" font-size="10.9" font-weight="bold" text-anchor="end">0.5</text>
<line x1="516.8" y1="506.1" x2="524.7" y2="506.1" stroke="#111" stroke-width="1.9"/>
<text x="515.2" y="510.0" font-size="10.9" font-weight="bold" text-anchor="end">1.0</text>
<line x1="516.8" y1="466.3" x2="524.7" y2="466.3" stroke="#111" stroke-width="1.9"/>
<text x="515.2" y="470.2" font-size="10.9" font-weight="bold" text-anchor="end">1.5</text>
<line x1="548.0" y1="585.6" x2="548.0" y2="593.8" stroke="#111" stroke-width="2.2"/>
<line x1="583.4" y1="585.6" x2="583.4" y2="593.8" stroke="#111" stroke-width="2.2"/>
<text x="551.0" y="603.2" font-size="10" font-weight="bold" text-anchor="end" transform="rotate(-45 550.95 603.20)">BSMV: γ</text>
<text x="588.6" y="604.4" font-size="10" font-weight="bold" text-anchor="end" transform="rotate(-45 588.65 604.40)">BSMV: <tspan font-style="italic">TaGKL</tspan></text>
<text x="583.4" y="562.0" font-size="10.9" text-anchor="middle" fill="#2a2a2a">***</text>
<text x="483.0" y="527.5" font-size="11.1" font-weight="bold" text-anchor="middle" transform="rotate(-90 483.00 527.50)">Relative expressive of <tspan font-style="italic">TaGKL</tspan></text>
<text x="494.8" y="527.5" font-size="11.1" font-weight="bold" text-anchor="middle" transform="rotate(-90 494.80 527.50)"><tspan font-style="italic">TaMADS2</tspan>-MRi2</text>
<rect x="697.0" y="540.8" width="25.1" height="44.8" fill="#66c8ec"/>
<rect x="734.1" y="500.6" width="25.1" height="85.0" fill="#dc71aa"/>
<line x1="709.5" y1="537.9" x2="709.5" y2="543.1" stroke="#1d6e2c" stroke-width="1.3"/>
<line x1="703.5" y1="537.9" x2="715.5" y2="537.9" stroke="#1d6e2c" stroke-width="1.3"/>
<line x1="703.5" y1="543.1" x2="715.5" y2="543.1" stroke="#1d6e2c" stroke-width="1.3"/>
<line x1="746.7" y1="497.7" x2="746.7" y2="503.0" stroke="#9c1257" stroke-width="1.3"/>
<line x1="740.7" y1="497.7" x2="752.7" y2="497.7" stroke="#9c1257" stroke-width="1.3"/>
<line x1="740.7" y1="503.0" x2="752.7" y2="503.0" stroke="#9c1257" stroke-width="1.3"/>
<line x1="685.0" y1="469.2" x2="685.0" y2="586.7" stroke="#111" stroke-width="2.2"/>
<line x1="683.9" y1="585.6" x2="772.0" y2="585.6" stroke="#111" stroke-width="2.2"/>
<line x1="677.1" y1="585.6" x2="685.0" y2="585.6" stroke="#111" stroke-width="1.9"/>
<text x="675.5" y="589.5" font-size="10.9" font-weight="bold" text-anchor="end">0</text>
<line x1="677.1" y1="527.4" x2="685.0" y2="527.4" stroke="#111" stroke-width="1.9"/>
<text x="675.5" y="531.3" font-size="10.9" font-weight="bold" text-anchor="end">10</text>
<line x1="677.1" y1="469.2" x2="685.0" y2="469.2" stroke="#111" stroke-width="1.9"/>
<text x="675.5" y="473.1" font-size="10.9" font-weight="bold" text-anchor="end">20</text>
<line x1="709.5" y1="585.6" x2="709.5" y2="593.8" stroke="#111" stroke-width="2.2"/>
<line x1="746.7" y1="585.6" x2="746.7" y2="593.8" stroke="#111" stroke-width="2.2"/>
<text x="712.5" y="603.2" font-size="10" font-weight="bold" text-anchor="end" transform="rotate(-45 712.55 603.20)">BSMV: γ</text>
<text x="752.0" y="604.4" font-size="10" font-weight="bold" text-anchor="end" transform="rotate(-45 751.95 604.40)">BSMV: <tspan font-style="italic">TaGKL</tspan></text>
<text x="746.7" y="496.3" font-size="10.9" text-anchor="middle" fill="#2a2a2a">***</text>
<text x="646.0" y="530.5" font-size="11.1" font-weight="bold" text-anchor="middle" transform="rotate(-90 646.00 530.50)">sporulation area/leaf region (%)</text>
<text x="658.0" y="530.5" font-size="11.1" font-weight="bold" text-anchor="middle" transform="rotate(-90 658.00 530.50)"><tspan font-style="italic">TaMADS2</tspan>-OE5</text>
<rect x="866.3" y="531.3" width="24.2" height="54.3" fill="#66c8ec"/>
<rect x="902.0" y="491.8" width="24.8" height="93.8" fill="#dc71aa"/>
<line x1="878.4" y1="528.7" x2="878.4" y2="533.4" stroke="#1d6e2c" stroke-width="1.3"/>
<line x1="872.4" y1="528.7" x2="884.4" y2="528.7" stroke="#1d6e2c" stroke-width="1.3"/>
<line x1="872.4" y1="533.4" x2="884.4" y2="533.4" stroke="#1d6e2c" stroke-width="1.3"/>
<line x1="914.4" y1="488.2" x2="914.4" y2="494.7" stroke="#9c1257" stroke-width="1.3"/>
<line x1="908.4" y1="488.2" x2="920.4" y2="488.2" stroke="#9c1257" stroke-width="1.3"/>
<line x1="908.4" y1="494.7" x2="920.4" y2="494.7" stroke="#9c1257" stroke-width="1.3"/>
<line x1="854.0" y1="468.3" x2="854.0" y2="586.7" stroke="#111" stroke-width="2.2"/>
<line x1="852.9" y1="585.6" x2="939.0" y2="585.6" stroke="#111" stroke-width="2.2"/>
<line x1="846.1" y1="585.6" x2="854.0" y2="585.6" stroke="#111" stroke-width="1.9"/>
<text x="844.5" y="589.5" font-size="10.9" font-weight="bold" text-anchor="end">0</text>
<line x1="846.1" y1="527.0" x2="854.0" y2="527.0" stroke="#111" stroke-width="1.9"/>
<text x="844.5" y="530.9" font-size="10.9" font-weight="bold" text-anchor="end">20</text>
<line x1="846.1" y1="468.3" x2="854.0" y2="468.3" stroke="#111" stroke-width="1.9"/>
<text x="844.5" y="472.2" font-size="10.9" font-weight="bold" text-anchor="end">40</text>
<line x1="878.4" y1="585.6" x2="878.4" y2="593.8" stroke="#111" stroke-width="2.2"/>
<line x1="914.4" y1="585.6" x2="914.4" y2="593.8" stroke="#111" stroke-width="2.2"/>
<text x="881.4" y="603.2" font-size="10" font-weight="bold" text-anchor="end" transform="rotate(-45 881.40 603.20)">BSMV: γ</text>
<text x="919.7" y="604.4" font-size="10" font-weight="bold" text-anchor="end" transform="rotate(-45 919.70 604.40)">BSMV: <tspan font-style="italic">TaGKL</tspan></text>
<text x="914.4" y="489.0" font-size="10.9" text-anchor="middle" fill="#2a2a2a">***</text>
<text x="816.0" y="530.5" font-size="11.1" font-weight="bold" text-anchor="middle" transform="rotate(-90 816.00 530.50)">sporulation area/leaf region (%)</text>
<text x="828.0" y="530.5" font-size="11.1" font-weight="bold" text-anchor="middle" transform="rotate(-90 828.00 530.50)"><tspan font-style="italic">TaMADS2</tspan>-MRi2</text>
<rect x="1026.1" y="541.7" width="24.3" height="43.9" fill="#66c8ec"/>
<rect x="1061.8" y="504.9" width="24.2" height="80.7" fill="#dc71aa"/>
<line x1="1038.2" y1="538.1" x2="1038.2" y2="545.2" stroke="#1d6e2c" stroke-width="1.3"/>
<line x1="1032.2" y1="538.1" x2="1044.2" y2="538.1" stroke="#1d6e2c" stroke-width="1.3"/>
<line x1="1032.2" y1="545.2" x2="1044.2" y2="545.2" stroke="#1d6e2c" stroke-width="1.3"/>
<line x1="1073.9" y1="502.5" x2="1073.9" y2="507.3" stroke="#9c1257" stroke-width="1.3"/>
<line x1="1067.9" y1="502.5" x2="1079.9" y2="502.5" stroke="#9c1257" stroke-width="1.3"/>
<line x1="1067.9" y1="507.3" x2="1079.9" y2="507.3" stroke="#9c1257" stroke-width="1.3"/>
<line x1="1014.7" y1="466.9" x2="1014.7" y2="586.7" stroke="#111" stroke-width="2.2"/>
<line x1="1013.6" y1="585.6" x2="1098.3" y2="585.6" stroke="#111" stroke-width="2.2"/>
<line x1="1006.8" y1="585.6" x2="1014.7" y2="585.6" stroke="#111" stroke-width="1.9"/>
<text x="1005.2" y="589.5" font-size="10.9" font-weight="bold" text-anchor="end">0.0</text>
<line x1="1006.8" y1="526.2" x2="1014.7" y2="526.2" stroke="#111" stroke-width="1.9"/>
<text x="1005.2" y="530.2" font-size="10.9" font-weight="bold" text-anchor="end">0.5</text>
<line x1="1006.8" y1="466.9" x2="1014.7" y2="466.9" stroke="#111" stroke-width="1.9"/>
<text x="1005.2" y="470.8" font-size="10.9" font-weight="bold" text-anchor="end">1.0</text>
<line x1="1038.2" y1="585.6" x2="1038.2" y2="593.8" stroke="#111" stroke-width="2.2"/>
<line x1="1073.9" y1="585.6" x2="1073.9" y2="593.8" stroke="#111" stroke-width="2.2"/>
<text x="1041.2" y="603.2" font-size="10" font-weight="bold" text-anchor="end" transform="rotate(-45 1041.25 603.20)">BSMV: γ</text>
<text x="1079.2" y="604.4" font-size="10" font-weight="bold" text-anchor="end" transform="rotate(-45 1079.20 604.40)">BSMV: <tspan font-style="italic">TaGKL</tspan></text>
<text x="1073.9" y="502.5" font-size="10.9" text-anchor="middle" fill="#2a2a2a">**</text>
<text x="973.0" y="528.5" font-size="11.1" font-weight="bold" text-anchor="middle" transform="rotate(-90 973.00 528.50)">Fungal DNA/Wheat DNA</text>
<text x="985.0" y="528.5" font-size="11.1" font-weight="bold" text-anchor="middle" transform="rotate(-90 985.00 528.50)"><tspan font-style="italic">TaMADS2</tspan>-OE5</text>
<rect x="1188.8" y="517.1" width="24.9" height="68.2" fill="#66c8ec"/>
<rect x="1225.0" y="484.9" width="25.2" height="100.4" fill="#dc71aa"/>
<line x1="1201.2" y1="515.5" x2="1201.2" y2="518.8" stroke="#1d6e2c" stroke-width="1.3"/>
<line x1="1195.2" y1="515.5" x2="1207.2" y2="515.5" stroke="#1d6e2c" stroke-width="1.3"/>
<line x1="1195.2" y1="518.8" x2="1207.2" y2="518.8" stroke="#1d6e2c" stroke-width="1.3"/>
<line x1="1237.6" y1="480.4" x2="1237.6" y2="487.9" stroke="#9c1257" stroke-width="1.3"/>
<line x1="1231.6" y1="480.4" x2="1243.6" y2="480.4" stroke="#9c1257" stroke-width="1.3"/>
<line x1="1231.6" y1="487.9" x2="1243.6" y2="487.9" stroke="#9c1257" stroke-width="1.3"/>
<line x1="1177.4" y1="466.3" x2="1177.4" y2="586.4" stroke="#111" stroke-width="2.2"/>
<line x1="1176.3" y1="585.3" x2="1263.0" y2="585.3" stroke="#111" stroke-width="2.2"/>
<line x1="1169.5" y1="585.3" x2="1177.4" y2="585.3" stroke="#111" stroke-width="1.9"/>
<text x="1167.9" y="589.2" font-size="10.9" font-weight="bold" text-anchor="end">0.0</text>
<line x1="1169.5" y1="525.8" x2="1177.4" y2="525.8" stroke="#111" stroke-width="1.9"/>
<text x="1167.9" y="529.7" font-size="10.9" font-weight="bold" text-anchor="end">1.1</text>
<line x1="1169.5" y1="466.3" x2="1177.4" y2="466.3" stroke="#111" stroke-width="1.9"/>
<text x="1167.9" y="470.2" font-size="10.9" font-weight="bold" text-anchor="end">2.2</text>
<line x1="1201.2" y1="585.3" x2="1201.2" y2="593.5" stroke="#111" stroke-width="2.2"/>
<line x1="1237.6" y1="585.3" x2="1237.6" y2="593.5" stroke="#111" stroke-width="2.2"/>
<text x="1204.2" y="602.9" font-size="10" font-weight="bold" text-anchor="end" transform="rotate(-45 1204.25 602.90)">BSMV: γ</text>
<text x="1242.9" y="604.1" font-size="10" font-weight="bold" text-anchor="end" transform="rotate(-45 1242.90 604.10)">BSMV: <tspan font-style="italic">TaGKL</tspan></text>
<text x="1237.6" y="479.7" font-size="10.9" text-anchor="middle" fill="#2a2a2a">**</text>
<text x="1134.3" y="528.5" font-size="11.1" font-weight="bold" text-anchor="middle" transform="rotate(-90 1134.30 528.50)">Fungal DNA/Wheat DNA</text>
<text x="1146.3" y="528.5" font-size="11.1" font-weight="bold" text-anchor="middle" transform="rotate(-90 1146.30 528.50)"><tspan font-style="italic">TaMADS2</tspan>-MRi2</text>
<rect x="408.4" y="782.6" width="22.3" height="56.2" fill="#66c8ec"/>
<rect x="441.4" y="766.1" width="22.8" height="72.7" fill="#dc71aa"/>
<path d="M419.2 787.1h1.8M413.6 783.5h1.8M410.0 783.9h1.8M412.9 784.4h1.8M423.7 788.8h1.8M414.6 781.9h1.8M415.7 790.6h1.8M409.4 786.8h1.8M423.1 786.8h1.8M419.6 785.7h1.8M427.0 784.2h1.8M411.1 780.2h1.8M418.6 784.0h1.8M425.1 792.8h1.8M422.3 792.5h1.8M428.0 782.2h1.8M422.6 793.2h1.8M421.3 777.0h1.8M410.0 791.5h1.8M411.5 783.5h1.8M413.9 777.6h1.8M412.2 782.4h1.8M425.8 776.5h1.8M421.9 780.8h1.8M414.7 787.7h1.8M417.9 782.3h1.8M414.1 783.1h1.8M427.6 781.1h1.8M413.7 779.1h1.8M427.6 788.1h1.8M409.0 788.9h1.8M416.4 781.4h1.8M412.9 794.0h1.8M418.7 785.6h1.8M410.7 781.9h1.8M416.7 786.6h1.8M414.9 785.5h1.8M413.5 786.4h1.8M423.5 793.3h1.8M421.7 790.7h1.8" stroke="#1d6e2c" stroke-width="1.8" fill="none"/>
<path d="M449.7 774.6h1.8M448.5 784.3h1.8M456.3 768.4h1.8M454.7 772.2h1.8M459.7 760.6h1.8M454.4 768.7h1.8M444.8 773.1h1.8M452.4 783.2h1.8M457.9 783.7h1.8M458.4 772.2h1.8M455.5 783.2h1.8M455.7 778.5h1.8M444.6 771.7h1.8M449.1 770.4h1.8M453.1 762.6h1.8M454.4 764.7h1.8M451.7 778.5h1.8M442.1 778.6h1.8M452.0 768.9h1.8M452.6 781.7h1.8M456.6 773.1h1.8M447.0 773.8h1.8M456.4 767.6h1.8M446.1 769.7h1.8M451.8 773.0h1.8M449.6 784.3h1.8M457.2 781.2h1.8M454.2 770.7h1.8M444.9 773.5h1.8M447.0 773.9h1.8M453.2 772.1h1.8M442.2 777.2h1.8M455.3 767.4h1.8M455.7 770.1h1.8M452.2 774.2h1.8M451.2 776.5h1.8M459.7 774.9h1.8M445.9 771.3h1.8M442.3 759.5h1.8M451.1 773.9h1.8" stroke="#9c1257" stroke-width="1.8" fill="none"/>
<line x1="419.5" y1="776.0" x2="419.5" y2="790.9" stroke="#1d6e2c" stroke-width="1.3"/>
<line x1="413.5" y1="776.0" x2="425.5" y2="776.0" stroke="#1d6e2c" stroke-width="1.3"/>
<line x1="413.5" y1="790.9" x2="425.5" y2="790.9" stroke="#1d6e2c" stroke-width="1.3"/>
<line x1="452.8" y1="757.9" x2="452.8" y2="774.4" stroke="#9c1257" stroke-width="1.3"/>
<line x1="446.8" y1="757.9" x2="458.8" y2="757.9" stroke="#9c1257" stroke-width="1.3"/>
<line x1="446.8" y1="774.4" x2="458.8" y2="774.4" stroke="#9c1257" stroke-width="1.3"/>
<line x1="397.7" y1="739.7" x2="397.7" y2="840.0" stroke="#111" stroke-width="2.5"/>
<line x1="396.4" y1="838.8" x2="475.4" y2="838.8" stroke="#111" stroke-width="2.5"/>
<line x1="390.2" y1="838.8" x2="397.7" y2="838.8" stroke="#111" stroke-width="2.2"/>
<text x="389.1" y="842.3" font-size="9.6" font-weight="bold" text-anchor="end">0</text>
<line x1="390.2" y1="789.2" x2="397.7" y2="789.2" stroke="#111" stroke-width="2.2"/>
<text x="389.1" y="792.7" font-size="9.6" font-weight="bold" text-anchor="end">15</text>
<line x1="390.2" y1="739.7" x2="397.7" y2="739.7" stroke="#111" stroke-width="2.2"/>
<text x="389.1" y="743.2" font-size="9.6" font-weight="bold" text-anchor="end">30</text>
<line x1="419.5" y1="838.8" x2="419.5" y2="846.2" stroke="#111" stroke-width="2.5"/>
<line x1="452.8" y1="838.8" x2="452.8" y2="846.2" stroke="#111" stroke-width="2.5"/>
<text x="421.6" y="853.2" font-size="9.7" font-weight="bold" text-anchor="end" transform="rotate(-45 421.65 853.20)">BSMV: γ</text>
<text x="459.6" y="854.9" font-size="9.7" font-weight="bold" text-anchor="end" transform="rotate(-45 459.60 854.90)">BSMV: <tspan font-style="italic">TaGKL</tspan></text>
<text x="452.8" y="759.4" font-size="9.6" text-anchor="middle" fill="#2a2a2a">***</text>
<text x="360.8" y="789.3" font-size="9.2" font-weight="bold" text-anchor="middle" transform="rotate(-90 360.80 789.30)">Hyphal length (µm) (24 hpi)</text>
<text x="372.3" y="789.3" font-size="9.2" font-weight="bold" text-anchor="middle" transform="rotate(-90 372.30 789.30)"><tspan font-style="italic">TaMADS2</tspan>-OE5</text>
<rect x="561.2" y="789.5" width="22.8" height="49.3" fill="#66c8ec"/>
<rect x="593.8" y="775.7" width="23.1" height="63.1" fill="#dc71aa"/>
<path d="M570.7 788.2h1.8M567.1 797.4h1.8M566.0 789.7h1.8M573.3 785.6h1.8M580.7 789.2h1.8M564.4 788.7h1.8M579.4 790.0h1.8M575.7 794.7h1.8M571.4 790.7h1.8M562.3 785.6h1.8M570.7 788.0h1.8M567.8 791.4h1.8M568.1 789.8h1.8M578.4 789.4h1.8M578.4 786.5h1.8M564.2 791.4h1.8M579.7 787.3h1.8M567.5 793.6h1.8M581.6 793.5h1.8M573.5 789.3h1.8M567.2 793.5h1.8M562.8 789.1h1.8M567.5 787.0h1.8M580.3 788.1h1.8M571.9 791.5h1.8M565.6 789.1h1.8M579.3 796.6h1.8M577.9 786.2h1.8M580.4 795.9h1.8M572.7 796.3h1.8M576.3 791.7h1.8M570.7 792.4h1.8M567.5 791.4h1.8M562.8 795.7h1.8M571.1 790.1h1.8M568.6 792.2h1.8M581.1 792.9h1.8M567.0 786.8h1.8M572.8 792.9h1.8M569.6 793.6h1.8" stroke="#1d6e2c" stroke-width="1.8" fill="none"/>
<path d="M598.6 775.7h1.8M612.6 774.9h1.8M612.6 779.1h1.8M614.4 776.6h1.8M598.3 778.5h1.8M596.2 776.1h1.8M599.2 777.5h1.8M599.6 775.4h1.8M609.5 783.2h1.8M602.7 779.7h1.8M602.0 780.3h1.8M601.2 774.5h1.8M613.9 774.1h1.8M596.9 775.6h1.8M611.7 781.5h1.8M598.7 776.8h1.8M602.4 777.0h1.8M603.4 774.1h1.8M611.9 770.3h1.8M594.8 778.6h1.8M612.4 771.4h1.8M603.9 775.6h1.8M602.3 776.7h1.8M613.0 776.7h1.8M613.9 773.6h1.8M599.4 782.7h1.8M604.9 775.1h1.8M608.1 775.4h1.8M607.4 771.5h1.8M609.8 778.7h1.8M595.2 780.9h1.8M610.1 775.5h1.8M607.4 775.8h1.8M600.5 769.8h1.8M607.2 774.9h1.8M608.4 774.8h1.8M604.9 775.7h1.8M606.1 775.8h1.8M606.5 778.6h1.8M594.6 775.1h1.8" stroke="#9c1257" stroke-width="1.8" fill="none"/>
<line x1="572.6" y1="787.5" x2="572.6" y2="792.5" stroke="#1d6e2c" stroke-width="1.3"/>
<line x1="566.6" y1="787.5" x2="578.6" y2="787.5" stroke="#1d6e2c" stroke-width="1.3"/>
<line x1="566.6" y1="792.5" x2="578.6" y2="792.5" stroke="#1d6e2c" stroke-width="1.3"/>
<line x1="605.3" y1="771.8" x2="605.3" y2="780.6" stroke="#9c1257" stroke-width="1.3"/>
<line x1="599.3" y1="771.8" x2="611.3" y2="771.8" stroke="#9c1257" stroke-width="1.3"/>
<line x1="599.3" y1="780.6" x2="611.3" y2="780.6" stroke="#9c1257" stroke-width="1.3"/>
<line x1="550.4" y1="740.2" x2="550.4" y2="840.0" stroke="#111" stroke-width="2.5"/>
<line x1="549.1" y1="838.8" x2="627.6" y2="838.8" stroke="#111" stroke-width="2.5"/>
<line x1="542.9" y1="838.8" x2="550.4" y2="838.8" stroke="#111" stroke-width="2.2"/>
<text x="541.8" y="842.3" font-size="9.6" font-weight="bold" text-anchor="end">0</text>
<line x1="542.9" y1="789.5" x2="550.4" y2="789.5" stroke="#111" stroke-width="2.2"/>
<text x="541.8" y="793.0" font-size="9.6" font-weight="bold" text-anchor="end">25</text>
<line x1="542.9" y1="740.2" x2="550.4" y2="740.2" stroke="#111" stroke-width="2.2"/>
<text x="541.8" y="743.7" font-size="9.6" font-weight="bold" text-anchor="end">50</text>
<line x1="572.6" y1="838.8" x2="572.6" y2="846.2" stroke="#111" stroke-width="2.5"/>
<line x1="605.3" y1="838.8" x2="605.3" y2="846.2" stroke="#111" stroke-width="2.5"/>
<text x="574.7" y="853.2" font-size="9.7" font-weight="bold" text-anchor="end" transform="rotate(-45 574.70 853.20)">BSMV: γ</text>
<text x="612.1" y="854.9" font-size="9.7" font-weight="bold" text-anchor="end" transform="rotate(-45 612.15 854.90)">BSMV: <tspan font-style="italic">TaGKL</tspan></text>
<text x="605.3" y="772.0" font-size="9.6" text-anchor="middle" fill="#2a2a2a">***</text>
<text x="514.1" y="789.3" font-size="9.2" font-weight="bold" text-anchor="middle" transform="rotate(-90 514.10 789.30)">Hyphal length (µm) (48 hpi)</text>
<text x="525.6" y="789.3" font-size="9.2" font-weight="bold" text-anchor="middle" transform="rotate(-90 525.60 789.30)"><tspan font-style="italic">TaMADS2</tspan>-OE5</text>
<rect x="1041.8" y="771.0" width="23.2" height="68.3" fill="#66c8ec"/>
<rect x="1074.8" y="760.1" width="23.3" height="79.2" fill="#dc71aa"/>
<path d="M1061.8 774.1h1.8M1055.4 768.2h1.8M1047.1 769.1h1.8M1047.4 775.8h1.8M1048.6 766.3h1.8M1042.8 774.2h1.8M1050.9 778.9h1.8M1047.6 772.6h1.8M1047.0 777.3h1.8M1043.1 780.9h1.8M1056.2 774.9h1.8M1046.4 768.9h1.8M1052.6 770.6h1.8M1046.5 779.2h1.8M1059.0 769.1h1.8M1047.1 773.3h1.8M1048.4 771.4h1.8M1061.6 765.7h1.8M1046.9 775.3h1.8M1050.8 772.6h1.8M1045.4 777.8h1.8M1050.3 781.0h1.8M1045.3 770.0h1.8M1043.4 764.3h1.8M1060.5 768.8h1.8M1060.2 771.1h1.8M1061.2 774.2h1.8M1049.1 781.0h1.8M1057.5 768.8h1.8M1043.0 764.3h1.8M1050.0 774.7h1.8M1049.1 776.1h1.8M1048.1 772.5h1.8M1049.5 772.4h1.8M1061.9 770.6h1.8M1046.6 773.2h1.8M1059.0 777.4h1.8M1051.1 766.6h1.8M1049.9 768.1h1.8M1061.0 771.2h1.8" stroke="#1d6e2c" stroke-width="1.8" fill="none"/>
<path d="M1093.6 758.9h1.8M1076.0 756.8h1.8M1091.0 765.9h1.8M1076.2 756.5h1.8M1094.1 758.8h1.8M1080.6 759.8h1.8M1082.3 760.3h1.8M1080.9 767.6h1.8M1080.7 755.1h1.8M1089.9 761.5h1.8M1075.5 761.4h1.8M1090.7 757.4h1.8M1094.5 755.5h1.8M1075.9 762.8h1.8M1094.8 759.7h1.8M1094.8 755.9h1.8M1084.1 762.3h1.8M1085.4 758.3h1.8M1091.7 758.0h1.8M1090.4 761.2h1.8M1087.7 757.3h1.8M1082.1 765.9h1.8M1091.3 761.6h1.8M1077.0 756.9h1.8M1080.4 758.1h1.8M1076.7 754.2h1.8M1082.0 755.5h1.8M1095.3 759.1h1.8M1080.8 752.6h1.8M1077.1 767.6h1.8M1089.8 756.5h1.8M1084.5 757.6h1.8M1088.0 759.7h1.8M1089.1 756.3h1.8M1088.9 760.2h1.8M1077.9 767.4h1.8M1086.9 758.4h1.8M1083.0 762.8h1.8M1080.4 760.3h1.8M1080.4 762.6h1.8" stroke="#9c1257" stroke-width="1.8" fill="none"/>
<line x1="1053.4" y1="766.0" x2="1053.4" y2="777.6" stroke="#1d6e2c" stroke-width="1.3"/>
<line x1="1047.4" y1="766.0" x2="1059.4" y2="766.0" stroke="#1d6e2c" stroke-width="1.3"/>
<line x1="1047.4" y1="777.6" x2="1059.4" y2="777.6" stroke="#1d6e2c" stroke-width="1.3"/>
<line x1="1086.4" y1="756.0" x2="1086.4" y2="764.3" stroke="#9c1257" stroke-width="1.3"/>
<line x1="1080.4" y1="756.0" x2="1092.4" y2="756.0" stroke="#9c1257" stroke-width="1.3"/>
<line x1="1080.4" y1="764.3" x2="1092.4" y2="764.3" stroke="#9c1257" stroke-width="1.3"/>
<line x1="1030.7" y1="739.3" x2="1030.7" y2="840.5" stroke="#111" stroke-width="2.5"/>
<line x1="1029.5" y1="839.3" x2="1109.5" y2="839.3" stroke="#111" stroke-width="2.5"/>
<line x1="1023.2" y1="839.3" x2="1030.7" y2="839.3" stroke="#111" stroke-width="2.2"/>
<text x="1022.1" y="842.8" font-size="9.6" font-weight="bold" text-anchor="end">0</text>
<line x1="1023.2" y1="789.3" x2="1030.7" y2="789.3" stroke="#111" stroke-width="2.2"/>
<text x="1022.1" y="792.8" font-size="9.6" font-weight="bold" text-anchor="end">30</text>
<line x1="1023.2" y1="739.3" x2="1030.7" y2="739.3" stroke="#111" stroke-width="2.2"/>
<text x="1022.1" y="742.8" font-size="9.6" font-weight="bold" text-anchor="end">60</text>
<line x1="1053.4" y1="839.3" x2="1053.4" y2="846.7" stroke="#111" stroke-width="2.5"/>
<line x1="1086.4" y1="839.3" x2="1086.4" y2="846.7" stroke="#111" stroke-width="2.5"/>
<text x="1055.5" y="853.7" font-size="9.7" font-weight="bold" text-anchor="end" transform="rotate(-45 1055.50 853.70)">BSMV: γ</text>
<text x="1093.2" y="855.4" font-size="9.7" font-weight="bold" text-anchor="end" transform="rotate(-45 1093.25 855.40)">BSMV: <tspan font-style="italic">TaGKL</tspan></text>
<text x="1086.4" y="753.0" font-size="9.6" text-anchor="middle" fill="#2a2a2a">***</text>
<text x="994.3" y="789.6" font-size="9.2" font-weight="bold" text-anchor="middle" transform="rotate(-90 994.30 789.60)">Hyphal length (µm) (48 hpi)</text>
<text x="1005.4" y="789.6" font-size="9.2" font-weight="bold" text-anchor="middle" transform="rotate(-90 1005.40 789.60)"><tspan font-style="italic">TaMADS2</tspan>-MRi2</text>
<rect x="1197.8" y="788.7" width="22.8" height="49.3" fill="#66c8ec"/>
<rect x="1230.9" y="773.6" width="22.7" height="64.4" fill="#dc71aa"/>
<path d="M1209.8 781.3h1.8M1204.9 779.0h1.8M1208.4 795.7h1.8M1203.0 778.1h1.8M1218.0 784.3h1.8M1200.4 792.8h1.8M1215.0 795.0h1.8M1216.5 785.4h1.8M1200.8 783.0h1.8M1202.2 785.7h1.8M1216.8 780.8h1.8M1205.8 787.7h1.8M1203.5 783.4h1.8M1213.8 790.4h1.8M1210.2 784.7h1.8M1210.7 787.4h1.8M1201.2 785.8h1.8M1202.4 782.4h1.8M1211.3 786.9h1.8M1202.4 780.6h1.8M1211.8 782.7h1.8M1202.1 786.4h1.8M1214.1 787.9h1.8M1209.3 783.9h1.8M1206.2 784.8h1.8M1209.3 785.9h1.8M1201.6 788.0h1.8M1212.2 788.2h1.8M1204.5 789.8h1.8M1217.3 784.7h1.8M1205.5 788.9h1.8M1206.6 781.3h1.8M1205.6 777.6h1.8M1202.3 795.7h1.8M1198.5 787.1h1.8M1216.3 789.7h1.8M1206.4 794.1h1.8M1215.9 782.8h1.8M1198.7 789.3h1.8M1209.3 786.0h1.8" stroke="#1d6e2c" stroke-width="1.8" fill="none"/>
<path d="M1233.3 788.0h1.8M1243.8 789.9h1.8M1234.4 784.6h1.8M1237.1 774.5h1.8M1233.6 791.7h1.8M1241.2 781.5h1.8M1235.4 774.3h1.8M1234.0 791.7h1.8M1241.0 767.6h1.8M1232.6 785.4h1.8M1249.3 774.3h1.8M1243.7 782.3h1.8M1247.0 778.0h1.8M1235.9 782.8h1.8M1247.8 789.3h1.8M1235.1 773.1h1.8M1241.7 778.4h1.8M1239.1 773.7h1.8M1245.8 776.4h1.8M1249.2 776.5h1.8M1246.4 772.1h1.8M1232.3 777.7h1.8M1243.3 778.1h1.8M1242.3 782.2h1.8M1239.8 783.3h1.8M1243.0 783.3h1.8M1240.3 787.6h1.8M1240.1 775.7h1.8M1241.1 771.4h1.8M1236.1 778.4h1.8M1240.5 778.8h1.8M1235.0 790.1h1.8M1234.0 782.5h1.8M1240.0 779.2h1.8M1241.6 774.2h1.8M1232.3 776.1h1.8M1245.9 781.3h1.8M1246.8 781.5h1.8M1241.4 781.7h1.8M1238.9 779.8h1.8" stroke="#9c1257" stroke-width="1.8" fill="none"/>
<line x1="1209.2" y1="783.7" x2="1209.2" y2="793.7" stroke="#1d6e2c" stroke-width="1.3"/>
<line x1="1203.2" y1="783.7" x2="1215.2" y2="783.7" stroke="#1d6e2c" stroke-width="1.3"/>
<line x1="1203.2" y1="793.7" x2="1215.2" y2="793.7" stroke="#1d6e2c" stroke-width="1.3"/>
<line x1="1242.2" y1="767.6" x2="1242.2" y2="781.7" stroke="#9c1257" stroke-width="1.3"/>
<line x1="1236.2" y1="767.6" x2="1248.2" y2="767.6" stroke="#9c1257" stroke-width="1.3"/>
<line x1="1236.2" y1="781.7" x2="1248.2" y2="781.7" stroke="#9c1257" stroke-width="1.3"/>
<line x1="1187.2" y1="737.4" x2="1187.2" y2="839.2" stroke="#111" stroke-width="2.5"/>
<line x1="1186.0" y1="838.0" x2="1264.7" y2="838.0" stroke="#111" stroke-width="2.5"/>
<line x1="1179.7" y1="838.0" x2="1187.2" y2="838.0" stroke="#111" stroke-width="2.2"/>
<text x="1178.6" y="841.5" font-size="9.6" font-weight="bold" text-anchor="end">0</text>
<line x1="1179.7" y1="787.7" x2="1187.2" y2="787.7" stroke="#111" stroke-width="2.2"/>
<text x="1178.6" y="791.2" font-size="9.6" font-weight="bold" text-anchor="end">25</text>
<line x1="1179.7" y1="737.4" x2="1187.2" y2="737.4" stroke="#111" stroke-width="2.2"/>
<text x="1178.6" y="740.9" font-size="9.6" font-weight="bold" text-anchor="end">50</text>
<line x1="1209.2" y1="838.0" x2="1209.2" y2="845.4" stroke="#111" stroke-width="2.5"/>
<line x1="1242.2" y1="838.0" x2="1242.2" y2="845.4" stroke="#111" stroke-width="2.5"/>
<text x="1211.3" y="852.4" font-size="9.7" font-weight="bold" text-anchor="end" transform="rotate(-45 1211.30 852.40)">BSMV: γ</text>
<text x="1249.0" y="854.1" font-size="9.7" font-weight="bold" text-anchor="end" transform="rotate(-45 1249.05 854.10)">BSMV: <tspan font-style="italic">TaGKL</tspan></text>
<text x="1242.2" y="768.5" font-size="9.6" text-anchor="middle" fill="#2a2a2a">***</text>
<text x="1151.1" y="787.7" font-size="9.2" font-weight="bold" text-anchor="middle" transform="rotate(-90 1151.10 787.70)">Hyphal length (um) (24hpi)</text>
<text x="1162.3" y="787.7" font-size="9.2" font-weight="bold" text-anchor="middle" transform="rotate(-90 1162.30 787.70)"><tspan font-style="italic">TaMADS2</tspan>-MRi2</text>
<rect x="1230.9" y="767" width="22.7" height="7.5" fill="#f4dbe8"/>
<path d="M1240.3 768.8h1.6M1235.7 769.1h1.6M1247.6 769.1h1.6M1239.9 771.9h1.6M1243.0 773.6h1.6M1242.0 770.2h1.6M1244.6 768.9h1.6M1250.5 769.9h1.6M1240.0 771.9h1.6M1235.1 771.8h1.6M1249.4 769.7h1.6M1251.4 770.9h1.6M1247.9 770.5h1.6M1240.3 769.3h1.6M1232.2 768.8h1.6M1252.3 771.0h1.6M1241.5 773.4h1.6M1244.4 773.8h1.6M1239.3 768.9h1.6M1250.9 768.5h1.6M1248.2 771.4h1.6M1252.1 773.6h1.6M1245.5 767.7h1.6M1232.5 770.6h1.6M1248.8 768.0h1.6M1240.7 768.1h1.6" stroke="#b0306e" stroke-width="1.6" fill="none"/>
</svg>
</body></html>
